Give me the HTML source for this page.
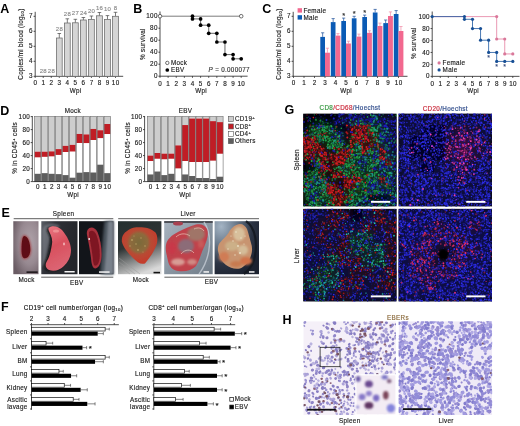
<!DOCTYPE html>
<html><head><meta charset="utf-8"><style>
html,body{margin:0;padding:0;background:#fff;}
svg{display:block;}
body{-webkit-font-smoothing:antialiased;}
.nolcd{will-change:transform;}
text{font-family:"Liberation Sans", sans-serif;}
</style></head><body>
<svg class="nolcd" width="520" height="426" viewBox="0 0 520 426" font-family='"Liberation Sans", sans-serif'>
<rect width="520" height="426" fill="#fff"/>
<text x="0.30" y="13.20" font-size="12.5" text-anchor="start" fill="#000" font-weight="bold">A</text>
<line x1="35.20" y1="11.80" x2="35.20" y2="76.30" stroke="#222" stroke-width="0.8"/>
<line x1="35.20" y1="76.30" x2="123.20" y2="76.30" stroke="#222" stroke-width="0.8"/>
<line x1="33.60" y1="76.30" x2="35.20" y2="76.30" stroke="#222" stroke-width="0.8"/>
<text x="32.90" y="78.40" font-size="6.3" text-anchor="end" fill="#222" font-weight="normal" stroke="#222" stroke-width="0.15" letter-spacing="0.3">3</text>
<line x1="33.60" y1="61.30" x2="35.20" y2="61.30" stroke="#222" stroke-width="0.8"/>
<text x="32.90" y="63.40" font-size="6.3" text-anchor="end" fill="#222" font-weight="normal" stroke="#222" stroke-width="0.15" letter-spacing="0.3">4</text>
<line x1="33.60" y1="46.30" x2="35.20" y2="46.30" stroke="#222" stroke-width="0.8"/>
<text x="32.90" y="48.40" font-size="6.3" text-anchor="end" fill="#222" font-weight="normal" stroke="#222" stroke-width="0.15" letter-spacing="0.3">5</text>
<line x1="33.60" y1="31.30" x2="35.20" y2="31.30" stroke="#222" stroke-width="0.8"/>
<text x="32.90" y="33.40" font-size="6.3" text-anchor="end" fill="#222" font-weight="normal" stroke="#222" stroke-width="0.15" letter-spacing="0.3">6</text>
<line x1="33.60" y1="16.30" x2="35.20" y2="16.30" stroke="#222" stroke-width="0.8"/>
<text x="32.90" y="18.40" font-size="6.3" text-anchor="end" fill="#222" font-weight="normal" stroke="#222" stroke-width="0.15" letter-spacing="0.3">7</text>
<line x1="35.20" y1="76.30" x2="35.20" y2="77.90" stroke="#222" stroke-width="0.8"/>
<text x="35.35" y="85.40" font-size="6.3" text-anchor="middle" fill="#222" font-weight="normal" stroke="#222" stroke-width="0.15" letter-spacing="0.3">0</text>
<line x1="43.23" y1="76.30" x2="43.23" y2="77.90" stroke="#222" stroke-width="0.8"/>
<text x="43.38" y="85.40" font-size="6.3" text-anchor="middle" fill="#222" font-weight="normal" stroke="#222" stroke-width="0.15" letter-spacing="0.3">1</text>
<line x1="51.26" y1="76.30" x2="51.26" y2="77.90" stroke="#222" stroke-width="0.8"/>
<text x="51.41" y="85.40" font-size="6.3" text-anchor="middle" fill="#222" font-weight="normal" stroke="#222" stroke-width="0.15" letter-spacing="0.3">2</text>
<line x1="59.29" y1="76.30" x2="59.29" y2="77.90" stroke="#222" stroke-width="0.8"/>
<text x="59.44" y="85.40" font-size="6.3" text-anchor="middle" fill="#222" font-weight="normal" stroke="#222" stroke-width="0.15" letter-spacing="0.3">3</text>
<line x1="67.32" y1="76.30" x2="67.32" y2="77.90" stroke="#222" stroke-width="0.8"/>
<text x="67.47" y="85.40" font-size="6.3" text-anchor="middle" fill="#222" font-weight="normal" stroke="#222" stroke-width="0.15" letter-spacing="0.3">4</text>
<line x1="75.35" y1="76.30" x2="75.35" y2="77.90" stroke="#222" stroke-width="0.8"/>
<text x="75.50" y="85.40" font-size="6.3" text-anchor="middle" fill="#222" font-weight="normal" stroke="#222" stroke-width="0.15" letter-spacing="0.3">5</text>
<line x1="83.38" y1="76.30" x2="83.38" y2="77.90" stroke="#222" stroke-width="0.8"/>
<text x="83.53" y="85.40" font-size="6.3" text-anchor="middle" fill="#222" font-weight="normal" stroke="#222" stroke-width="0.15" letter-spacing="0.3">6</text>
<line x1="91.41" y1="76.30" x2="91.41" y2="77.90" stroke="#222" stroke-width="0.8"/>
<text x="91.56" y="85.40" font-size="6.3" text-anchor="middle" fill="#222" font-weight="normal" stroke="#222" stroke-width="0.15" letter-spacing="0.3">7</text>
<line x1="99.44" y1="76.30" x2="99.44" y2="77.90" stroke="#222" stroke-width="0.8"/>
<text x="99.59" y="85.40" font-size="6.3" text-anchor="middle" fill="#222" font-weight="normal" stroke="#222" stroke-width="0.15" letter-spacing="0.3">8</text>
<line x1="107.47" y1="76.30" x2="107.47" y2="77.90" stroke="#222" stroke-width="0.8"/>
<text x="107.62" y="85.40" font-size="6.3" text-anchor="middle" fill="#222" font-weight="normal" stroke="#222" stroke-width="0.15" letter-spacing="0.3">9</text>
<line x1="115.50" y1="76.30" x2="115.50" y2="77.90" stroke="#222" stroke-width="0.8"/>
<text x="115.65" y="85.40" font-size="6.3" text-anchor="middle" fill="#222" font-weight="normal" stroke="#222" stroke-width="0.15" letter-spacing="0.3">10</text>
<text x="75.55" y="92.60" font-size="6.3" text-anchor="middle" fill="#222" font-weight="normal" stroke="#222" stroke-width="0.15" letter-spacing="0.3">Wpi</text>
<text x="23.20" y="44.05" font-size="6.3" text-anchor="middle" fill="#222" font-weight="normal" stroke="#222" stroke-width="0.15" letter-spacing="0.3" transform="rotate(-90 23.20 44.05)">Copies/ml blood (log<tspan font-size="4.3" dy="1">10</tspan><tspan dy="-1">)</tspan></text>
<line x1="59.29" y1="38.00" x2="59.29" y2="33.50" stroke="#444" stroke-width="0.7"/>
<line x1="57.49" y1="33.50" x2="61.09" y2="33.50" stroke="#444" stroke-width="0.7"/>
<rect x="56.39" y="38.00" width="5.80" height="38.30" fill="#d5d5d5" stroke="#6a6a6a" stroke-width="0.75"/>
<text x="59.44" y="31.10" font-size="6.0" text-anchor="middle" fill="#8c8c8c" font-weight="normal" stroke="#8c8c8c" stroke-width="0.15" letter-spacing="0.3">28</text>
<line x1="67.32" y1="23.00" x2="67.32" y2="18.80" stroke="#444" stroke-width="0.7"/>
<line x1="65.52" y1="18.80" x2="69.12" y2="18.80" stroke="#444" stroke-width="0.7"/>
<rect x="64.42" y="23.00" width="5.80" height="53.30" fill="#d5d5d5" stroke="#6a6a6a" stroke-width="0.75"/>
<text x="67.47" y="16.10" font-size="6.0" text-anchor="middle" fill="#8c8c8c" font-weight="normal" stroke="#8c8c8c" stroke-width="0.15" letter-spacing="0.3">28</text>
<line x1="75.35" y1="22.80" x2="75.35" y2="19.30" stroke="#444" stroke-width="0.7"/>
<line x1="73.55" y1="19.30" x2="77.15" y2="19.30" stroke="#444" stroke-width="0.7"/>
<rect x="72.45" y="22.80" width="5.80" height="53.50" fill="#d5d5d5" stroke="#6a6a6a" stroke-width="0.75"/>
<text x="75.50" y="15.10" font-size="6.0" text-anchor="middle" fill="#8c8c8c" font-weight="normal" stroke="#8c8c8c" stroke-width="0.15" letter-spacing="0.3">27</text>
<line x1="83.38" y1="20.00" x2="83.38" y2="17.50" stroke="#444" stroke-width="0.7"/>
<line x1="81.58" y1="17.50" x2="85.18" y2="17.50" stroke="#444" stroke-width="0.7"/>
<rect x="80.48" y="20.00" width="5.80" height="56.30" fill="#d5d5d5" stroke="#6a6a6a" stroke-width="0.75"/>
<text x="83.53" y="14.60" font-size="6.0" text-anchor="middle" fill="#8c8c8c" font-weight="normal" stroke="#8c8c8c" stroke-width="0.15" letter-spacing="0.3">24</text>
<line x1="91.41" y1="19.40" x2="91.41" y2="16.00" stroke="#444" stroke-width="0.7"/>
<line x1="89.61" y1="16.00" x2="93.21" y2="16.00" stroke="#444" stroke-width="0.7"/>
<rect x="88.51" y="19.40" width="5.80" height="56.90" fill="#d5d5d5" stroke="#6a6a6a" stroke-width="0.75"/>
<text x="91.56" y="13.10" font-size="6.0" text-anchor="middle" fill="#8c8c8c" font-weight="normal" stroke="#8c8c8c" stroke-width="0.15" letter-spacing="0.3">20</text>
<line x1="99.44" y1="15.80" x2="99.44" y2="12.50" stroke="#444" stroke-width="0.7"/>
<line x1="97.64" y1="12.50" x2="101.24" y2="12.50" stroke="#444" stroke-width="0.7"/>
<rect x="96.54" y="15.80" width="5.80" height="60.50" fill="#d5d5d5" stroke="#6a6a6a" stroke-width="0.75"/>
<text x="99.59" y="10.30" font-size="6.0" text-anchor="middle" fill="#8c8c8c" font-weight="normal" stroke="#8c8c8c" stroke-width="0.15" letter-spacing="0.3">16</text>
<line x1="107.47" y1="19.40" x2="107.47" y2="15.60" stroke="#444" stroke-width="0.7"/>
<line x1="105.67" y1="15.60" x2="109.27" y2="15.60" stroke="#444" stroke-width="0.7"/>
<rect x="104.57" y="19.40" width="5.80" height="56.90" fill="#d5d5d5" stroke="#6a6a6a" stroke-width="0.75"/>
<text x="107.62" y="11.10" font-size="6.0" text-anchor="middle" fill="#8c8c8c" font-weight="normal" stroke="#8c8c8c" stroke-width="0.15" letter-spacing="0.3">10</text>
<line x1="115.50" y1="16.30" x2="115.50" y2="12.30" stroke="#444" stroke-width="0.7"/>
<line x1="113.70" y1="12.30" x2="117.30" y2="12.30" stroke="#444" stroke-width="0.7"/>
<rect x="112.60" y="16.30" width="5.80" height="60.00" fill="#d5d5d5" stroke="#6a6a6a" stroke-width="0.75"/>
<text x="115.65" y="10.30" font-size="6.0" text-anchor="middle" fill="#8c8c8c" font-weight="normal" stroke="#8c8c8c" stroke-width="0.15" letter-spacing="0.3">8</text>
<text x="43.38" y="73.40" font-size="6.0" text-anchor="middle" fill="#8c8c8c" font-weight="normal" stroke="#8c8c8c" stroke-width="0.15" letter-spacing="0.3">28</text>
<text x="51.41" y="73.40" font-size="6.0" text-anchor="middle" fill="#8c8c8c" font-weight="normal" stroke="#8c8c8c" stroke-width="0.15" letter-spacing="0.3">28</text>
<text x="133.30" y="13.20" font-size="12.5" text-anchor="start" fill="#000" font-weight="bold">B</text>
<line x1="160.00" y1="11.50" x2="160.00" y2="76.20" stroke="#222" stroke-width="0.8"/>
<line x1="160.00" y1="76.20" x2="247.60" y2="76.20" stroke="#222" stroke-width="0.8"/>
<line x1="158.40" y1="76.20" x2="160.00" y2="76.20" stroke="#222" stroke-width="0.8"/>
<text x="157.70" y="78.30" font-size="6.3" text-anchor="end" fill="#222" font-weight="normal" stroke="#222" stroke-width="0.15" letter-spacing="0.3">0</text>
<line x1="158.40" y1="64.20" x2="160.00" y2="64.20" stroke="#222" stroke-width="0.8"/>
<text x="157.70" y="66.30" font-size="6.3" text-anchor="end" fill="#222" font-weight="normal" stroke="#222" stroke-width="0.15" letter-spacing="0.3">20</text>
<line x1="158.40" y1="52.20" x2="160.00" y2="52.20" stroke="#222" stroke-width="0.8"/>
<text x="157.70" y="54.30" font-size="6.3" text-anchor="end" fill="#222" font-weight="normal" stroke="#222" stroke-width="0.15" letter-spacing="0.3">40</text>
<line x1="158.40" y1="40.20" x2="160.00" y2="40.20" stroke="#222" stroke-width="0.8"/>
<text x="157.70" y="42.30" font-size="6.3" text-anchor="end" fill="#222" font-weight="normal" stroke="#222" stroke-width="0.15" letter-spacing="0.3">60</text>
<line x1="158.40" y1="28.20" x2="160.00" y2="28.20" stroke="#222" stroke-width="0.8"/>
<text x="157.70" y="30.30" font-size="6.3" text-anchor="end" fill="#222" font-weight="normal" stroke="#222" stroke-width="0.15" letter-spacing="0.3">80</text>
<line x1="158.40" y1="16.20" x2="160.00" y2="16.20" stroke="#222" stroke-width="0.8"/>
<text x="157.70" y="18.30" font-size="6.3" text-anchor="end" fill="#222" font-weight="normal" stroke="#222" stroke-width="0.15" letter-spacing="0.3">100</text>
<line x1="160.00" y1="76.20" x2="160.00" y2="77.80" stroke="#222" stroke-width="0.8"/>
<text x="160.15" y="85.60" font-size="6.3" text-anchor="middle" fill="#222" font-weight="normal" stroke="#222" stroke-width="0.15" letter-spacing="0.3">0</text>
<line x1="168.12" y1="76.20" x2="168.12" y2="77.80" stroke="#222" stroke-width="0.8"/>
<text x="168.27" y="85.60" font-size="6.3" text-anchor="middle" fill="#222" font-weight="normal" stroke="#222" stroke-width="0.15" letter-spacing="0.3">1</text>
<line x1="176.24" y1="76.20" x2="176.24" y2="77.80" stroke="#222" stroke-width="0.8"/>
<text x="176.39" y="85.60" font-size="6.3" text-anchor="middle" fill="#222" font-weight="normal" stroke="#222" stroke-width="0.15" letter-spacing="0.3">2</text>
<line x1="184.36" y1="76.20" x2="184.36" y2="77.80" stroke="#222" stroke-width="0.8"/>
<text x="184.51" y="85.60" font-size="6.3" text-anchor="middle" fill="#222" font-weight="normal" stroke="#222" stroke-width="0.15" letter-spacing="0.3">3</text>
<line x1="192.48" y1="76.20" x2="192.48" y2="77.80" stroke="#222" stroke-width="0.8"/>
<text x="192.63" y="85.60" font-size="6.3" text-anchor="middle" fill="#222" font-weight="normal" stroke="#222" stroke-width="0.15" letter-spacing="0.3">4</text>
<line x1="200.60" y1="76.20" x2="200.60" y2="77.80" stroke="#222" stroke-width="0.8"/>
<text x="200.75" y="85.60" font-size="6.3" text-anchor="middle" fill="#222" font-weight="normal" stroke="#222" stroke-width="0.15" letter-spacing="0.3">5</text>
<line x1="208.72" y1="76.20" x2="208.72" y2="77.80" stroke="#222" stroke-width="0.8"/>
<text x="208.87" y="85.60" font-size="6.3" text-anchor="middle" fill="#222" font-weight="normal" stroke="#222" stroke-width="0.15" letter-spacing="0.3">6</text>
<line x1="216.84" y1="76.20" x2="216.84" y2="77.80" stroke="#222" stroke-width="0.8"/>
<text x="216.99" y="85.60" font-size="6.3" text-anchor="middle" fill="#222" font-weight="normal" stroke="#222" stroke-width="0.15" letter-spacing="0.3">7</text>
<line x1="224.96" y1="76.20" x2="224.96" y2="77.80" stroke="#222" stroke-width="0.8"/>
<text x="225.11" y="85.60" font-size="6.3" text-anchor="middle" fill="#222" font-weight="normal" stroke="#222" stroke-width="0.15" letter-spacing="0.3">8</text>
<line x1="233.08" y1="76.20" x2="233.08" y2="77.80" stroke="#222" stroke-width="0.8"/>
<text x="233.23" y="85.60" font-size="6.3" text-anchor="middle" fill="#222" font-weight="normal" stroke="#222" stroke-width="0.15" letter-spacing="0.3">9</text>
<line x1="241.20" y1="76.20" x2="241.20" y2="77.80" stroke="#222" stroke-width="0.8"/>
<text x="241.35" y="85.60" font-size="6.3" text-anchor="middle" fill="#222" font-weight="normal" stroke="#222" stroke-width="0.15" letter-spacing="0.3">10</text>
<text x="201.15" y="92.80" font-size="6.3" text-anchor="middle" fill="#222" font-weight="normal" stroke="#222" stroke-width="0.15" letter-spacing="0.3">Wpi</text>
<text x="144.80" y="44.05" font-size="6.3" text-anchor="middle" fill="#222" font-weight="normal" stroke="#222" stroke-width="0.15" letter-spacing="0.3" transform="rotate(-90 144.80 44.05)">% survival</text>
<line x1="160.00" y1="16.20" x2="241.20" y2="16.20" stroke="#444" stroke-width="0.7"/>
<circle cx="160.00" cy="16.20" r="1.80" fill="#fff" stroke="#333" stroke-width="0.7"/>
<circle cx="241.20" cy="16.20" r="1.80" fill="#fff" stroke="#333" stroke-width="0.7"/>
<polyline points="192.48,16.20 192.48,18.90 200.60,18.90 200.60,25.20 208.72,25.20 208.72,33.30 216.84,33.30 216.84,42.00 224.96,42.00 224.96,54.60 233.08,54.60 233.08,58.80 241.20,58.80" fill="none" stroke="#555" stroke-width="0.9"/>
<circle cx="192.48" cy="16.20" r="1.85" fill="#000" stroke="none" stroke-width="0.6"/>
<circle cx="192.48" cy="18.90" r="1.85" fill="#000" stroke="none" stroke-width="0.6"/>
<circle cx="200.60" cy="18.90" r="1.85" fill="#000" stroke="none" stroke-width="0.6"/>
<circle cx="200.60" cy="25.20" r="1.85" fill="#000" stroke="none" stroke-width="0.6"/>
<circle cx="208.72" cy="25.20" r="1.85" fill="#000" stroke="none" stroke-width="0.6"/>
<circle cx="208.72" cy="33.30" r="1.85" fill="#000" stroke="none" stroke-width="0.6"/>
<circle cx="216.84" cy="33.30" r="1.85" fill="#000" stroke="none" stroke-width="0.6"/>
<circle cx="216.84" cy="42.00" r="1.85" fill="#000" stroke="none" stroke-width="0.6"/>
<circle cx="224.96" cy="42.00" r="1.85" fill="#000" stroke="none" stroke-width="0.6"/>
<circle cx="224.96" cy="54.60" r="1.85" fill="#000" stroke="none" stroke-width="0.6"/>
<circle cx="233.08" cy="54.60" r="1.85" fill="#000" stroke="none" stroke-width="0.6"/>
<circle cx="233.08" cy="58.80" r="1.85" fill="#000" stroke="none" stroke-width="0.6"/>
<circle cx="241.20" cy="58.80" r="1.85" fill="#000" stroke="none" stroke-width="0.6"/>
<circle cx="167.30" cy="62.90" r="1.70" fill="#fff" stroke="#333" stroke-width="0.7"/>
<text x="171.00" y="65.10" font-size="6.3" text-anchor="start" fill="#222" font-weight="normal" stroke="#222" stroke-width="0.15" letter-spacing="0.3">Mock</text>
<circle cx="167.30" cy="70.00" r="1.85" fill="#000" stroke="none" stroke-width="0.6"/>
<text x="171.00" y="72.20" font-size="6.3" text-anchor="start" fill="#222" font-weight="normal" stroke="#222" stroke-width="0.15" letter-spacing="0.3">EBV</text>
<text x="208.60" y="72.30" font-size="6.3" text-anchor="start" fill="#333" font-weight="normal" stroke="#333" stroke-width="0.15" letter-spacing="0.3"><tspan font-style="italic">P</tspan> = 0.000077</text>
<text x="262.20" y="13.20" font-size="12.5" text-anchor="start" fill="#000" font-weight="bold">C</text>
<line x1="293.20" y1="11.80" x2="293.20" y2="76.30" stroke="#222" stroke-width="0.8"/>
<line x1="293.20" y1="76.30" x2="407.50" y2="76.30" stroke="#222" stroke-width="0.8"/>
<line x1="291.60" y1="76.30" x2="293.20" y2="76.30" stroke="#222" stroke-width="0.8"/>
<text x="290.90" y="78.40" font-size="6.3" text-anchor="end" fill="#222" font-weight="normal" stroke="#222" stroke-width="0.15" letter-spacing="0.3">3</text>
<line x1="291.60" y1="61.30" x2="293.20" y2="61.30" stroke="#222" stroke-width="0.8"/>
<text x="290.90" y="63.40" font-size="6.3" text-anchor="end" fill="#222" font-weight="normal" stroke="#222" stroke-width="0.15" letter-spacing="0.3">4</text>
<line x1="291.60" y1="46.30" x2="293.20" y2="46.30" stroke="#222" stroke-width="0.8"/>
<text x="290.90" y="48.40" font-size="6.3" text-anchor="end" fill="#222" font-weight="normal" stroke="#222" stroke-width="0.15" letter-spacing="0.3">5</text>
<line x1="291.60" y1="31.30" x2="293.20" y2="31.30" stroke="#222" stroke-width="0.8"/>
<text x="290.90" y="33.40" font-size="6.3" text-anchor="end" fill="#222" font-weight="normal" stroke="#222" stroke-width="0.15" letter-spacing="0.3">6</text>
<line x1="291.60" y1="16.30" x2="293.20" y2="16.30" stroke="#222" stroke-width="0.8"/>
<text x="290.90" y="18.40" font-size="6.3" text-anchor="end" fill="#222" font-weight="normal" stroke="#222" stroke-width="0.15" letter-spacing="0.3">7</text>
<line x1="293.50" y1="76.30" x2="293.50" y2="77.90" stroke="#222" stroke-width="0.8"/>
<text x="293.65" y="85.40" font-size="6.3" text-anchor="middle" fill="#222" font-weight="normal" stroke="#222" stroke-width="0.15" letter-spacing="0.3">0</text>
<line x1="304.00" y1="76.30" x2="304.00" y2="77.90" stroke="#222" stroke-width="0.8"/>
<text x="304.15" y="85.40" font-size="6.3" text-anchor="middle" fill="#222" font-weight="normal" stroke="#222" stroke-width="0.15" letter-spacing="0.3">1</text>
<line x1="314.50" y1="76.30" x2="314.50" y2="77.90" stroke="#222" stroke-width="0.8"/>
<text x="314.65" y="85.40" font-size="6.3" text-anchor="middle" fill="#222" font-weight="normal" stroke="#222" stroke-width="0.15" letter-spacing="0.3">2</text>
<line x1="325.00" y1="76.30" x2="325.00" y2="77.90" stroke="#222" stroke-width="0.8"/>
<text x="325.15" y="85.40" font-size="6.3" text-anchor="middle" fill="#222" font-weight="normal" stroke="#222" stroke-width="0.15" letter-spacing="0.3">3</text>
<line x1="335.50" y1="76.30" x2="335.50" y2="77.90" stroke="#222" stroke-width="0.8"/>
<text x="335.65" y="85.40" font-size="6.3" text-anchor="middle" fill="#222" font-weight="normal" stroke="#222" stroke-width="0.15" letter-spacing="0.3">4</text>
<line x1="346.00" y1="76.30" x2="346.00" y2="77.90" stroke="#222" stroke-width="0.8"/>
<text x="346.15" y="85.40" font-size="6.3" text-anchor="middle" fill="#222" font-weight="normal" stroke="#222" stroke-width="0.15" letter-spacing="0.3">5</text>
<line x1="356.50" y1="76.30" x2="356.50" y2="77.90" stroke="#222" stroke-width="0.8"/>
<text x="356.65" y="85.40" font-size="6.3" text-anchor="middle" fill="#222" font-weight="normal" stroke="#222" stroke-width="0.15" letter-spacing="0.3">6</text>
<line x1="367.00" y1="76.30" x2="367.00" y2="77.90" stroke="#222" stroke-width="0.8"/>
<text x="367.15" y="85.40" font-size="6.3" text-anchor="middle" fill="#222" font-weight="normal" stroke="#222" stroke-width="0.15" letter-spacing="0.3">7</text>
<line x1="377.50" y1="76.30" x2="377.50" y2="77.90" stroke="#222" stroke-width="0.8"/>
<text x="377.65" y="85.40" font-size="6.3" text-anchor="middle" fill="#222" font-weight="normal" stroke="#222" stroke-width="0.15" letter-spacing="0.3">8</text>
<line x1="388.00" y1="76.30" x2="388.00" y2="77.90" stroke="#222" stroke-width="0.8"/>
<text x="388.15" y="85.40" font-size="6.3" text-anchor="middle" fill="#222" font-weight="normal" stroke="#222" stroke-width="0.15" letter-spacing="0.3">9</text>
<line x1="398.50" y1="76.30" x2="398.50" y2="77.90" stroke="#222" stroke-width="0.8"/>
<text x="398.65" y="85.40" font-size="6.3" text-anchor="middle" fill="#222" font-weight="normal" stroke="#222" stroke-width="0.15" letter-spacing="0.3">10</text>
<text x="346.15" y="92.60" font-size="6.3" text-anchor="middle" fill="#222" font-weight="normal" stroke="#222" stroke-width="0.15" letter-spacing="0.3">Wpi</text>
<text x="281.00" y="44.05" font-size="6.3" text-anchor="middle" fill="#222" font-weight="normal" stroke="#222" stroke-width="0.15" letter-spacing="0.3" transform="rotate(-90 281.00 44.05)">Copies/ml blood (log<tspan font-size="4.3" dy="1">10</tspan><tspan dy="-1">)</tspan></text>
<line x1="322.65" y1="36.90" x2="322.65" y2="32.80" stroke="#1a4d99" stroke-width="0.7"/>
<line x1="321.05" y1="32.80" x2="324.25" y2="32.80" stroke="#1a4d99" stroke-width="0.7"/>
<line x1="327.45" y1="52.70" x2="327.45" y2="48.20" stroke="#f08aa5" stroke-width="0.7"/>
<line x1="325.85" y1="48.20" x2="329.05" y2="48.20" stroke="#f08aa5" stroke-width="0.7"/>
<rect x="320.30" y="36.90" width="4.70" height="39.40" fill="#0b5bb5" stroke="none" stroke-width="0.7"/>
<rect x="325.00" y="52.70" width="4.90" height="23.60" fill="#f2688f" stroke="none" stroke-width="0.7"/>
<line x1="333.15" y1="22.10" x2="333.15" y2="18.60" stroke="#1a4d99" stroke-width="0.7"/>
<line x1="331.55" y1="18.60" x2="334.75" y2="18.60" stroke="#1a4d99" stroke-width="0.7"/>
<line x1="337.95" y1="35.60" x2="337.95" y2="33.60" stroke="#f08aa5" stroke-width="0.7"/>
<line x1="336.35" y1="33.60" x2="339.55" y2="33.60" stroke="#f08aa5" stroke-width="0.7"/>
<rect x="330.80" y="22.10" width="4.70" height="54.20" fill="#0b5bb5" stroke="none" stroke-width="0.7"/>
<rect x="335.50" y="35.60" width="4.90" height="40.70" fill="#f2688f" stroke="none" stroke-width="0.7"/>
<line x1="343.65" y1="21.00" x2="343.65" y2="18.10" stroke="#1a4d99" stroke-width="0.7"/>
<line x1="342.05" y1="18.10" x2="345.25" y2="18.10" stroke="#1a4d99" stroke-width="0.7"/>
<line x1="348.45" y1="43.50" x2="348.45" y2="41.20" stroke="#f08aa5" stroke-width="0.7"/>
<line x1="346.85" y1="41.20" x2="350.05" y2="41.20" stroke="#f08aa5" stroke-width="0.7"/>
<rect x="341.30" y="21.00" width="4.70" height="55.30" fill="#0b5bb5" stroke="none" stroke-width="0.7"/>
<rect x="346.00" y="43.50" width="4.90" height="32.80" fill="#f2688f" stroke="none" stroke-width="0.7"/>
<line x1="354.15" y1="18.30" x2="354.15" y2="16.30" stroke="#1a4d99" stroke-width="0.7"/>
<line x1="352.55" y1="16.30" x2="355.75" y2="16.30" stroke="#1a4d99" stroke-width="0.7"/>
<line x1="358.95" y1="36.60" x2="358.95" y2="34.10" stroke="#f08aa5" stroke-width="0.7"/>
<line x1="357.35" y1="34.10" x2="360.55" y2="34.10" stroke="#f08aa5" stroke-width="0.7"/>
<rect x="351.80" y="18.30" width="4.70" height="58.00" fill="#0b5bb5" stroke="none" stroke-width="0.7"/>
<rect x="356.50" y="36.60" width="4.90" height="39.70" fill="#f2688f" stroke="none" stroke-width="0.7"/>
<line x1="364.65" y1="17.00" x2="364.65" y2="15.10" stroke="#1a4d99" stroke-width="0.7"/>
<line x1="363.05" y1="15.10" x2="366.25" y2="15.10" stroke="#1a4d99" stroke-width="0.7"/>
<line x1="369.45" y1="32.80" x2="369.45" y2="30.80" stroke="#f08aa5" stroke-width="0.7"/>
<line x1="367.85" y1="30.80" x2="371.05" y2="30.80" stroke="#f08aa5" stroke-width="0.7"/>
<rect x="362.30" y="17.00" width="4.70" height="59.30" fill="#0b5bb5" stroke="none" stroke-width="0.7"/>
<rect x="367.00" y="32.80" width="4.90" height="43.50" fill="#f2688f" stroke="none" stroke-width="0.7"/>
<line x1="375.15" y1="12.50" x2="375.15" y2="9.40" stroke="#1a4d99" stroke-width="0.7"/>
<line x1="373.55" y1="9.40" x2="376.75" y2="9.40" stroke="#1a4d99" stroke-width="0.7"/>
<line x1="379.95" y1="26.00" x2="379.95" y2="23.10" stroke="#f08aa5" stroke-width="0.7"/>
<line x1="378.35" y1="23.10" x2="381.55" y2="23.10" stroke="#f08aa5" stroke-width="0.7"/>
<rect x="372.80" y="12.50" width="4.70" height="63.80" fill="#0b5bb5" stroke="none" stroke-width="0.7"/>
<rect x="377.50" y="26.00" width="4.90" height="50.30" fill="#f2688f" stroke="none" stroke-width="0.7"/>
<line x1="385.65" y1="23.10" x2="385.65" y2="20.00" stroke="#1a4d99" stroke-width="0.7"/>
<line x1="384.05" y1="20.00" x2="387.25" y2="20.00" stroke="#1a4d99" stroke-width="0.7"/>
<line x1="390.45" y1="16.00" x2="390.45" y2="11.90" stroke="#f08aa5" stroke-width="0.7"/>
<line x1="388.85" y1="11.90" x2="392.05" y2="11.90" stroke="#f08aa5" stroke-width="0.7"/>
<rect x="383.30" y="23.10" width="4.70" height="53.20" fill="#0b5bb5" stroke="none" stroke-width="0.7"/>
<rect x="388.00" y="16.00" width="4.90" height="60.30" fill="#f2688f" stroke="none" stroke-width="0.7"/>
<line x1="396.15" y1="14.00" x2="396.15" y2="10.60" stroke="#1a4d99" stroke-width="0.7"/>
<line x1="394.55" y1="10.60" x2="397.75" y2="10.60" stroke="#1a4d99" stroke-width="0.7"/>
<line x1="400.95" y1="31.00" x2="400.95" y2="26.50" stroke="#f08aa5" stroke-width="0.7"/>
<line x1="399.35" y1="26.50" x2="402.55" y2="26.50" stroke="#f08aa5" stroke-width="0.7"/>
<rect x="393.80" y="14.00" width="4.70" height="62.30" fill="#0b5bb5" stroke="none" stroke-width="0.7"/>
<rect x="398.50" y="31.00" width="4.90" height="45.30" fill="#f2688f" stroke="none" stroke-width="0.7"/>
<text x="343.65" y="18.00" font-size="7.5" text-anchor="middle" fill="#333" font-weight="normal" stroke="#333" stroke-width="0.15">*</text>
<text x="354.15" y="15.80" font-size="7.5" text-anchor="middle" fill="#333" font-weight="normal" stroke="#333" stroke-width="0.15">*</text>
<text x="364.65" y="15.30" font-size="7.5" text-anchor="middle" fill="#333" font-weight="normal" stroke="#333" stroke-width="0.15">*</text>
<rect x="297.60" y="8.20" width="4.40" height="4.40" fill="#f2688f" stroke="none" stroke-width="0.7"/>
<text x="303.40" y="12.60" font-size="6.3" text-anchor="start" fill="#222" font-weight="normal" stroke="#222" stroke-width="0.15" letter-spacing="0.3">Female</text>
<rect x="297.60" y="15.20" width="4.40" height="4.40" fill="#0b5bb5" stroke="none" stroke-width="0.7"/>
<text x="303.40" y="19.60" font-size="6.3" text-anchor="start" fill="#222" font-weight="normal" stroke="#222" stroke-width="0.15" letter-spacing="0.3">Male</text>
<line x1="432.20" y1="11.50" x2="432.20" y2="76.35" stroke="#222" stroke-width="0.8"/>
<line x1="432.20" y1="76.35" x2="519.50" y2="76.35" stroke="#222" stroke-width="0.8"/>
<line x1="430.60" y1="76.35" x2="432.20" y2="76.35" stroke="#222" stroke-width="0.8"/>
<text x="429.90" y="78.45" font-size="6.3" text-anchor="end" fill="#222" font-weight="normal" stroke="#222" stroke-width="0.15" letter-spacing="0.3">0</text>
<line x1="430.60" y1="64.40" x2="432.20" y2="64.40" stroke="#222" stroke-width="0.8"/>
<text x="429.90" y="66.50" font-size="6.3" text-anchor="end" fill="#222" font-weight="normal" stroke="#222" stroke-width="0.15" letter-spacing="0.3">20</text>
<line x1="430.60" y1="52.45" x2="432.20" y2="52.45" stroke="#222" stroke-width="0.8"/>
<text x="429.90" y="54.55" font-size="6.3" text-anchor="end" fill="#222" font-weight="normal" stroke="#222" stroke-width="0.15" letter-spacing="0.3">40</text>
<line x1="430.60" y1="40.50" x2="432.20" y2="40.50" stroke="#222" stroke-width="0.8"/>
<text x="429.90" y="42.60" font-size="6.3" text-anchor="end" fill="#222" font-weight="normal" stroke="#222" stroke-width="0.15" letter-spacing="0.3">60</text>
<line x1="430.60" y1="28.55" x2="432.20" y2="28.55" stroke="#222" stroke-width="0.8"/>
<text x="429.90" y="30.65" font-size="6.3" text-anchor="end" fill="#222" font-weight="normal" stroke="#222" stroke-width="0.15" letter-spacing="0.3">80</text>
<line x1="430.60" y1="16.60" x2="432.20" y2="16.60" stroke="#222" stroke-width="0.8"/>
<text x="429.90" y="18.70" font-size="6.3" text-anchor="end" fill="#222" font-weight="normal" stroke="#222" stroke-width="0.15" letter-spacing="0.3">100</text>
<line x1="432.20" y1="76.35" x2="432.20" y2="77.90" stroke="#222" stroke-width="0.8"/>
<text x="432.35" y="85.70" font-size="6.3" text-anchor="middle" fill="#222" font-weight="normal" stroke="#222" stroke-width="0.15" letter-spacing="0.3">0</text>
<line x1="440.26" y1="76.35" x2="440.26" y2="77.90" stroke="#222" stroke-width="0.8"/>
<text x="440.41" y="85.70" font-size="6.3" text-anchor="middle" fill="#222" font-weight="normal" stroke="#222" stroke-width="0.15" letter-spacing="0.3">1</text>
<line x1="448.32" y1="76.35" x2="448.32" y2="77.90" stroke="#222" stroke-width="0.8"/>
<text x="448.47" y="85.70" font-size="6.3" text-anchor="middle" fill="#222" font-weight="normal" stroke="#222" stroke-width="0.15" letter-spacing="0.3">2</text>
<line x1="456.38" y1="76.35" x2="456.38" y2="77.90" stroke="#222" stroke-width="0.8"/>
<text x="456.53" y="85.70" font-size="6.3" text-anchor="middle" fill="#222" font-weight="normal" stroke="#222" stroke-width="0.15" letter-spacing="0.3">3</text>
<line x1="464.44" y1="76.35" x2="464.44" y2="77.90" stroke="#222" stroke-width="0.8"/>
<text x="464.59" y="85.70" font-size="6.3" text-anchor="middle" fill="#222" font-weight="normal" stroke="#222" stroke-width="0.15" letter-spacing="0.3">4</text>
<line x1="472.50" y1="76.35" x2="472.50" y2="77.90" stroke="#222" stroke-width="0.8"/>
<text x="472.65" y="85.70" font-size="6.3" text-anchor="middle" fill="#222" font-weight="normal" stroke="#222" stroke-width="0.15" letter-spacing="0.3">5</text>
<line x1="480.56" y1="76.35" x2="480.56" y2="77.90" stroke="#222" stroke-width="0.8"/>
<text x="480.71" y="85.70" font-size="6.3" text-anchor="middle" fill="#222" font-weight="normal" stroke="#222" stroke-width="0.15" letter-spacing="0.3">6</text>
<line x1="488.62" y1="76.35" x2="488.62" y2="77.90" stroke="#222" stroke-width="0.8"/>
<text x="488.77" y="85.70" font-size="6.3" text-anchor="middle" fill="#222" font-weight="normal" stroke="#222" stroke-width="0.15" letter-spacing="0.3">7</text>
<line x1="496.68" y1="76.35" x2="496.68" y2="77.90" stroke="#222" stroke-width="0.8"/>
<text x="496.83" y="85.70" font-size="6.3" text-anchor="middle" fill="#222" font-weight="normal" stroke="#222" stroke-width="0.15" letter-spacing="0.3">8</text>
<line x1="504.74" y1="76.35" x2="504.74" y2="77.90" stroke="#222" stroke-width="0.8"/>
<text x="504.89" y="85.70" font-size="6.3" text-anchor="middle" fill="#222" font-weight="normal" stroke="#222" stroke-width="0.15" letter-spacing="0.3">9</text>
<line x1="512.80" y1="76.35" x2="512.80" y2="77.90" stroke="#222" stroke-width="0.8"/>
<text x="512.95" y="85.70" font-size="6.3" text-anchor="middle" fill="#222" font-weight="normal" stroke="#222" stroke-width="0.15" letter-spacing="0.3">10</text>
<text x="473.15" y="92.60" font-size="6.3" text-anchor="middle" fill="#222" font-weight="normal" stroke="#222" stroke-width="0.15" letter-spacing="0.3">Wpi</text>
<text x="416.20" y="43.05" font-size="6.3" text-anchor="middle" fill="#222" font-weight="normal" stroke="#222" stroke-width="0.15" letter-spacing="0.3" transform="rotate(-90 416.20 43.05)">% survival</text>
<polyline points="432.20,16.60 496.68,16.60 496.68,39.01 504.74,39.01 504.74,53.94 512.80,53.94" fill="none" stroke="#e57fa0" stroke-width="0.8"/>
<polyline points="432.20,16.60 464.44,16.60 464.44,19.29 472.50,19.29 472.50,28.55 480.56,28.55 480.56,40.20 488.62,40.20 488.62,52.45 496.68,52.45 496.68,61.41 504.74,61.41 512.80,61.41" fill="none" stroke="#1b57a0" stroke-width="0.8"/>
<circle cx="496.68" cy="16.60" r="1.60" fill="#d9789a" stroke="none" stroke-width="0.6"/>
<circle cx="496.68" cy="39.01" r="1.60" fill="#d9789a" stroke="none" stroke-width="0.6"/>
<circle cx="504.74" cy="39.01" r="1.60" fill="#d9789a" stroke="none" stroke-width="0.6"/>
<circle cx="504.74" cy="53.94" r="1.60" fill="#d9789a" stroke="none" stroke-width="0.6"/>
<circle cx="512.80" cy="53.94" r="1.60" fill="#d9789a" stroke="none" stroke-width="0.6"/>
<circle cx="432.20" cy="16.60" r="1.60" fill="#174f95" stroke="none" stroke-width="0.6"/>
<circle cx="464.44" cy="16.60" r="1.60" fill="#174f95" stroke="none" stroke-width="0.6"/>
<circle cx="464.44" cy="19.29" r="1.60" fill="#174f95" stroke="none" stroke-width="0.6"/>
<circle cx="472.50" cy="19.29" r="1.60" fill="#174f95" stroke="none" stroke-width="0.6"/>
<circle cx="472.50" cy="28.55" r="1.60" fill="#174f95" stroke="none" stroke-width="0.6"/>
<circle cx="480.56" cy="28.55" r="1.60" fill="#174f95" stroke="none" stroke-width="0.6"/>
<circle cx="480.56" cy="40.20" r="1.60" fill="#174f95" stroke="none" stroke-width="0.6"/>
<circle cx="488.62" cy="40.20" r="1.60" fill="#174f95" stroke="none" stroke-width="0.6"/>
<circle cx="488.62" cy="52.45" r="1.60" fill="#174f95" stroke="none" stroke-width="0.6"/>
<circle cx="496.68" cy="52.45" r="1.60" fill="#174f95" stroke="none" stroke-width="0.6"/>
<circle cx="496.68" cy="61.41" r="1.60" fill="#174f95" stroke="none" stroke-width="0.6"/>
<circle cx="504.74" cy="61.41" r="1.60" fill="#174f95" stroke="none" stroke-width="0.6"/>
<circle cx="512.80" cy="61.41" r="1.60" fill="#174f95" stroke="none" stroke-width="0.6"/>
<text x="488.62" y="60.30" font-size="7" text-anchor="middle" fill="#3a4f80" font-weight="normal" stroke="#3a4f80" stroke-width="0.15">*</text>
<text x="496.68" y="68.90" font-size="7" text-anchor="middle" fill="#3a4f80" font-weight="normal" stroke="#3a4f80" stroke-width="0.15">*</text>
<text x="504.74" y="68.90" font-size="7" text-anchor="middle" fill="#3a4f80" font-weight="normal" stroke="#3a4f80" stroke-width="0.15">*</text>
<circle cx="439.10" cy="62.90" r="1.60" fill="#d9789a" stroke="none" stroke-width="0.6"/>
<text x="442.60" y="65.10" font-size="6.3" text-anchor="start" fill="#222" font-weight="normal" stroke="#222" stroke-width="0.15" letter-spacing="0.3">Female</text>
<circle cx="439.10" cy="69.90" r="1.60" fill="#174f95" stroke="none" stroke-width="0.6"/>
<text x="442.60" y="72.10" font-size="6.3" text-anchor="start" fill="#222" font-weight="normal" stroke="#222" stroke-width="0.15" letter-spacing="0.3">Male</text>
<text x="0.30" y="114.60" font-size="12.5" text-anchor="start" fill="#000" font-weight="bold">D</text>
<line x1="32.30" y1="116.00" x2="32.30" y2="181.60" stroke="#222" stroke-width="0.8"/>
<line x1="30.70" y1="181.60" x2="32.30" y2="181.60" stroke="#222" stroke-width="0.8"/>
<text x="30.00" y="183.70" font-size="6.3" text-anchor="end" fill="#222" font-weight="normal" stroke="#222" stroke-width="0.15" letter-spacing="0.3">0</text>
<line x1="30.70" y1="168.60" x2="32.30" y2="168.60" stroke="#222" stroke-width="0.8"/>
<text x="30.00" y="170.70" font-size="6.3" text-anchor="end" fill="#222" font-weight="normal" stroke="#222" stroke-width="0.15" letter-spacing="0.3">20</text>
<line x1="30.70" y1="155.60" x2="32.30" y2="155.60" stroke="#222" stroke-width="0.8"/>
<text x="30.00" y="157.70" font-size="6.3" text-anchor="end" fill="#222" font-weight="normal" stroke="#222" stroke-width="0.15" letter-spacing="0.3">40</text>
<line x1="30.70" y1="142.60" x2="32.30" y2="142.60" stroke="#222" stroke-width="0.8"/>
<text x="30.00" y="144.70" font-size="6.3" text-anchor="end" fill="#222" font-weight="normal" stroke="#222" stroke-width="0.15" letter-spacing="0.3">60</text>
<line x1="30.70" y1="129.60" x2="32.30" y2="129.60" stroke="#222" stroke-width="0.8"/>
<text x="30.00" y="131.70" font-size="6.3" text-anchor="end" fill="#222" font-weight="normal" stroke="#222" stroke-width="0.15" letter-spacing="0.3">80</text>
<line x1="30.70" y1="116.60" x2="32.30" y2="116.60" stroke="#222" stroke-width="0.8"/>
<text x="30.00" y="118.70" font-size="6.3" text-anchor="end" fill="#222" font-weight="normal" stroke="#222" stroke-width="0.15" letter-spacing="0.3">100</text>
<rect x="34.60" y="116.60" width="6.30" height="35.10" fill="#cdcdcd" stroke="none" stroke-width="0.7"/>
<rect x="34.60" y="151.70" width="6.30" height="5.85" fill="#c01d25" stroke="none" stroke-width="0.7"/>
<rect x="34.60" y="157.55" width="6.30" height="16.25" fill="#ffffff" stroke="none" stroke-width="0.7"/>
<rect x="34.60" y="173.80" width="6.30" height="7.80" fill="#5e5e5e" stroke="none" stroke-width="0.7"/>
<rect x="34.60" y="116.60" width="6.30" height="65.00" fill="none" stroke="#6b6b6b" stroke-width="0.6"/>
<text x="37.90" y="189.30" font-size="6.3" text-anchor="middle" fill="#222" font-weight="normal" stroke="#222" stroke-width="0.15" letter-spacing="0.3">0</text>
<rect x="41.55" y="116.60" width="6.30" height="35.10" fill="#cdcdcd" stroke="none" stroke-width="0.7"/>
<rect x="41.55" y="151.70" width="6.30" height="5.20" fill="#c01d25" stroke="none" stroke-width="0.7"/>
<rect x="41.55" y="156.90" width="6.30" height="16.25" fill="#ffffff" stroke="none" stroke-width="0.7"/>
<rect x="41.55" y="173.15" width="6.30" height="8.45" fill="#5e5e5e" stroke="none" stroke-width="0.7"/>
<rect x="41.55" y="116.60" width="6.30" height="65.00" fill="none" stroke="#6b6b6b" stroke-width="0.6"/>
<text x="44.85" y="189.30" font-size="6.3" text-anchor="middle" fill="#222" font-weight="normal" stroke="#222" stroke-width="0.15" letter-spacing="0.3">1</text>
<rect x="48.50" y="116.60" width="6.30" height="34.78" fill="#cdcdcd" stroke="none" stroke-width="0.7"/>
<rect x="48.50" y="151.38" width="6.30" height="5.20" fill="#c01d25" stroke="none" stroke-width="0.7"/>
<rect x="48.50" y="156.57" width="6.30" height="17.22" fill="#ffffff" stroke="none" stroke-width="0.7"/>
<rect x="48.50" y="173.80" width="6.30" height="7.80" fill="#5e5e5e" stroke="none" stroke-width="0.7"/>
<rect x="48.50" y="116.60" width="6.30" height="65.00" fill="none" stroke="#6b6b6b" stroke-width="0.6"/>
<text x="51.80" y="189.30" font-size="6.3" text-anchor="middle" fill="#222" font-weight="normal" stroke="#222" stroke-width="0.15" letter-spacing="0.3">2</text>
<rect x="55.45" y="116.60" width="6.30" height="32.50" fill="#cdcdcd" stroke="none" stroke-width="0.7"/>
<rect x="55.45" y="149.10" width="6.30" height="5.85" fill="#c01d25" stroke="none" stroke-width="0.7"/>
<rect x="55.45" y="154.95" width="6.30" height="19.18" fill="#ffffff" stroke="none" stroke-width="0.7"/>
<rect x="55.45" y="174.12" width="6.30" height="7.47" fill="#5e5e5e" stroke="none" stroke-width="0.7"/>
<rect x="55.45" y="116.60" width="6.30" height="65.00" fill="none" stroke="#6b6b6b" stroke-width="0.6"/>
<text x="58.75" y="189.30" font-size="6.3" text-anchor="middle" fill="#222" font-weight="normal" stroke="#222" stroke-width="0.15" letter-spacing="0.3">3</text>
<rect x="62.40" y="116.60" width="6.30" height="29.25" fill="#cdcdcd" stroke="none" stroke-width="0.7"/>
<rect x="62.40" y="145.85" width="6.30" height="6.18" fill="#c01d25" stroke="none" stroke-width="0.7"/>
<rect x="62.40" y="152.03" width="6.30" height="23.07" fill="#ffffff" stroke="none" stroke-width="0.7"/>
<rect x="62.40" y="175.10" width="6.30" height="6.50" fill="#5e5e5e" stroke="none" stroke-width="0.7"/>
<rect x="62.40" y="116.60" width="6.30" height="65.00" fill="none" stroke="#6b6b6b" stroke-width="0.6"/>
<text x="65.70" y="189.30" font-size="6.3" text-anchor="middle" fill="#222" font-weight="normal" stroke="#222" stroke-width="0.15" letter-spacing="0.3">4</text>
<rect x="69.35" y="116.60" width="6.30" height="28.28" fill="#cdcdcd" stroke="none" stroke-width="0.7"/>
<rect x="69.35" y="144.88" width="6.30" height="6.82" fill="#c01d25" stroke="none" stroke-width="0.7"/>
<rect x="69.35" y="151.70" width="6.30" height="26.00" fill="#ffffff" stroke="none" stroke-width="0.7"/>
<rect x="69.35" y="177.70" width="6.30" height="3.90" fill="#5e5e5e" stroke="none" stroke-width="0.7"/>
<rect x="69.35" y="116.60" width="6.30" height="65.00" fill="none" stroke="#6b6b6b" stroke-width="0.6"/>
<text x="72.65" y="189.30" font-size="6.3" text-anchor="middle" fill="#222" font-weight="normal" stroke="#222" stroke-width="0.15" letter-spacing="0.3">5</text>
<rect x="76.30" y="116.60" width="6.30" height="17.35" fill="#cdcdcd" stroke="none" stroke-width="0.7"/>
<rect x="76.30" y="133.95" width="6.30" height="9.04" fill="#c01d25" stroke="none" stroke-width="0.7"/>
<rect x="76.30" y="142.99" width="6.30" height="29.70" fill="#ffffff" stroke="none" stroke-width="0.7"/>
<rect x="76.30" y="172.69" width="6.30" height="8.91" fill="#5e5e5e" stroke="none" stroke-width="0.7"/>
<rect x="76.30" y="116.60" width="6.30" height="65.00" fill="none" stroke="#6b6b6b" stroke-width="0.6"/>
<text x="79.60" y="189.30" font-size="6.3" text-anchor="middle" fill="#222" font-weight="normal" stroke="#222" stroke-width="0.15" letter-spacing="0.3">6</text>
<rect x="83.25" y="116.60" width="6.30" height="17.81" fill="#cdcdcd" stroke="none" stroke-width="0.7"/>
<rect x="83.25" y="134.41" width="6.30" height="8.84" fill="#c01d25" stroke="none" stroke-width="0.7"/>
<rect x="83.25" y="143.25" width="6.30" height="28.86" fill="#ffffff" stroke="none" stroke-width="0.7"/>
<rect x="83.25" y="172.11" width="6.30" height="9.49" fill="#5e5e5e" stroke="none" stroke-width="0.7"/>
<rect x="83.25" y="116.60" width="6.30" height="65.00" fill="none" stroke="#6b6b6b" stroke-width="0.6"/>
<text x="86.55" y="189.30" font-size="6.3" text-anchor="middle" fill="#222" font-weight="normal" stroke="#222" stroke-width="0.15" letter-spacing="0.3">7</text>
<rect x="90.20" y="116.60" width="6.30" height="12.35" fill="#cdcdcd" stroke="none" stroke-width="0.7"/>
<rect x="90.20" y="128.95" width="6.30" height="11.05" fill="#c01d25" stroke="none" stroke-width="0.7"/>
<rect x="90.20" y="140.00" width="6.30" height="32.50" fill="#ffffff" stroke="none" stroke-width="0.7"/>
<rect x="90.20" y="172.50" width="6.30" height="9.10" fill="#5e5e5e" stroke="none" stroke-width="0.7"/>
<rect x="90.20" y="116.60" width="6.30" height="65.00" fill="none" stroke="#6b6b6b" stroke-width="0.6"/>
<text x="93.50" y="189.30" font-size="6.3" text-anchor="middle" fill="#222" font-weight="normal" stroke="#222" stroke-width="0.15" letter-spacing="0.3">8</text>
<rect x="97.15" y="116.60" width="6.30" height="13.65" fill="#cdcdcd" stroke="none" stroke-width="0.7"/>
<rect x="97.15" y="130.25" width="6.30" height="8.06" fill="#c01d25" stroke="none" stroke-width="0.7"/>
<rect x="97.15" y="138.31" width="6.30" height="26.39" fill="#ffffff" stroke="none" stroke-width="0.7"/>
<rect x="97.15" y="164.70" width="6.30" height="16.90" fill="#5e5e5e" stroke="none" stroke-width="0.7"/>
<rect x="97.15" y="116.60" width="6.30" height="65.00" fill="none" stroke="#6b6b6b" stroke-width="0.6"/>
<text x="100.45" y="189.30" font-size="6.3" text-anchor="middle" fill="#222" font-weight="normal" stroke="#222" stroke-width="0.15" letter-spacing="0.3">9</text>
<rect x="104.10" y="116.60" width="6.30" height="7.41" fill="#cdcdcd" stroke="none" stroke-width="0.7"/>
<rect x="104.10" y="124.01" width="6.30" height="10.14" fill="#c01d25" stroke="none" stroke-width="0.7"/>
<rect x="104.10" y="134.15" width="6.30" height="39.00" fill="#ffffff" stroke="none" stroke-width="0.7"/>
<rect x="104.10" y="173.15" width="6.30" height="8.45" fill="#5e5e5e" stroke="none" stroke-width="0.7"/>
<rect x="104.10" y="116.60" width="6.30" height="65.00" fill="none" stroke="#6b6b6b" stroke-width="0.6"/>
<text x="107.40" y="189.30" font-size="6.3" text-anchor="middle" fill="#222" font-weight="normal" stroke="#222" stroke-width="0.15" letter-spacing="0.3">10</text>
<line x1="32.30" y1="181.60" x2="110.40" y2="181.60" stroke="#222" stroke-width="0.8"/>
<text x="72.85" y="112.80" font-size="6.3" text-anchor="middle" fill="#222" font-weight="normal" stroke="#222" stroke-width="0.15" letter-spacing="0.3">Mock</text>
<line x1="144.60" y1="116.00" x2="144.60" y2="181.60" stroke="#222" stroke-width="0.8"/>
<line x1="143.00" y1="181.60" x2="144.60" y2="181.60" stroke="#222" stroke-width="0.8"/>
<text x="142.30" y="183.70" font-size="6.3" text-anchor="end" fill="#222" font-weight="normal" stroke="#222" stroke-width="0.15" letter-spacing="0.3">0</text>
<line x1="143.00" y1="168.60" x2="144.60" y2="168.60" stroke="#222" stroke-width="0.8"/>
<text x="142.30" y="170.70" font-size="6.3" text-anchor="end" fill="#222" font-weight="normal" stroke="#222" stroke-width="0.15" letter-spacing="0.3">20</text>
<line x1="143.00" y1="155.60" x2="144.60" y2="155.60" stroke="#222" stroke-width="0.8"/>
<text x="142.30" y="157.70" font-size="6.3" text-anchor="end" fill="#222" font-weight="normal" stroke="#222" stroke-width="0.15" letter-spacing="0.3">40</text>
<line x1="143.00" y1="142.60" x2="144.60" y2="142.60" stroke="#222" stroke-width="0.8"/>
<text x="142.30" y="144.70" font-size="6.3" text-anchor="end" fill="#222" font-weight="normal" stroke="#222" stroke-width="0.15" letter-spacing="0.3">60</text>
<line x1="143.00" y1="129.60" x2="144.60" y2="129.60" stroke="#222" stroke-width="0.8"/>
<text x="142.30" y="131.70" font-size="6.3" text-anchor="end" fill="#222" font-weight="normal" stroke="#222" stroke-width="0.15" letter-spacing="0.3">80</text>
<line x1="143.00" y1="116.60" x2="144.60" y2="116.60" stroke="#222" stroke-width="0.8"/>
<text x="142.30" y="118.70" font-size="6.3" text-anchor="end" fill="#222" font-weight="normal" stroke="#222" stroke-width="0.15" letter-spacing="0.3">100</text>
<rect x="147.30" y="116.60" width="6.30" height="39.00" fill="#cdcdcd" stroke="none" stroke-width="0.7"/>
<rect x="147.30" y="155.60" width="6.30" height="5.53" fill="#c01d25" stroke="none" stroke-width="0.7"/>
<rect x="147.30" y="161.12" width="6.30" height="13.32" fill="#ffffff" stroke="none" stroke-width="0.7"/>
<rect x="147.30" y="174.45" width="6.30" height="7.15" fill="#5e5e5e" stroke="none" stroke-width="0.7"/>
<rect x="147.30" y="116.60" width="6.30" height="65.00" fill="none" stroke="#6b6b6b" stroke-width="0.6"/>
<text x="150.60" y="189.30" font-size="6.3" text-anchor="middle" fill="#222" font-weight="normal" stroke="#222" stroke-width="0.15" letter-spacing="0.3">0</text>
<rect x="154.25" y="116.60" width="6.30" height="36.40" fill="#cdcdcd" stroke="none" stroke-width="0.7"/>
<rect x="154.25" y="153.00" width="6.30" height="5.85" fill="#c01d25" stroke="none" stroke-width="0.7"/>
<rect x="154.25" y="158.85" width="6.30" height="12.68" fill="#ffffff" stroke="none" stroke-width="0.7"/>
<rect x="154.25" y="171.53" width="6.30" height="10.07" fill="#5e5e5e" stroke="none" stroke-width="0.7"/>
<rect x="154.25" y="116.60" width="6.30" height="65.00" fill="none" stroke="#6b6b6b" stroke-width="0.6"/>
<text x="157.55" y="189.30" font-size="6.3" text-anchor="middle" fill="#222" font-weight="normal" stroke="#222" stroke-width="0.15" letter-spacing="0.3">1</text>
<rect x="161.20" y="116.60" width="6.30" height="37.05" fill="#cdcdcd" stroke="none" stroke-width="0.7"/>
<rect x="161.20" y="153.65" width="6.30" height="5.85" fill="#c01d25" stroke="none" stroke-width="0.7"/>
<rect x="161.20" y="159.50" width="6.30" height="15.60" fill="#ffffff" stroke="none" stroke-width="0.7"/>
<rect x="161.20" y="175.10" width="6.30" height="6.50" fill="#5e5e5e" stroke="none" stroke-width="0.7"/>
<rect x="161.20" y="116.60" width="6.30" height="65.00" fill="none" stroke="#6b6b6b" stroke-width="0.6"/>
<text x="164.50" y="189.30" font-size="6.3" text-anchor="middle" fill="#222" font-weight="normal" stroke="#222" stroke-width="0.15" letter-spacing="0.3">2</text>
<rect x="168.15" y="116.60" width="6.30" height="37.05" fill="#cdcdcd" stroke="none" stroke-width="0.7"/>
<rect x="168.15" y="153.65" width="6.30" height="5.20" fill="#c01d25" stroke="none" stroke-width="0.7"/>
<rect x="168.15" y="158.85" width="6.30" height="14.95" fill="#ffffff" stroke="none" stroke-width="0.7"/>
<rect x="168.15" y="173.80" width="6.30" height="7.80" fill="#5e5e5e" stroke="none" stroke-width="0.7"/>
<rect x="168.15" y="116.60" width="6.30" height="65.00" fill="none" stroke="#6b6b6b" stroke-width="0.6"/>
<text x="171.45" y="189.30" font-size="6.3" text-anchor="middle" fill="#222" font-weight="normal" stroke="#222" stroke-width="0.15" letter-spacing="0.3">3</text>
<rect x="175.10" y="116.60" width="6.30" height="28.79" fill="#cdcdcd" stroke="none" stroke-width="0.7"/>
<rect x="175.10" y="145.39" width="6.30" height="23.21" fill="#c01d25" stroke="none" stroke-width="0.7"/>
<rect x="175.10" y="168.60" width="6.30" height="12.35" fill="#ffffff" stroke="none" stroke-width="0.7"/>
<rect x="175.10" y="180.95" width="6.30" height="0.65" fill="#5e5e5e" stroke="none" stroke-width="0.7"/>
<rect x="175.10" y="116.60" width="6.30" height="65.00" fill="none" stroke="#6b6b6b" stroke-width="0.6"/>
<text x="178.40" y="189.30" font-size="6.3" text-anchor="middle" fill="#222" font-weight="normal" stroke="#222" stroke-width="0.15" letter-spacing="0.3">4</text>
<rect x="182.05" y="116.60" width="6.30" height="8.45" fill="#cdcdcd" stroke="none" stroke-width="0.7"/>
<rect x="182.05" y="125.05" width="6.30" height="36.08" fill="#c01d25" stroke="none" stroke-width="0.7"/>
<rect x="182.05" y="161.12" width="6.30" height="13.32" fill="#ffffff" stroke="none" stroke-width="0.7"/>
<rect x="182.05" y="174.45" width="6.30" height="7.15" fill="#5e5e5e" stroke="none" stroke-width="0.7"/>
<rect x="182.05" y="116.60" width="6.30" height="65.00" fill="none" stroke="#6b6b6b" stroke-width="0.6"/>
<text x="185.35" y="189.30" font-size="6.3" text-anchor="middle" fill="#222" font-weight="normal" stroke="#222" stroke-width="0.15" letter-spacing="0.3">5</text>
<rect x="189.00" y="116.60" width="6.30" height="1.95" fill="#cdcdcd" stroke="none" stroke-width="0.7"/>
<rect x="189.00" y="118.55" width="6.30" height="43.55" fill="#c01d25" stroke="none" stroke-width="0.7"/>
<rect x="189.00" y="162.10" width="6.30" height="13.91" fill="#ffffff" stroke="none" stroke-width="0.7"/>
<rect x="189.00" y="176.01" width="6.30" height="5.59" fill="#5e5e5e" stroke="none" stroke-width="0.7"/>
<rect x="189.00" y="116.60" width="6.30" height="65.00" fill="none" stroke="#6b6b6b" stroke-width="0.6"/>
<text x="192.30" y="189.30" font-size="6.3" text-anchor="middle" fill="#222" font-weight="normal" stroke="#222" stroke-width="0.15" letter-spacing="0.3">6</text>
<rect x="195.95" y="116.60" width="6.30" height="1.95" fill="#cdcdcd" stroke="none" stroke-width="0.7"/>
<rect x="195.95" y="118.55" width="6.30" height="43.55" fill="#c01d25" stroke="none" stroke-width="0.7"/>
<rect x="195.95" y="162.10" width="6.30" height="15.93" fill="#ffffff" stroke="none" stroke-width="0.7"/>
<rect x="195.95" y="178.03" width="6.30" height="3.57" fill="#5e5e5e" stroke="none" stroke-width="0.7"/>
<rect x="195.95" y="116.60" width="6.30" height="65.00" fill="none" stroke="#6b6b6b" stroke-width="0.6"/>
<text x="199.25" y="189.30" font-size="6.3" text-anchor="middle" fill="#222" font-weight="normal" stroke="#222" stroke-width="0.15" letter-spacing="0.3">7</text>
<rect x="202.90" y="116.60" width="6.30" height="1.95" fill="#cdcdcd" stroke="none" stroke-width="0.7"/>
<rect x="202.90" y="118.55" width="6.30" height="43.55" fill="#c01d25" stroke="none" stroke-width="0.7"/>
<rect x="202.90" y="162.10" width="6.30" height="15.93" fill="#ffffff" stroke="none" stroke-width="0.7"/>
<rect x="202.90" y="178.03" width="6.30" height="3.57" fill="#5e5e5e" stroke="none" stroke-width="0.7"/>
<rect x="202.90" y="116.60" width="6.30" height="65.00" fill="none" stroke="#6b6b6b" stroke-width="0.6"/>
<text x="206.20" y="189.30" font-size="6.3" text-anchor="middle" fill="#222" font-weight="normal" stroke="#222" stroke-width="0.15" letter-spacing="0.3">8</text>
<rect x="209.85" y="116.60" width="6.30" height="4.55" fill="#cdcdcd" stroke="none" stroke-width="0.7"/>
<rect x="209.85" y="121.15" width="6.30" height="39.65" fill="#c01d25" stroke="none" stroke-width="0.7"/>
<rect x="209.85" y="160.80" width="6.30" height="18.20" fill="#ffffff" stroke="none" stroke-width="0.7"/>
<rect x="209.85" y="179.00" width="6.30" height="2.60" fill="#5e5e5e" stroke="none" stroke-width="0.7"/>
<rect x="209.85" y="116.60" width="6.30" height="65.00" fill="none" stroke="#6b6b6b" stroke-width="0.6"/>
<text x="213.15" y="189.30" font-size="6.3" text-anchor="middle" fill="#222" font-weight="normal" stroke="#222" stroke-width="0.15" letter-spacing="0.3">9</text>
<rect x="216.80" y="116.60" width="6.30" height="5.53" fill="#cdcdcd" stroke="none" stroke-width="0.7"/>
<rect x="216.80" y="122.12" width="6.30" height="31.72" fill="#c01d25" stroke="none" stroke-width="0.7"/>
<rect x="216.80" y="153.84" width="6.30" height="22.88" fill="#ffffff" stroke="none" stroke-width="0.7"/>
<rect x="216.80" y="176.72" width="6.30" height="4.88" fill="#5e5e5e" stroke="none" stroke-width="0.7"/>
<rect x="216.80" y="116.60" width="6.30" height="65.00" fill="none" stroke="#6b6b6b" stroke-width="0.6"/>
<text x="220.10" y="189.30" font-size="6.3" text-anchor="middle" fill="#222" font-weight="normal" stroke="#222" stroke-width="0.15" letter-spacing="0.3">10</text>
<line x1="144.60" y1="181.60" x2="223.10" y2="181.60" stroke="#222" stroke-width="0.8"/>
<text x="185.45" y="112.80" font-size="6.3" text-anchor="middle" fill="#222" font-weight="normal" stroke="#222" stroke-width="0.15" letter-spacing="0.3">EBV</text>
<text x="73.05" y="197.20" font-size="6.3" text-anchor="middle" fill="#222" font-weight="normal" stroke="#222" stroke-width="0.15" letter-spacing="0.3">Wpi</text>
<text x="185.15" y="197.40" font-size="6.3" text-anchor="middle" fill="#222" font-weight="normal" stroke="#222" stroke-width="0.15" letter-spacing="0.3">Wpi</text>
<text x="17.30" y="147.85" font-size="6.3" text-anchor="middle" fill="#222" font-weight="normal" stroke="#222" stroke-width="0.15" letter-spacing="0.3" transform="rotate(-90 17.30 147.85)">% in CD45<tspan font-size="4.3" dy="-2">+</tspan><tspan dy="2"> cells</tspan></text>
<text x="130.40" y="147.85" font-size="6.3" text-anchor="middle" fill="#222" font-weight="normal" stroke="#222" stroke-width="0.15" letter-spacing="0.3" transform="rotate(-90 130.40 147.85)">% in CD45<tspan font-size="4.3" dy="-2">+</tspan><tspan dy="2"> cells</tspan></text>
<rect x="228.40" y="116.60" width="5.00" height="5.00" fill="#cdcdcd" stroke="#555" stroke-width="0.6"/>
<text x="234.90" y="121.20" font-size="6.3" text-anchor="start" fill="#222" font-weight="normal" stroke="#222" stroke-width="0.15" letter-spacing="0.3">CD19<tspan font-size="4.3" dy="-2.2">+</tspan></text>
<rect x="228.40" y="123.95" width="5.00" height="5.00" fill="#c01d25" stroke="#555" stroke-width="0.6"/>
<text x="234.90" y="128.55" font-size="6.3" text-anchor="start" fill="#222" font-weight="normal" stroke="#222" stroke-width="0.15" letter-spacing="0.3">CD8<tspan font-size="4.3" dy="-2.2">+</tspan></text>
<rect x="228.40" y="131.30" width="5.00" height="5.00" fill="#ffffff" stroke="#555" stroke-width="0.6"/>
<text x="234.90" y="135.90" font-size="6.3" text-anchor="start" fill="#222" font-weight="normal" stroke="#222" stroke-width="0.15" letter-spacing="0.3">CD4<tspan font-size="4.3" dy="-2.2">+</tspan></text>
<rect x="228.40" y="138.65" width="5.00" height="5.00" fill="#5e5e5e" stroke="#555" stroke-width="0.6"/>
<text x="234.90" y="143.25" font-size="6.3" text-anchor="start" fill="#222" font-weight="normal" stroke="#222" stroke-width="0.15" letter-spacing="0.3">Others</text>
<text x="1.50" y="217.20" font-size="12.5" text-anchor="start" fill="#000" font-weight="bold">E</text>
<text x="63.55" y="216.40" font-size="6.3" text-anchor="middle" fill="#222" font-weight="normal" stroke="#222" stroke-width="0.15" letter-spacing="0.3">Spleen</text>
<text x="188.15" y="216.00" font-size="6.3" text-anchor="middle" fill="#222" font-weight="normal" stroke="#222" stroke-width="0.15" letter-spacing="0.3">Liver</text>
<line x1="13.70" y1="218.70" x2="113.30" y2="218.70" stroke="#333" stroke-width="0.8"/>
<line x1="118.20" y1="218.70" x2="259.00" y2="218.70" stroke="#333" stroke-width="0.8"/>
<line x1="41.20" y1="277.20" x2="113.30" y2="277.20" stroke="#333" stroke-width="0.8"/>
<line x1="164.40" y1="277.20" x2="259.00" y2="277.20" stroke="#333" stroke-width="0.8"/>
<text x="26.55" y="282.00" font-size="6.3" text-anchor="middle" fill="#222" font-weight="normal" stroke="#222" stroke-width="0.15" letter-spacing="0.3">Mock</text>
<text x="76.65" y="284.60" font-size="6.3" text-anchor="middle" fill="#222" font-weight="normal" stroke="#222" stroke-width="0.15" letter-spacing="0.3">EBV</text>
<text x="140.95" y="281.80" font-size="6.3" text-anchor="middle" fill="#222" font-weight="normal" stroke="#222" stroke-width="0.15" letter-spacing="0.3">Mock</text>
<text x="211.45" y="283.60" font-size="6.3" text-anchor="middle" fill="#222" font-weight="normal" stroke="#222" stroke-width="0.15" letter-spacing="0.3">EBV</text>
<defs><filter id="pb1" x="-20%" y="-20%" width="140%" height="140%"><feGaussianBlur stdDeviation="1.2"/></filter><filter id="pb05" x="-20%" y="-20%" width="140%" height="140%"><feGaussianBlur stdDeviation="0.6"/></filter><radialGradient id="p1bg" cx="0.65" cy="0.4" r="0.75"><stop offset="0" stop-color="#b0a4ab"/><stop offset="0.55" stop-color="#978991"/><stop offset="1" stop-color="#6a5c64"/></radialGradient><linearGradient id="p2bg" x1="0" y1="0" x2="1" y2="0.3"><stop offset="0" stop-color="#5a5e66"/><stop offset="0.35" stop-color="#2e3036"/><stop offset="1" stop-color="#24262b"/></linearGradient><linearGradient id="p4bg" x1="0.2" y1="0" x2="0.5" y2="1"><stop offset="0" stop-color="#263030"/><stop offset="0.45" stop-color="#2e3434"/><stop offset="0.75" stop-color="#8a8c8c"/><stop offset="1" stop-color="#d8d8d8"/></linearGradient><linearGradient id="p5bg" x1="0" y1="0" x2="1" y2="1"><stop offset="0" stop-color="#7890a0"/><stop offset="0.6" stop-color="#6a7c8a"/><stop offset="1" stop-color="#5a6672"/></linearGradient><linearGradient id="p6bg" x1="0" y1="0" x2="0.8" y2="1"><stop offset="0" stop-color="#8a9aaa"/><stop offset="0.4" stop-color="#4a5464"/><stop offset="1" stop-color="#222838"/></linearGradient><radialGradient id="liv4" cx="0.48" cy="0.42" r="0.55"><stop offset="0" stop-color="#7a6a3a"/><stop offset="0.45" stop-color="#8e6a3c"/><stop offset="0.62" stop-color="#b84a34"/><stop offset="1" stop-color="#c43c2c"/></radialGradient><radialGradient id="liv5" cx="0.5" cy="0.45" r="0.6"><stop offset="0" stop-color="#8a6e72"/><stop offset="0.45" stop-color="#a8646a"/><stop offset="1" stop-color="#c8464e"/></radialGradient><linearGradient id="liv6" x1="0.3" y1="0" x2="0.6" y2="1"><stop offset="0" stop-color="#dcc49c"/><stop offset="0.5" stop-color="#d4a47a"/><stop offset="1" stop-color="#d47e54"/></linearGradient><linearGradient id="spl2" x1="0" y1="0" x2="0.3" y2="1"><stop offset="0" stop-color="#ec7a84"/><stop offset="0.5" stop-color="#d8505e"/><stop offset="1" stop-color="#dc6472"/></linearGradient></defs>
<rect x="13.30" y="221.20" width="25.20" height="53.00" fill="url(#p1bg)" stroke="none" stroke-width="0.7"/>
<path d="M24.5,235 C28.5,235.5 31.3,242 31.3,250 C31.2,255.5 28.5,259.5 24.5,259.2 C21.3,259 20.4,254 20.6,247.5 C20.8,241 21.6,235 24.5,235 Z" fill="#a04a50" filter="url(#pb1)"/>
<path d="M24.5,236 C27.8,236.5 30.3,242 30.3,250 C30.2,255 27.8,258.5 24.6,258.2 C22,258 21.4,254 21.6,247.5 C21.8,241.5 22.3,236 24.5,236 Z" fill="#5e0e12" filter="url(#pb05)"/>
<rect x="26.50" y="271.40" width="11.20" height="1.50" fill="#1a1418" stroke="none" stroke-width="0.7"/>
<rect x="41.30" y="221.20" width="36.20" height="53.00" fill="url(#p2bg)" stroke="none" stroke-width="0.7"/>
<path d="M44,226 C50,222 58,224 60,226 L52,232 C49,240 47,255 44,266 L42,266 L42,230 Z" fill="#8a8e98" opacity="0.55" filter="url(#pb1)"/>
<path d="M48.5,228 C52,225 58,226 62,230 C67,236 71,243 71,250 C71,257 68,262 64,266 C60,270 54,272 49,270 C45,268 45,264 47,261 C50,256 51,250 52,244 C53,238 50,234 48.5,230 Z" fill="#141416" filter="url(#pb1)" transform="translate(-1.5,0.5)"/>
<path d="M48.5,228 C52,225 58,226 62,230 C67,236 71,243 71,250 C71,257 68,262 64,266 C60,270 54,272 49,270 C45,268 45,264 47,261 C50,256 51,250 52,244 C53,238 50,234 48.5,230 Z" fill="url(#spl2)" filter="url(#pb05)"/>
<ellipse cx="56" cy="231" rx="3" ry="1.6" fill="#f4a0a0" opacity="0.7" filter="url(#pb05)"/>
<ellipse cx="64" cy="244" rx="0.8" ry="1.4" fill="#ffe0e0" opacity="0.8"/>
<rect x="64.50" y="271.00" width="10.20" height="1.50" fill="#f4f4f4" stroke="none" stroke-width="0.7"/>
<rect x="79.00" y="221.20" width="34.50" height="53.00" fill="#12151a" stroke="none" stroke-width="0.7"/>
<path d="M104.5,221.2 C103,235 102,250 100.2,274.2 L113.5,274.2 L113.5,221.2 Z" fill="#4a525c" filter="url(#pb1)"/>
<path d="M108,221.2 C107,240 106,255 104,274.2 L113.5,274.2 L113.5,221.2 Z" fill="#7a828c" filter="url(#pb1)"/>
<path d="M87.5,230 C90,226 95,227 97.5,232 C100.5,239 102,249 101.5,257 C101,263 99,268 95.5,268.5 C92.5,268.5 91.5,264 91,258 C90,250 88.5,242 87,235 C86.7,233 86.8,231.5 87.5,230 Z" fill="#a8303e" filter="url(#pb05)"/>
<path d="M89,232 C91.5,229.5 94.5,230.5 96.3,234.5 C98.8,241 100,249 99.8,256.5 C99.5,261.5 98,265.5 95.5,265.8 C93.5,265.8 93,262 92.6,257 C91.8,249.5 90.3,242 89,236 Z" fill="#7e1824" filter="url(#pb05)"/>
<circle cx="89.2" cy="239" r="0.9" fill="#f0f0f0"/>
<rect x="99.00" y="271.30" width="10.60" height="1.50" fill="#f4f4f4" stroke="none" stroke-width="0.7"/>
<rect x="118.00" y="221.20" width="43.40" height="53.00" fill="url(#p4bg)" stroke="none" stroke-width="0.7"/>
<path d="M119,262 L135,274 M119,266 L130,274 M119,258 L140,274" stroke="#9a9a9a" stroke-width="0.8" opacity="0.6"/>
<path d="M125,232.5 C130,228 135,227 138.4,227.2 C144,227 151,228 155.5,232.5 C158,236 157.5,241 156.8,244 C154,252 149,259 145,263.4 C141,265 137,262 133,258 C128,253 123,247 121.9,241.7 C121.5,238 122.5,235 125,232.5 Z" fill="url(#liv4)" filter="url(#pb05)"/>
<g fill="#c8b070" opacity="0.7"><circle cx="132" cy="240" r="0.9"/><circle cx="136" cy="244" r="0.8"/><circle cx="141" cy="238" r="0.7"/><circle cx="145" cy="246" r="0.8"/><circle cx="138" cy="250" r="0.9"/><circle cx="130" cy="246" r="0.7"/><circle cx="143" cy="252" r="0.6"/><circle cx="134" cy="236" r="0.6"/></g>
<rect x="153.50" y="271.80" width="6.50" height="1.60" fill="#111" stroke="none" stroke-width="0.7"/>
<defs><linearGradient id="p5bgb" x1="0" y1="0" x2="1" y2="1"><stop offset="0" stop-color="#a8b4c0"/><stop offset="0.5" stop-color="#8a96a2"/><stop offset="1" stop-color="#707c88"/></linearGradient><radialGradient id="p6bgb" cx="0.15" cy="0.1" r="1.0"><stop offset="0" stop-color="#a4b4c4"/><stop offset="0.35" stop-color="#68788a"/><stop offset="0.7" stop-color="#2c3444"/><stop offset="1" stop-color="#1c2230"/></radialGradient></defs>
<rect x="164.20" y="221.20" width="48.50" height="53.00" fill="url(#p5bgb)" stroke="none" stroke-width="0.7"/>
<rect x="164.20" y="221.20" width="48.50" height="1.60" fill="#3a3a40" stroke="none" stroke-width="0.7"/>
<path d="M204,222 C212,234 212,256 199,274.2" fill="none" stroke="#c4ccd4" stroke-width="1.4" opacity="0.8"/>
<ellipse cx="178" cy="223.5" rx="5" ry="2" fill="#a84050" filter="url(#pb05)"/>
<path d="M166,245 C167,239 172,235 178,232 C184,229 190,226 196,224.5 C201,223.5 205,225 207,229 C209,234 207,241 204,247 C201,253 200,260 196,266 C192,270.5 185,272 178,271 C172,270 169,266 168,261 C167,256 165,250 166,245 Z" fill="#c0424c" filter="url(#pb05)"/>
<g filter="url(#pb1)"><ellipse cx="196" cy="234" rx="9" ry="7" fill="#a07468"/><ellipse cx="186" cy="246" rx="8" ry="7" fill="#8c6c78"/><ellipse cx="172" cy="248" rx="4" ry="6" fill="#c83848"/><ellipse cx="178" cy="262" rx="7" ry="3.5" fill="#d89c94"/><ellipse cx="192" cy="262" rx="5" ry="3" fill="#d08a84"/><ellipse cx="201" cy="244" rx="3" ry="4" fill="#c85a5a"/></g>
<g fill="none" stroke="#ecd0c0" stroke-width="0.8" opacity="0.8"><path d="M176,237 C180,233 186,233 190,236"/><path d="M181,254 C185,249 191,249 194,253"/><path d="M194,229 C198,227 202,228 204,231"/></g>
<rect x="203.50" y="271.20" width="5.50" height="1.50" fill="#f4f4f4" stroke="none" stroke-width="0.7"/>
<rect x="214.60" y="221.20" width="44.40" height="53.00" fill="url(#p6bgb)" stroke="none" stroke-width="0.7"/>
<path d="M246,221.2 C256,228 258,245 254,260 C252,266 248,271 244,274" fill="none" stroke="#141820" stroke-width="2.2" opacity="0.9"/>
<path d="M232,228 C235,225 238,224 240,224 C243,224 245.5,226 247,229 C248.5,233 249.5,238 251,243 C252.5,247 252.5,252 250.5,257 C248.5,262 245,266.5 240,268.5 C235,269.5 230,268 226,265 C222,262 219,256 218,251 C217.5,247 218.5,244 220.5,242 C223,239 226,236.5 228.5,233 C229.5,231 230.5,229.5 232,228 Z" fill="#c89470" filter="url(#pb05)"/>
<g filter="url(#pb1)"><ellipse cx="239" cy="234" rx="6" ry="7" fill="#d8c09c"/><ellipse cx="232" cy="246" rx="7" ry="5" fill="#ccb088"/><ellipse cx="243" cy="250" rx="5" ry="5" fill="#d4bc98"/><ellipse cx="246" cy="261" rx="6" ry="4" fill="#d07248"/><ellipse cx="224" cy="257" rx="5" ry="5" fill="#d07c54"/><ellipse cx="236" cy="264" rx="6" ry="3" fill="#c87a50"/></g>
<g fill="#f0e8d0" opacity="0.85"><circle cx="236" cy="232" r="0.8"/><circle cx="241" cy="238" r="0.7"/><circle cx="233" cy="241" r="0.7"/><circle cx="238" cy="246" r="0.9"/><circle cx="228" cy="249" r="0.7"/><circle cx="244" cy="244" r="0.6"/><circle cx="240" cy="253" r="1.0"/><circle cx="231" cy="236" r="0.6"/><circle cx="245" cy="236" r="0.6"/><circle cx="235" cy="255" r="0.7"/></g>
<rect x="249.00" y="271.20" width="5.50" height="1.50" fill="#f4f4f4" stroke="none" stroke-width="0.7"/>
<text x="1.00" y="311.00" font-size="12.5" text-anchor="start" fill="#000" font-weight="bold">F</text>
<line x1="31.50" y1="324.70" x2="118.85" y2="324.70" stroke="#222" stroke-width="0.8"/>
<line x1="31.50" y1="324.70" x2="31.50" y2="409.80" stroke="#222" stroke-width="0.8"/>
<line x1="31.50" y1="323.00" x2="31.50" y2="324.70" stroke="#222" stroke-width="0.8"/>
<text x="31.65" y="320.90" font-size="6.3" text-anchor="middle" fill="#222" font-weight="normal" stroke="#222" stroke-width="0.15" letter-spacing="0.3">2</text>
<line x1="48.05" y1="323.00" x2="48.05" y2="324.70" stroke="#222" stroke-width="0.8"/>
<text x="48.20" y="320.90" font-size="6.3" text-anchor="middle" fill="#222" font-weight="normal" stroke="#222" stroke-width="0.15" letter-spacing="0.3">3</text>
<line x1="64.60" y1="323.00" x2="64.60" y2="324.70" stroke="#222" stroke-width="0.8"/>
<text x="64.75" y="320.90" font-size="6.3" text-anchor="middle" fill="#222" font-weight="normal" stroke="#222" stroke-width="0.15" letter-spacing="0.3">4</text>
<line x1="81.15" y1="323.00" x2="81.15" y2="324.70" stroke="#222" stroke-width="0.8"/>
<text x="81.30" y="320.90" font-size="6.3" text-anchor="middle" fill="#222" font-weight="normal" stroke="#222" stroke-width="0.15" letter-spacing="0.3">5</text>
<line x1="97.70" y1="323.00" x2="97.70" y2="324.70" stroke="#222" stroke-width="0.8"/>
<text x="97.85" y="320.90" font-size="6.3" text-anchor="middle" fill="#222" font-weight="normal" stroke="#222" stroke-width="0.15" letter-spacing="0.3">6</text>
<line x1="114.25" y1="323.00" x2="114.25" y2="324.70" stroke="#222" stroke-width="0.8"/>
<text x="114.40" y="320.90" font-size="6.3" text-anchor="middle" fill="#222" font-weight="normal" stroke="#222" stroke-width="0.15" letter-spacing="0.3">7</text>
<line x1="30.00" y1="324.70" x2="31.50" y2="324.70" stroke="#222" stroke-width="0.8"/>
<line x1="30.00" y1="338.75" x2="31.50" y2="338.75" stroke="#222" stroke-width="0.8"/>
<line x1="30.00" y1="352.80" x2="31.50" y2="352.80" stroke="#222" stroke-width="0.8"/>
<line x1="30.00" y1="366.85" x2="31.50" y2="366.85" stroke="#222" stroke-width="0.8"/>
<line x1="30.00" y1="380.90" x2="31.50" y2="380.90" stroke="#222" stroke-width="0.8"/>
<line x1="30.00" y1="394.95" x2="31.50" y2="394.95" stroke="#222" stroke-width="0.8"/>
<line x1="30.00" y1="409.00" x2="31.50" y2="409.00" stroke="#222" stroke-width="0.8"/>
<line x1="105.15" y1="329.10" x2="109.29" y2="329.10" stroke="#333" stroke-width="0.6"/>
<line x1="109.29" y1="327.70" x2="109.29" y2="330.50" stroke="#333" stroke-width="0.6"/>
<rect x="31.50" y="327.30" width="73.65" height="3.70" fill="#fff" stroke="#111" stroke-width="0.7"/>
<line x1="97.70" y1="333.60" x2="103.33" y2="333.60" stroke="#333" stroke-width="0.6"/>
<line x1="103.33" y1="332.00" x2="103.33" y2="335.20" stroke="#333" stroke-width="0.6"/>
<rect x="31.50" y="331.60" width="66.20" height="4.10" fill="#000" stroke="none" stroke-width="0.7"/>
<line x1="46.06" y1="343.15" x2="52.68" y2="343.15" stroke="#333" stroke-width="0.6"/>
<line x1="52.68" y1="341.75" x2="52.68" y2="344.55" stroke="#333" stroke-width="0.6"/>
<rect x="31.50" y="341.35" width="14.56" height="3.70" fill="#fff" stroke="#111" stroke-width="0.7"/>
<line x1="82.47" y1="347.65" x2="86.61" y2="347.65" stroke="#333" stroke-width="0.6"/>
<line x1="86.61" y1="346.05" x2="86.61" y2="349.25" stroke="#333" stroke-width="0.6"/>
<rect x="31.50" y="345.65" width="50.97" height="4.10" fill="#000" stroke="none" stroke-width="0.7"/>
<text x="90.21" y="351.35" font-size="8" text-anchor="middle" fill="#111" font-weight="normal" stroke="#111" stroke-width="0.15">*</text>
<line x1="105.15" y1="357.20" x2="109.29" y2="357.20" stroke="#333" stroke-width="0.6"/>
<line x1="109.29" y1="355.80" x2="109.29" y2="358.60" stroke="#333" stroke-width="0.6"/>
<rect x="31.50" y="355.40" width="73.65" height="3.70" fill="#fff" stroke="#111" stroke-width="0.7"/>
<line x1="95.05" y1="361.70" x2="103.33" y2="361.70" stroke="#333" stroke-width="0.6"/>
<line x1="103.33" y1="360.10" x2="103.33" y2="363.30" stroke="#333" stroke-width="0.6"/>
<rect x="31.50" y="359.70" width="63.55" height="4.10" fill="#000" stroke="none" stroke-width="0.7"/>
<line x1="58.97" y1="371.25" x2="63.28" y2="371.25" stroke="#333" stroke-width="0.6"/>
<line x1="63.28" y1="369.85" x2="63.28" y2="372.65" stroke="#333" stroke-width="0.6"/>
<rect x="31.50" y="369.45" width="27.47" height="3.70" fill="#fff" stroke="#111" stroke-width="0.7"/>
<line x1="71.05" y1="375.75" x2="76.68" y2="375.75" stroke="#333" stroke-width="0.6"/>
<line x1="76.68" y1="374.15" x2="76.68" y2="377.35" stroke="#333" stroke-width="0.6"/>
<rect x="31.50" y="373.75" width="39.55" height="4.10" fill="#000" stroke="none" stroke-width="0.7"/>
<line x1="64.27" y1="385.30" x2="70.56" y2="385.30" stroke="#333" stroke-width="0.6"/>
<line x1="70.56" y1="383.90" x2="70.56" y2="386.70" stroke="#333" stroke-width="0.6"/>
<rect x="31.50" y="383.50" width="32.77" height="3.70" fill="#fff" stroke="#111" stroke-width="0.7"/>
<line x1="80.65" y1="389.80" x2="87.27" y2="389.80" stroke="#333" stroke-width="0.6"/>
<line x1="87.27" y1="388.20" x2="87.27" y2="391.40" stroke="#333" stroke-width="0.6"/>
<rect x="31.50" y="387.80" width="49.15" height="4.10" fill="#000" stroke="none" stroke-width="0.7"/>
<line x1="73.21" y1="399.35" x2="79.00" y2="399.35" stroke="#333" stroke-width="0.6"/>
<line x1="79.00" y1="397.95" x2="79.00" y2="400.75" stroke="#333" stroke-width="0.6"/>
<rect x="31.50" y="397.55" width="41.71" height="3.70" fill="#fff" stroke="#111" stroke-width="0.7"/>
<line x1="87.27" y1="403.85" x2="95.05" y2="403.85" stroke="#333" stroke-width="0.6"/>
<line x1="95.05" y1="402.25" x2="95.05" y2="405.45" stroke="#333" stroke-width="0.6"/>
<rect x="31.50" y="401.85" width="55.77" height="4.10" fill="#000" stroke="none" stroke-width="0.7"/>
<text x="73.45" y="309.60" font-size="6.3" text-anchor="middle" fill="#111" font-weight="normal" stroke="#111" stroke-width="0.15" letter-spacing="0.3">CD19<tspan font-size="4.3" dy="-2.2">+</tspan><tspan dy="2.2"> cell number/organ (log</tspan><tspan font-size="4.3" dy="1">10</tspan><tspan dy="-1">)</tspan></text>
<line x1="153.80" y1="324.70" x2="235.20" y2="324.70" stroke="#222" stroke-width="0.8"/>
<line x1="153.80" y1="324.70" x2="153.80" y2="409.80" stroke="#222" stroke-width="0.8"/>
<line x1="154.00" y1="323.00" x2="154.00" y2="324.70" stroke="#222" stroke-width="0.8"/>
<text x="154.15" y="320.90" font-size="6.3" text-anchor="middle" fill="#222" font-weight="normal" stroke="#222" stroke-width="0.15" letter-spacing="0.3">3</text>
<line x1="173.15" y1="323.00" x2="173.15" y2="324.70" stroke="#222" stroke-width="0.8"/>
<text x="173.30" y="320.90" font-size="6.3" text-anchor="middle" fill="#222" font-weight="normal" stroke="#222" stroke-width="0.15" letter-spacing="0.3">4</text>
<line x1="192.30" y1="323.00" x2="192.30" y2="324.70" stroke="#222" stroke-width="0.8"/>
<text x="192.45" y="320.90" font-size="6.3" text-anchor="middle" fill="#222" font-weight="normal" stroke="#222" stroke-width="0.15" letter-spacing="0.3">5</text>
<line x1="211.45" y1="323.00" x2="211.45" y2="324.70" stroke="#222" stroke-width="0.8"/>
<text x="211.60" y="320.90" font-size="6.3" text-anchor="middle" fill="#222" font-weight="normal" stroke="#222" stroke-width="0.15" letter-spacing="0.3">6</text>
<line x1="230.60" y1="323.00" x2="230.60" y2="324.70" stroke="#222" stroke-width="0.8"/>
<text x="230.75" y="320.90" font-size="6.3" text-anchor="middle" fill="#222" font-weight="normal" stroke="#222" stroke-width="0.15" letter-spacing="0.3">7</text>
<line x1="152.30" y1="324.70" x2="153.80" y2="324.70" stroke="#222" stroke-width="0.8"/>
<line x1="152.30" y1="338.75" x2="153.80" y2="338.75" stroke="#222" stroke-width="0.8"/>
<line x1="152.30" y1="352.80" x2="153.80" y2="352.80" stroke="#222" stroke-width="0.8"/>
<line x1="152.30" y1="366.85" x2="153.80" y2="366.85" stroke="#222" stroke-width="0.8"/>
<line x1="152.30" y1="380.90" x2="153.80" y2="380.90" stroke="#222" stroke-width="0.8"/>
<line x1="152.30" y1="394.95" x2="153.80" y2="394.95" stroke="#222" stroke-width="0.8"/>
<line x1="152.30" y1="409.00" x2="153.80" y2="409.00" stroke="#222" stroke-width="0.8"/>
<line x1="214.13" y1="329.10" x2="220.64" y2="329.10" stroke="#333" stroke-width="0.6"/>
<line x1="220.64" y1="327.70" x2="220.64" y2="330.50" stroke="#333" stroke-width="0.6"/>
<rect x="153.80" y="327.30" width="60.33" height="3.70" fill="#fff" stroke="#111" stroke-width="0.7"/>
<line x1="234.81" y1="333.60" x2="241.71" y2="333.60" stroke="#333" stroke-width="0.6"/>
<line x1="241.71" y1="332.00" x2="241.71" y2="335.20" stroke="#333" stroke-width="0.6"/>
<rect x="153.80" y="331.60" width="81.01" height="4.10" fill="#000" stroke="none" stroke-width="0.7"/>
<text x="245.31" y="337.30" font-size="8" text-anchor="middle" fill="#111" font-weight="normal" stroke="#111" stroke-width="0.15">*</text>
<line x1="199.39" y1="343.15" x2="206.09" y2="343.15" stroke="#333" stroke-width="0.6"/>
<line x1="206.09" y1="341.75" x2="206.09" y2="344.55" stroke="#333" stroke-width="0.6"/>
<rect x="153.80" y="341.35" width="45.59" height="3.70" fill="#fff" stroke="#111" stroke-width="0.7"/>
<line x1="230.60" y1="347.65" x2="235.96" y2="347.65" stroke="#333" stroke-width="0.6"/>
<line x1="235.96" y1="346.05" x2="235.96" y2="349.25" stroke="#333" stroke-width="0.6"/>
<rect x="153.80" y="345.65" width="76.80" height="4.10" fill="#000" stroke="none" stroke-width="0.7"/>
<text x="239.56" y="351.35" font-size="8" text-anchor="middle" fill="#111" font-weight="normal" stroke="#111" stroke-width="0.15">*</text>
<line x1="203.22" y1="357.20" x2="209.34" y2="357.20" stroke="#333" stroke-width="0.6"/>
<line x1="209.34" y1="355.80" x2="209.34" y2="358.60" stroke="#333" stroke-width="0.6"/>
<rect x="153.80" y="355.40" width="49.42" height="3.70" fill="#fff" stroke="#111" stroke-width="0.7"/>
<line x1="217.58" y1="361.70" x2="220.07" y2="361.70" stroke="#333" stroke-width="0.6"/>
<line x1="220.07" y1="360.10" x2="220.07" y2="363.30" stroke="#333" stroke-width="0.6"/>
<rect x="153.80" y="359.70" width="63.78" height="4.10" fill="#000" stroke="none" stroke-width="0.7"/>
<text x="223.67" y="365.40" font-size="8" text-anchor="middle" fill="#111" font-weight="normal" stroke="#111" stroke-width="0.15">*</text>
<line x1="184.64" y1="371.25" x2="189.24" y2="371.25" stroke="#333" stroke-width="0.6"/>
<line x1="189.24" y1="369.85" x2="189.24" y2="372.65" stroke="#333" stroke-width="0.6"/>
<rect x="153.80" y="369.45" width="30.84" height="3.70" fill="#fff" stroke="#111" stroke-width="0.7"/>
<line x1="217.00" y1="375.75" x2="222.17" y2="375.75" stroke="#333" stroke-width="0.6"/>
<line x1="222.17" y1="374.15" x2="222.17" y2="377.35" stroke="#333" stroke-width="0.6"/>
<rect x="153.80" y="373.75" width="63.20" height="4.10" fill="#000" stroke="none" stroke-width="0.7"/>
<text x="225.77" y="379.45" font-size="8" text-anchor="middle" fill="#111" font-weight="normal" stroke="#111" stroke-width="0.15">*</text>
<line x1="181.38" y1="385.30" x2="190.38" y2="385.30" stroke="#333" stroke-width="0.6"/>
<line x1="190.38" y1="383.90" x2="190.38" y2="386.70" stroke="#333" stroke-width="0.6"/>
<rect x="153.80" y="383.50" width="27.58" height="3.70" fill="#fff" stroke="#111" stroke-width="0.7"/>
<line x1="217.00" y1="389.80" x2="222.17" y2="389.80" stroke="#333" stroke-width="0.6"/>
<line x1="222.17" y1="388.20" x2="222.17" y2="391.40" stroke="#333" stroke-width="0.6"/>
<rect x="153.80" y="387.80" width="63.20" height="4.10" fill="#000" stroke="none" stroke-width="0.7"/>
<text x="225.77" y="393.50" font-size="8" text-anchor="middle" fill="#111" font-weight="normal" stroke="#111" stroke-width="0.15">*</text>
<line x1="175.45" y1="399.35" x2="183.11" y2="399.35" stroke="#333" stroke-width="0.6"/>
<line x1="183.11" y1="397.95" x2="183.11" y2="400.75" stroke="#333" stroke-width="0.6"/>
<rect x="153.80" y="397.55" width="21.65" height="3.70" fill="#fff" stroke="#111" stroke-width="0.7"/>
<line x1="207.43" y1="403.85" x2="213.36" y2="403.85" stroke="#333" stroke-width="0.6"/>
<line x1="213.36" y1="402.25" x2="213.36" y2="405.45" stroke="#333" stroke-width="0.6"/>
<rect x="153.80" y="401.85" width="53.63" height="4.10" fill="#000" stroke="none" stroke-width="0.7"/>
<text x="216.96" y="407.55" font-size="8" text-anchor="middle" fill="#111" font-weight="normal" stroke="#111" stroke-width="0.15">*</text>
<text x="196.15" y="309.60" font-size="6.3" text-anchor="middle" fill="#111" font-weight="normal" stroke="#111" stroke-width="0.15" letter-spacing="0.3">CD8<tspan font-size="4.3" dy="-2.2">+</tspan><tspan dy="2.2"> cell number/organ (log</tspan><tspan font-size="4.3" dy="1">10</tspan><tspan dy="-1">)</tspan></text>
<text x="27.50" y="334.40" font-size="6.3" text-anchor="end" fill="#222" font-weight="normal" stroke="#222" stroke-width="0.15" letter-spacing="0.3">Spleen</text>
<text x="150.30" y="334.40" font-size="6.3" text-anchor="end" fill="#222" font-weight="normal" stroke="#222" stroke-width="0.15" letter-spacing="0.3">Spleen</text>
<text x="27.50" y="348.70" font-size="6.3" text-anchor="end" fill="#222" font-weight="normal" stroke="#222" stroke-width="0.15" letter-spacing="0.3">Liver</text>
<text x="150.30" y="348.70" font-size="6.3" text-anchor="end" fill="#222" font-weight="normal" stroke="#222" stroke-width="0.15" letter-spacing="0.3">Liver</text>
<text x="27.50" y="362.60" font-size="6.3" text-anchor="end" fill="#222" font-weight="normal" stroke="#222" stroke-width="0.15" letter-spacing="0.3">BM</text>
<text x="150.30" y="362.60" font-size="6.3" text-anchor="end" fill="#222" font-weight="normal" stroke="#222" stroke-width="0.15" letter-spacing="0.3">BM</text>
<text x="27.50" y="376.00" font-size="6.3" text-anchor="end" fill="#222" font-weight="normal" stroke="#222" stroke-width="0.15" letter-spacing="0.3">Lung</text>
<text x="150.30" y="376.00" font-size="6.3" text-anchor="end" fill="#222" font-weight="normal" stroke="#222" stroke-width="0.15" letter-spacing="0.3">Lung</text>
<text x="27.50" y="390.30" font-size="6.3" text-anchor="end" fill="#222" font-weight="normal" stroke="#222" stroke-width="0.15" letter-spacing="0.3">Kidney</text>
<text x="150.30" y="390.30" font-size="6.3" text-anchor="end" fill="#222" font-weight="normal" stroke="#222" stroke-width="0.15" letter-spacing="0.3">Kidney</text>
<text x="27.50" y="401.80" font-size="6.3" text-anchor="end" fill="#222" font-weight="normal" stroke="#222" stroke-width="0.15" letter-spacing="0.3">Ascitic</text>
<text x="27.50" y="408.50" font-size="6.3" text-anchor="end" fill="#222" font-weight="normal" stroke="#222" stroke-width="0.15" letter-spacing="0.3">lavage</text>
<text x="150.30" y="401.80" font-size="6.3" text-anchor="end" fill="#222" font-weight="normal" stroke="#222" stroke-width="0.15" letter-spacing="0.3">Ascitic</text>
<text x="150.30" y="408.50" font-size="6.3" text-anchor="end" fill="#222" font-weight="normal" stroke="#222" stroke-width="0.15" letter-spacing="0.3">lavage</text>
<rect x="229.80" y="397.40" width="3.80" height="3.80" fill="#fff" stroke="#111" stroke-width="0.7"/>
<text x="234.80" y="401.40" font-size="6.3" text-anchor="start" fill="#222" font-weight="normal" stroke="#222" stroke-width="0.15" letter-spacing="0.3">Mock</text>
<rect x="229.80" y="405.10" width="3.80" height="3.80" fill="#000" stroke="#111" stroke-width="0.7"/>
<text x="234.80" y="409.10" font-size="6.3" text-anchor="start" fill="#222" font-weight="normal" stroke="#222" stroke-width="0.15" letter-spacing="0.3">EBV</text>
<defs><filter id="blur2" x="-10%" y="-10%" width="120%" height="120%"><feGaussianBlur stdDeviation="3"/></filter><filter id="blur1" x="-10%" y="-10%" width="120%" height="120%"><feGaussianBlur stdDeviation="1.2"/></filter></defs>
<text x="284.60" y="114.40" font-size="12.5" text-anchor="start" fill="#000" font-weight="bold">G</text>
<text x="350.0" y="110.1" font-size="6.3" letter-spacing="0.35" text-anchor="middle"><tspan fill="#3a9a44" stroke="#3a9a44" stroke-width="0.2">CD8</tspan><tspan fill="#cc3040" stroke="#cc3040" stroke-width="0.2">/CD68</tspan><tspan fill="#34508e" stroke="#34508e" stroke-width="0.2">/Hoechst</tspan></text>
<text x="445.3" y="110.5" font-size="6.3" letter-spacing="0.35" text-anchor="middle"><tspan fill="#cc3040" stroke="#cc3040" stroke-width="0.2">CD20</tspan><tspan fill="#34508e" stroke="#34508e" stroke-width="0.2">/Hoechst</tspan></text>
<text x="298.60" y="159.85" font-size="6.3" text-anchor="middle" fill="#222" font-weight="normal" stroke="#222" stroke-width="0.15" letter-spacing="0.3" transform="rotate(-90 298.60 159.85)">Spleen</text>
<text x="298.60" y="255.55" font-size="6.3" text-anchor="middle" fill="#222" font-weight="normal" stroke="#222" stroke-width="0.15" letter-spacing="0.3" transform="rotate(-90 298.60 255.55)">Liver</text>
<clipPath id="cg1"><rect x="303.10" y="113.60" width="93.60" height="92.80"/></clipPath>
<g clip-path="url(#cg1)">
<rect x="303.10" y="113.60" width="93.60" height="92.80" fill="#000" stroke="none" stroke-width="0.7"/>
<g filter="url(#blur2)"><rect x="303.1" y="113.6" width="6.1" height="6.1" fill="#04040c"/><rect x="309.0" y="113.6" width="6.1" height="6.1" fill="#04040c"/><rect x="314.8" y="113.6" width="6.1" height="6.1" fill="#04040c"/><rect x="320.7" y="113.6" width="6.1" height="6.1" fill="#04040c"/><rect x="326.5" y="113.6" width="6.1" height="6.1" fill="#04040c"/><rect x="332.4" y="113.6" width="6.1" height="6.1" fill="#04040c"/><rect x="338.2" y="113.6" width="6.1" height="6.1" fill="#0a0a36"/><rect x="344.1" y="113.6" width="6.1" height="6.1" fill="#0a0a36"/><rect x="349.9" y="113.6" width="6.1" height="6.1" fill="#0a0a36"/><rect x="355.8" y="113.6" width="6.1" height="6.1" fill="#0a0a36"/><rect x="361.6" y="113.6" width="6.1" height="6.1" fill="#0a0a36"/><rect x="367.5" y="113.6" width="6.1" height="6.1" fill="#0a0a36"/><rect x="373.3" y="113.6" width="6.1" height="6.1" fill="#0a2430"/><rect x="379.2" y="113.6" width="6.1" height="6.1" fill="#0a0a36"/><rect x="385.0" y="113.6" width="6.1" height="6.1" fill="#0a0a36"/><rect x="390.9" y="113.6" width="6.1" height="6.1" fill="#0a0a36"/><rect x="303.1" y="119.4" width="6.1" height="6.1" fill="#04040c"/><rect x="309.0" y="119.4" width="6.1" height="6.1" fill="#04040c"/><rect x="314.8" y="119.4" width="6.1" height="6.1" fill="#061a0c"/><rect x="320.7" y="119.4" width="6.1" height="6.1" fill="#061a0c"/><rect x="326.5" y="119.4" width="6.1" height="6.1" fill="#04040c"/><rect x="332.4" y="119.4" width="6.1" height="6.1" fill="#0a0a36"/><rect x="338.2" y="119.4" width="6.1" height="6.1" fill="#0a0a36"/><rect x="344.1" y="119.4" width="6.1" height="6.1" fill="#0a0a36"/><rect x="349.9" y="119.4" width="6.1" height="6.1" fill="#0a2430"/><rect x="355.8" y="119.4" width="6.1" height="6.1" fill="#0a2430"/><rect x="361.6" y="119.4" width="6.1" height="6.1" fill="#0a2430"/><rect x="367.5" y="119.4" width="6.1" height="6.1" fill="#0a2430"/><rect x="373.3" y="119.4" width="6.1" height="6.1" fill="#0a2430"/><rect x="379.2" y="119.4" width="6.1" height="6.1" fill="#0a0a36"/><rect x="385.0" y="119.4" width="6.1" height="6.1" fill="#0a0a36"/><rect x="390.9" y="119.4" width="6.1" height="6.1" fill="#0a0a36"/><rect x="303.1" y="125.2" width="6.1" height="6.1" fill="#04040c"/><rect x="309.0" y="125.2" width="6.1" height="6.1" fill="#0a3016"/><rect x="314.8" y="125.2" width="6.1" height="6.1" fill="#0a3016"/><rect x="320.7" y="125.2" width="6.1" height="6.1" fill="#0a3016"/><rect x="326.5" y="125.2" width="6.1" height="6.1" fill="#0a3016"/><rect x="332.4" y="125.2" width="6.1" height="6.1" fill="#061a0c"/><rect x="338.2" y="125.2" width="6.1" height="6.1" fill="#04040c"/><rect x="344.1" y="125.2" width="6.1" height="6.1" fill="#04040c"/><rect x="349.9" y="125.2" width="6.1" height="6.1" fill="#3a0a0c"/><rect x="355.8" y="125.2" width="6.1" height="6.1" fill="#3a0a0c"/><rect x="361.6" y="125.2" width="6.1" height="6.1" fill="#3a0a0c"/><rect x="367.5" y="125.2" width="6.1" height="6.1" fill="#0a3016"/><rect x="373.3" y="125.2" width="6.1" height="6.1" fill="#0a3016"/><rect x="379.2" y="125.2" width="6.1" height="6.1" fill="#0a2430"/><rect x="385.0" y="125.2" width="6.1" height="6.1" fill="#0a0a36"/><rect x="390.9" y="125.2" width="6.1" height="6.1" fill="#0a0a36"/><rect x="303.1" y="131.0" width="6.1" height="6.1" fill="#061a0c"/><rect x="309.0" y="131.0" width="6.1" height="6.1" fill="#0a3016"/><rect x="314.8" y="131.0" width="6.1" height="6.1" fill="#0a3016"/><rect x="320.7" y="131.0" width="6.1" height="6.1" fill="#0a3016"/><rect x="326.5" y="131.0" width="6.1" height="6.1" fill="#0a3016"/><rect x="332.4" y="131.0" width="6.1" height="6.1" fill="#0a2430"/><rect x="338.2" y="131.0" width="6.1" height="6.1" fill="#0a2430"/><rect x="344.1" y="131.0" width="6.1" height="6.1" fill="#04040c"/><rect x="349.9" y="131.0" width="6.1" height="6.1" fill="#3a0a0c"/><rect x="355.8" y="131.0" width="6.1" height="6.1" fill="#3a0a0c"/><rect x="361.6" y="131.0" width="6.1" height="6.1" fill="#3a0a0c"/><rect x="367.5" y="131.0" width="6.1" height="6.1" fill="#261e0c"/><rect x="373.3" y="131.0" width="6.1" height="6.1" fill="#0a3016"/><rect x="379.2" y="131.0" width="6.1" height="6.1" fill="#0a2430"/><rect x="385.0" y="131.0" width="6.1" height="6.1" fill="#0a2430"/><rect x="390.9" y="131.0" width="6.1" height="6.1" fill="#0a0a36"/><rect x="303.1" y="136.8" width="6.1" height="6.1" fill="#3a0a0c"/><rect x="309.0" y="136.8" width="6.1" height="6.1" fill="#3a0a0c"/><rect x="314.8" y="136.8" width="6.1" height="6.1" fill="#0a3016"/><rect x="320.7" y="136.8" width="6.1" height="6.1" fill="#0a3016"/><rect x="326.5" y="136.8" width="6.1" height="6.1" fill="#0a3016"/><rect x="332.4" y="136.8" width="6.1" height="6.1" fill="#0a3016"/><rect x="338.2" y="136.8" width="6.1" height="6.1" fill="#0a2430"/><rect x="344.1" y="136.8" width="6.1" height="6.1" fill="#04040c"/><rect x="349.9" y="136.8" width="6.1" height="6.1" fill="#261e0c"/><rect x="355.8" y="136.8" width="6.1" height="6.1" fill="#3a0a0c"/><rect x="361.6" y="136.8" width="6.1" height="6.1" fill="#3a0a0c"/><rect x="367.5" y="136.8" width="6.1" height="6.1" fill="#3a0a0c"/><rect x="373.3" y="136.8" width="6.1" height="6.1" fill="#0a3016"/><rect x="379.2" y="136.8" width="6.1" height="6.1" fill="#0a2430"/><rect x="385.0" y="136.8" width="6.1" height="6.1" fill="#0a0a36"/><rect x="390.9" y="136.8" width="6.1" height="6.1" fill="#0a0a36"/><rect x="303.1" y="142.6" width="6.1" height="6.1" fill="#3a0a0c"/><rect x="309.0" y="142.6" width="6.1" height="6.1" fill="#3a0a0c"/><rect x="314.8" y="142.6" width="6.1" height="6.1" fill="#3a0a0c"/><rect x="320.7" y="142.6" width="6.1" height="6.1" fill="#04040c"/><rect x="326.5" y="142.6" width="6.1" height="6.1" fill="#0a3016"/><rect x="332.4" y="142.6" width="6.1" height="6.1" fill="#0a3016"/><rect x="338.2" y="142.6" width="6.1" height="6.1" fill="#0a3016"/><rect x="344.1" y="142.6" width="6.1" height="6.1" fill="#061a0c"/><rect x="349.9" y="142.6" width="6.1" height="6.1" fill="#261e0c"/><rect x="355.8" y="142.6" width="6.1" height="6.1" fill="#0a3016"/><rect x="361.6" y="142.6" width="6.1" height="6.1" fill="#3a0a0c"/><rect x="367.5" y="142.6" width="6.1" height="6.1" fill="#3a0a0c"/><rect x="373.3" y="142.6" width="6.1" height="6.1" fill="#261e0c"/><rect x="379.2" y="142.6" width="6.1" height="6.1" fill="#0a2430"/><rect x="385.0" y="142.6" width="6.1" height="6.1" fill="#0a2430"/><rect x="390.9" y="142.6" width="6.1" height="6.1" fill="#0a0a36"/><rect x="303.1" y="148.4" width="6.1" height="6.1" fill="#3a0a0c"/><rect x="309.0" y="148.4" width="6.1" height="6.1" fill="#3a0a0c"/><rect x="314.8" y="148.4" width="6.1" height="6.1" fill="#3a0a0c"/><rect x="320.7" y="148.4" width="6.1" height="6.1" fill="#3a0a0c"/><rect x="326.5" y="148.4" width="6.1" height="6.1" fill="#04040c"/><rect x="332.4" y="148.4" width="6.1" height="6.1" fill="#061a0c"/><rect x="338.2" y="148.4" width="6.1" height="6.1" fill="#3a0a0c"/><rect x="344.1" y="148.4" width="6.1" height="6.1" fill="#3a0a0c"/><rect x="349.9" y="148.4" width="6.1" height="6.1" fill="#0a3016"/><rect x="355.8" y="148.4" width="6.1" height="6.1" fill="#0a3016"/><rect x="361.6" y="148.4" width="6.1" height="6.1" fill="#3a0a0c"/><rect x="367.5" y="148.4" width="6.1" height="6.1" fill="#0a3016"/><rect x="373.3" y="148.4" width="6.1" height="6.1" fill="#0a2430"/><rect x="379.2" y="148.4" width="6.1" height="6.1" fill="#3a0a0c"/><rect x="385.0" y="148.4" width="6.1" height="6.1" fill="#0a2430"/><rect x="390.9" y="148.4" width="6.1" height="6.1" fill="#0a0a36"/><rect x="303.1" y="154.2" width="6.1" height="6.1" fill="#3a0a0c"/><rect x="309.0" y="154.2" width="6.1" height="6.1" fill="#3a0a0c"/><rect x="314.8" y="154.2" width="6.1" height="6.1" fill="#061a0c"/><rect x="320.7" y="154.2" width="6.1" height="6.1" fill="#3a0a0c"/><rect x="326.5" y="154.2" width="6.1" height="6.1" fill="#3a0a0c"/><rect x="332.4" y="154.2" width="6.1" height="6.1" fill="#3a0a0c"/><rect x="338.2" y="154.2" width="6.1" height="6.1" fill="#3a0a0c"/><rect x="344.1" y="154.2" width="6.1" height="6.1" fill="#3a0a0c"/><rect x="349.9" y="154.2" width="6.1" height="6.1" fill="#0a3016"/><rect x="355.8" y="154.2" width="6.1" height="6.1" fill="#0a3016"/><rect x="361.6" y="154.2" width="6.1" height="6.1" fill="#0a2430"/><rect x="367.5" y="154.2" width="6.1" height="6.1" fill="#0a3016"/><rect x="373.3" y="154.2" width="6.1" height="6.1" fill="#0a2430"/><rect x="379.2" y="154.2" width="6.1" height="6.1" fill="#3a0a0c"/><rect x="385.0" y="154.2" width="6.1" height="6.1" fill="#0a2430"/><rect x="390.9" y="154.2" width="6.1" height="6.1" fill="#0a2430"/><rect x="303.1" y="160.0" width="6.1" height="6.1" fill="#04040c"/><rect x="309.0" y="160.0" width="6.1" height="6.1" fill="#061a0c"/><rect x="314.8" y="160.0" width="6.1" height="6.1" fill="#0a3016"/><rect x="320.7" y="160.0" width="6.1" height="6.1" fill="#3a0a0c"/><rect x="326.5" y="160.0" width="6.1" height="6.1" fill="#04040c"/><rect x="332.4" y="160.0" width="6.1" height="6.1" fill="#3a0a0c"/><rect x="338.2" y="160.0" width="6.1" height="6.1" fill="#3a0a0c"/><rect x="344.1" y="160.0" width="6.1" height="6.1" fill="#0a3016"/><rect x="349.9" y="160.0" width="6.1" height="6.1" fill="#0a3016"/><rect x="355.8" y="160.0" width="6.1" height="6.1" fill="#0a2430"/><rect x="361.6" y="160.0" width="6.1" height="6.1" fill="#0a2430"/><rect x="367.5" y="160.0" width="6.1" height="6.1" fill="#0a3016"/><rect x="373.3" y="160.0" width="6.1" height="6.1" fill="#0a3016"/><rect x="379.2" y="160.0" width="6.1" height="6.1" fill="#0a2430"/><rect x="385.0" y="160.0" width="6.1" height="6.1" fill="#3a0a0c"/><rect x="390.9" y="160.0" width="6.1" height="6.1" fill="#0a2430"/><rect x="303.1" y="165.8" width="6.1" height="6.1" fill="#04040c"/><rect x="309.0" y="165.8" width="6.1" height="6.1" fill="#04040c"/><rect x="314.8" y="165.8" width="6.1" height="6.1" fill="#061a0c"/><rect x="320.7" y="165.8" width="6.1" height="6.1" fill="#3a0a0c"/><rect x="326.5" y="165.8" width="6.1" height="6.1" fill="#3a0a0c"/><rect x="332.4" y="165.8" width="6.1" height="6.1" fill="#061a0c"/><rect x="338.2" y="165.8" width="6.1" height="6.1" fill="#0a3016"/><rect x="344.1" y="165.8" width="6.1" height="6.1" fill="#0a3016"/><rect x="349.9" y="165.8" width="6.1" height="6.1" fill="#0a3016"/><rect x="355.8" y="165.8" width="6.1" height="6.1" fill="#0a3016"/><rect x="361.6" y="165.8" width="6.1" height="6.1" fill="#0a2430"/><rect x="367.5" y="165.8" width="6.1" height="6.1" fill="#0a3016"/><rect x="373.3" y="165.8" width="6.1" height="6.1" fill="#0a2430"/><rect x="379.2" y="165.8" width="6.1" height="6.1" fill="#0a2430"/><rect x="385.0" y="165.8" width="6.1" height="6.1" fill="#0a2430"/><rect x="390.9" y="165.8" width="6.1" height="6.1" fill="#0a2430"/><rect x="303.1" y="171.6" width="6.1" height="6.1" fill="#061a0c"/><rect x="309.0" y="171.6" width="6.1" height="6.1" fill="#0a3016"/><rect x="314.8" y="171.6" width="6.1" height="6.1" fill="#0a3016"/><rect x="320.7" y="171.6" width="6.1" height="6.1" fill="#061a0c"/><rect x="326.5" y="171.6" width="6.1" height="6.1" fill="#04040c"/><rect x="332.4" y="171.6" width="6.1" height="6.1" fill="#3a0a0c"/><rect x="338.2" y="171.6" width="6.1" height="6.1" fill="#3a0a0c"/><rect x="344.1" y="171.6" width="6.1" height="6.1" fill="#0a3016"/><rect x="349.9" y="171.6" width="6.1" height="6.1" fill="#261e0c"/><rect x="355.8" y="171.6" width="6.1" height="6.1" fill="#0a3016"/><rect x="361.6" y="171.6" width="6.1" height="6.1" fill="#0a3016"/><rect x="367.5" y="171.6" width="6.1" height="6.1" fill="#0a3016"/><rect x="373.3" y="171.6" width="6.1" height="6.1" fill="#0a3016"/><rect x="379.2" y="171.6" width="6.1" height="6.1" fill="#0a2430"/><rect x="385.0" y="171.6" width="6.1" height="6.1" fill="#0a3016"/><rect x="390.9" y="171.6" width="6.1" height="6.1" fill="#0a2430"/><rect x="303.1" y="177.4" width="6.1" height="6.1" fill="#0a3016"/><rect x="309.0" y="177.4" width="6.1" height="6.1" fill="#0a3016"/><rect x="314.8" y="177.4" width="6.1" height="6.1" fill="#0a2430"/><rect x="320.7" y="177.4" width="6.1" height="6.1" fill="#0a3016"/><rect x="326.5" y="177.4" width="6.1" height="6.1" fill="#061a0c"/><rect x="332.4" y="177.4" width="6.1" height="6.1" fill="#061a0c"/><rect x="338.2" y="177.4" width="6.1" height="6.1" fill="#04040c"/><rect x="344.1" y="177.4" width="6.1" height="6.1" fill="#3a0a0c"/><rect x="349.9" y="177.4" width="6.1" height="6.1" fill="#3a0a0c"/><rect x="355.8" y="177.4" width="6.1" height="6.1" fill="#261e0c"/><rect x="361.6" y="177.4" width="6.1" height="6.1" fill="#0a3016"/><rect x="367.5" y="177.4" width="6.1" height="6.1" fill="#0a3016"/><rect x="373.3" y="177.4" width="6.1" height="6.1" fill="#0a2430"/><rect x="379.2" y="177.4" width="6.1" height="6.1" fill="#3a0a0c"/><rect x="385.0" y="177.4" width="6.1" height="6.1" fill="#0a2430"/><rect x="390.9" y="177.4" width="6.1" height="6.1" fill="#0a2430"/><rect x="303.1" y="183.2" width="6.1" height="6.1" fill="#0a3016"/><rect x="309.0" y="183.2" width="6.1" height="6.1" fill="#0a2430"/><rect x="314.8" y="183.2" width="6.1" height="6.1" fill="#0a3016"/><rect x="320.7" y="183.2" width="6.1" height="6.1" fill="#0a3016"/><rect x="326.5" y="183.2" width="6.1" height="6.1" fill="#3a0a0c"/><rect x="332.4" y="183.2" width="6.1" height="6.1" fill="#3a0a0c"/><rect x="338.2" y="183.2" width="6.1" height="6.1" fill="#04040c"/><rect x="344.1" y="183.2" width="6.1" height="6.1" fill="#3a0a0c"/><rect x="349.9" y="183.2" width="6.1" height="6.1" fill="#3a0a0c"/><rect x="355.8" y="183.2" width="6.1" height="6.1" fill="#0a3016"/><rect x="361.6" y="183.2" width="6.1" height="6.1" fill="#0a3016"/><rect x="367.5" y="183.2" width="6.1" height="6.1" fill="#0a2430"/><rect x="373.3" y="183.2" width="6.1" height="6.1" fill="#0a2430"/><rect x="379.2" y="183.2" width="6.1" height="6.1" fill="#0a2430"/><rect x="385.0" y="183.2" width="6.1" height="6.1" fill="#0a3016"/><rect x="390.9" y="183.2" width="6.1" height="6.1" fill="#0a2430"/><rect x="303.1" y="189.0" width="6.1" height="6.1" fill="#0a3016"/><rect x="309.0" y="189.0" width="6.1" height="6.1" fill="#0a3016"/><rect x="314.8" y="189.0" width="6.1" height="6.1" fill="#0a2430"/><rect x="320.7" y="189.0" width="6.1" height="6.1" fill="#0a3016"/><rect x="326.5" y="189.0" width="6.1" height="6.1" fill="#3a0a0c"/><rect x="332.4" y="189.0" width="6.1" height="6.1" fill="#3a0a0c"/><rect x="338.2" y="189.0" width="6.1" height="6.1" fill="#3a0a0c"/><rect x="344.1" y="189.0" width="6.1" height="6.1" fill="#061a0c"/><rect x="349.9" y="189.0" width="6.1" height="6.1" fill="#0a3016"/><rect x="355.8" y="189.0" width="6.1" height="6.1" fill="#0a3016"/><rect x="361.6" y="189.0" width="6.1" height="6.1" fill="#0a3016"/><rect x="367.5" y="189.0" width="6.1" height="6.1" fill="#0a2430"/><rect x="373.3" y="189.0" width="6.1" height="6.1" fill="#0a3016"/><rect x="379.2" y="189.0" width="6.1" height="6.1" fill="#0a2430"/><rect x="385.0" y="189.0" width="6.1" height="6.1" fill="#0a2430"/><rect x="390.9" y="189.0" width="6.1" height="6.1" fill="#0a2430"/><rect x="303.1" y="194.8" width="6.1" height="6.1" fill="#0a3016"/><rect x="309.0" y="194.8" width="6.1" height="6.1" fill="#0a2430"/><rect x="314.8" y="194.8" width="6.1" height="6.1" fill="#0a3016"/><rect x="320.7" y="194.8" width="6.1" height="6.1" fill="#0a3016"/><rect x="326.5" y="194.8" width="6.1" height="6.1" fill="#0a3016"/><rect x="332.4" y="194.8" width="6.1" height="6.1" fill="#3a0a0c"/><rect x="338.2" y="194.8" width="6.1" height="6.1" fill="#3a0a0c"/><rect x="344.1" y="194.8" width="6.1" height="6.1" fill="#261e0c"/><rect x="349.9" y="194.8" width="6.1" height="6.1" fill="#0a3016"/><rect x="355.8" y="194.8" width="6.1" height="6.1" fill="#0a3016"/><rect x="361.6" y="194.8" width="6.1" height="6.1" fill="#0a2430"/><rect x="367.5" y="194.8" width="6.1" height="6.1" fill="#04040c"/><rect x="373.3" y="194.8" width="6.1" height="6.1" fill="#04040c"/><rect x="379.2" y="194.8" width="6.1" height="6.1" fill="#04040c"/><rect x="385.0" y="194.8" width="6.1" height="6.1" fill="#04040c"/><rect x="390.9" y="194.8" width="6.1" height="6.1" fill="#0a2430"/><rect x="303.1" y="200.6" width="6.1" height="6.1" fill="#061a0c"/><rect x="309.0" y="200.6" width="6.1" height="6.1" fill="#0a3016"/><rect x="314.8" y="200.6" width="6.1" height="6.1" fill="#0a3016"/><rect x="320.7" y="200.6" width="6.1" height="6.1" fill="#0a2430"/><rect x="326.5" y="200.6" width="6.1" height="6.1" fill="#0a3016"/><rect x="332.4" y="200.6" width="6.1" height="6.1" fill="#3a0a0c"/><rect x="338.2" y="200.6" width="6.1" height="6.1" fill="#3a0a0c"/><rect x="344.1" y="200.6" width="6.1" height="6.1" fill="#061a0c"/><rect x="349.9" y="200.6" width="6.1" height="6.1" fill="#0a3016"/><rect x="355.8" y="200.6" width="6.1" height="6.1" fill="#0a2430"/><rect x="361.6" y="200.6" width="6.1" height="6.1" fill="#0a2430"/><rect x="367.5" y="200.6" width="6.1" height="6.1" fill="#0a2430"/><rect x="373.3" y="200.6" width="6.1" height="6.1" fill="#0a2430"/><rect x="379.2" y="200.6" width="6.1" height="6.1" fill="#0a2430"/><rect x="385.0" y="200.6" width="6.1" height="6.1" fill="#0a2430"/><rect x="390.9" y="200.6" width="6.1" height="6.1" fill="#0a2430"/></g>
<path stroke="#23aa50" stroke-width="1.6" stroke-linecap="round" d="M346.7 160.7h0M323.1 199.6h0M340.1 205.5h0M314.6 161.0h0M304.4 136.3h0M309.9 171.0h0M354.0 165.6h0M374.1 183.4h0M319.9 165.2h0M375.0 146.1h0M388.0 188.2h0M324.0 180.6h0M361.4 182.5h0M307.7 191.1h0M389.6 177.6h0M313.4 146.8h0M320.4 176.5h0M317.2 164.8h0M341.3 128.2h0M387.4 176.2h0M367.0 192.9h0M378.5 141.9h0M313.1 126.4h0M385.4 185.7h0M366.7 180.5h0M367.6 116.9h0M371.6 183.0h0M345.8 202.8h0M347.2 167.6h0M343.1 167.3h0M336.4 168.0h0M359.2 174.4h0M351.4 151.6h0M372.6 170.9h0M322.5 182.3h0M366.7 157.6h0M304.3 206.4h0M322.4 181.7h0M334.8 169.4h0M305.8 185.2h0M378.3 147.9h0M322.8 138.3h0M360.8 163.5h0M316.7 199.6h0M316.8 200.8h0M374.7 193.0h0M396.5 168.9h0M329.2 202.6h0M332.0 185.8h0M324.1 125.6h0M319.7 125.8h0M350.8 157.2h0M355.0 123.3h0M307.3 175.5h0M328.3 141.6h0M323.4 196.2h0M339.4 136.4h0M322.0 189.5h0M375.0 172.9h0M342.1 152.8h0M388.5 173.1h0M357.8 161.7h0M303.5 133.1h0M355.7 201.1h0M386.5 192.2h0M312.2 191.8h0M317.5 197.0h0M353.4 199.3h0M370.3 148.8h0M358.7 199.8h0M360.1 147.7h0M379.4 193.2h0M362.4 172.9h0M391.0 194.6h0M352.0 201.6h0M355.6 169.0h0M319.5 186.9h0M377.5 128.7h0M315.8 132.3h0M374.5 175.8h0M367.7 125.3h0M317.6 163.8h0M321.0 163.7h0M338.2 140.4h0M337.9 152.4h0M339.4 171.3h0M360.0 182.0h0M353.6 200.8h0M354.2 137.9h0M368.8 178.8h0M318.2 160.0h0M361.4 194.9h0M310.6 202.1h0M345.1 170.5h0M355.3 205.4h0M323.5 140.5h0M371.5 152.9h0M336.7 146.9h0M319.6 128.1h0M318.6 176.6h0M366.0 177.1h0M377.0 161.3h0M371.4 126.8h0M321.9 125.3h0M356.2 204.7h0M349.8 191.7h0M370.6 166.5h0M370.8 151.9h0M334.3 149.9h0M323.8 185.7h0M374.8 174.2h0M376.3 180.5h0M369.1 174.7h0"/>
<path stroke="#135d2c" stroke-width="2.0" stroke-linecap="round" d="M362.1 187.2h0M311.1 174.4h0M332.8 131.4h0M356.3 205.9h0M352.1 200.6h0M358.5 172.4h0M321.4 191.4h0M352.2 124.3h0M356.7 194.6h0M306.0 179.2h0M317.1 131.5h0M327.8 123.2h0M371.0 129.9h0M309.3 174.2h0M348.7 114.4h0M322.7 184.4h0M318.7 168.0h0M364.7 157.1h0M379.4 141.7h0M364.5 175.7h0M371.8 166.2h0M390.1 134.3h0M387.1 191.2h0M309.8 175.2h0M315.6 142.4h0M344.4 188.6h0M316.4 183.7h0M357.6 143.7h0M392.0 182.5h0M317.7 172.0h0M346.8 160.6h0M345.2 176.3h0M326.7 201.9h0M371.3 166.0h0M336.5 140.7h0M320.2 199.6h0M368.5 131.1h0M366.7 192.8h0M315.4 198.7h0M357.1 166.8h0M374.1 127.5h0M318.6 133.2h0M366.6 181.0h0M349.5 199.0h0M370.4 160.8h0M374.0 194.2h0M316.1 120.0h0M351.2 193.8h0M376.2 139.4h0M315.3 169.8h0M349.2 171.5h0M306.6 197.9h0M356.1 167.2h0M312.8 193.1h0M389.7 183.4h0M326.9 128.4h0M312.7 140.4h0M351.1 192.4h0M368.9 193.9h0M331.2 200.6h0M388.5 188.4h0M369.5 183.2h0M390.3 180.7h0M303.5 158.0h0M359.7 159.4h0M320.8 131.6h0M356.9 141.5h0M315.0 155.4h0M376.8 165.0h0M346.7 205.1h0M355.8 144.8h0M318.3 188.0h0M346.1 174.4h0M355.7 148.0h0M327.4 136.2h0M387.2 172.7h0M360.4 165.5h0M313.6 187.8h0M366.9 195.7h0M324.3 196.4h0M334.9 188.2h0M344.1 166.8h0M361.5 114.4h0M384.3 170.5h0M348.8 164.2h0M368.7 134.9h0M339.0 145.7h0M350.8 142.0h0M382.9 203.3h0M336.1 189.2h0M367.6 166.0h0M312.6 134.0h0M369.6 151.1h0M323.7 192.0h0M364.8 192.3h0M362.8 179.8h0M387.5 185.0h0M319.2 162.1h0M325.5 157.3h0M333.9 145.5h0M346.3 175.3h0M334.6 175.5h0M312.7 203.5h0M325.9 126.5h0M336.0 134.8h0M355.1 192.7h0M375.9 194.1h0M388.2 183.7h0M348.9 162.7h0M341.0 151.5h0M368.4 130.7h0M325.5 130.8h0M351.3 165.3h0M329.7 145.7h0M330.3 138.2h0M348.0 145.3h0M364.1 197.7h0M352.6 197.4h0M315.4 183.2h0M361.0 178.6h0M319.8 179.4h0M368.5 179.2h0M366.1 193.4h0M323.7 200.5h0M370.0 163.5h0M308.2 200.6h0M326.6 196.2h0M318.3 142.6h0M354.9 205.1h0M351.8 136.6h0M387.1 155.8h0M317.8 134.7h0M375.6 192.7h0"/>
<path stroke="#1c8840" stroke-width="2.0" stroke-linecap="round" d="M378.9 178.0h0M360.1 121.0h0M314.7 136.1h0M352.0 191.9h0M326.2 159.4h0M351.3 159.8h0M332.1 198.1h0M373.8 165.2h0M322.3 127.3h0M360.8 153.8h0M328.2 138.8h0M385.5 153.7h0M338.5 189.4h0M366.7 160.1h0M331.2 202.3h0M309.3 204.3h0M377.4 159.5h0M363.0 123.9h0M311.8 190.4h0M352.2 162.4h0M324.9 188.1h0M319.9 140.7h0M373.1 131.3h0M303.8 183.6h0M362.0 134.9h0M354.6 160.6h0M363.4 184.4h0M322.8 186.1h0M308.5 171.4h0M323.9 173.8h0M384.6 129.1h0M320.5 205.6h0M390.1 172.7h0M332.9 145.1h0M372.9 130.1h0M375.2 191.0h0M369.5 175.5h0M320.8 126.2h0M323.5 164.4h0M377.6 146.3h0M328.7 147.2h0M329.2 138.6h0M349.6 165.3h0M349.0 166.1h0M320.4 120.7h0M352.4 200.0h0M354.5 157.7h0M371.7 170.5h0M319.6 137.1h0M312.9 179.8h0M345.2 164.2h0M352.3 175.6h0M315.2 155.1h0M313.6 189.8h0M379.5 191.7h0M337.8 147.2h0M359.0 198.8h0M307.7 198.6h0M305.7 175.1h0M374.6 180.3h0M372.2 116.5h0M349.8 200.3h0M339.9 171.3h0M318.6 164.1h0M362.9 188.4h0M360.0 153.5h0M350.8 120.1h0M325.3 186.5h0M352.6 171.3h0M352.0 177.4h0M374.0 127.7h0M346.1 194.5h0M336.5 177.3h0M356.0 133.0h0M356.1 175.0h0M357.8 153.7h0M338.6 145.9h0M355.3 173.0h0M367.7 169.1h0M321.5 197.3h0M327.0 170.4h0M364.4 176.2h0M353.1 137.0h0M364.8 161.2h0M327.2 162.2h0M329.5 133.3h0M356.3 183.2h0M346.4 164.0h0M335.3 144.7h0M349.1 190.0h0M348.4 176.5h0M368.2 162.2h0M337.5 151.4h0M329.9 148.4h0M372.9 159.4h0M311.5 191.0h0M378.8 155.2h0M312.6 202.1h0M346.6 171.2h0M338.1 167.5h0M307.9 183.2h0M307.3 193.8h0M376.5 179.5h0M304.8 181.5h0M305.3 175.6h0M326.4 136.9h0M352.7 154.8h0M316.4 163.8h0M373.2 152.4h0M331.5 174.9h0M320.7 197.1h0M312.7 178.2h0M320.0 163.5h0M325.2 182.3h0M368.0 132.8h0M351.8 199.6h0M322.5 187.6h0M383.2 168.4h0M373.5 191.0h0M340.1 168.7h0M329.0 200.7h0M346.0 163.9h0M321.4 178.9h0M321.1 180.3h0M312.7 205.7h0M362.1 191.6h0M375.6 163.8h0M314.1 177.0h0M309.6 135.3h0M349.0 196.7h0M389.4 193.8h0M378.1 192.3h0M330.4 146.4h0M315.5 177.2h0M324.5 175.5h0M351.8 150.4h0M386.0 144.9h0M378.7 126.0h0M325.2 127.8h0M390.5 175.5h0M344.1 167.7h0"/>
<path stroke="#10524d" stroke-width="1.2" stroke-linecap="round" d="M372.3 173.9h0M310.0 197.6h0M384.7 147.8h0M385.4 206.0h0M319.9 181.7h0M374.1 118.9h0M353.7 118.4h0M360.7 201.2h0M389.8 156.0h0M374.2 160.3h0M334.5 141.5h0M372.1 122.0h0M363.3 120.7h0M326.1 137.6h0M392.4 163.8h0M393.6 183.3h0M370.9 125.0h0M382.5 123.1h0M385.3 130.0h0M385.1 202.4h0M377.6 169.3h0M381.0 167.6h0M344.3 122.1h0M341.1 133.3h0M305.6 196.2h0M370.3 157.1h0M371.7 152.3h0M363.1 121.2h0M369.0 181.8h0M322.8 128.7h0M351.8 168.3h0M380.9 175.6h0M376.0 135.9h0M378.9 173.7h0M395.8 197.1h0M332.8 148.2h0M380.5 168.5h0M387.3 168.6h0M362.8 163.2h0M318.0 189.5h0M314.6 206.2h0M393.8 163.6h0M332.1 131.8h0M324.9 128.1h0M321.0 190.7h0M373.9 187.9h0M358.2 122.4h0M357.2 206.4h0M377.5 151.0h0M367.9 178.1h0M365.8 178.0h0M315.4 135.6h0M383.2 176.0h0M356.5 121.6h0M356.7 155.0h0M344.8 160.5h0M367.2 205.6h0M376.7 206.4h0"/>
<path stroke="#187870" stroke-width="1.6" stroke-linecap="round" d="M306.4 195.2h0M391.0 166.5h0M354.0 162.4h0M308.1 186.4h0M316.8 172.2h0M358.6 202.8h0M316.2 183.8h0M319.5 130.5h0M324.7 136.2h0M375.7 154.2h0M316.6 183.6h0M395.2 169.4h0M369.9 192.1h0M382.0 141.9h0M338.0 136.2h0M329.6 197.5h0M320.8 190.3h0M376.0 119.1h0M387.0 145.7h0M305.1 189.3h0M347.2 171.8h0M368.0 191.3h0M346.2 120.9h0M388.9 204.2h0M367.3 199.9h0M372.3 176.4h0M381.8 184.3h0M308.1 190.7h0M352.3 116.3h0M317.1 128.7h0M341.3 168.3h0M350.3 163.8h0M332.1 142.9h0M319.6 141.7h0M373.3 139.7h0M375.6 166.3h0M377.3 140.1h0M370.4 125.1h0M370.0 203.8h0M319.1 180.2h0M378.9 157.7h0M319.5 198.2h0M323.8 187.8h0M304.7 192.2h0M390.6 202.7h0M317.0 164.3h0M381.4 191.7h0M362.6 160.5h0M339.0 113.8h0M358.6 176.3h0M321.2 203.5h0"/>
<path stroke="#761013" stroke-width="2.0" stroke-linecap="round" d="M358.4 131.7h0M346.8 180.0h0M344.9 149.1h0M333.3 130.6h0M389.2 162.6h0M390.3 161.7h0M389.9 172.9h0M317.3 142.9h0M331.5 156.7h0M349.7 186.4h0M339.9 192.8h0M347.1 197.2h0M342.1 202.4h0M308.2 144.3h0M347.7 201.9h0M369.4 131.7h0M354.1 181.6h0M325.2 167.0h0M363.0 126.9h0M386.2 164.3h0M328.2 169.0h0M336.0 198.7h0M351.9 167.6h0M330.7 192.2h0M337.9 185.5h0M309.7 151.9h0M307.2 157.4h0M322.4 155.1h0M364.2 126.2h0M362.2 149.6h0M330.8 171.1h0M368.2 125.6h0M339.6 158.2h0M305.1 156.1h0M344.2 185.2h0M338.5 175.1h0M306.4 140.6h0M327.1 185.9h0M336.3 164.6h0M356.1 139.4h0M370.4 140.6h0M379.5 157.5h0M305.5 154.9h0M336.6 192.3h0M314.3 153.2h0M335.4 177.0h0M354.5 177.3h0M341.1 194.2h0M366.1 149.3h0M343.2 199.0h0M319.4 150.5h0M312.8 152.0h0M354.7 127.5h0M354.8 138.0h0M305.4 175.0h0M335.0 186.1h0M336.5 204.9h0M334.5 197.6h0M380.8 150.6h0M365.0 130.9h0M314.8 161.0h0M320.3 147.2h0M362.3 150.8h0M384.9 178.6h0M324.3 167.0h0M342.2 156.4h0M309.9 153.7h0M327.3 186.6h0M339.4 190.5h0M345.0 185.5h0M340.7 152.1h0M323.1 159.3h0M330.9 200.2h0M345.6 199.2h0M322.1 153.3h0M364.7 138.0h0M362.8 129.5h0M390.6 164.3h0M360.8 147.9h0M389.3 164.5h0M331.2 187.3h0M355.0 134.2h0M354.2 182.9h0M339.9 199.8h0M322.9 164.4h0M326.2 132.5h0M313.2 156.9h0M365.1 134.3h0M339.6 176.0h0M336.2 198.6h0M340.7 202.7h0M367.2 126.9h0M327.9 159.7h0M330.1 154.7h0M352.9 171.8h0"/>
<path stroke="#d71e23" stroke-width="1.2" stroke-linecap="round" d="M326.9 183.9h0M342.5 197.6h0M353.1 133.9h0M341.3 147.0h0M327.6 167.6h0M385.0 152.2h0M325.3 165.9h0M363.9 152.7h0M352.3 138.2h0M351.5 146.6h0M337.0 156.7h0M352.4 146.5h0M344.5 188.2h0M316.6 151.1h0M376.2 163.6h0M339.6 205.0h0M361.1 141.3h0M371.3 135.9h0M348.9 154.3h0M350.2 142.0h0M305.8 146.0h0M368.8 152.8h0M304.3 143.3h0M331.6 157.6h0M367.5 138.0h0M384.1 151.5h0M318.5 152.2h0M333.4 202.8h0M335.3 175.2h0M335.1 197.8h0M314.4 150.6h0M340.6 163.7h0M327.8 190.1h0M349.3 184.7h0M390.8 163.8h0M355.8 168.5h0M346.8 185.9h0M345.1 153.7h0M359.1 132.7h0M324.2 166.4h0M322.1 149.3h0M317.2 143.4h0M342.6 191.9h0M327.7 184.6h0M337.5 175.0h0M354.4 126.9h0M349.4 195.9h0M305.1 142.1h0M333.9 187.5h0M341.0 201.1h0M347.8 178.8h0M339.3 148.8h0M355.2 176.9h0M365.1 126.0h0M306.9 152.0h0M375.4 198.3h0M303.4 137.7h0M372.3 145.2h0M372.1 143.6h0M327.1 167.5h0M338.8 153.4h0M339.8 189.8h0M331.1 170.1h0M309.1 138.5h0M321.2 168.4h0M357.7 139.1h0M347.5 125.5h0M326.4 155.5h0M311.3 140.9h0M356.6 130.1h0M331.2 187.9h0M340.4 172.1h0M334.9 187.5h0M352.2 134.4h0M304.1 150.9h0M344.5 177.7h0M346.7 154.5h0M329.2 146.8h0M348.8 184.8h0M326.4 164.3h0M311.1 159.2h0M343.3 175.6h0M367.1 152.1h0M379.7 178.9h0M368.1 174.3h0M303.8 138.3h0"/>
<path stroke="#1e1ebe" stroke-width="1.2" stroke-linecap="round" d="M340.6 192.2h0M383.9 166.8h0M364.3 167.5h0M378.2 152.7h0M386.9 189.3h0M394.6 157.5h0M311.2 134.7h0M373.6 196.9h0M396.6 165.9h0M319.0 123.3h0M316.6 166.0h0M388.2 155.9h0M391.4 127.7h0M367.2 160.3h0M348.8 117.2h0M319.8 124.5h0M333.8 130.0h0M339.9 187.1h0M343.2 114.2h0M370.7 179.2h0M358.6 118.1h0M340.3 186.3h0M388.6 115.4h0M346.1 169.9h0M388.0 138.9h0M350.4 183.1h0M395.4 155.3h0M305.2 172.8h0M370.0 201.9h0M392.9 203.0h0M388.0 190.4h0M309.6 168.0h0M341.3 132.4h0M330.3 131.4h0M358.5 124.2h0M381.3 174.0h0M379.4 170.4h0M343.6 182.4h0M391.8 172.2h0M372.7 188.4h0M382.4 201.8h0M350.4 168.0h0M373.5 200.6h0M338.2 119.8h0M336.8 133.9h0M368.4 118.0h0M377.0 124.3h0M360.2 156.6h0M323.3 169.8h0M357.9 121.8h0M372.2 189.1h0M387.9 198.0h0M311.0 141.2h0M365.7 204.7h0M368.4 186.0h0M318.6 183.0h0M331.4 147.1h0M361.0 115.8h0M329.7 187.8h0M366.1 160.9h0M388.9 170.5h0M373.3 161.3h0M373.5 158.1h0M370.4 192.9h0M384.1 144.7h0M391.3 132.4h0M385.4 181.7h0"/>
<path stroke="#1c8840" stroke-width="1.2" stroke-linecap="round" d="M342.4 166.1h0M350.7 205.0h0M373.7 132.2h0M351.4 150.8h0M355.8 130.0h0M342.7 167.6h0M363.8 185.6h0M344.4 165.3h0M361.3 198.6h0M326.2 187.2h0M351.5 164.5h0M366.3 133.7h0M367.8 181.9h0M335.5 178.9h0M319.6 138.9h0M336.4 147.0h0M325.4 191.9h0M352.8 172.0h0M335.2 162.9h0M344.9 176.3h0M347.2 164.9h0M378.4 149.8h0M373.8 162.6h0M376.8 172.4h0M373.0 136.4h0M370.9 205.9h0M355.3 157.9h0M330.6 196.1h0M381.6 116.3h0M320.8 193.3h0M356.9 167.4h0M318.6 136.3h0M309.6 193.2h0M348.9 177.2h0M312.0 203.4h0M368.3 128.8h0M353.7 173.2h0M374.1 140.4h0M340.8 185.7h0M313.1 176.4h0M375.5 191.6h0M378.0 160.2h0M347.3 153.9h0M356.2 131.1h0M373.8 148.5h0M310.4 175.6h0M310.8 126.4h0M335.8 146.0h0M316.9 131.1h0M374.0 136.3h0M314.5 179.9h0M312.7 134.7h0M325.9 195.2h0M310.1 182.9h0M356.9 198.2h0M306.7 199.5h0M358.7 167.4h0M321.7 136.7h0M318.9 129.1h0M346.3 200.4h0M373.5 133.5h0M356.0 176.0h0M369.7 167.4h0M394.3 163.6h0M314.3 114.8h0M352.4 190.1h0M345.9 173.5h0M370.6 150.1h0M330.4 147.6h0M325.7 184.9h0M381.9 128.9h0M326.3 193.9h0M312.5 171.7h0M367.5 167.3h0M366.7 184.6h0M318.1 197.0h0M332.0 196.8h0M395.4 127.5h0M390.5 177.2h0M358.4 197.7h0M313.3 181.9h0M320.8 120.1h0M319.8 136.5h0M317.9 135.2h0M328.9 129.9h0M358.3 129.9h0M304.3 189.4h0M366.6 141.9h0M319.4 139.8h0M317.8 139.4h0M351.6 197.4h0M360.4 151.3h0M324.2 127.6h0M312.9 129.6h0M357.6 155.2h0M350.4 193.9h0M368.0 182.7h0M374.8 170.0h0M326.2 171.4h0M370.7 140.4h0M312.4 203.5h0M320.3 180.5h0M369.0 177.5h0M306.0 202.9h0M323.5 192.5h0M339.7 203.2h0M307.3 192.1h0M384.6 138.2h0M357.8 158.6h0M371.8 170.2h0M334.6 171.6h0M325.8 177.8h0M394.5 171.2h0M339.8 144.3h0M322.8 121.4h0M391.6 172.5h0M376.0 129.6h0M374.4 173.4h0M356.6 154.4h0M330.5 154.9h0M337.5 137.0h0M316.1 180.0h0M311.7 129.0h0M366.4 176.4h0M376.7 130.8h0M357.4 179.3h0M357.6 171.5h0M361.4 193.3h0M372.7 162.6h0M368.1 173.7h0M378.7 177.3h0M344.6 156.9h0M368.3 182.0h0M329.5 133.6h0M303.1 176.8h0"/>
<path stroke="#761013" stroke-width="1.6" stroke-linecap="round" d="M304.1 156.7h0M359.0 184.1h0M338.1 186.3h0M329.7 178.9h0M356.3 139.0h0M321.9 164.8h0M355.7 177.4h0M333.0 172.9h0M346.8 177.7h0M328.2 187.6h0M309.7 138.6h0M365.1 132.6h0M317.7 205.7h0M303.2 164.4h0M314.4 128.9h0M365.7 134.4h0M389.7 163.6h0M342.3 150.9h0M308.7 154.5h0M326.8 190.1h0M322.9 164.6h0M358.9 140.8h0M308.9 138.0h0M310.7 144.5h0M373.2 150.7h0M352.5 128.5h0M314.3 137.4h0M304.8 155.5h0M303.6 143.4h0M328.6 186.4h0M353.6 139.7h0M361.8 141.9h0M331.5 159.5h0M319.8 151.0h0M381.4 158.0h0M303.4 144.8h0M332.4 202.0h0M349.6 156.2h0M334.3 188.4h0M360.8 139.3h0M326.8 136.7h0M332.0 158.5h0M341.0 196.8h0M385.9 160.0h0M307.6 146.7h0M362.5 145.9h0M342.1 201.8h0M303.7 191.9h0M332.4 183.3h0M303.5 118.9h0M309.8 126.6h0M339.8 174.7h0M336.0 194.5h0M359.6 133.7h0M308.7 145.9h0M339.0 160.8h0M342.8 159.8h0M352.2 145.3h0M340.4 202.8h0M368.2 140.3h0M355.4 132.8h0M380.7 158.1h0M310.4 125.3h0M371.8 144.0h0M384.6 153.7h0M337.2 205.1h0M339.4 200.1h0M333.0 203.5h0M315.6 144.2h0M386.5 163.4h0M334.7 173.0h0M343.4 196.4h0M352.2 165.8h0M332.6 187.4h0M334.7 186.7h0M369.6 145.3h0M390.7 165.5h0M369.9 145.5h0M336.9 201.1h0M386.4 160.6h0M345.7 151.7h0M357.4 179.1h0M368.5 148.1h0M348.0 159.2h0M332.8 195.1h0M334.8 162.3h0M305.6 155.1h0M337.7 144.0h0M378.2 133.7h0M312.2 141.5h0M344.2 181.6h0M335.5 199.3h0M346.3 158.7h0M340.2 161.1h0M322.7 154.3h0"/>
<path stroke="#23aa50" stroke-width="2.0" stroke-linecap="round" d="M396.5 115.4h0M333.9 141.1h0M347.5 146.8h0M333.7 204.8h0M367.4 198.6h0M349.2 201.7h0M333.2 146.6h0M318.1 200.3h0M361.6 146.9h0M359.3 157.2h0M358.7 184.1h0M369.7 178.8h0M306.1 190.6h0M389.8 172.8h0M353.0 149.5h0M351.4 154.3h0M339.2 138.6h0M324.5 136.3h0M379.9 168.4h0M311.7 160.9h0M312.0 129.4h0M312.4 201.6h0M371.2 165.7h0M351.6 169.8h0M336.9 192.2h0M349.4 205.9h0M362.0 181.9h0M378.6 193.0h0M353.8 154.7h0M308.1 198.2h0M382.5 138.5h0M349.4 173.5h0M350.1 202.0h0M350.4 166.9h0M371.0 182.7h0M359.9 199.8h0M372.7 166.4h0M370.9 160.7h0M344.6 201.8h0M353.6 194.9h0M322.3 130.1h0M344.0 173.3h0M332.4 148.3h0M324.3 192.0h0M329.4 203.1h0M377.0 190.7h0M391.2 172.7h0M364.7 177.4h0M369.2 153.4h0M316.9 174.0h0M373.9 118.9h0M372.2 127.5h0M327.2 204.8h0M314.7 129.6h0M352.9 196.9h0M364.5 186.5h0M339.0 177.1h0M336.2 142.6h0M370.9 115.1h0M315.1 133.0h0M326.3 192.7h0M369.7 150.6h0M327.0 136.7h0M376.8 172.3h0M371.9 153.6h0M320.0 164.3h0M311.3 184.9h0M373.9 181.5h0M378.7 174.9h0M385.0 203.4h0M346.5 200.4h0M313.5 171.6h0M308.6 186.7h0M357.0 157.1h0M356.5 153.9h0M329.6 140.1h0M391.2 167.1h0M392.3 155.2h0M318.5 133.4h0M396.0 195.8h0M323.9 132.0h0M311.8 203.2h0M371.1 130.4h0M392.7 193.2h0M355.7 188.9h0M317.8 128.1h0M340.6 147.0h0M368.6 175.8h0M363.4 138.9h0M319.8 154.4h0M323.0 139.6h0M374.2 129.1h0M377.9 163.2h0M307.4 154.3h0M311.9 206.0h0M315.8 188.3h0M352.5 159.6h0M327.2 126.8h0M319.4 183.2h0M365.5 153.4h0M359.2 147.9h0M348.2 158.7h0M356.5 150.0h0M375.8 164.4h0M339.5 135.3h0M308.8 190.1h0M318.3 158.6h0M324.9 137.6h0M359.3 167.8h0M314.9 165.3h0M360.8 123.4h0M324.0 131.1h0M366.5 186.0h0M318.5 205.7h0M323.1 184.7h0M331.5 143.9h0M379.1 135.6h0M347.8 165.8h0M318.9 160.1h0M346.5 166.2h0M377.8 145.0h0M392.9 204.4h0M386.0 131.9h0M312.7 138.0h0M355.2 114.0h0M327.5 195.8h0M325.8 140.5h0M371.0 129.8h0M331.1 126.0h0M395.9 196.2h0M361.7 120.3h0M317.2 161.4h0M316.5 205.1h0M376.5 117.5h0M331.4 126.4h0M377.8 159.9h0M315.9 197.6h0M336.1 199.6h0M342.0 170.6h0M356.5 205.0h0M306.0 159.7h0M371.9 166.6h0M353.3 164.4h0M341.4 145.0h0M335.6 134.3h0M335.6 140.6h0M324.2 130.0h0M330.3 184.4h0M377.0 131.0h0M328.0 144.4h0M346.7 174.5h0"/>
<path stroke="#101068" stroke-width="2.0" stroke-linecap="round" d="M357.1 117.5h0M377.6 182.2h0M375.3 145.3h0M304.5 150.8h0M371.5 205.8h0M348.1 204.6h0M323.2 191.0h0M394.4 201.9h0M389.6 169.7h0M387.5 182.5h0M303.4 129.3h0M389.3 141.7h0M393.2 185.8h0M352.5 116.7h0M375.3 167.6h0M345.9 121.0h0M306.5 173.4h0M373.4 120.0h0M373.4 184.3h0M374.6 153.5h0M390.3 167.4h0M391.2 178.1h0M335.2 124.5h0M375.6 115.6h0M317.9 167.5h0M396.5 137.6h0M363.0 161.9h0M319.9 167.5h0M359.5 132.0h0M348.3 129.3h0M371.9 113.7h0M384.1 136.4h0M367.6 191.9h0M380.5 164.5h0M366.8 114.8h0M308.3 121.0h0M326.6 180.6h0M326.6 181.6h0M316.9 193.1h0M384.3 131.2h0M381.7 166.2h0M388.4 123.8h0M313.9 152.6h0M392.3 128.1h0M386.7 141.6h0M331.9 114.2h0M394.3 149.6h0M364.0 164.0h0M377.6 157.0h0M380.0 202.5h0M385.2 194.6h0M393.9 137.1h0M394.8 164.3h0M386.3 156.7h0M358.9 117.4h0M383.6 165.1h0M356.3 155.0h0M344.4 192.8h0M363.7 116.1h0M382.1 172.9h0M346.9 205.6h0M373.9 124.6h0M348.6 200.1h0M393.5 150.1h0M364.3 161.3h0M389.8 149.3h0M388.2 131.9h0M354.4 114.7h0M393.3 144.5h0M382.4 124.8h0M340.9 139.8h0M376.1 204.7h0M362.7 202.1h0M355.1 147.5h0"/>
<path stroke="#d71e23" stroke-width="1.6" stroke-linecap="round" d="M325.8 169.4h0M338.9 161.9h0M346.3 184.6h0M308.0 142.8h0M313.4 142.3h0M356.4 129.7h0M338.0 141.2h0M338.8 198.0h0M310.1 146.9h0M362.5 148.7h0M350.8 142.2h0M361.0 132.9h0M305.2 141.5h0M351.8 132.5h0M359.2 125.9h0M303.2 187.2h0M335.3 130.8h0M365.3 136.1h0M313.4 117.6h0M333.0 161.9h0M365.0 136.6h0M361.2 131.9h0M357.7 142.5h0M306.6 148.6h0M352.3 135.0h0M320.2 146.5h0M338.1 137.0h0M313.8 140.2h0M309.7 157.2h0M310.2 144.0h0M342.7 149.2h0M355.7 177.1h0M354.3 187.8h0M340.9 195.9h0M324.1 154.2h0M347.2 177.5h0M365.3 182.6h0M333.6 164.5h0M361.8 139.7h0M380.6 179.0h0M390.5 195.3h0M316.1 145.8h0M307.3 148.0h0M334.9 196.8h0M328.3 188.2h0M380.4 154.3h0M349.7 155.7h0M356.9 182.1h0M337.0 163.1h0M307.7 135.9h0M306.2 154.0h0M313.5 148.2h0M362.2 147.2h0M341.0 156.8h0M323.8 168.6h0M322.9 165.7h0M324.0 165.9h0M372.3 169.2h0M353.8 143.1h0M328.6 203.7h0M312.7 144.8h0M323.1 195.0h0M366.8 136.5h0M311.2 138.8h0M325.9 167.6h0M318.3 144.7h0M342.1 152.2h0M324.9 155.0h0M340.2 192.8h0M340.2 199.1h0M314.0 148.6h0M330.3 188.2h0M382.4 149.3h0M368.7 141.4h0M333.0 203.4h0M363.4 128.0h0M347.4 151.4h0M354.2 137.5h0M363.5 126.3h0M383.3 151.3h0M326.3 154.2h0M307.3 148.4h0M345.3 186.5h0M346.6 154.6h0M329.3 169.9h0M329.9 190.0h0M336.5 177.0h0M319.6 161.9h0M319.0 177.0h0M360.2 136.1h0M335.5 196.6h0"/>
<path stroke="#187870" stroke-width="1.2" stroke-linecap="round" d="M381.0 126.2h0M310.9 183.2h0M364.4 165.6h0M364.9 185.2h0M378.7 113.7h0M381.4 177.0h0M369.8 177.5h0M375.1 182.0h0M332.8 132.3h0M389.2 135.7h0M366.7 157.2h0M306.9 187.6h0M383.1 189.4h0M374.4 138.0h0M339.7 138.6h0M391.6 199.5h0M361.7 120.3h0M336.9 136.8h0M385.9 153.7h0M386.2 135.7h0M376.7 160.2h0M394.4 205.4h0M324.7 184.1h0M336.8 139.1h0M372.1 158.1h0M305.0 178.8h0M343.8 140.8h0M369.3 167.9h0M335.1 140.3h0M388.2 205.6h0M380.6 166.0h0M362.9 122.3h0M326.7 131.4h0M378.7 203.1h0M387.8 120.6h0M324.8 188.1h0M371.3 160.3h0M374.4 178.6h0M372.2 189.4h0M342.6 135.5h0M383.1 114.7h0M364.4 183.9h0M355.8 193.8h0M359.2 176.5h0M354.6 116.5h0M385.1 151.6h0M381.9 203.5h0M313.6 188.9h0M317.2 128.6h0M380.5 192.6h0M376.2 156.3h0M358.3 124.7h0"/>
<path stroke="#1e968c" stroke-width="1.2" stroke-linecap="round" d="M379.6 136.8h0M387.0 147.7h0M349.9 206.1h0M386.3 202.5h0M342.3 118.0h0M386.2 193.1h0M342.5 145.3h0M394.5 186.5h0M374.1 128.2h0M380.0 166.2h0M309.1 194.9h0M365.1 195.9h0M392.5 169.2h0M357.9 150.0h0M375.6 181.9h0M381.7 193.4h0M303.9 180.5h0M375.2 158.5h0M379.1 186.6h0M368.1 165.3h0M391.3 182.7h0M330.6 137.9h0M393.0 188.1h0M394.5 205.0h0M372.3 204.9h0M313.6 205.3h0M394.1 203.2h0M305.1 189.0h0M351.3 204.5h0M374.0 151.1h0M385.4 185.9h0M368.9 159.5h0M319.6 178.0h0M313.0 135.0h0M329.3 128.0h0M316.6 184.4h0M369.1 186.2h0M318.4 190.0h0M354.6 169.9h0M319.6 192.6h0M363.0 157.8h0M372.1 115.5h0M368.5 177.7h0M383.8 170.5h0M318.4 133.9h0M322.6 194.8h0M319.2 176.9h0M391.8 203.4h0M388.8 179.9h0M362.0 173.3h0M371.4 173.6h0"/>
<path stroke="#761013" stroke-width="1.2" stroke-linecap="round" d="M367.4 149.6h0M354.0 179.0h0M349.5 153.9h0M308.8 151.7h0M316.3 150.1h0M348.4 152.1h0M341.3 197.0h0M361.4 131.1h0M340.1 190.5h0M372.3 132.6h0M340.6 159.8h0M383.9 151.5h0M304.6 142.4h0M345.2 154.2h0M333.7 154.8h0M335.8 205.6h0M351.6 145.0h0M350.7 187.9h0M368.2 148.1h0M357.2 177.5h0M335.4 157.3h0M380.5 157.2h0M365.6 130.7h0M370.3 178.2h0M344.2 154.4h0M328.8 158.3h0M355.5 135.6h0M308.8 159.1h0M346.8 167.5h0M321.1 193.1h0M363.1 127.1h0M352.8 185.2h0M374.3 144.9h0M363.9 179.4h0M314.8 157.6h0M341.0 176.5h0M359.0 191.5h0M310.4 154.6h0M312.4 158.0h0M324.5 179.1h0M369.7 170.6h0M326.6 190.1h0M361.8 134.4h0M364.1 139.7h0M312.2 171.6h0M322.9 158.0h0M321.7 168.9h0M318.5 149.8h0M335.1 199.7h0M311.8 164.5h0M334.0 183.7h0M352.7 139.2h0M333.1 193.3h0M304.5 136.8h0M366.4 134.3h0M334.8 198.0h0M331.0 184.7h0M350.6 175.3h0M378.0 176.7h0M307.1 157.6h0M371.9 136.9h0M355.5 176.6h0M316.0 151.3h0M337.8 161.4h0M372.4 145.3h0M305.5 145.0h0M337.8 192.4h0M322.7 162.0h0M333.6 161.6h0M367.1 133.0h0M344.4 184.1h0M307.5 120.9h0M375.2 145.1h0M347.9 179.6h0M331.5 189.1h0M343.9 151.3h0M353.8 135.1h0M368.6 176.6h0M335.9 202.4h0M307.0 114.9h0M334.7 201.3h0M386.4 161.1h0M372.4 139.9h0M350.4 185.8h0M351.3 138.8h0M347.7 179.3h0M336.2 159.2h0M341.0 155.0h0M345.0 197.4h0M329.3 166.9h0M373.3 144.9h0M351.4 132.3h0M360.3 128.7h0M371.0 143.8h0M369.6 148.2h0M332.6 159.5h0M322.2 155.7h0M305.1 147.3h0M341.3 199.3h0M339.3 153.6h0M370.5 125.8h0M308.7 151.1h0M304.9 159.3h0M383.1 179.0h0M308.6 138.2h0M339.8 153.2h0"/>
<path stroke="#181898" stroke-width="1.6" stroke-linecap="round" d="M313.3 161.1h0M350.3 117.0h0M367.8 119.7h0M386.3 125.9h0M367.4 139.5h0M364.0 142.0h0M390.7 133.4h0M342.1 120.9h0M340.5 134.3h0M350.3 153.2h0M384.1 204.2h0M352.7 205.6h0M371.3 120.5h0M370.9 187.0h0M384.1 160.9h0M370.8 188.1h0M346.8 158.6h0M373.9 158.1h0M362.8 156.3h0M396.0 170.0h0M354.7 123.3h0M368.9 189.8h0M387.9 118.7h0M367.6 187.1h0M303.6 163.4h0M358.4 120.8h0M395.6 133.8h0M342.8 135.7h0M308.8 120.5h0M372.6 191.3h0M359.3 116.0h0M304.8 204.5h0M351.0 125.0h0M366.7 137.7h0M374.7 151.2h0M391.5 141.9h0M343.9 122.7h0M311.0 142.1h0M339.8 140.8h0M375.1 183.1h0M321.9 162.0h0M394.7 137.2h0M306.2 127.5h0M323.5 180.1h0M381.1 134.9h0M389.8 148.2h0M305.3 141.8h0M386.9 129.0h0M320.6 191.1h0M330.4 182.5h0M394.0 125.0h0M392.4 115.0h0M384.4 202.8h0M395.6 204.8h0M359.0 182.5h0M376.1 204.7h0M322.8 200.7h0M393.1 133.1h0M388.4 180.9h0M340.7 136.7h0M311.4 185.8h0M369.0 120.2h0M393.0 190.2h0M314.2 161.9h0M365.2 124.6h0M392.3 196.8h0M339.8 134.3h0M395.5 121.5h0M318.9 126.1h0M392.0 196.9h0M340.2 115.3h0M320.4 155.5h0M390.4 180.4h0M355.8 117.4h0M381.8 147.7h0M381.1 141.0h0M388.7 157.0h0M385.8 124.2h0M365.8 134.2h0M391.0 132.3h0M372.9 191.9h0M379.5 138.3h0M352.6 200.2h0M378.9 120.9h0"/>
<path stroke="#23aa50" stroke-width="1.2" stroke-linecap="round" d="M360.7 120.5h0M329.4 146.5h0M352.2 166.8h0M360.3 128.3h0M359.0 188.9h0M313.8 130.1h0M327.1 195.1h0M315.0 133.0h0M341.9 147.6h0M377.3 181.8h0M353.3 193.9h0M308.4 184.5h0M354.3 190.0h0M339.5 166.9h0M376.8 135.3h0M356.6 197.0h0M371.0 176.4h0M376.9 139.7h0M352.1 204.2h0M337.8 144.2h0M363.9 142.4h0M319.8 159.5h0M361.6 205.0h0M312.1 190.7h0M359.0 167.9h0M381.2 204.6h0M368.1 176.9h0M340.6 167.2h0M326.3 186.0h0M366.2 190.0h0M306.5 135.8h0M328.2 161.9h0M396.5 189.4h0M327.0 183.2h0M374.2 164.8h0M378.0 199.5h0M322.8 193.5h0M349.4 194.3h0M322.7 181.5h0M355.2 168.5h0M354.6 191.9h0M360.3 169.8h0M365.3 175.3h0M386.1 177.3h0M317.5 164.1h0M395.6 174.3h0M326.9 146.5h0M373.3 191.6h0M371.9 180.3h0M354.5 144.2h0M369.7 181.1h0M308.6 180.7h0M327.6 131.6h0M395.1 195.1h0M386.6 172.1h0M385.5 146.4h0M372.3 151.4h0M354.1 204.5h0M364.7 193.1h0M374.2 135.5h0M378.1 163.0h0M333.3 142.2h0M323.8 184.9h0M371.2 143.9h0M320.0 202.3h0M309.8 203.9h0M359.1 173.1h0M307.4 184.0h0M368.3 182.1h0M349.0 145.7h0M348.3 160.8h0M348.7 176.4h0M355.2 167.8h0M353.5 177.7h0M393.8 159.2h0M338.2 170.3h0M373.6 182.3h0M350.6 159.3h0M386.3 186.7h0M317.4 148.7h0M359.7 175.6h0M367.3 192.1h0M368.7 151.1h0M378.6 190.2h0M361.5 151.1h0M304.6 181.7h0M324.3 131.4h0M325.8 199.6h0M323.7 194.5h0M325.6 132.9h0M325.1 180.8h0M333.8 168.3h0M319.0 163.9h0M329.7 153.0h0M385.2 168.9h0M342.2 143.1h0M345.0 143.0h0M325.3 193.9h0M315.0 203.7h0M320.3 163.6h0M332.1 204.5h0M327.4 145.8h0M319.3 140.3h0M312.4 198.2h0M376.7 120.0h0M365.7 192.4h0M389.3 174.4h0M359.8 195.1h0M313.7 186.1h0M352.2 205.5h0M370.0 175.8h0M344.7 189.7h0M344.4 192.7h0M320.3 138.0h0M324.4 126.2h0M348.3 164.5h0M316.3 168.9h0M367.7 125.2h0M352.7 178.1h0M317.0 202.8h0M332.2 180.3h0M376.5 138.8h0M344.4 174.9h0M310.6 121.1h0M331.0 140.5h0M330.9 131.2h0M393.1 189.2h0M369.8 128.3h0M358.1 144.6h0M332.2 145.7h0M322.8 194.4h0M318.3 187.6h0M328.1 136.3h0M320.9 126.9h0M372.2 200.7h0M316.1 177.3h0M315.6 170.6h0M352.5 192.2h0M374.4 134.3h0M384.4 125.5h0M332.1 204.1h0M380.9 178.9h0M329.4 130.5h0M386.1 157.8h0M363.8 191.6h0M321.2 188.1h0M379.9 201.6h0M387.6 176.0h0M314.4 189.7h0M304.6 178.9h0M370.1 173.4h0M349.7 164.5h0"/>
<path stroke="#ac181c" stroke-width="1.6" stroke-linecap="round" d="M309.6 151.8h0M342.5 162.5h0M369.9 126.1h0M325.2 159.0h0M305.0 143.5h0M318.2 144.5h0M366.0 136.3h0M328.1 169.3h0M312.6 166.1h0M307.6 147.9h0M332.4 165.1h0M324.7 171.0h0M327.8 159.0h0M359.4 143.2h0M328.1 184.9h0M349.9 185.5h0M346.4 196.9h0M321.4 162.9h0M341.8 162.4h0M328.3 183.6h0M341.9 153.3h0M345.1 155.1h0M313.4 141.6h0M334.1 161.3h0M337.4 159.6h0M345.7 156.0h0M320.7 133.8h0M364.3 126.1h0M363.8 135.1h0M324.0 148.7h0M306.9 157.5h0M353.1 187.4h0M320.9 166.8h0M338.9 149.1h0M309.9 152.3h0M356.9 136.0h0M310.1 148.5h0M307.8 140.9h0M380.1 178.4h0M354.3 188.4h0M351.4 146.4h0M319.4 153.5h0M321.5 176.2h0M305.3 159.2h0M315.2 152.0h0M323.5 148.4h0M307.1 147.4h0M383.2 159.5h0M304.9 146.2h0M355.4 182.1h0M359.8 140.9h0M325.5 157.7h0M305.1 148.4h0M307.3 158.0h0M336.5 189.3h0M330.8 158.0h0M314.4 142.7h0M378.2 146.9h0M343.4 158.1h0M303.5 144.8h0M306.5 177.1h0M336.3 177.0h0M381.6 182.8h0M318.7 134.8h0M380.1 177.7h0M337.5 164.9h0M342.8 150.4h0M360.0 137.3h0M315.4 139.2h0M316.0 148.8h0M321.3 151.1h0M313.0 159.0h0M324.0 157.6h0M339.6 152.7h0M345.5 152.6h0M365.8 138.0h0M304.3 142.6h0M350.4 182.2h0M317.8 158.8h0M362.7 153.6h0M338.8 190.6h0M337.2 172.6h0M339.0 156.2h0M333.3 194.4h0M370.0 146.1h0M381.2 158.6h0M349.2 183.1h0M364.9 139.8h0M304.0 138.1h0M353.7 178.7h0M335.0 175.8h0M337.6 159.0h0M323.1 138.6h0M386.2 164.3h0M374.8 139.9h0M341.5 197.2h0M366.3 138.8h0M336.0 193.0h0M333.7 199.4h0M307.5 142.1h0M310.7 142.3h0M348.0 150.5h0M369.7 199.8h0M336.1 176.2h0"/>
<path stroke="#1c8840" stroke-width="1.6" stroke-linecap="round" d="M352.8 203.9h0M324.6 178.4h0M388.3 148.6h0M388.5 128.5h0M354.4 189.4h0M369.0 122.9h0M360.4 141.0h0M368.1 193.8h0M353.9 170.5h0M329.0 205.7h0M314.5 182.1h0M363.8 183.1h0M335.1 179.6h0M376.3 153.7h0M366.4 191.9h0M356.8 171.9h0M318.1 167.5h0M315.8 119.8h0M309.5 131.0h0M325.8 128.2h0M352.5 194.6h0M339.6 143.5h0M373.7 191.2h0M372.0 187.8h0M313.5 194.5h0M355.4 133.2h0M316.8 203.2h0M311.6 203.2h0M312.5 129.7h0M387.3 162.3h0M367.5 170.4h0M376.7 116.2h0M353.1 150.8h0M317.5 136.9h0M358.1 171.6h0M311.7 192.5h0M346.8 167.5h0M314.0 175.9h0M325.5 130.9h0M371.5 159.6h0M316.9 135.7h0M390.3 188.5h0M311.8 129.3h0M322.3 139.4h0M324.8 172.5h0M312.6 192.1h0M320.2 132.6h0M337.0 147.6h0M349.5 172.4h0M313.6 194.2h0M362.6 136.3h0M312.7 134.5h0M375.1 130.7h0M354.0 188.7h0M388.4 173.8h0M388.6 149.4h0M369.4 180.2h0M359.6 181.7h0M319.1 131.1h0M352.2 167.3h0M358.2 158.3h0M358.0 142.8h0M391.7 141.2h0M305.6 133.4h0M316.3 186.8h0M320.9 140.7h0M374.5 190.5h0M391.8 162.1h0M351.1 196.0h0M374.9 176.9h0M344.3 175.5h0M378.1 187.9h0M345.7 202.5h0M325.6 139.8h0M307.9 191.0h0M332.3 179.0h0M348.1 161.8h0M355.3 194.2h0M392.5 190.5h0M350.0 140.8h0M307.7 175.5h0M373.4 121.8h0M357.8 184.8h0M316.1 142.5h0M305.6 155.5h0M337.6 161.7h0M396.4 162.5h0M356.5 176.5h0M312.0 134.1h0M362.5 188.4h0M359.4 149.7h0M354.4 150.4h0M346.6 147.3h0M332.7 139.8h0M385.4 157.0h0M312.4 150.0h0M324.2 137.6h0M322.7 128.5h0M355.8 193.4h0M319.3 140.2h0M346.8 160.9h0M351.7 162.5h0M335.0 178.5h0M311.5 193.0h0M359.2 181.5h0M311.1 179.9h0M303.2 172.0h0M370.6 159.3h0M320.0 166.8h0M304.7 188.5h0M315.8 175.2h0M311.9 172.4h0M314.4 179.5h0M351.9 156.4h0M393.3 196.4h0M371.8 206.1h0M384.1 136.1h0M329.2 142.0h0M323.7 130.1h0M372.7 187.2h0M366.8 181.0h0M319.3 165.6h0M378.6 205.9h0M332.8 162.2h0M350.1 150.1h0M351.4 191.7h0M353.0 170.5h0M361.1 155.5h0M364.9 167.6h0M351.8 205.3h0M366.4 194.4h0M372.4 134.3h0M320.0 186.7h0M312.6 173.9h0M365.1 176.9h0M391.5 134.3h0M317.4 169.8h0M336.6 153.6h0M380.0 127.4h0M373.2 166.7h0M345.3 171.2h0"/>
<path stroke="#135d2c" stroke-width="1.2" stroke-linecap="round" d="M364.6 177.7h0M351.3 166.4h0M343.4 169.4h0M337.7 153.7h0M342.9 171.4h0M336.2 145.0h0M343.5 166.3h0M342.1 198.7h0M330.1 196.8h0M335.6 128.0h0M340.5 118.4h0M380.7 187.6h0M313.8 194.1h0M344.9 203.7h0M323.6 132.1h0M376.6 162.0h0M349.8 148.9h0M345.6 148.2h0M344.2 167.8h0M326.2 181.3h0M363.4 171.8h0M313.2 174.2h0M334.6 130.7h0M311.1 150.3h0M360.8 174.7h0M311.5 178.0h0M380.7 156.1h0M372.3 148.4h0M336.7 138.3h0M352.8 192.2h0M336.9 142.3h0M315.9 154.2h0M368.5 146.6h0M320.0 191.0h0M388.1 190.6h0M307.1 181.6h0M324.1 125.7h0M328.1 198.4h0M389.8 203.5h0M345.0 161.2h0M352.4 198.3h0M373.9 121.9h0M335.0 115.2h0M356.1 184.0h0M319.0 158.0h0M311.2 189.8h0M336.8 143.0h0M321.5 166.3h0M368.6 155.3h0M386.9 168.5h0M331.1 133.3h0M317.5 187.4h0M313.3 190.4h0M370.4 123.1h0M313.1 130.2h0M308.0 178.4h0M335.1 196.8h0M378.8 142.7h0M312.7 133.8h0M370.7 156.2h0M330.1 144.5h0M359.1 190.8h0M315.9 118.0h0M347.5 165.3h0M313.9 173.3h0M316.2 167.7h0M382.8 143.1h0M308.4 196.2h0M335.7 178.8h0M377.2 136.7h0M376.9 178.1h0M333.7 128.9h0M371.7 175.8h0M336.0 149.3h0M344.3 172.0h0M307.2 189.1h0M311.5 180.7h0M311.3 192.8h0M394.4 197.6h0M357.2 143.2h0M376.8 178.9h0M316.9 162.1h0M346.3 127.0h0M345.7 204.0h0M378.8 170.8h0M389.6 184.1h0M303.4 175.2h0M336.5 152.5h0M370.3 182.5h0M351.2 145.1h0M331.6 198.0h0M361.5 199.1h0M326.4 198.7h0M344.6 147.7h0M387.7 173.8h0M342.7 148.4h0M364.8 114.8h0M309.5 191.8h0M325.3 184.1h0M370.7 175.2h0M370.1 190.4h0M325.9 187.5h0M389.3 174.4h0M311.3 183.5h0M316.3 165.1h0M361.1 184.8h0M316.8 164.3h0M338.5 145.4h0M351.3 177.3h0M333.5 137.4h0M333.7 163.7h0M324.5 182.2h0M387.9 184.1h0M358.8 168.7h0M304.4 132.4h0M379.0 125.9h0M382.7 175.8h0M325.2 199.9h0M323.7 178.1h0M361.0 180.0h0M389.4 162.3h0M395.1 141.0h0M366.0 191.2h0M372.3 148.8h0M373.7 142.4h0M377.9 153.1h0M384.7 117.7h0M374.0 160.9h0M368.4 181.4h0M317.9 165.6h0M371.0 152.8h0M332.9 128.8h0M363.0 187.4h0M373.4 190.8h0M330.8 139.2h0M375.3 162.5h0M337.2 130.3h0M324.0 122.9h0M369.9 203.7h0"/>
<path stroke="#181898" stroke-width="1.2" stroke-linecap="round" d="M335.1 121.5h0M337.6 120.8h0M327.1 150.9h0M305.5 174.2h0M323.5 123.2h0M375.7 124.7h0M311.4 197.1h0M343.3 168.1h0M343.8 167.3h0M394.9 139.7h0M366.8 164.5h0M369.2 144.6h0M336.2 121.2h0M382.2 161.1h0M311.4 193.3h0M356.5 138.0h0M340.5 124.4h0M391.4 124.5h0M379.0 155.6h0M312.4 133.1h0M314.2 163.7h0M319.3 182.6h0M387.5 192.8h0M396.3 149.2h0M316.7 151.6h0M339.1 185.9h0M384.0 166.7h0M396.6 189.3h0M354.4 135.8h0M342.9 133.1h0M394.8 199.5h0M312.6 128.4h0M396.5 117.8h0M393.5 127.6h0M396.0 136.2h0M347.3 194.5h0M325.3 202.3h0M382.9 126.4h0M336.5 194.5h0M374.8 169.2h0M347.4 137.3h0M395.2 204.4h0M365.1 120.6h0M326.1 122.4h0M394.4 205.0h0M392.1 162.7h0M332.1 197.6h0M384.7 127.2h0M384.0 136.8h0M362.5 114.8h0M320.9 200.7h0M387.7 193.7h0M389.5 180.3h0M313.8 170.3h0M359.8 160.7h0M328.6 177.5h0M369.9 187.5h0M346.0 204.4h0M328.4 158.2h0M380.3 134.6h0M369.2 191.7h0M393.1 176.9h0M338.7 122.2h0M377.7 161.2h0M378.0 190.4h0M360.8 182.8h0M382.3 190.9h0M337.0 133.1h0M394.1 202.0h0M389.9 126.1h0M391.9 127.9h0M393.2 155.7h0M338.9 194.2h0M372.6 191.6h0"/>
<path stroke="#ac181c" stroke-width="2.0" stroke-linecap="round" d="M334.0 200.3h0M324.9 182.3h0M323.6 174.6h0M334.8 156.2h0M362.1 130.2h0M351.8 152.6h0M306.8 151.0h0M308.2 143.7h0M375.7 137.7h0M305.4 148.4h0M305.4 143.7h0M344.7 180.2h0M314.6 136.8h0M347.3 187.2h0M360.1 181.5h0M307.8 158.1h0M322.6 135.0h0M355.0 135.1h0M349.2 150.7h0M381.4 178.9h0M321.6 167.1h0M309.2 162.9h0M346.4 132.3h0M356.2 141.7h0M386.7 186.5h0M377.8 144.7h0M311.3 181.7h0M383.9 151.1h0M373.4 160.1h0M335.7 163.6h0M324.5 133.2h0M314.7 138.6h0M367.1 175.0h0M369.4 147.1h0M352.0 195.0h0M371.0 195.9h0M351.1 179.9h0M337.1 162.0h0M384.5 151.8h0M349.4 187.9h0M360.0 126.6h0M344.8 180.5h0M349.4 184.6h0M347.4 182.0h0M357.0 130.9h0M327.3 185.2h0M323.8 168.5h0M343.3 154.0h0M350.8 167.4h0M361.9 144.0h0M305.6 132.7h0M348.0 181.2h0M306.5 187.1h0M334.3 147.9h0M322.8 190.8h0M340.7 171.8h0M336.8 154.6h0M336.4 126.8h0M353.9 134.7h0M369.3 129.9h0M372.0 133.8h0M346.7 157.0h0M364.7 141.4h0M339.3 161.7h0M359.4 140.7h0M331.2 189.0h0M308.6 147.2h0M328.3 188.3h0M360.2 131.9h0M335.9 191.7h0M346.4 186.2h0M352.3 182.2h0M318.9 172.4h0M307.2 130.4h0M338.5 149.0h0M336.5 157.5h0M340.5 158.0h0M350.9 199.3h0M329.6 192.1h0M347.4 133.4h0M359.0 133.4h0M380.3 159.6h0M384.9 152.3h0M364.3 130.2h0M380.1 157.3h0M317.7 200.1h0M376.9 194.9h0M322.4 156.2h0M336.0 192.5h0M351.3 147.3h0M367.1 125.5h0M363.0 152.8h0M323.0 161.8h0M330.9 188.7h0M326.1 153.1h0M314.1 155.8h0M339.7 190.5h0M334.4 184.4h0M331.3 191.1h0M315.0 144.1h0M307.3 182.2h0M327.3 192.6h0M329.0 165.8h0M383.4 159.2h0M330.8 186.8h0M313.1 142.8h0M359.7 135.0h0"/>
<path stroke="#135d2c" stroke-width="1.6" stroke-linecap="round" d="M329.0 129.3h0M374.1 160.3h0M331.1 133.6h0M330.4 203.6h0M357.8 198.0h0M323.4 135.4h0M315.9 157.9h0M338.8 168.5h0M303.2 136.2h0M310.5 134.3h0M324.2 125.9h0M383.1 185.1h0M369.8 128.1h0M341.3 144.7h0M362.9 172.4h0M322.9 178.9h0M359.7 145.9h0M353.9 202.7h0M361.1 182.8h0M347.0 160.7h0M344.7 166.4h0M357.5 187.5h0M308.0 189.6h0M315.8 169.1h0M307.3 188.7h0M319.2 133.2h0M319.5 187.6h0M309.6 126.4h0M360.7 171.7h0M310.6 143.4h0M354.7 171.9h0M359.8 119.0h0M319.8 164.3h0M353.4 162.0h0M367.0 187.8h0M355.2 198.6h0M327.9 125.7h0M323.5 188.1h0M352.9 191.3h0M361.1 176.1h0M315.6 172.6h0M363.0 172.4h0M322.9 123.1h0M347.5 198.3h0M356.4 147.0h0M364.1 172.5h0M367.1 183.4h0M396.4 203.5h0M306.5 194.4h0M309.1 205.3h0M349.2 203.2h0M323.4 196.5h0M350.5 151.8h0M381.2 156.7h0M381.7 129.5h0M358.3 195.6h0M310.0 120.2h0M324.8 132.3h0M358.1 189.3h0M311.1 177.2h0M356.2 147.0h0M355.6 145.9h0M335.6 128.4h0M308.6 190.5h0M371.5 166.2h0M350.0 138.6h0M312.1 182.1h0M303.6 182.9h0M306.8 195.3h0M348.1 163.8h0M338.2 204.4h0M313.6 176.0h0M318.8 196.9h0M347.7 167.8h0M360.1 187.0h0M306.8 181.9h0M393.5 188.6h0M357.8 188.2h0M336.6 140.2h0M356.6 146.7h0M356.6 158.7h0M330.4 194.8h0M361.0 198.3h0M376.5 173.7h0M385.2 154.5h0M360.4 201.1h0M308.4 175.5h0M395.4 140.9h0M334.2 168.4h0M314.5 183.2h0M316.1 168.8h0M359.4 187.6h0M360.9 195.4h0M356.7 123.9h0M387.0 187.9h0M320.5 175.7h0M368.9 166.1h0M331.4 144.5h0M375.3 139.0h0M331.1 141.8h0M313.2 132.1h0M325.6 191.9h0M371.5 170.1h0M318.4 164.0h0M387.7 186.5h0M354.2 156.6h0M317.6 187.8h0M368.7 132.3h0M311.1 203.6h0M309.4 205.2h0M307.8 198.7h0M328.1 142.9h0M389.1 165.4h0M318.9 202.9h0M335.8 126.7h0M372.7 181.3h0M321.8 184.9h0M320.7 121.8h0M372.1 159.9h0M368.4 187.7h0M320.8 173.9h0M319.0 205.9h0M328.8 139.5h0M380.4 203.9h0M361.7 120.0h0M361.7 182.3h0M316.6 132.1h0M362.9 134.9h0M322.1 181.3h0M313.5 172.3h0M375.2 144.4h0M307.1 117.7h0M392.2 199.0h0"/>
<path stroke="#d71e23" stroke-width="2.0" stroke-linecap="round" d="M333.1 190.5h0M377.7 141.6h0M336.1 160.0h0M343.9 175.6h0M351.7 182.4h0M325.5 159.4h0M359.5 178.1h0M346.8 125.6h0M311.4 147.3h0M342.2 158.7h0M321.1 126.2h0M380.6 148.9h0M382.3 157.1h0M342.0 177.1h0M366.0 138.5h0M342.6 192.0h0M338.0 173.9h0M358.8 138.0h0M356.9 125.3h0M365.8 128.3h0M383.3 159.6h0M333.7 177.1h0M324.9 152.5h0M362.1 146.9h0M359.9 137.6h0M352.5 128.9h0M321.5 148.8h0M366.5 147.0h0M317.4 147.5h0M361.6 134.5h0M384.5 151.2h0M352.3 151.1h0M336.8 158.1h0M321.5 171.2h0M362.2 133.9h0M351.9 129.9h0M320.1 153.3h0M304.0 141.7h0M350.9 140.8h0M326.6 179.2h0M349.3 149.8h0M358.3 180.9h0M359.0 125.3h0M332.0 187.6h0M344.6 160.1h0M342.3 162.7h0M331.5 154.6h0M333.8 175.3h0M333.7 199.1h0M305.0 152.1h0M353.7 177.1h0M320.7 155.6h0M365.5 190.4h0M312.7 152.1h0M362.4 152.6h0M364.4 151.3h0M304.8 150.4h0M384.4 178.2h0M311.1 154.9h0M358.6 177.8h0M339.9 205.1h0M350.3 180.6h0M303.9 139.8h0M309.0 142.0h0M357.2 137.4h0M361.4 179.4h0M340.7 156.7h0M367.4 148.9h0M349.4 182.2h0M366.5 133.5h0M358.8 130.1h0M386.8 184.0h0M354.1 181.0h0M368.0 140.1h0M330.1 192.9h0M320.8 178.6h0M354.3 165.3h0M338.3 203.7h0M311.9 139.7h0M321.2 164.7h0M339.3 161.6h0M384.5 158.3h0M336.8 163.5h0M338.3 191.3h0M343.5 163.6h0M347.3 137.5h0M329.0 193.5h0M322.0 155.9h0M322.9 190.2h0M350.3 181.6h0M340.6 201.7h0M341.3 177.0h0M306.3 137.4h0M308.6 147.1h0M310.3 145.3h0M372.8 133.1h0M332.1 192.4h0M350.9 144.5h0M333.5 177.3h0M340.4 162.3h0"/>
<path stroke="#101068" stroke-width="1.6" stroke-linecap="round" d="M328.0 185.9h0M370.0 183.7h0M369.2 118.3h0M385.5 191.1h0M368.6 115.7h0M314.9 182.3h0M365.8 114.0h0M313.2 205.2h0M313.3 151.9h0M340.8 140.1h0M364.1 200.0h0M395.8 149.5h0M360.4 119.5h0M395.9 119.7h0M383.6 193.1h0M321.0 116.7h0M328.0 154.8h0M336.7 173.6h0M345.1 158.3h0M335.0 124.1h0M396.1 151.0h0M395.6 126.3h0M380.8 119.0h0M338.8 121.2h0M306.5 174.7h0M308.7 117.1h0M360.3 204.3h0M315.4 117.7h0M324.7 179.0h0M338.5 138.6h0M375.7 169.1h0M358.3 123.2h0M378.2 195.9h0M364.4 171.4h0M317.8 185.1h0M360.4 116.1h0M308.7 120.0h0M350.9 187.4h0M384.7 172.9h0M354.3 177.9h0M379.0 180.7h0M392.6 203.8h0M369.2 185.1h0M375.6 185.6h0M386.1 159.2h0M394.0 155.2h0M340.6 132.2h0M317.5 194.2h0M382.9 118.5h0M386.8 205.6h0M354.2 119.0h0M362.5 130.1h0M392.9 139.8h0M324.8 114.7h0M391.7 190.5h0M374.0 202.0h0M330.7 122.8h0M384.3 135.5h0M382.4 124.3h0M395.0 125.4h0M315.1 164.8h0M351.3 175.1h0M385.7 159.3h0M360.9 160.4h0M304.3 164.2h0M381.8 169.6h0M353.6 159.5h0M371.1 122.2h0M335.0 180.0h0M383.5 199.5h0M338.5 114.9h0M369.2 183.4h0M379.3 187.6h0M354.4 191.1h0M320.8 144.2h0"/>
<path stroke="#10524d" stroke-width="1.6" stroke-linecap="round" d="M394.5 200.1h0M381.4 169.0h0M331.3 203.3h0M392.9 116.6h0M382.8 140.5h0M309.4 135.2h0M343.3 135.8h0M389.4 158.6h0M353.9 203.0h0M373.9 134.4h0M315.4 199.1h0M389.9 165.9h0M382.3 137.4h0M355.4 124.4h0M350.1 152.1h0M333.5 133.0h0M394.3 190.6h0M389.8 122.0h0M377.2 183.3h0M392.9 129.4h0M379.3 127.3h0M394.8 177.6h0M385.4 149.9h0M383.5 174.3h0M304.2 190.6h0M349.6 168.6h0M340.5 170.2h0M313.5 127.1h0M369.1 201.2h0M381.4 183.5h0M383.8 141.0h0M357.9 184.9h0M385.5 178.6h0M388.2 154.5h0M308.9 184.1h0M387.5 201.0h0M396.6 156.5h0M362.5 119.6h0M380.8 137.8h0M389.0 138.2h0M361.2 148.6h0M339.2 142.1h0M379.6 141.8h0M388.7 201.9h0M369.3 151.1h0M354.7 166.4h0"/>
<path stroke="#1e1ebe" stroke-width="1.6" stroke-linecap="round" d="M376.0 115.7h0M323.5 126.1h0M380.8 174.3h0M382.6 161.1h0M384.5 118.6h0M383.2 129.5h0M392.5 134.0h0M323.1 168.3h0M356.8 115.7h0M353.5 118.3h0M376.6 194.7h0M359.8 163.9h0M375.8 169.4h0M361.5 169.7h0M396.3 136.1h0M371.9 180.3h0M362.6 165.9h0M358.6 120.0h0M377.6 182.3h0M385.4 203.1h0M380.9 201.0h0M375.8 117.2h0M387.8 138.4h0M363.0 120.2h0M373.8 188.4h0M369.1 176.4h0M375.6 157.1h0M390.5 190.7h0M394.6 131.9h0M322.4 153.3h0M327.3 179.5h0M354.6 155.1h0M393.6 169.4h0M372.3 124.9h0M369.5 204.8h0M386.8 168.2h0M356.9 205.2h0M306.1 136.2h0M339.3 131.5h0M372.6 204.2h0M373.9 149.1h0M394.3 121.9h0M393.1 179.8h0M392.7 166.3h0M394.7 182.8h0M350.6 125.2h0M390.3 132.5h0M371.7 203.6h0M372.4 184.8h0M392.4 185.3h0M385.0 119.4h0M362.7 188.7h0M393.2 124.7h0M382.8 167.4h0M321.3 152.3h0M310.0 198.6h0M352.3 132.4h0M371.4 118.8h0M383.3 120.0h0M307.7 135.4h0M376.0 156.2h0M349.2 122.1h0M393.4 121.6h0M344.1 113.8h0M380.9 128.7h0M336.5 123.7h0M320.6 181.6h0M370.8 188.0h0M391.8 120.9h0M382.0 167.9h0M319.1 167.5h0M340.6 141.7h0M385.5 166.8h0M361.5 178.2h0M338.6 157.2h0M391.5 124.3h0M383.7 174.3h0M366.4 201.1h0M336.3 122.8h0M394.8 168.2h0M380.6 121.2h0M391.9 183.4h0M391.7 155.0h0M342.7 120.0h0M363.1 156.7h0M318.1 196.6h0M325.7 183.3h0M344.4 144.2h0M360.7 113.9h0M388.0 179.1h0M387.4 177.8h0M339.6 121.9h0M314.3 160.1h0"/>
<path stroke="#101068" stroke-width="1.2" stroke-linecap="round" d="M332.6 199.2h0M342.7 166.4h0M320.0 118.0h0M391.4 160.5h0M355.7 201.2h0M380.3 127.3h0M395.6 188.2h0M321.7 120.8h0M371.8 116.2h0M372.5 126.2h0M373.5 204.7h0M371.2 136.3h0M370.0 201.6h0M321.5 171.8h0M375.4 177.6h0M327.4 192.6h0M376.2 179.8h0M391.9 172.5h0M391.0 147.0h0M396.0 154.9h0M392.6 147.1h0M375.4 163.8h0M379.8 124.5h0M394.2 179.0h0M348.8 124.6h0M343.6 192.9h0M339.4 140.5h0M316.6 154.6h0M363.8 121.0h0M386.3 171.2h0M382.5 133.8h0M376.4 115.7h0M365.3 197.3h0M389.7 124.3h0M383.7 162.1h0M313.0 196.9h0M358.0 205.4h0M392.0 177.0h0M365.8 134.7h0M371.6 126.5h0M387.5 204.7h0M391.7 135.6h0M393.2 143.6h0M366.0 151.6h0M377.2 119.4h0M362.5 132.0h0M323.3 118.8h0M380.0 179.0h0M376.9 179.5h0M363.5 189.6h0M362.8 196.2h0M384.3 124.2h0M309.7 201.5h0M391.4 189.9h0M330.0 205.1h0M388.3 193.1h0M310.2 188.8h0M379.8 162.3h0M315.5 155.8h0M316.0 133.4h0M390.1 121.3h0M368.3 115.8h0M343.4 171.6h0M385.8 130.8h0M387.5 122.2h0M313.6 143.8h0M390.4 155.5h0M358.3 204.2h0M368.8 122.9h0M305.1 128.9h0M335.0 131.9h0M360.9 122.3h0M308.0 190.6h0M344.6 143.4h0M364.1 121.1h0M342.2 120.7h0M368.3 136.6h0M394.4 144.9h0M364.2 115.6h0M391.1 179.5h0M372.8 118.5h0M363.6 201.5h0M364.0 120.4h0M305.7 136.0h0M391.7 140.3h0M308.3 120.9h0M395.2 135.6h0M359.0 202.7h0M396.6 193.8h0M319.7 114.9h0M396.0 174.8h0"/>
<path stroke="#1e1ebe" stroke-width="2.0" stroke-linecap="round" d="M312.0 187.1h0M382.3 189.9h0M312.2 158.2h0M361.4 118.6h0M322.3 165.9h0M340.0 182.4h0M341.8 114.6h0M383.5 200.4h0M390.5 176.4h0M333.8 118.6h0M395.7 199.1h0M380.5 187.1h0M349.6 114.7h0M382.0 197.9h0M353.2 119.7h0M380.5 163.0h0M392.7 145.9h0M373.8 155.4h0M365.1 201.1h0M309.4 189.7h0M370.0 181.9h0M394.7 163.0h0M311.1 196.1h0M396.2 200.9h0M391.5 122.0h0M328.5 166.2h0M358.6 162.2h0M356.6 145.0h0M380.0 168.9h0M314.2 176.9h0M317.1 163.3h0M394.1 196.9h0M349.6 118.3h0M395.3 120.8h0M357.7 186.8h0M375.0 144.8h0M384.9 175.2h0M383.9 162.4h0M374.5 185.4h0M373.6 168.6h0M364.9 197.2h0M384.4 121.9h0M339.3 116.6h0M386.6 182.2h0M379.3 192.7h0M395.2 128.1h0M326.5 119.9h0M346.7 118.2h0M391.1 138.3h0M350.8 132.1h0M355.0 117.2h0M333.3 150.7h0M333.6 182.9h0M391.2 143.0h0M352.2 181.8h0M318.8 127.6h0M394.2 200.0h0M380.3 135.8h0M377.5 183.9h0M370.1 121.3h0M389.5 183.2h0M332.1 137.0h0M314.6 166.0h0M371.9 186.3h0M311.0 185.1h0M365.5 162.6h0M390.7 200.7h0M310.8 155.4h0M351.1 114.9h0M386.7 126.7h0M385.2 125.7h0M380.4 133.4h0M369.0 154.5h0M374.5 118.2h0M392.2 200.5h0M373.4 186.7h0M377.8 151.0h0M373.4 158.8h0M332.4 128.6h0M386.6 148.4h0M391.8 114.5h0M378.1 122.1h0M359.1 163.1h0M384.4 126.1h0M365.2 157.3h0M314.2 201.1h0M387.8 150.4h0M365.8 160.4h0M306.1 183.8h0"/>
<path stroke="#187870" stroke-width="2.0" stroke-linecap="round" d="M352.5 125.1h0M320.4 139.7h0M380.3 124.5h0M320.0 135.4h0M366.2 199.7h0M364.7 157.3h0M378.9 160.8h0M368.7 204.5h0M372.7 124.3h0M382.2 133.9h0M394.5 156.5h0M311.0 179.7h0M377.8 127.3h0M370.5 205.8h0M383.3 132.4h0M316.7 191.9h0M325.3 189.9h0M386.6 123.5h0M389.2 202.4h0M362.0 200.8h0M354.7 194.4h0M314.4 202.5h0M362.8 198.2h0M376.3 177.6h0M387.4 167.0h0M322.4 180.1h0M363.6 170.0h0M394.3 142.5h0M384.9 135.0h0M392.8 151.9h0M386.8 206.1h0M392.7 193.7h0M373.8 187.0h0M379.7 186.1h0M377.2 185.6h0M383.8 136.2h0M383.4 192.4h0M385.6 181.4h0M322.7 199.7h0M371.0 193.5h0M358.9 153.8h0M386.3 157.6h0M389.5 142.8h0M380.9 138.0h0M383.5 138.5h0M379.8 205.4h0M381.3 142.7h0M350.0 122.8h0M385.5 186.1h0M380.2 165.6h0M317.1 182.0h0M375.7 116.6h0M394.4 157.1h0M309.0 180.3h0"/>
<path stroke="#181898" stroke-width="2.0" stroke-linecap="round" d="M392.3 181.7h0M395.9 148.4h0M395.3 162.8h0M361.2 140.7h0M345.1 119.6h0M343.7 150.6h0M388.9 120.9h0M374.5 168.5h0M366.2 119.7h0M358.2 124.9h0M385.2 149.0h0M386.3 139.3h0M388.3 128.2h0M386.0 200.3h0M366.0 123.8h0M364.7 122.9h0M386.9 140.7h0M313.3 123.4h0M369.3 147.1h0M320.4 165.7h0M391.1 121.0h0M339.8 113.8h0M385.8 131.6h0M321.2 126.4h0M345.5 176.8h0M359.7 161.7h0M388.1 190.6h0M315.2 180.4h0M349.8 116.3h0M381.5 136.4h0M370.4 119.0h0M368.2 192.3h0M396.5 188.3h0M389.5 145.4h0M383.3 137.0h0M358.2 121.5h0M334.5 151.5h0M371.8 121.9h0M303.9 122.0h0M311.3 164.4h0M383.1 141.2h0M387.5 127.5h0M396.1 145.0h0M313.2 200.4h0M358.4 123.4h0M310.1 118.6h0M337.2 133.0h0M315.3 192.9h0M313.0 197.9h0M369.0 200.8h0M335.1 136.6h0M388.2 205.2h0M342.2 140.7h0M305.1 132.5h0M347.4 148.4h0M343.3 194.4h0M328.6 177.6h0M325.2 205.5h0M340.1 182.6h0M388.4 134.8h0M393.7 164.5h0M364.1 117.3h0M389.4 192.7h0M319.9 179.6h0M372.6 119.1h0M314.1 195.3h0M396.2 144.8h0M379.5 115.1h0M383.1 190.1h0M386.4 167.3h0M374.2 187.0h0M360.3 162.3h0M316.6 125.6h0M396.0 176.3h0M331.0 115.5h0M341.4 187.8h0M391.5 162.3h0M343.2 176.7h0M385.1 137.3h0"/>
<path stroke="#10524d" stroke-width="2.0" stroke-linecap="round" d="M362.7 205.8h0M328.0 195.5h0M372.8 162.9h0M381.4 160.1h0M396.5 162.6h0M381.9 172.3h0M371.7 193.5h0M343.1 140.7h0M352.2 124.7h0M395.8 186.1h0M337.0 146.0h0M317.9 137.9h0M376.7 183.2h0M341.9 140.7h0M368.4 127.3h0M388.1 169.7h0M315.8 176.0h0M389.7 148.6h0M354.1 194.5h0M381.7 132.5h0M391.6 159.7h0M387.6 131.8h0M355.0 167.0h0M356.8 203.3h0M391.8 140.5h0M365.0 160.9h0M323.3 201.4h0M340.5 146.0h0M322.7 190.8h0M364.8 206.3h0M381.6 193.0h0M370.8 206.1h0M369.7 187.5h0M358.0 150.3h0M379.7 124.0h0M366.9 180.2h0M384.3 205.9h0M370.5 170.3h0M365.3 124.1h0M342.5 133.3h0M315.0 178.7h0M336.2 132.8h0M323.2 142.5h0M359.7 168.9h0M316.3 165.4h0M357.5 165.4h0M364.3 163.7h0M374.0 178.8h0M320.4 140.5h0M316.2 195.1h0M344.5 165.7h0M385.6 146.1h0M350.0 201.3h0M376.7 188.2h0M350.9 160.2h0M389.7 184.8h0M329.2 126.8h0M386.1 149.3h0M396.0 192.7h0M366.9 160.7h0M321.7 182.0h0M385.1 147.9h0"/>
<path stroke="#1e968c" stroke-width="2.0" stroke-linecap="round" d="M376.4 161.6h0M372.6 174.9h0M332.2 130.9h0M384.8 171.3h0M307.5 178.2h0M373.8 134.5h0M387.2 128.7h0M395.8 194.6h0M325.5 182.5h0M360.5 146.1h0M357.2 183.2h0M376.8 141.3h0M392.7 163.0h0M306.9 186.1h0M363.7 202.3h0M357.0 203.5h0M358.7 146.8h0M369.7 171.0h0M304.2 191.3h0M379.3 141.6h0M375.1 129.7h0M373.8 115.6h0M323.1 200.4h0M380.6 125.3h0M317.5 182.8h0M371.8 164.7h0M313.4 193.8h0M386.6 205.2h0M352.1 200.9h0M365.3 159.3h0M334.7 140.5h0M314.8 203.3h0M382.3 163.0h0M377.0 118.7h0M391.6 173.5h0M391.3 167.2h0M359.8 200.6h0M388.7 155.2h0M356.7 194.6h0M327.8 148.1h0M342.6 143.8h0M376.3 151.6h0M389.7 172.9h0"/>
<path stroke="#1e968c" stroke-width="1.6" stroke-linecap="round" d="M338.6 136.6h0M333.8 143.1h0M372.9 187.9h0M356.5 151.0h0M374.1 120.6h0M354.0 161.4h0M371.8 124.3h0M394.0 178.3h0M313.8 186.5h0M370.2 157.5h0M319.9 180.1h0M372.4 173.9h0M367.7 150.9h0M309.6 185.5h0M360.0 163.4h0M376.5 134.0h0M378.1 155.4h0M373.8 121.9h0M390.4 192.3h0M324.2 127.4h0M356.8 184.6h0M342.7 123.0h0M323.8 188.7h0M356.3 144.1h0M376.9 130.3h0M391.6 175.9h0M324.1 192.2h0M365.5 196.0h0M388.2 132.5h0M356.4 121.1h0M339.0 142.3h0M375.1 130.8h0M385.3 202.5h0M386.3 131.2h0M389.0 143.3h0M315.4 174.5h0M382.0 172.9h0M323.9 185.5h0M378.7 161.2h0M393.9 138.6h0M355.6 124.1h0M310.2 204.5h0M394.1 203.9h0M384.2 161.6h0M382.2 194.4h0M388.5 180.3h0M320.4 187.0h0M325.3 138.2h0M388.1 182.1h0M338.8 166.9h0M360.8 148.9h0M329.7 130.4h0M359.7 201.5h0"/>
<path stroke="#ac181c" stroke-width="1.2" stroke-linecap="round" d="M354.6 174.6h0M384.5 179.6h0M317.6 139.0h0M324.2 179.6h0M373.9 162.4h0M366.4 137.4h0M318.1 145.9h0M355.0 136.1h0M342.0 151.8h0M350.4 127.1h0M344.0 161.4h0M311.0 155.7h0M345.4 150.2h0M306.7 137.7h0M365.6 154.1h0M355.0 135.2h0M313.8 153.8h0M314.8 149.4h0M354.5 128.2h0M316.5 114.0h0M329.7 193.3h0M362.1 136.9h0M343.9 162.8h0M390.0 185.3h0M323.7 153.9h0M311.4 143.0h0M341.9 195.8h0M313.8 155.2h0M361.3 127.1h0M313.7 151.2h0M321.8 162.9h0M311.0 146.1h0M307.4 172.2h0M351.3 157.9h0M384.4 178.7h0M372.0 146.3h0M370.5 133.0h0M362.8 141.2h0M323.0 150.7h0M308.6 159.0h0M386.9 160.1h0M306.9 157.2h0M334.6 194.9h0M382.3 152.5h0M326.8 135.4h0M329.0 158.0h0M338.1 196.0h0M309.0 152.5h0M340.3 205.3h0M349.4 150.0h0M338.9 164.4h0M316.0 129.6h0M328.2 184.3h0M361.1 130.2h0M372.2 172.2h0M334.2 194.4h0M381.5 181.2h0M377.3 143.5h0M307.1 204.4h0M307.7 140.7h0M346.8 202.1h0M333.5 187.3h0M341.4 192.6h0M322.3 167.0h0M364.1 149.8h0M339.6 162.0h0M346.3 157.1h0M361.4 131.7h0M344.4 182.7h0M306.2 138.5h0M352.1 183.7h0M328.8 184.9h0M339.0 177.2h0M369.5 133.7h0M384.1 181.1h0M336.7 187.5h0M387.2 164.8h0M362.1 129.6h0M346.0 185.2h0M340.7 162.0h0M315.0 146.7h0M310.3 149.7h0"/>
<rect x="371.00" y="200.90" width="19.20" height="1.90" fill="#fff" stroke="none" stroke-width="0.7"/>
</g>
<clipPath id="cg2"><rect x="398.40" y="113.60" width="93.60" height="92.80"/></clipPath>
<g clip-path="url(#cg2)">
<rect x="398.40" y="113.60" width="93.60" height="92.80" fill="#000" stroke="none" stroke-width="0.7"/>
<g filter="url(#blur2)"><rect x="398.4" y="113.6" width="12.0" height="11.9" fill="#08083a"/><rect x="410.1" y="113.6" width="12.0" height="11.9" fill="#08083a"/><rect x="421.8" y="113.6" width="12.0" height="11.9" fill="#08083a"/><rect x="433.5" y="113.6" width="12.0" height="11.9" fill="#08083a"/><rect x="445.2" y="113.6" width="12.0" height="11.9" fill="#08083a"/><rect x="456.9" y="113.6" width="12.0" height="11.9" fill="#08083a"/><rect x="468.6" y="113.6" width="12.0" height="11.9" fill="#08083a"/><rect x="480.3" y="113.6" width="12.0" height="11.9" fill="#08083a"/><rect x="398.4" y="125.2" width="12.0" height="11.9" fill="#08083a"/><rect x="410.1" y="125.2" width="12.0" height="11.9" fill="#08083a"/><rect x="421.8" y="125.2" width="12.0" height="11.9" fill="#040428"/><rect x="433.5" y="125.2" width="12.0" height="11.9" fill="#040428"/><rect x="445.2" y="125.2" width="12.0" height="11.9" fill="#140a36"/><rect x="456.9" y="125.2" width="12.0" height="11.9" fill="#200a34"/><rect x="468.6" y="125.2" width="12.0" height="11.9" fill="#140a36"/><rect x="480.3" y="125.2" width="12.0" height="11.9" fill="#08083a"/><rect x="398.4" y="136.8" width="12.0" height="11.9" fill="#08083a"/><rect x="410.1" y="136.8" width="12.0" height="11.9" fill="#040428"/><rect x="421.8" y="136.8" width="12.0" height="11.9" fill="#040428"/><rect x="433.5" y="136.8" width="12.0" height="11.9" fill="#040428"/><rect x="445.2" y="136.8" width="12.0" height="11.9" fill="#200a34"/><rect x="456.9" y="136.8" width="12.0" height="11.9" fill="#3a0c40"/><rect x="468.6" y="136.8" width="12.0" height="11.9" fill="#200a34"/><rect x="480.3" y="136.8" width="12.0" height="11.9" fill="#140a36"/><rect x="398.4" y="148.4" width="12.0" height="11.9" fill="#08083a"/><rect x="410.1" y="148.4" width="12.0" height="11.9" fill="#040428"/><rect x="421.8" y="148.4" width="12.0" height="11.9" fill="#040428"/><rect x="433.5" y="148.4" width="12.0" height="11.9" fill="#040428"/><rect x="445.2" y="148.4" width="12.0" height="11.9" fill="#200a34"/><rect x="456.9" y="148.4" width="12.0" height="11.9" fill="#3a0c40"/><rect x="468.6" y="148.4" width="12.0" height="11.9" fill="#200a34"/><rect x="480.3" y="148.4" width="12.0" height="11.9" fill="#140a36"/><rect x="398.4" y="160.0" width="12.0" height="11.9" fill="#08083a"/><rect x="410.1" y="160.0" width="12.0" height="11.9" fill="#08083a"/><rect x="421.8" y="160.0" width="12.0" height="11.9" fill="#040428"/><rect x="433.5" y="160.0" width="12.0" height="11.9" fill="#08083a"/><rect x="445.2" y="160.0" width="12.0" height="11.9" fill="#140a36"/><rect x="456.9" y="160.0" width="12.0" height="11.9" fill="#200a34"/><rect x="468.6" y="160.0" width="12.0" height="11.9" fill="#140a36"/><rect x="480.3" y="160.0" width="12.0" height="11.9" fill="#08083a"/><rect x="398.4" y="171.6" width="12.0" height="11.9" fill="#08083a"/><rect x="410.1" y="171.6" width="12.0" height="11.9" fill="#08083a"/><rect x="421.8" y="171.6" width="12.0" height="11.9" fill="#08083a"/><rect x="433.5" y="171.6" width="12.0" height="11.9" fill="#08083a"/><rect x="445.2" y="171.6" width="12.0" height="11.9" fill="#08083a"/><rect x="456.9" y="171.6" width="12.0" height="11.9" fill="#140a36"/><rect x="468.6" y="171.6" width="12.0" height="11.9" fill="#08083a"/><rect x="480.3" y="171.6" width="12.0" height="11.9" fill="#08083a"/><rect x="398.4" y="183.2" width="12.0" height="11.9" fill="#08083a"/><rect x="410.1" y="183.2" width="12.0" height="11.9" fill="#08083a"/><rect x="421.8" y="183.2" width="12.0" height="11.9" fill="#08083a"/><rect x="433.5" y="183.2" width="12.0" height="11.9" fill="#08083a"/><rect x="445.2" y="183.2" width="12.0" height="11.9" fill="#08083a"/><rect x="456.9" y="183.2" width="12.0" height="11.9" fill="#08083a"/><rect x="468.6" y="183.2" width="12.0" height="11.9" fill="#08083a"/><rect x="480.3" y="183.2" width="12.0" height="11.9" fill="#08083a"/><rect x="398.4" y="194.8" width="12.0" height="11.9" fill="#08083a"/><rect x="410.1" y="194.8" width="12.0" height="11.9" fill="#08083a"/><rect x="421.8" y="194.8" width="12.0" height="11.9" fill="#08083a"/><rect x="433.5" y="194.8" width="12.0" height="11.9" fill="#08083a"/><rect x="445.2" y="194.8" width="12.0" height="11.9" fill="#08083a"/><rect x="456.9" y="194.8" width="12.0" height="11.9" fill="#08083a"/><rect x="468.6" y="194.8" width="12.0" height="11.9" fill="#08083a"/><rect x="480.3" y="194.8" width="12.0" height="11.9" fill="#08083a"/></g>
<path stroke="#2424bc" stroke-width="1.5" stroke-linecap="round" d="M428.8 139.7h0M417.4 120.2h0M429.2 205.5h0M464.2 206.2h0M405.9 149.4h0M406.1 150.6h0M418.7 193.0h0M487.2 136.8h0M409.0 148.2h0M484.9 128.9h0M436.4 122.7h0M488.9 128.0h0M454.5 117.4h0M422.7 138.7h0M405.6 136.4h0M459.7 179.9h0M447.3 194.3h0M432.8 198.9h0M407.0 135.4h0M455.6 179.1h0M434.6 161.4h0M478.4 149.1h0M425.4 205.1h0M479.0 199.7h0M424.3 142.1h0M439.1 149.3h0M408.3 160.9h0M488.2 161.5h0M470.0 176.3h0M463.4 123.5h0M412.4 167.0h0M468.5 116.0h0M491.9 118.1h0M470.4 143.7h0M464.1 138.2h0M406.0 159.7h0M489.6 119.5h0M422.2 147.1h0M489.7 152.2h0M485.8 188.8h0M425.3 134.9h0M411.1 127.1h0M433.8 180.1h0M403.2 166.1h0M404.1 143.3h0M456.4 205.8h0M458.4 184.8h0M431.6 165.1h0M440.2 150.3h0M403.9 168.2h0M417.4 164.0h0M415.2 193.1h0M466.4 181.0h0M409.8 156.6h0M490.9 177.9h0M402.4 167.8h0M411.3 186.5h0M440.2 199.0h0M425.0 141.3h0M463.4 145.0h0M443.5 124.1h0M487.1 130.4h0M428.5 199.5h0M429.8 136.1h0M432.3 160.6h0M453.6 204.0h0M473.7 182.1h0M413.2 126.1h0M415.7 167.3h0M436.9 199.6h0M400.9 149.0h0M470.8 117.0h0M432.8 175.3h0M460.9 131.2h0M398.6 120.0h0M442.3 167.6h0M476.7 176.3h0M456.1 194.1h0M459.3 177.1h0M425.3 182.5h0M437.7 174.8h0M406.1 200.7h0M486.5 116.9h0M423.1 131.8h0M404.9 178.9h0M485.8 150.2h0M436.6 145.7h0M412.6 139.7h0M441.5 179.6h0M430.8 141.5h0M405.5 166.2h0M452.4 138.6h0M437.1 189.7h0M400.6 178.9h0M490.6 204.5h0M477.7 114.3h0M422.3 198.6h0M475.8 173.2h0M428.6 134.7h0M409.7 175.5h0M398.9 176.3h0M436.1 116.0h0M399.1 122.4h0M473.6 120.4h0M480.5 140.3h0M485.1 137.9h0M406.4 152.4h0M459.9 147.2h0M454.0 113.9h0M428.4 205.8h0M447.2 125.5h0M457.7 147.2h0M426.4 152.1h0M405.2 205.0h0M418.7 143.1h0M449.5 164.4h0M484.9 157.1h0M413.0 136.5h0M409.6 161.7h0M455.1 200.4h0M436.1 138.3h0M423.2 158.7h0M473.1 189.7h0M406.2 198.5h0M452.3 185.1h0M430.2 140.9h0M446.3 199.7h0M443.0 169.1h0M455.9 172.1h0M487.2 114.6h0M451.8 181.8h0M442.2 134.5h0M456.0 161.8h0M438.2 148.4h0M398.5 182.3h0M404.1 203.8h0M444.1 203.9h0M483.6 171.0h0M483.5 202.2h0M416.2 148.6h0M478.6 190.6h0M414.0 160.1h0M404.6 140.3h0M428.1 193.9h0M434.4 185.8h0M456.2 121.1h0M473.8 173.0h0M429.1 172.1h0M470.4 125.3h0M410.2 159.6h0M411.3 141.2h0M405.0 198.7h0M470.9 189.7h0M427.8 125.8h0M480.2 138.6h0M416.6 170.6h0M485.5 187.4h0M491.1 169.7h0M420.1 154.6h0M434.0 192.1h0M413.2 168.2h0M462.0 202.4h0M465.6 191.0h0M475.0 133.9h0M426.9 145.0h0M424.8 152.1h0M486.7 193.1h0M422.9 193.1h0M412.1 198.1h0M415.1 159.0h0M434.1 151.3h0M443.3 182.8h0M480.5 153.1h0M472.5 122.0h0M462.9 115.4h0M407.0 198.4h0M413.5 150.7h0M474.3 146.4h0M398.9 147.0h0M472.5 193.7h0M485.5 186.2h0M473.1 160.2h0M486.9 140.3h0M480.2 178.2h0M484.5 128.7h0M466.2 167.7h0M474.4 205.0h0M445.9 153.2h0M401.6 155.9h0M405.4 166.1h0M407.5 135.0h0M437.1 137.3h0M423.6 185.1h0M466.1 122.4h0M433.8 201.9h0M426.6 155.6h0M443.8 146.2h0M404.2 122.5h0M484.0 145.9h0M437.6 202.8h0M421.9 126.9h0M420.9 163.9h0M466.4 179.0h0M445.5 173.2h0M409.7 152.7h0M432.0 179.5h0M461.9 195.1h0M415.2 174.5h0M472.3 166.3h0M401.5 165.6h0M424.3 133.9h0M430.1 165.5h0M417.2 162.3h0M408.7 166.1h0M416.5 186.0h0M488.8 121.6h0M452.3 113.7h0M490.0 184.3h0M468.0 201.0h0M477.1 202.0h0M490.2 145.7h0M487.4 121.7h0M469.1 123.6h0M410.8 198.0h0M414.3 187.0h0M435.7 145.9h0M447.3 167.9h0M478.5 147.2h0M470.8 178.7h0M401.7 164.1h0M425.0 163.3h0M446.7 134.6h0M429.5 124.4h0M453.7 122.3h0M453.1 193.2h0M421.9 116.5h0M405.0 191.4h0M423.3 124.4h0M452.9 124.7h0M477.5 116.5h0M404.9 135.6h0M485.0 143.0h0M430.5 172.1h0M462.7 183.0h0M432.5 155.5h0M453.3 152.0h0M487.0 199.0h0M406.9 122.6h0M457.3 125.5h0M413.2 157.2h0M479.5 184.3h0M427.2 192.3h0M489.4 189.9h0M413.0 174.7h0M475.1 113.9h0M438.1 116.3h0M434.5 136.1h0M401.8 117.6h0M440.6 123.8h0M452.2 197.2h0M407.3 135.7h0M406.7 128.9h0M414.8 118.4h0M410.2 130.1h0M425.9 202.9h0M490.4 127.0h0M443.7 192.6h0M405.2 200.1h0M433.9 187.9h0M482.2 158.4h0M452.1 125.8h0M403.8 149.1h0M458.1 125.4h0M402.7 115.5h0M454.1 145.4h0M420.8 143.9h0M434.3 184.0h0M400.7 158.2h0M469.8 172.6h0M440.0 198.0h0M444.4 115.3h0M453.1 178.1h0M422.3 192.0h0M432.6 199.2h0M476.9 136.8h0M407.2 163.7h0M407.4 191.0h0M400.1 137.3h0M427.4 206.0h0"/>
<path stroke="#2d2deb" stroke-width="1.9" stroke-linecap="round" d="M478.3 151.5h0M478.6 122.2h0M425.8 181.1h0M482.4 158.7h0M461.5 159.8h0M480.9 116.5h0M419.9 143.5h0M451.0 178.3h0M444.7 157.5h0M443.0 142.1h0M428.1 164.7h0M476.5 133.8h0M411.2 177.6h0M424.5 178.8h0M430.0 116.4h0M424.7 174.8h0M475.9 144.0h0M431.2 184.4h0M468.1 187.6h0M491.8 124.4h0M428.1 182.6h0M405.5 158.5h0M476.6 178.2h0M458.7 180.2h0M456.5 174.7h0M418.5 165.3h0M471.3 179.4h0M411.2 180.6h0M480.2 130.7h0M485.6 199.4h0M453.0 115.1h0M454.7 193.5h0M447.0 163.9h0M451.3 129.2h0M447.6 192.8h0M455.2 203.0h0M409.1 186.6h0M471.9 171.2h0M463.3 162.3h0M410.1 118.2h0M469.1 190.2h0M480.8 189.8h0M476.8 133.2h0M436.6 195.7h0M488.4 196.5h0M470.3 128.4h0M406.6 146.7h0M455.9 151.4h0M455.5 180.8h0M401.5 123.1h0M467.4 193.4h0M409.3 118.9h0M421.4 175.2h0M440.6 200.0h0M452.7 115.1h0M446.6 176.5h0M412.9 192.6h0M469.4 166.3h0M440.6 134.5h0M427.0 198.3h0M411.5 183.5h0M444.7 202.9h0M446.9 173.7h0M441.6 184.3h0M483.0 200.4h0M435.7 164.3h0M430.9 151.2h0M480.5 194.9h0M450.3 117.5h0M415.0 141.7h0M412.0 167.8h0M460.8 196.6h0M429.0 194.1h0M425.1 179.7h0M455.8 123.2h0M483.6 158.5h0M421.8 129.8h0M462.7 184.7h0M450.0 115.8h0M405.1 201.9h0M405.9 135.7h0M458.5 196.1h0M476.0 120.9h0M416.8 179.7h0M426.3 126.5h0M420.9 170.0h0M484.9 181.2h0M469.1 203.2h0M436.6 119.5h0M408.5 147.6h0M442.4 171.3h0M474.0 113.6h0M407.7 170.4h0M402.0 136.4h0M423.1 114.6h0M411.4 121.5h0M458.4 203.5h0M481.2 202.4h0M427.4 150.5h0M404.8 166.1h0M471.8 121.7h0M410.8 115.3h0M465.1 178.4h0M478.5 170.2h0M479.8 160.5h0M456.9 115.6h0M399.2 129.0h0M431.7 182.5h0M469.0 181.7h0M433.8 174.6h0M452.0 202.0h0M470.9 137.5h0M457.5 162.8h0M485.6 196.3h0M480.8 204.6h0M462.6 189.1h0M482.3 168.1h0M430.5 170.9h0M441.3 120.2h0M483.3 127.2h0M415.5 181.5h0M489.3 131.9h0M444.2 120.5h0M490.4 177.1h0M418.9 191.5h0M429.9 157.3h0M479.5 136.8h0M449.4 115.0h0M435.0 189.7h0M415.0 181.8h0M489.6 196.3h0M435.6 135.0h0M407.2 135.2h0M480.9 135.7h0M437.5 175.1h0M409.2 175.7h0M434.3 150.3h0M430.1 178.2h0M487.1 190.1h0M419.0 187.4h0M446.3 142.1h0M410.2 163.6h0M462.1 170.0h0M413.7 130.5h0M408.4 160.1h0M491.3 190.6h0M480.0 194.4h0M412.2 202.7h0M484.9 117.7h0M477.2 204.9h0M440.0 203.9h0M423.1 142.1h0M407.3 199.8h0M399.9 205.2h0M435.0 202.6h0M421.9 146.2h0M449.7 185.4h0M464.5 176.0h0M453.4 185.5h0M423.8 125.0h0M402.3 192.2h0M455.9 165.2h0M472.2 165.4h0M489.1 194.1h0M408.2 141.8h0M449.6 192.1h0M441.8 175.2h0M429.4 186.2h0M447.7 133.0h0M406.1 162.5h0M440.5 121.7h0M419.9 136.0h0M402.7 136.8h0M418.3 188.5h0M411.2 205.7h0M400.2 126.5h0M408.3 158.9h0M428.4 131.6h0M433.1 175.7h0M443.5 121.1h0M431.8 146.0h0M435.8 191.0h0M477.5 199.5h0M409.0 182.3h0M431.7 169.3h0M473.6 189.6h0M477.1 205.3h0M434.0 190.5h0M449.9 175.4h0M491.0 152.3h0M423.2 187.5h0M418.5 184.3h0M434.3 187.8h0M459.9 144.0h0M476.2 190.9h0M449.8 199.7h0M403.5 158.1h0M491.8 155.4h0M404.3 152.5h0M425.6 143.0h0M444.8 152.9h0M483.6 163.3h0M468.0 124.0h0M490.1 123.8h0M473.8 127.4h0M424.4 158.5h0M469.2 153.0h0M399.1 114.1h0M445.3 129.9h0M431.7 121.6h0M488.3 198.3h0M408.6 155.4h0M400.3 118.8h0M444.0 118.3h0M413.5 116.7h0M404.6 149.8h0M465.5 190.3h0M447.9 199.4h0M445.1 188.3h0M406.4 171.0h0M454.3 117.7h0M469.6 172.9h0M463.3 189.3h0M412.7 175.3h0M483.2 194.6h0M438.4 193.2h0M410.5 156.1h0M447.1 206.2h0M428.7 162.8h0M479.3 140.8h0M480.8 141.0h0M464.5 144.3h0M465.7 161.3h0M480.6 169.6h0M415.4 176.1h0M475.2 164.6h0M443.0 187.8h0M448.0 166.6h0M426.3 135.6h0M445.3 204.5h0M429.0 127.9h0M452.1 185.6h0M465.9 188.8h0M460.2 119.9h0M431.4 167.4h0M454.3 152.1h0M418.7 114.4h0M401.9 184.9h0M446.4 200.5h0M399.9 195.6h0M488.4 168.5h0M448.2 114.3h0M480.5 177.7h0M456.1 196.6h0M441.2 161.2h0M488.1 203.4h0M480.1 170.9h0M442.0 175.3h0M442.0 204.6h0M419.6 191.5h0M458.2 184.2h0M448.1 178.3h0M407.9 160.7h0M421.9 186.5h0M487.6 200.4h0M470.3 180.5h0M441.1 121.3h0M465.6 191.8h0M485.7 160.3h0M435.0 203.5h0M462.1 156.2h0M462.1 114.6h0M443.3 159.4h0M424.0 148.6h0M432.1 204.7h0M460.6 137.3h0M446.9 140.0h0M424.6 145.5h0M410.0 200.6h0M436.2 124.6h0M422.8 131.3h0M457.3 185.1h0M409.6 205.3h0M474.4 118.3h0M428.1 142.3h0M434.1 193.8h0M400.8 158.8h0M418.8 192.0h0M483.7 182.6h0M402.1 113.8h0M467.4 118.1h0M481.9 142.3h0M421.8 114.3h0M446.6 189.1h0M465.3 183.3h0M445.2 116.7h0M402.2 190.3h0M422.6 205.9h0M480.7 192.8h0M444.3 129.9h0M428.3 157.4h0M484.0 124.8h0M443.7 135.7h0M398.8 161.6h0M416.8 202.8h0M435.3 203.0h0M447.3 205.5h0M476.8 139.7h0M450.6 201.8h0M481.4 184.4h0M427.6 195.8h0M479.1 169.2h0M405.7 159.9h0M446.7 203.4h0M420.5 166.3h0M429.8 133.2h0M459.9 125.4h0M460.6 140.1h0M415.2 185.4h0M464.3 177.4h0M441.3 115.4h0M459.8 146.8h0M422.3 190.5h0"/>
<path stroke="#862160" stroke-width="1.9" stroke-linecap="round" d="M452.3 127.1h0M465.9 167.1h0M475.0 142.2h0M485.6 127.3h0M490.5 121.2h0M449.8 194.1h0M463.8 130.1h0M464.2 156.4h0M463.7 164.6h0M484.7 114.8h0M443.3 178.5h0M466.4 146.8h0M447.5 157.9h0M470.3 138.0h0M461.6 151.2h0M425.9 168.4h0M469.2 153.1h0M467.8 134.6h0M462.7 146.2h0M455.0 153.8h0M467.7 158.8h0M474.7 139.6h0M476.5 127.5h0M469.9 136.8h0M460.8 164.0h0M424.5 160.6h0M464.7 132.3h0M467.0 190.2h0M464.7 126.3h0M454.4 168.8h0M463.7 144.9h0M453.6 162.0h0M414.1 193.4h0M456.5 153.8h0M485.2 141.5h0M447.3 150.2h0M480.1 148.7h0M479.7 141.1h0M464.7 149.8h0M432.9 154.5h0"/>
<path stroke="#2424bc" stroke-width="1.1" stroke-linecap="round" d="M426.3 130.0h0M400.7 182.9h0M465.0 120.3h0M436.6 131.7h0M400.5 148.8h0M484.5 187.5h0M436.7 191.2h0M473.9 201.5h0M457.4 187.4h0M427.9 175.0h0M478.5 143.6h0M413.5 117.7h0M470.6 120.0h0M408.7 172.7h0M450.0 153.4h0M424.5 171.6h0M451.8 194.0h0M435.9 206.1h0M415.0 139.4h0M445.1 202.6h0M404.9 154.3h0M436.6 134.3h0M448.4 205.2h0M421.0 138.4h0M414.5 205.5h0M417.4 172.5h0M445.7 178.7h0M456.0 154.2h0M403.9 146.7h0M422.1 196.4h0M461.3 132.5h0M466.8 174.5h0M430.9 206.4h0M485.7 176.4h0M423.2 186.8h0M398.5 185.4h0M476.9 173.0h0M434.4 119.3h0M442.6 178.0h0M428.9 179.4h0M454.8 189.4h0M436.8 126.8h0M451.0 173.7h0M404.4 205.2h0M485.2 167.6h0M455.9 181.5h0M444.6 115.3h0M399.9 154.9h0M487.3 195.9h0M404.6 119.8h0M453.4 182.0h0M401.4 161.6h0M423.5 142.2h0M481.4 187.8h0M436.5 184.5h0M437.9 198.4h0M422.1 201.6h0M446.3 204.0h0M460.6 126.7h0M484.6 164.4h0M442.4 131.0h0M490.0 192.5h0M486.2 123.7h0M418.3 170.3h0M470.3 123.2h0M423.9 129.0h0M477.9 143.7h0M400.2 176.2h0M428.4 187.6h0M492.0 119.3h0M477.4 130.9h0M466.5 161.1h0M408.2 170.3h0M407.2 200.5h0M413.6 200.5h0M474.6 188.3h0M445.6 180.5h0M450.4 145.5h0M440.5 158.8h0M420.0 195.4h0M440.7 194.1h0M427.8 121.9h0M472.5 183.0h0M458.3 188.3h0M400.8 181.1h0M424.5 133.2h0M446.1 194.0h0M452.9 204.9h0M401.1 127.9h0M431.9 132.2h0M423.9 198.5h0M491.4 116.9h0M447.3 164.8h0M440.1 129.8h0M473.7 114.5h0M400.5 181.7h0M448.5 141.1h0M410.1 183.4h0M399.8 194.6h0M436.9 203.9h0M453.5 198.6h0M420.4 170.2h0M481.5 154.9h0M441.3 148.1h0M422.6 199.0h0M489.0 200.1h0M463.2 165.3h0M434.9 155.9h0M481.9 176.1h0M431.7 184.2h0M453.0 190.8h0M415.6 121.4h0M432.4 136.3h0M400.7 170.3h0M468.1 184.2h0M406.6 169.3h0M407.8 135.2h0M453.4 136.4h0M407.0 138.1h0M446.0 193.2h0M437.0 132.5h0M420.1 124.6h0M411.8 205.3h0M452.1 203.0h0M427.7 153.1h0M468.3 141.1h0M462.7 131.5h0M414.3 152.4h0M422.4 189.6h0M487.9 204.5h0M441.2 165.1h0M404.6 122.4h0M404.7 118.8h0M478.6 143.0h0M462.8 129.5h0M458.0 119.9h0M434.8 173.1h0M468.9 137.0h0M476.6 135.8h0M482.5 133.4h0M472.1 176.5h0M477.2 124.8h0M436.0 175.0h0M466.4 117.2h0M411.5 142.7h0M462.1 140.1h0M454.9 187.3h0M420.6 125.1h0M408.3 199.2h0M441.0 194.0h0M431.0 205.3h0M468.6 186.9h0M438.2 142.6h0M437.2 203.3h0M411.8 195.5h0M430.4 122.5h0M439.1 155.6h0M435.5 141.9h0M426.5 182.7h0M412.7 162.7h0M468.7 149.6h0M485.1 161.6h0M401.3 156.8h0M470.5 131.3h0M430.5 159.8h0M476.7 144.1h0M442.8 139.8h0M491.3 175.5h0M406.2 180.4h0M467.6 136.2h0M456.0 165.8h0M434.7 199.3h0M459.0 189.6h0M402.4 135.4h0M461.1 155.7h0M462.0 189.6h0M400.7 181.6h0M433.1 194.5h0M411.4 132.1h0M469.0 134.7h0M487.3 158.2h0M458.3 116.7h0M446.1 131.2h0M484.3 136.3h0M476.7 148.9h0M422.9 161.3h0M438.4 115.6h0M458.1 155.2h0M405.4 162.2h0M416.5 181.6h0M456.5 171.8h0M438.7 184.8h0M479.8 160.5h0M419.8 150.7h0M410.5 122.1h0M440.2 118.4h0M490.8 178.1h0M485.6 164.2h0M482.6 149.5h0M490.0 183.9h0M459.8 197.3h0M431.5 151.1h0M412.7 184.1h0M462.5 158.6h0M480.7 129.5h0M412.3 165.1h0M479.2 180.8h0M405.9 172.6h0M424.1 169.0h0M487.6 140.3h0M486.3 138.7h0M469.5 154.5h0M410.4 124.2h0M490.0 182.6h0M399.1 171.3h0M405.2 186.0h0M481.5 139.3h0M428.4 124.1h0M407.2 197.5h0M441.2 165.4h0M474.1 146.1h0M478.8 162.1h0M421.1 162.0h0M443.7 171.2h0M483.1 164.1h0M486.4 157.7h0M435.9 200.2h0M484.9 128.6h0M436.3 164.3h0M431.1 116.4h0M441.6 173.5h0M438.6 181.1h0M432.3 172.3h0M402.6 157.2h0M484.6 170.3h0M471.2 165.4h0M486.6 202.5h0M453.7 155.0h0M466.8 180.2h0M404.9 126.9h0M407.9 184.9h0M436.5 189.8h0M415.6 198.3h0M426.6 196.5h0M485.7 153.4h0M439.6 121.8h0M430.9 177.7h0M439.2 202.4h0M446.7 148.6h0M487.9 128.5h0M489.9 163.1h0M463.3 199.0h0M445.1 172.3h0M437.8 146.7h0M450.2 172.8h0M400.5 115.7h0M437.5 114.9h0M446.6 177.9h0M462.8 197.8h0M408.3 174.1h0M421.9 202.3h0M474.2 115.4h0M419.8 129.3h0M482.7 203.0h0M398.6 138.7h0M476.2 182.2h0M482.4 179.2h0M482.7 204.8h0M483.1 161.0h0"/>
<path stroke="#f53caf" stroke-width="1.5" stroke-linecap="round" d="M459.4 183.1h0M447.6 144.1h0M463.8 146.0h0M462.0 135.5h0M485.1 142.4h0M412.6 199.1h0M409.6 149.8h0M454.0 170.0h0M446.8 117.3h0M477.0 136.0h0M460.5 157.6h0M472.7 164.5h0M489.8 146.0h0M463.9 138.6h0M410.1 153.2h0M431.3 178.3h0M417.3 148.2h0M466.6 152.3h0M479.1 150.4h0M463.5 138.3h0M464.5 152.3h0M464.2 121.1h0M481.6 144.7h0M463.7 140.8h0M458.6 132.9h0M470.6 149.7h0M464.9 138.9h0M455.5 128.1h0M484.4 142.4h0M483.6 153.3h0M454.7 155.9h0M471.9 152.5h0M405.1 177.5h0M462.6 172.4h0M470.3 154.5h0M414.8 167.9h0M484.4 119.0h0M436.0 195.2h0"/>
<path stroke="#2d2deb" stroke-width="1.1" stroke-linecap="round" d="M456.3 179.8h0M449.9 203.8h0M471.7 175.9h0M474.0 117.9h0M466.7 194.2h0M430.7 142.6h0M426.5 125.1h0M418.5 161.6h0M415.8 183.2h0M429.4 158.0h0M429.4 205.7h0M430.7 122.2h0M426.7 156.8h0M491.3 149.9h0M441.3 116.3h0M485.3 172.5h0M453.5 187.8h0M479.3 148.4h0M483.0 175.8h0M399.2 128.4h0M433.2 163.1h0M439.2 116.8h0M416.6 181.4h0M471.3 193.8h0M424.4 201.7h0M413.5 121.0h0M430.8 190.5h0M454.2 167.3h0M455.0 124.2h0M450.4 199.1h0M400.9 169.3h0M442.7 158.1h0M427.5 183.1h0M491.7 133.7h0M420.2 175.9h0M417.1 188.2h0M426.3 121.5h0M423.8 155.1h0M489.4 164.4h0M473.1 127.3h0M421.8 178.3h0M483.7 164.3h0M418.0 124.7h0M445.6 200.0h0M416.6 174.0h0M422.1 121.9h0M406.2 118.7h0M481.8 122.1h0M476.0 196.3h0M481.8 161.1h0M415.5 194.5h0M453.3 159.2h0M443.4 141.4h0M399.9 184.9h0M447.4 172.2h0M471.7 203.1h0M465.3 196.6h0M489.9 194.8h0M441.4 126.1h0M474.7 123.7h0M460.7 146.9h0M419.5 196.4h0M451.6 178.5h0M477.2 187.4h0M400.2 178.1h0M478.8 180.9h0M476.9 173.0h0M486.8 116.0h0M489.6 189.0h0M439.6 177.6h0M436.9 142.3h0M431.4 114.6h0M411.2 185.0h0M453.6 200.8h0M472.0 154.4h0M426.1 113.8h0M422.3 114.6h0M474.4 156.1h0M424.0 141.9h0M422.8 185.7h0M458.7 204.8h0M420.8 115.3h0M442.1 198.6h0M410.3 172.5h0M486.3 120.4h0M420.0 173.7h0M418.5 199.7h0M445.9 173.0h0M407.6 154.7h0M489.8 148.8h0M412.5 173.3h0M426.5 182.1h0M474.8 118.4h0M403.4 159.6h0M444.2 176.1h0M436.1 159.5h0M488.3 202.3h0M475.2 140.9h0M436.7 183.3h0M438.6 118.5h0M450.8 153.3h0M492.0 114.9h0M460.9 122.6h0M484.4 190.3h0M403.6 134.5h0M467.0 134.7h0M434.8 179.1h0M433.0 184.3h0M400.9 131.5h0M413.0 160.8h0M419.6 122.7h0M401.4 161.5h0M448.1 139.6h0M463.2 156.3h0M436.0 194.2h0M490.1 163.3h0M442.3 196.3h0M491.1 199.8h0M443.1 188.4h0M429.5 115.1h0M420.8 205.3h0M471.4 167.8h0M474.7 114.1h0M429.1 200.4h0M460.5 115.2h0M416.2 177.6h0M462.9 181.6h0M460.2 190.0h0M417.3 164.0h0M472.3 117.2h0M436.8 145.3h0M431.2 193.4h0M423.0 190.0h0M442.7 127.6h0M446.7 138.8h0M453.1 166.6h0M442.3 150.4h0M468.9 126.2h0M490.9 160.4h0M456.2 205.5h0M430.5 201.6h0M415.9 193.8h0M435.7 175.3h0M478.1 132.8h0M454.0 172.7h0M402.6 192.4h0M447.9 205.1h0M488.3 194.6h0M424.2 125.6h0M487.2 147.5h0M485.5 187.0h0M425.4 155.5h0M437.7 199.6h0M432.5 170.5h0M470.0 177.8h0M402.0 158.0h0M487.1 179.0h0M422.9 115.5h0M451.4 119.2h0M445.9 179.7h0M471.0 174.9h0M465.5 183.2h0M412.4 195.4h0M437.6 151.7h0M490.9 115.7h0M401.1 180.1h0M440.5 202.8h0M486.8 190.6h0M483.4 145.6h0M460.6 116.1h0M481.5 200.8h0M441.2 169.7h0M417.8 191.3h0M404.8 168.2h0M436.4 182.5h0M489.0 117.6h0M438.3 201.9h0M460.6 204.6h0M403.5 189.8h0M406.0 197.1h0M481.2 179.6h0M482.9 182.9h0M414.4 204.6h0M401.1 167.2h0M465.2 119.2h0M414.7 122.1h0M430.2 175.3h0M436.7 155.4h0M407.7 201.1h0M427.5 122.5h0M417.0 123.7h0M469.4 162.6h0M406.6 115.6h0M484.8 199.2h0M477.3 153.1h0M456.3 143.1h0M454.8 191.2h0M462.2 203.1h0M428.1 180.6h0M412.9 197.5h0M478.5 192.7h0M408.7 166.9h0M404.1 126.5h0M475.6 197.9h0M490.4 123.7h0M460.8 203.4h0M491.4 123.6h0M478.5 192.8h0M477.9 150.6h0M473.0 128.6h0M480.3 152.2h0M454.1 141.8h0M469.8 173.9h0M415.0 164.6h0M478.4 178.8h0M449.4 160.3h0M438.0 198.2h0M431.5 191.0h0M459.1 166.2h0M416.3 143.8h0M464.4 194.6h0M452.5 180.2h0M400.6 159.0h0M479.9 122.7h0M487.8 165.8h0M447.8 167.3h0M451.2 162.4h0M475.4 179.9h0M483.8 188.5h0M420.1 151.2h0M466.6 183.6h0M405.4 137.3h0M410.5 205.1h0M422.3 135.2h0M437.5 119.0h0M419.8 183.0h0M473.5 137.0h0M440.7 193.3h0M433.6 160.6h0M414.1 202.5h0M479.3 174.3h0M469.7 151.8h0M425.1 185.8h0M463.5 120.6h0M419.2 203.5h0M458.0 152.3h0M471.9 135.1h0M411.6 176.6h0M419.1 157.6h0M470.0 151.3h0M437.9 127.8h0M485.9 169.4h0M446.1 135.5h0M437.9 130.0h0M411.6 168.9h0M440.8 161.7h0M409.3 142.7h0M436.1 206.3h0M461.1 173.7h0M473.2 118.1h0M400.9 190.3h0M439.3 180.4h0M420.3 166.0h0M408.2 158.3h0M431.2 124.2h0M430.1 177.5h0M413.5 134.7h0M425.3 133.7h0M464.6 140.5h0M435.3 178.5h0M414.4 160.2h0M486.4 193.7h0M477.7 169.5h0M436.3 154.8h0M415.8 180.7h0M468.1 172.0h0M459.0 179.6h0M452.9 157.4h0M414.4 134.5h0"/>
<path stroke="#181881" stroke-width="1.9" stroke-linecap="round" d="M417.9 191.5h0M423.4 179.8h0M432.6 174.7h0M486.1 130.8h0M419.7 142.5h0M481.7 196.8h0M456.1 205.9h0M473.4 181.8h0M454.0 162.4h0M449.0 191.8h0M486.6 147.0h0M446.3 192.4h0M423.4 185.0h0M477.0 194.4h0M453.6 159.5h0M474.5 167.0h0M479.3 185.4h0M436.9 132.4h0M455.0 187.4h0M465.5 129.3h0M452.5 151.1h0M422.1 163.5h0M422.8 173.1h0M463.7 201.2h0M445.6 118.4h0M434.2 147.8h0M400.1 192.1h0M488.0 175.2h0M401.1 132.5h0M441.3 123.1h0M459.4 168.4h0M467.0 198.0h0M485.0 180.0h0M440.8 201.8h0M429.2 137.7h0M417.1 204.0h0M404.6 166.5h0M418.0 118.5h0M406.2 146.7h0M486.4 132.2h0M407.1 135.1h0M456.6 184.1h0M432.1 185.3h0M419.1 144.6h0M430.4 204.3h0M428.1 185.8h0M398.9 169.9h0M482.6 197.9h0M415.3 130.6h0M481.7 161.8h0M415.8 159.2h0M462.3 124.4h0M431.6 182.2h0M467.8 123.8h0M440.7 115.5h0M480.7 182.6h0M482.2 118.9h0M430.7 121.3h0M401.5 191.7h0M409.8 181.4h0M442.0 190.6h0M450.3 176.9h0M458.0 169.2h0M416.8 172.7h0M437.1 173.4h0M417.1 135.1h0M423.1 176.3h0M434.6 157.1h0M452.0 143.1h0M479.9 121.7h0M473.6 132.1h0M412.5 205.4h0M453.9 160.8h0M428.0 164.7h0M425.2 117.2h0M460.5 137.1h0M467.8 197.7h0M399.3 179.9h0M456.1 172.8h0M406.0 200.2h0M490.9 159.2h0M430.2 168.2h0M491.9 183.0h0M465.9 130.3h0M433.6 154.0h0M446.1 142.4h0M472.7 144.9h0M426.2 170.5h0M461.8 167.0h0M419.0 141.6h0M427.1 135.8h0M419.3 184.5h0M481.2 116.4h0M422.3 127.9h0M411.6 172.8h0M446.5 201.4h0M491.6 200.2h0M404.4 116.0h0M429.3 120.3h0M460.3 205.9h0M435.7 189.4h0M482.3 153.1h0M478.6 121.0h0M437.8 204.1h0M417.2 154.7h0M474.1 189.0h0M405.4 191.1h0M415.9 188.8h0M447.8 192.3h0M486.9 187.6h0M426.2 127.0h0M402.6 148.0h0M425.1 117.7h0M400.4 170.8h0M451.6 184.9h0M473.4 115.5h0M419.3 126.6h0M434.7 149.0h0M438.5 137.7h0M435.9 158.5h0M452.4 123.2h0M486.9 161.1h0M474.0 192.3h0M403.9 162.8h0M412.2 173.4h0M403.3 182.8h0M417.1 125.7h0M426.0 187.9h0M412.1 167.3h0M430.6 144.0h0M443.4 172.3h0M423.5 136.4h0M454.8 117.1h0M419.7 201.5h0M443.7 189.3h0M416.4 128.1h0M443.1 113.6h0M471.4 188.8h0M408.0 135.2h0M410.3 150.4h0M418.1 147.5h0M401.5 156.8h0M475.0 176.8h0M429.5 189.4h0M454.6 202.9h0M456.5 119.3h0M437.1 141.3h0M419.1 157.1h0M478.1 177.9h0M464.5 194.6h0M441.7 193.6h0M431.8 180.9h0M475.2 115.6h0M403.5 196.6h0M434.9 199.0h0M454.6 113.8h0M431.6 158.5h0M426.5 139.6h0M422.5 180.2h0M451.2 167.8h0M424.1 149.2h0M488.7 167.6h0M399.8 159.7h0M451.2 126.2h0M441.1 121.3h0M458.0 199.2h0M402.9 198.1h0M436.6 198.1h0M481.2 135.4h0M475.2 182.2h0M479.7 192.1h0M471.8 182.3h0M453.0 148.9h0M473.6 132.1h0M436.7 143.2h0M476.4 181.4h0M436.8 127.3h0M428.9 204.9h0M451.3 205.7h0M480.8 205.1h0M486.5 133.9h0M481.5 119.4h0M475.6 114.6h0M452.0 160.6h0M450.3 132.2h0M473.6 153.5h0M451.3 190.6h0M450.6 119.9h0M477.3 175.1h0M477.0 196.7h0M419.6 150.4h0M482.4 202.6h0M423.6 124.0h0M403.0 122.0h0M443.0 180.5h0M484.7 152.0h0M455.6 189.0h0M444.7 167.6h0M458.6 202.2h0M405.1 191.2h0M399.3 133.7h0M491.3 171.5h0M474.2 145.2h0M478.3 176.4h0M425.0 138.8h0M428.3 162.9h0M403.6 114.0h0M471.0 165.6h0M433.1 176.4h0M444.3 179.4h0M487.1 189.9h0M452.9 123.9h0M478.3 195.4h0M452.2 193.4h0M488.6 148.7h0M474.2 192.4h0M428.8 166.5h0M474.1 197.6h0M451.0 205.4h0M404.2 131.0h0M461.0 193.8h0M418.8 129.4h0M471.7 201.2h0M416.7 167.7h0M446.1 206.1h0M403.7 155.5h0M467.4 197.9h0M449.7 120.8h0M446.9 175.0h0M478.2 200.8h0M453.0 132.4h0M487.6 199.9h0M449.0 200.9h0M436.9 204.9h0M404.5 142.0h0M412.1 157.6h0M414.5 169.5h0M453.1 114.6h0M489.4 189.1h0M398.7 178.7h0M438.0 118.4h0M468.7 167.7h0M463.6 133.0h0M403.4 204.8h0M433.4 190.7h0M463.4 141.1h0M428.8 129.1h0M458.0 198.6h0M447.1 178.5h0M422.3 201.8h0M471.0 158.1h0M488.4 154.2h0M465.0 177.1h0M479.9 201.8h0M484.9 145.6h0M472.4 171.5h0M408.7 127.4h0M473.2 144.1h0M444.6 123.6h0M414.1 168.2h0M427.6 194.7h0M483.2 203.8h0M444.2 165.9h0M472.0 163.1h0M440.4 137.8h0M466.5 135.5h0M420.4 173.5h0M410.1 117.7h0M410.1 176.5h0M480.8 174.0h0M436.2 133.8h0M413.2 124.7h0M450.9 188.3h0M431.0 151.4h0M437.1 182.2h0M462.1 126.6h0M486.8 150.6h0M428.8 166.2h0M411.3 137.5h0M434.1 154.3h0M442.2 201.1h0M470.7 187.6h0M487.9 197.7h0M411.7 169.6h0M444.9 170.4h0"/>
<path stroke="#181881" stroke-width="1.1" stroke-linecap="round" d="M424.2 194.5h0M422.1 123.3h0M487.1 114.8h0M469.3 124.6h0M482.5 193.7h0M416.6 160.9h0M474.3 176.6h0M480.0 183.2h0M426.4 193.0h0M435.3 183.8h0M449.9 120.3h0M478.3 151.8h0M489.6 180.9h0M476.8 123.9h0M466.9 171.0h0M439.2 205.2h0M430.4 124.5h0M421.3 206.0h0M460.7 183.1h0M487.3 125.1h0M434.9 186.2h0M404.9 154.5h0M427.4 179.2h0M440.4 195.6h0M443.9 162.7h0M432.8 183.7h0M436.8 122.0h0M455.3 127.5h0M460.2 143.2h0M401.3 170.9h0M470.2 182.1h0M471.0 150.0h0M436.2 129.2h0M403.9 174.0h0M438.1 156.0h0M464.8 189.3h0M478.2 162.7h0M465.2 200.8h0M447.5 200.4h0M464.3 148.4h0M447.2 117.3h0M464.5 177.4h0M438.5 172.7h0M478.3 169.6h0M477.3 167.5h0M441.3 195.7h0M432.0 129.8h0M438.4 189.0h0M399.8 180.4h0M465.1 167.3h0M459.6 133.3h0M453.0 177.9h0M411.6 204.5h0M453.4 125.3h0M488.0 135.2h0M439.1 128.6h0M437.2 150.2h0M470.2 143.7h0M465.6 177.3h0M489.2 198.2h0M462.9 184.0h0M411.0 120.6h0M398.6 188.2h0M445.2 190.5h0M460.3 133.8h0M402.7 196.2h0M404.9 147.6h0M400.9 196.1h0M459.6 197.5h0M430.3 114.0h0M457.2 166.7h0M491.8 139.7h0M437.1 166.8h0M451.5 185.5h0M403.2 177.2h0M481.4 204.9h0M469.3 180.9h0M446.1 127.6h0M428.2 145.9h0M416.7 187.0h0M443.1 190.2h0M427.7 139.6h0M437.2 151.7h0M437.9 144.2h0M486.9 127.8h0M482.3 134.8h0M428.6 126.9h0M414.1 202.4h0M406.6 144.0h0M449.2 130.8h0M441.1 133.8h0M451.7 197.8h0M491.9 206.1h0M459.7 196.5h0M462.2 205.3h0M475.6 170.1h0M421.5 132.0h0M433.1 151.2h0M440.0 180.8h0M487.5 119.6h0M446.4 206.2h0M489.9 151.9h0M477.7 165.6h0M428.9 124.1h0M402.7 166.5h0M467.5 204.1h0M418.9 177.2h0M442.1 199.0h0M481.5 201.9h0M399.7 144.6h0M468.9 154.4h0M473.2 176.4h0M488.8 153.9h0M482.3 173.4h0M443.9 190.2h0M433.7 132.0h0M412.7 155.8h0M464.8 189.4h0M410.6 181.1h0M404.4 124.1h0M452.1 169.5h0M436.8 121.1h0M449.9 186.4h0M446.1 146.0h0M426.6 121.5h0M478.4 181.7h0M416.7 123.8h0M457.6 187.8h0M427.5 198.7h0M430.0 163.7h0M423.1 146.8h0M449.7 172.1h0M425.3 138.7h0M416.2 194.8h0M479.4 191.8h0M418.1 135.9h0M453.3 156.1h0M479.2 201.2h0M412.2 201.0h0M420.4 162.9h0M488.1 139.7h0M411.1 182.2h0M399.2 148.8h0M418.7 141.5h0M407.6 159.3h0M423.9 196.3h0M425.9 140.3h0M449.5 173.2h0M435.0 181.3h0M417.1 182.3h0M488.2 198.4h0M470.3 166.5h0M467.3 124.2h0M468.3 177.4h0M469.6 133.3h0M416.6 165.9h0M418.5 163.0h0M461.6 192.1h0M491.2 114.6h0M432.0 200.7h0M466.8 180.1h0M488.8 194.5h0M432.0 182.1h0M482.7 115.3h0M408.3 198.9h0M446.7 163.5h0M462.0 121.3h0M434.9 148.8h0M487.2 163.8h0M412.6 118.2h0M422.1 117.5h0M406.6 164.3h0M407.8 151.8h0M416.2 142.2h0M404.7 171.7h0M487.8 163.5h0M439.5 138.9h0M456.3 142.2h0M471.5 205.1h0M448.5 169.3h0M425.7 164.0h0M401.0 202.4h0M405.0 190.1h0M430.3 178.9h0M472.6 123.6h0M417.2 186.0h0M435.1 200.2h0M414.2 141.9h0M407.1 199.4h0M452.6 162.5h0M456.0 172.4h0M433.6 122.8h0M472.2 158.3h0M476.4 195.3h0M487.0 127.2h0M460.8 190.4h0M404.3 173.5h0M464.7 191.3h0M471.7 124.9h0M482.5 202.0h0M406.4 118.8h0M479.0 174.4h0M413.7 154.4h0M420.1 120.1h0M471.2 149.0h0M424.3 129.0h0M404.1 174.6h0M408.6 115.5h0M409.7 150.6h0M481.1 141.6h0M416.6 183.2h0M466.1 196.1h0M448.1 202.9h0M485.6 203.0h0M414.0 199.7h0M468.4 165.7h0M474.8 132.9h0M491.2 172.7h0M469.7 115.6h0M443.4 143.5h0M446.8 140.1h0M479.1 182.2h0M458.5 120.8h0M471.4 198.7h0M419.3 175.6h0M489.4 204.8h0M460.1 179.6h0M419.2 136.6h0M437.6 128.1h0M416.9 145.2h0M415.5 174.8h0M401.4 184.9h0M489.3 187.9h0M436.7 164.0h0M475.3 123.9h0M412.8 191.0h0M405.2 187.5h0M437.0 149.2h0M426.5 184.4h0M416.4 148.5h0M426.7 138.9h0M425.1 146.7h0M404.7 138.7h0M415.7 135.3h0M426.7 147.3h0M404.8 138.9h0M417.4 197.3h0M441.4 125.5h0M437.8 190.0h0M468.2 187.4h0M475.9 199.5h0M478.2 146.1h0M438.1 126.1h0M404.1 158.3h0M453.9 180.1h0M469.2 180.5h0M482.5 128.9h0M451.1 165.8h0M422.8 162.8h0M470.2 143.7h0M482.4 145.9h0M440.1 195.6h0M408.7 174.0h0M434.8 117.6h0M405.2 126.7h0M453.3 173.6h0M417.7 144.8h0M467.4 175.4h0M408.3 126.9h0M445.8 130.1h0M417.5 152.1h0M431.9 199.9h0M421.8 188.2h0M465.5 115.4h0M465.1 138.0h0M449.7 198.8h0M406.8 187.4h0M422.0 183.3h0M470.6 160.9h0M405.8 195.7h0M472.5 121.6h0M429.0 161.8h0M423.9 186.0h0M436.1 202.3h0M469.3 169.8h0M440.6 203.1h0M399.8 156.1h0M430.9 121.8h0M457.2 132.7h0M450.2 197.2h0"/>
<path stroke="#181881" stroke-width="1.5" stroke-linecap="round" d="M406.0 180.5h0M485.0 154.3h0M452.3 156.8h0M406.7 168.1h0M445.6 180.5h0M433.7 146.6h0M435.4 138.3h0M445.6 132.6h0M429.3 174.6h0M436.4 124.5h0M423.6 187.6h0M479.5 137.7h0M475.0 123.3h0M438.3 187.5h0M490.5 154.6h0M449.1 177.0h0M444.6 120.9h0M444.2 176.7h0M410.7 152.5h0M423.5 182.1h0M476.3 188.4h0M467.1 147.4h0M418.2 185.8h0M480.5 160.9h0M467.9 161.3h0M415.2 172.0h0M426.3 147.1h0M400.2 165.0h0M413.0 130.5h0M463.1 200.0h0M401.9 147.1h0M399.9 121.7h0M418.2 114.3h0M403.4 185.4h0M435.3 163.0h0M474.3 192.9h0M476.8 197.3h0M489.7 147.1h0M488.3 181.8h0M402.0 161.1h0M420.8 128.6h0M442.1 163.5h0M406.5 116.1h0M447.2 130.1h0M426.8 192.6h0M402.7 190.9h0M430.2 136.7h0M483.5 189.1h0M412.7 124.6h0M400.8 176.8h0M401.8 122.9h0M422.4 177.4h0M481.9 115.9h0M411.2 135.8h0M418.5 123.6h0M413.6 173.0h0M429.1 149.3h0M413.6 131.1h0M402.5 199.6h0M419.5 165.6h0M411.3 171.7h0M443.8 181.8h0M464.3 186.5h0M467.4 113.8h0M460.7 120.0h0M419.8 200.1h0M417.1 173.4h0M464.0 176.5h0M428.5 118.4h0M462.3 157.7h0M473.6 177.1h0M453.1 139.8h0M416.6 192.0h0M469.8 189.0h0M412.7 197.3h0M490.3 147.0h0M456.7 144.7h0M424.4 169.5h0M487.1 161.6h0M490.5 153.3h0M427.5 172.4h0M449.2 152.4h0M449.0 134.7h0M428.0 155.7h0M419.6 187.1h0M454.5 191.9h0M458.7 119.3h0M429.9 160.7h0M473.3 124.3h0M413.2 154.2h0M407.2 162.3h0M408.3 163.2h0M441.0 163.8h0M438.3 113.8h0M400.0 192.4h0M440.6 173.7h0M413.6 165.7h0M407.2 149.8h0M433.2 127.0h0M431.1 173.7h0M432.3 145.3h0M412.0 165.3h0M489.2 187.6h0M416.8 165.3h0M403.5 204.9h0M412.0 196.9h0M417.2 133.1h0M480.6 171.7h0M433.6 163.9h0M398.5 167.6h0M473.3 201.9h0M442.2 174.9h0M457.4 191.5h0M456.8 174.2h0M483.5 189.8h0M449.7 199.6h0M471.6 178.9h0M453.2 139.6h0M425.2 202.5h0M428.9 194.4h0M400.7 138.3h0M434.5 123.8h0M468.7 141.2h0M491.7 203.9h0M454.9 183.4h0M408.7 184.6h0M453.5 176.7h0M406.9 190.6h0M454.2 166.9h0M411.3 142.5h0M424.6 134.5h0M411.2 176.2h0M425.7 189.0h0M453.9 183.6h0M402.3 161.3h0M454.6 198.1h0M477.2 180.9h0M480.3 163.8h0M420.3 160.0h0M420.6 193.8h0M484.6 183.2h0M485.4 138.1h0M491.9 146.6h0M462.2 202.1h0M426.9 162.2h0M405.9 177.5h0M423.9 130.1h0M466.8 188.8h0M480.7 117.1h0M440.7 174.0h0M457.8 194.8h0M456.9 114.5h0M406.3 182.6h0M488.5 177.1h0M433.2 181.8h0M478.4 163.1h0M440.3 188.5h0M423.6 138.4h0M452.4 194.3h0M437.9 168.2h0M480.6 182.8h0M399.6 174.5h0M427.5 200.1h0M429.9 159.6h0M489.8 131.0h0M412.7 194.7h0M437.3 154.7h0M412.8 175.4h0M459.8 201.2h0M491.1 151.2h0M487.6 179.9h0M466.4 117.5h0M476.4 126.3h0M440.9 155.1h0M463.7 120.7h0M452.0 197.8h0M450.6 164.1h0M444.7 189.8h0M460.2 146.3h0M403.2 145.4h0M444.1 116.0h0M420.2 131.5h0M426.9 160.1h0M407.6 144.9h0M482.5 179.6h0M416.9 142.4h0M450.5 127.5h0M477.7 205.3h0M471.9 193.0h0M414.8 114.9h0M454.6 163.5h0M479.2 131.6h0M491.2 146.0h0M429.3 195.1h0M424.5 176.2h0M431.9 176.9h0M445.9 122.2h0M462.9 184.7h0M466.9 148.4h0M481.5 184.6h0M412.1 135.5h0M440.8 166.6h0M412.1 163.1h0M467.4 188.5h0M436.7 140.1h0M473.7 202.2h0M421.5 197.8h0M411.5 191.5h0M454.0 153.4h0M441.8 184.0h0M452.0 129.4h0M439.6 145.9h0M410.8 181.6h0M418.9 158.9h0M472.3 121.3h0M479.1 181.0h0M480.9 194.0h0M419.3 117.2h0M425.9 132.5h0M416.0 115.6h0M474.1 168.2h0M405.4 181.0h0M482.1 159.7h0M424.0 186.5h0M411.1 143.4h0M410.9 182.7h0M460.0 170.6h0M408.8 127.9h0M433.2 196.2h0M415.4 173.4h0M420.4 132.4h0M449.7 129.2h0M480.3 199.4h0M401.7 196.1h0M426.5 127.6h0M421.4 115.6h0M458.6 115.4h0M473.6 130.9h0M405.1 118.7h0M456.3 122.6h0M441.8 186.7h0M431.3 196.9h0M487.5 177.8h0M445.9 206.3h0M406.1 172.8h0M458.5 188.5h0M483.1 135.0h0M430.0 132.0h0M472.5 176.7h0M454.4 175.5h0M400.0 171.3h0M479.8 131.4h0M406.7 133.6h0M448.5 123.9h0M463.3 188.9h0M434.2 202.3h0M482.7 183.7h0M429.0 135.6h0M462.1 188.1h0M434.3 183.7h0M436.3 181.6h0M436.2 161.7h0M440.7 175.9h0M473.6 198.8h0M485.8 172.0h0M486.6 114.8h0M406.3 196.5h0M435.7 118.2h0M402.6 150.7h0M411.4 120.4h0M441.9 118.8h0M486.3 172.1h0M443.8 165.3h0M483.8 127.6h0M410.1 179.3h0M460.1 174.7h0M490.3 120.9h0M454.2 126.2h0M460.5 196.8h0M414.3 117.4h0M449.7 189.0h0M486.4 168.0h0M398.7 127.0h0M480.7 165.8h0M440.6 171.0h0M439.4 150.7h0M403.2 123.4h0"/>
<path stroke="#2424bc" stroke-width="1.9" stroke-linecap="round" d="M406.7 141.0h0M417.7 138.7h0M486.4 157.8h0M416.6 191.4h0M439.3 150.4h0M490.5 160.2h0M447.6 184.2h0M485.7 143.0h0M410.5 130.9h0M468.2 205.2h0M479.6 143.7h0M479.9 205.5h0M432.7 154.3h0M400.8 136.1h0M475.8 194.4h0M454.5 195.9h0M445.6 191.4h0M434.7 141.1h0M481.1 118.0h0M417.9 151.6h0M415.9 122.2h0M453.0 113.9h0M441.6 180.4h0M408.6 135.5h0M481.6 143.0h0M461.4 114.1h0M423.5 185.1h0M467.2 120.2h0M426.0 136.5h0M452.3 138.0h0M476.6 189.4h0M443.3 134.1h0M412.5 193.2h0M441.8 143.2h0M473.8 191.4h0M417.3 141.4h0M408.4 199.7h0M429.5 117.0h0M490.9 149.3h0M491.6 114.5h0M444.6 203.5h0M429.2 145.6h0M415.9 127.7h0M464.0 163.8h0M405.0 195.1h0M480.2 165.6h0M423.9 154.9h0M423.8 125.7h0M400.6 153.2h0M426.1 198.6h0M444.8 142.7h0M462.5 200.5h0M441.7 188.2h0M454.8 190.6h0M424.9 139.9h0M419.5 200.8h0M426.9 160.9h0M445.5 116.2h0M402.7 176.3h0M426.2 196.0h0M484.2 177.1h0M422.0 117.6h0M459.6 125.1h0M402.8 199.1h0M398.5 176.5h0M442.3 137.2h0M413.7 202.9h0M466.3 193.8h0M405.2 172.6h0M412.7 167.8h0M473.6 133.7h0M425.9 134.7h0M399.2 191.2h0M483.1 158.5h0M488.1 182.6h0M477.7 117.7h0M444.2 147.2h0M406.4 195.1h0M419.0 182.5h0M464.7 124.1h0M461.7 167.1h0M487.4 155.5h0M399.6 117.7h0M486.2 153.4h0M447.8 189.2h0M424.4 136.6h0M482.2 169.0h0M446.4 164.1h0M441.7 170.3h0M416.2 149.1h0M407.4 137.7h0M418.3 175.9h0M491.1 127.1h0M408.4 165.4h0M403.5 153.6h0M421.4 122.8h0M404.7 178.4h0M428.9 205.3h0M462.2 206.0h0M451.8 143.3h0M436.1 192.7h0M489.5 184.7h0M490.5 173.1h0M465.0 181.9h0M402.3 199.8h0M423.7 157.7h0M480.3 171.2h0M487.0 189.1h0M480.2 134.6h0M477.3 197.3h0M401.6 129.2h0M401.7 185.9h0M444.9 160.5h0M422.2 176.0h0M404.9 190.4h0M479.4 191.0h0M437.6 202.0h0M427.8 204.8h0M486.8 183.8h0M448.3 164.9h0M479.7 119.5h0M398.6 172.3h0M485.7 205.7h0M459.5 134.4h0M438.9 194.8h0M440.4 142.8h0M432.2 126.7h0M428.6 131.3h0M430.0 191.9h0M455.5 173.4h0M468.1 170.2h0M486.6 192.2h0M456.8 165.5h0M490.6 166.4h0M423.3 135.8h0M446.5 172.4h0M413.3 119.9h0M456.0 169.9h0M404.2 149.5h0M488.5 202.5h0M437.6 181.0h0M446.7 184.1h0M446.2 123.0h0M487.9 123.1h0M419.5 189.0h0M473.7 146.4h0M491.9 131.4h0M452.0 174.6h0M411.8 195.3h0M448.5 158.7h0M403.0 203.0h0M462.3 196.9h0M475.6 202.9h0M446.4 114.8h0M487.3 195.1h0M487.1 183.5h0M448.1 173.5h0M418.4 191.4h0M449.0 129.8h0M487.7 187.1h0M460.5 184.4h0M441.8 129.1h0M411.3 117.0h0M448.9 172.2h0M407.5 115.5h0M421.8 173.2h0M417.0 196.3h0M487.7 167.5h0M488.8 198.6h0M467.1 120.4h0M432.7 181.5h0M464.9 118.2h0M438.7 155.5h0M489.4 133.3h0M446.7 164.4h0M445.6 124.4h0M488.4 127.6h0M410.1 179.1h0M480.3 140.1h0M479.8 202.2h0M447.0 164.7h0M474.6 138.2h0M445.9 193.1h0M407.2 180.6h0M439.3 152.8h0M458.8 204.1h0M406.8 199.6h0M418.1 179.7h0M418.9 121.8h0M436.5 116.0h0M475.1 125.1h0M489.9 137.8h0M443.5 168.0h0M479.5 119.9h0M416.2 199.5h0M460.7 171.4h0M413.1 192.3h0M429.7 174.0h0M477.1 160.8h0M442.3 131.1h0M445.4 181.5h0M436.1 128.2h0M440.7 166.3h0M482.1 197.1h0M426.4 121.7h0M446.0 202.1h0M458.8 191.4h0M480.5 201.8h0M460.0 168.8h0M476.1 131.3h0M487.8 205.1h0M484.4 199.1h0M478.7 182.4h0M447.5 180.9h0M425.7 184.1h0M461.5 162.4h0M413.7 116.5h0M421.7 189.5h0M418.8 149.6h0M411.3 197.9h0M486.1 120.3h0M491.3 150.7h0M414.7 116.8h0M436.7 194.5h0M421.6 202.6h0M429.2 193.3h0M445.9 136.1h0M460.5 195.4h0M489.9 161.9h0M441.1 167.3h0M408.8 117.5h0M490.2 128.6h0M424.7 185.0h0M407.8 130.2h0M416.9 118.3h0M484.8 178.4h0M406.6 190.0h0M438.1 117.1h0M468.6 117.3h0M484.0 135.4h0M412.1 173.8h0M435.2 180.0h0M419.0 177.8h0M403.6 185.7h0M432.3 120.6h0M407.6 175.8h0M428.6 178.4h0M414.4 147.2h0M428.4 125.6h0M404.1 140.7h0M486.7 167.1h0M408.8 143.4h0M452.2 200.2h0M474.1 186.8h0M409.5 138.0h0M401.3 152.6h0M424.2 158.7h0M399.7 130.4h0M464.3 173.0h0M420.3 184.0h0M444.5 203.3h0M408.3 192.0h0M424.3 153.9h0M417.8 176.3h0M486.5 205.4h0M483.5 128.8h0M430.1 163.2h0M417.4 158.1h0M486.7 182.3h0M480.0 123.5h0M466.4 135.8h0"/>
<path stroke="#2d2deb" stroke-width="1.5" stroke-linecap="round" d="M462.9 174.5h0M403.7 186.9h0M484.6 202.9h0M431.4 138.8h0M412.6 168.5h0M446.0 144.0h0M437.5 130.1h0M402.2 117.6h0M468.2 115.0h0M434.9 124.2h0M477.8 185.5h0M411.1 190.2h0M405.4 160.6h0M435.3 130.9h0M487.0 148.4h0M402.4 153.1h0M439.7 162.9h0M446.0 180.4h0M410.0 119.2h0M460.6 127.9h0M473.1 194.7h0M417.5 160.0h0M432.9 140.1h0M433.0 119.2h0M440.6 117.2h0M405.2 154.7h0M480.4 114.1h0M450.2 171.5h0M408.5 151.1h0M436.6 149.5h0M410.9 189.9h0M474.8 161.5h0M481.1 122.4h0M426.4 139.0h0M441.9 181.4h0M489.2 206.0h0M466.7 135.4h0M479.2 178.2h0M462.8 203.4h0M421.1 195.1h0M483.2 155.7h0M429.7 163.1h0M455.0 174.5h0M482.7 182.0h0M450.1 128.2h0M414.9 203.9h0M439.0 119.6h0M453.2 187.8h0M444.8 173.8h0M424.6 162.2h0M487.9 162.3h0M416.1 156.3h0M422.2 177.3h0M488.8 142.9h0M471.7 204.4h0M463.8 178.4h0M404.2 145.4h0M484.2 153.8h0M406.4 127.5h0M466.2 167.3h0M455.7 136.5h0M421.7 181.7h0M478.6 160.6h0M474.2 173.5h0M422.3 116.2h0M407.1 152.2h0M473.6 173.7h0M480.1 166.4h0M399.6 198.8h0M434.4 114.2h0M422.3 138.3h0M446.3 156.3h0M488.6 118.1h0M452.4 138.3h0M441.9 175.6h0M400.9 189.2h0M490.9 123.0h0M439.0 126.1h0M414.8 113.6h0M424.9 202.1h0M411.6 199.5h0M463.6 116.2h0M464.5 184.6h0M423.5 178.7h0M461.5 202.2h0M422.9 145.6h0M482.2 171.6h0M483.5 177.8h0M445.6 176.3h0M482.3 115.4h0M400.9 126.2h0M482.1 155.8h0M491.2 127.5h0M447.0 194.0h0M485.4 189.2h0M417.6 138.0h0M406.5 132.2h0M482.5 183.3h0M404.2 153.6h0M491.1 146.4h0M470.7 166.7h0M459.3 141.0h0M404.5 126.2h0M486.0 137.0h0M458.9 150.8h0M422.0 122.7h0M469.7 191.3h0M424.5 185.8h0M451.4 196.1h0M465.7 201.3h0M411.4 166.7h0M435.0 117.0h0M461.0 190.0h0M421.4 183.8h0M429.0 168.2h0M451.3 120.4h0M432.6 146.3h0M427.5 130.7h0M421.5 142.8h0M423.4 123.4h0M422.5 142.0h0M405.0 157.6h0M442.0 178.3h0M416.0 184.4h0M456.3 199.4h0M484.4 165.6h0M475.4 201.5h0M458.6 153.7h0M487.2 131.1h0M461.7 197.5h0M424.5 135.6h0M439.8 194.9h0M428.6 148.2h0M446.1 132.6h0M443.6 130.6h0M455.7 183.8h0M399.2 169.6h0M427.5 126.9h0M403.6 147.1h0M414.4 176.0h0M416.2 190.7h0M412.8 191.4h0M414.0 193.1h0M405.6 165.1h0M401.0 122.5h0M485.6 179.4h0M418.5 195.5h0M418.8 176.5h0M450.1 187.7h0M400.9 200.2h0M478.0 132.0h0M469.9 179.7h0M477.4 172.8h0M445.8 123.8h0M486.6 173.8h0M412.2 176.2h0M482.0 195.8h0M448.4 187.8h0M443.8 195.1h0M478.4 151.4h0M460.3 173.9h0M490.0 177.4h0M444.4 203.2h0M448.2 171.4h0M481.9 169.5h0M441.7 181.8h0M432.4 119.7h0M404.5 152.9h0M422.5 195.3h0M399.4 185.5h0M410.4 188.2h0M462.5 118.4h0M417.7 140.9h0M409.8 175.0h0M424.3 148.6h0M420.7 139.1h0M432.5 194.6h0M462.9 205.7h0M415.0 141.6h0M471.5 196.6h0M406.2 152.7h0M467.1 161.2h0M446.2 168.8h0M463.3 185.7h0M481.9 123.2h0M447.5 184.6h0M481.3 164.3h0M455.8 114.3h0M462.4 128.1h0M406.8 188.8h0M435.6 153.3h0M487.7 116.0h0M418.8 196.0h0M446.3 196.1h0M468.5 194.8h0M436.0 117.9h0M424.8 171.5h0M480.6 125.2h0M434.8 198.6h0M438.9 142.4h0M477.9 201.8h0M427.7 200.3h0M484.0 168.3h0M419.3 192.7h0M426.8 147.9h0M453.8 138.9h0M468.4 115.0h0M426.5 139.7h0M448.4 140.0h0M453.8 183.5h0M461.4 185.4h0M487.7 131.0h0M416.8 147.4h0M478.1 197.7h0M491.4 125.5h0M427.0 183.7h0M422.3 121.0h0M402.6 201.7h0M487.9 146.3h0M466.0 155.0h0M404.4 183.2h0M401.4 153.9h0M478.3 176.3h0M436.5 143.4h0M477.7 158.5h0M423.6 123.7h0M403.8 181.3h0M475.3 139.3h0M456.9 187.5h0M462.4 119.7h0M432.5 178.7h0M427.3 191.1h0M432.1 148.8h0M484.8 120.6h0M487.6 182.9h0M477.6 150.7h0M472.4 117.9h0M488.5 164.0h0M429.2 121.6h0M464.6 135.7h0M458.2 202.9h0M439.1 166.6h0M481.1 161.2h0M407.2 155.3h0M413.6 200.8h0M469.2 182.1h0M455.9 177.5h0M399.3 151.9h0M417.1 205.4h0M422.8 136.4h0M414.8 146.3h0M398.7 153.7h0M405.3 192.8h0M452.3 137.4h0M470.1 146.6h0M441.8 153.6h0M399.4 170.5h0M490.5 167.6h0M464.6 205.7h0M411.6 153.2h0M479.2 176.5h0M402.2 199.1h0M427.2 175.1h0M482.5 179.7h0M485.7 145.6h0M473.5 184.6h0M405.4 189.1h0M456.0 157.1h0M408.5 163.0h0M408.7 171.2h0M416.3 158.8h0M460.0 165.0h0M406.3 178.1h0M434.4 166.9h0M408.4 132.0h0M488.0 194.0h0M428.1 120.7h0M404.7 142.3h0M452.1 195.2h0M426.1 181.1h0M427.4 157.8h0M484.8 173.7h0M444.3 152.5h0M484.6 129.3h0M476.5 123.8h0M449.5 193.8h0M435.6 205.2h0M402.1 194.0h0M423.0 200.2h0M479.9 168.0h0M454.3 124.1h0M418.4 126.9h0M433.5 188.3h0M446.9 204.1h0M491.8 185.5h0M407.1 199.8h0M491.2 185.8h0M448.5 121.6h0M418.1 182.2h0"/>
<path stroke="#862160" stroke-width="1.5" stroke-linecap="round" d="M410.4 183.2h0M408.3 168.3h0M442.3 195.2h0M446.6 156.6h0M482.7 137.3h0M431.8 200.7h0M463.5 182.7h0M469.6 140.1h0M466.4 153.1h0M464.7 150.9h0M457.9 150.3h0M464.8 151.0h0M456.9 164.9h0M471.3 131.6h0M478.4 145.0h0M445.7 167.5h0M479.0 150.8h0M446.8 152.5h0M464.6 154.3h0M466.2 151.0h0M488.2 161.2h0M464.8 140.9h0M463.1 180.9h0M416.8 144.6h0M470.9 141.2h0M458.5 147.4h0M445.6 143.2h0M462.2 173.6h0M464.3 174.7h0M464.1 154.7h0M465.6 159.5h0M451.2 147.0h0M461.5 168.1h0M475.9 178.0h0M453.3 147.8h0M458.1 130.5h0M445.7 128.2h0M489.9 154.5h0M476.5 123.0h0M471.2 173.9h0M460.3 139.8h0"/>
<path stroke="#f53caf" stroke-width="1.1" stroke-linecap="round" d="M427.4 149.6h0M482.1 200.1h0M446.6 144.1h0M458.0 150.2h0M448.4 142.5h0M468.1 156.2h0M451.6 175.8h0M459.2 159.1h0M487.1 173.1h0M470.9 153.0h0M428.1 203.2h0M447.8 154.7h0M462.4 140.5h0M464.4 133.2h0M463.4 139.0h0M435.9 130.3h0M437.7 117.6h0M477.3 131.8h0M444.2 157.3h0M427.5 170.4h0M469.2 147.6h0M464.0 153.9h0M436.3 143.1h0M471.0 155.7h0M465.5 145.2h0M462.0 156.9h0M462.3 164.7h0M485.8 202.5h0M463.5 177.2h0M459.3 165.7h0M455.3 143.7h0M487.8 149.8h0M411.5 152.4h0M468.4 172.7h0M459.3 140.0h0M491.9 143.8h0"/>
<path stroke="#862160" stroke-width="1.1" stroke-linecap="round" d="M463.2 132.1h0M460.6 171.2h0M476.7 138.9h0M464.4 148.2h0M442.4 180.6h0M413.2 185.0h0M464.8 129.9h0M431.6 165.8h0M453.3 169.8h0M465.8 174.1h0M491.0 159.6h0M433.0 136.1h0M471.3 138.7h0M469.3 154.9h0M464.1 139.9h0M461.7 135.3h0M470.5 145.6h0M467.6 149.7h0M423.0 136.5h0M466.8 144.8h0M445.4 152.8h0M414.0 142.9h0M461.7 175.8h0M439.9 123.1h0M432.7 114.2h0M462.6 135.1h0M460.1 140.2h0M477.6 145.8h0M457.9 128.1h0M451.9 125.6h0M468.9 126.6h0"/>
<path stroke="#c4308c" stroke-width="1.9" stroke-linecap="round" d="M458.5 176.9h0M446.4 133.2h0M471.3 147.2h0M449.3 152.4h0M449.6 145.9h0M473.9 174.2h0M450.4 149.5h0M448.8 148.2h0M474.9 157.3h0M425.6 159.1h0M460.9 127.6h0M470.1 154.3h0M452.5 162.6h0M464.5 183.1h0M474.2 169.8h0M465.7 168.3h0M475.3 145.0h0M478.9 142.4h0M454.1 163.7h0M459.4 133.0h0M463.8 156.1h0M452.9 137.3h0M455.7 141.0h0M413.0 152.4h0M451.1 156.2h0M487.1 152.1h0M461.6 139.8h0M447.7 158.3h0M465.8 169.8h0M411.6 147.7h0M455.7 146.5h0M466.5 170.1h0M462.7 144.7h0M430.7 162.0h0M461.8 136.0h0M417.9 174.6h0M477.9 142.1h0M450.6 133.6h0"/>
<path stroke="#f53caf" stroke-width="1.9" stroke-linecap="round" d="M445.8 158.9h0M463.7 163.2h0M432.0 146.1h0M461.9 177.9h0M470.8 148.3h0M430.7 134.5h0M476.5 139.6h0M457.1 146.9h0M490.2 152.0h0M466.8 169.6h0M478.9 131.3h0M423.0 188.9h0M465.9 159.4h0M470.8 141.1h0M467.3 133.0h0M452.6 129.1h0M457.9 157.7h0M417.8 200.2h0M460.0 163.2h0M456.8 167.2h0M454.6 195.3h0M468.5 144.0h0M410.4 204.7h0"/>
<path stroke="#c4308c" stroke-width="1.5" stroke-linecap="round" d="M480.1 151.2h0M462.7 150.6h0M456.9 135.6h0M467.6 137.2h0M466.0 144.9h0M476.2 159.1h0M479.2 129.5h0M459.7 135.3h0M461.9 161.0h0M447.7 154.8h0M472.6 133.1h0M463.4 137.6h0M417.1 143.5h0M458.6 187.8h0M462.3 169.7h0M458.1 154.7h0M452.2 141.2h0M467.4 164.0h0M479.3 140.2h0M471.8 158.8h0M468.6 159.5h0M461.1 151.0h0M479.3 148.0h0M459.2 204.2h0M460.5 180.2h0M479.0 137.9h0M433.8 147.7h0M445.4 148.4h0M470.2 149.7h0M450.9 146.9h0"/>
<path stroke="#c4308c" stroke-width="1.1" stroke-linecap="round" d="M464.8 166.9h0M463.2 152.2h0M456.1 135.9h0M455.0 162.4h0M457.8 179.2h0M463.9 169.3h0M458.6 171.4h0M448.3 134.8h0M445.6 163.3h0M456.1 199.7h0M460.4 139.1h0M462.2 156.5h0M457.6 179.8h0M455.8 139.5h0M483.2 143.7h0M451.6 135.9h0M470.9 145.3h0M482.5 157.8h0M436.3 134.6h0M444.4 126.5h0M459.8 147.8h0M455.1 144.5h0M459.9 150.9h0M425.9 125.5h0M459.4 146.3h0M420.8 155.7h0M465.4 147.3h0M460.1 128.7h0M483.8 155.4h0M451.6 152.1h0M470.7 157.7h0"/>
<rect x="466.20" y="200.90" width="19.20" height="1.90" fill="#fff" stroke="none" stroke-width="0.7"/>
</g>
<clipPath id="cg3"><rect x="303.10" y="208.80" width="93.60" height="92.80"/></clipPath>
<g clip-path="url(#cg3)">
<rect x="303.10" y="208.80" width="93.60" height="92.80" fill="#000" stroke="none" stroke-width="0.7"/>
<g filter="url(#blur2)"><rect x="303.1" y="208.8" width="12.0" height="11.9" fill="#08083a"/><rect x="314.8" y="208.8" width="12.0" height="11.9" fill="#08083a"/><rect x="326.5" y="208.8" width="12.0" height="11.9" fill="#1e0820"/><rect x="338.2" y="208.8" width="12.0" height="11.9" fill="#1e0820"/><rect x="349.9" y="208.8" width="12.0" height="11.9" fill="#030312"/><rect x="361.6" y="208.8" width="12.0" height="11.9" fill="#08083a"/><rect x="373.3" y="208.8" width="12.0" height="11.9" fill="#1e0820"/><rect x="385.0" y="208.8" width="12.0" height="11.9" fill="#08083a"/><rect x="303.1" y="220.4" width="12.0" height="11.9" fill="#08083a"/><rect x="314.8" y="220.4" width="12.0" height="11.9" fill="#1e0820"/><rect x="326.5" y="220.4" width="12.0" height="11.9" fill="#1e0820"/><rect x="338.2" y="220.4" width="12.0" height="11.9" fill="#08083a"/><rect x="349.9" y="220.4" width="12.0" height="11.9" fill="#08083a"/><rect x="361.6" y="220.4" width="12.0" height="11.9" fill="#1e0820"/><rect x="373.3" y="220.4" width="12.0" height="11.9" fill="#1e0820"/><rect x="385.0" y="220.4" width="12.0" height="11.9" fill="#1e0820"/><rect x="303.1" y="232.0" width="12.0" height="11.9" fill="#08083a"/><rect x="314.8" y="232.0" width="12.0" height="11.9" fill="#1e0820"/><rect x="326.5" y="232.0" width="12.0" height="11.9" fill="#08083a"/><rect x="338.2" y="232.0" width="12.0" height="11.9" fill="#1e0820"/><rect x="349.9" y="232.0" width="12.0" height="11.9" fill="#082028"/><rect x="361.6" y="232.0" width="12.0" height="11.9" fill="#082028"/><rect x="373.3" y="232.0" width="12.0" height="11.9" fill="#08083a"/><rect x="385.0" y="232.0" width="12.0" height="11.9" fill="#1e0820"/><rect x="303.1" y="243.6" width="12.0" height="11.9" fill="#08083a"/><rect x="314.8" y="243.6" width="12.0" height="11.9" fill="#08083a"/><rect x="326.5" y="243.6" width="12.0" height="11.9" fill="#1e0820"/><rect x="338.2" y="243.6" width="12.0" height="11.9" fill="#1e0820"/><rect x="349.9" y="243.6" width="12.0" height="11.9" fill="#082028"/><rect x="361.6" y="243.6" width="12.0" height="11.9" fill="#082028"/><rect x="373.3" y="243.6" width="12.0" height="11.9" fill="#082028"/><rect x="385.0" y="243.6" width="12.0" height="11.9" fill="#1e0820"/><rect x="303.1" y="255.2" width="12.0" height="11.9" fill="#08083a"/><rect x="314.8" y="255.2" width="12.0" height="11.9" fill="#08083a"/><rect x="326.5" y="255.2" width="12.0" height="11.9" fill="#082028"/><rect x="338.2" y="255.2" width="12.0" height="11.9" fill="#1e0820"/><rect x="349.9" y="255.2" width="12.0" height="11.9" fill="#1e0820"/><rect x="361.6" y="255.2" width="12.0" height="11.9" fill="#082028"/><rect x="373.3" y="255.2" width="12.0" height="11.9" fill="#082028"/><rect x="385.0" y="255.2" width="12.0" height="11.9" fill="#1e0820"/><rect x="303.1" y="266.8" width="12.0" height="11.9" fill="#08083a"/><rect x="314.8" y="266.8" width="12.0" height="11.9" fill="#082028"/><rect x="326.5" y="266.8" width="12.0" height="11.9" fill="#082028"/><rect x="338.2" y="266.8" width="12.0" height="11.9" fill="#08083a"/><rect x="349.9" y="266.8" width="12.0" height="11.9" fill="#1e0820"/><rect x="361.6" y="266.8" width="12.0" height="11.9" fill="#1e0820"/><rect x="373.3" y="266.8" width="12.0" height="11.9" fill="#08083a"/><rect x="385.0" y="266.8" width="12.0" height="11.9" fill="#1e0820"/><rect x="303.1" y="278.4" width="12.0" height="11.9" fill="#082028"/><rect x="314.8" y="278.4" width="12.0" height="11.9" fill="#082028"/><rect x="326.5" y="278.4" width="12.0" height="11.9" fill="#082028"/><rect x="338.2" y="278.4" width="12.0" height="11.9" fill="#1e0820"/><rect x="349.9" y="278.4" width="12.0" height="11.9" fill="#1e0820"/><rect x="361.6" y="278.4" width="12.0" height="11.9" fill="#08083a"/><rect x="373.3" y="278.4" width="12.0" height="11.9" fill="#1e0820"/><rect x="385.0" y="278.4" width="12.0" height="11.9" fill="#1e0820"/><rect x="303.1" y="290.0" width="12.0" height="11.9" fill="#08083a"/><rect x="314.8" y="290.0" width="12.0" height="11.9" fill="#082028"/><rect x="326.5" y="290.0" width="12.0" height="11.9" fill="#08083a"/><rect x="338.2" y="290.0" width="12.0" height="11.9" fill="#1e0820"/><rect x="349.9" y="290.0" width="12.0" height="11.9" fill="#08083a"/><rect x="361.6" y="290.0" width="12.0" height="11.9" fill="#08083a"/><rect x="373.3" y="290.0" width="12.0" height="11.9" fill="#08083a"/><rect x="385.0" y="290.0" width="12.0" height="11.9" fill="#08083a"/></g>
<path stroke="#600d0f" stroke-width="1.8" stroke-linecap="round" d="M360.4 270.7h0M351.9 273.7h0M320.4 289.9h0M391.7 253.7h0M320.3 232.5h0M358.4 288.0h0M391.1 226.4h0M385.2 256.5h0M396.0 232.2h0M368.3 264.1h0M346.8 278.9h0M316.4 275.3h0M305.7 252.6h0M334.6 261.6h0M327.8 264.3h0M392.0 224.5h0M396.0 218.5h0M374.6 229.8h0M358.6 254.7h0M327.4 235.3h0M315.9 280.6h0M379.5 223.5h0M319.0 233.9h0M390.8 274.7h0M347.2 246.2h0M392.2 289.8h0M308.4 272.9h0M376.2 279.1h0M384.0 300.3h0M347.3 295.3h0M304.7 214.8h0M343.7 245.9h0M390.1 220.6h0M338.5 234.3h0M364.5 269.5h0M373.6 276.6h0M363.2 267.6h0M358.4 260.8h0M348.7 279.5h0M382.7 221.6h0M395.3 256.1h0M386.6 288.4h0M344.3 247.1h0M337.1 227.5h0M370.9 269.7h0M349.2 249.9h0M389.5 260.7h0M384.7 281.6h0M335.0 222.5h0M339.7 245.2h0M369.1 230.7h0M313.5 293.4h0M370.8 290.1h0M387.5 282.6h0M384.4 272.1h0M336.6 274.2h0M389.5 283.0h0M345.0 213.4h0M349.5 287.1h0M377.6 212.1h0M393.9 260.7h0M306.1 229.7h0M346.0 252.7h0M330.1 247.2h0M323.0 287.5h0M348.9 287.1h0"/>
<path stroke="#141469" stroke-width="1.0" stroke-linecap="round" d="M325.2 214.0h0M379.6 239.6h0M377.1 283.6h0M304.8 233.5h0M369.2 265.4h0M384.4 286.2h0M390.7 223.5h0M334.5 284.9h0M312.0 239.4h0M333.0 217.4h0M381.9 301.2h0M381.8 286.3h0M354.0 276.6h0M350.0 249.8h0M396.6 209.8h0M396.5 276.9h0M391.2 250.7h0M340.2 263.9h0M319.8 235.6h0M387.2 270.6h0M304.7 300.7h0M304.8 241.6h0M344.5 221.2h0M382.4 292.1h0M318.2 215.2h0M338.5 250.6h0M351.9 258.8h0M370.6 297.4h0M375.3 239.2h0M360.3 240.0h0M383.7 278.0h0M386.3 267.1h0M310.3 214.5h0M374.6 284.6h0M332.8 232.7h0M376.9 241.5h0M380.6 283.3h0M366.0 289.6h0M317.9 220.3h0M379.3 284.8h0M327.0 295.2h0M328.4 224.5h0M328.5 219.1h0M355.4 264.4h0M312.2 251.6h0M385.0 225.2h0M323.0 244.3h0M383.0 244.9h0M357.4 231.9h0M310.4 218.5h0M308.3 232.6h0M357.3 293.3h0M389.8 217.7h0M339.4 281.6h0M332.3 240.2h0M392.3 288.7h0M357.2 263.1h0M382.1 265.2h0M347.9 254.7h0M355.9 214.8h0M315.0 247.0h0M308.1 213.5h0M380.1 228.5h0M316.6 221.0h0M370.3 226.0h0M359.1 278.3h0M319.1 257.9h0M303.6 269.1h0M351.5 238.3h0M337.6 239.8h0M337.3 249.6h0M341.5 213.2h0M333.1 249.7h0M343.4 233.5h0M307.1 225.5h0M391.5 266.5h0M377.1 256.7h0M341.6 230.3h0M327.8 284.4h0M362.6 279.8h0M354.3 223.8h0M325.3 229.4h0M390.6 256.5h0M389.2 295.1h0M305.3 274.2h0M395.6 287.2h0M305.1 218.7h0M361.2 226.8h0M386.7 214.1h0M341.0 277.5h0M306.3 250.4h0M384.6 274.9h0M369.8 220.4h0M368.3 249.3h0M348.5 258.2h0M308.2 224.3h0M336.1 288.1h0M359.6 275.6h0M347.3 246.5h0M331.3 265.2h0M394.8 297.8h0M341.6 251.9h0M392.0 250.0h0M349.5 216.0h0M344.6 281.7h0M342.8 213.2h0M339.7 274.1h0M309.6 256.9h0M365.9 293.1h0M304.0 236.7h0M351.9 234.0h0M338.5 299.4h0M385.9 219.5h0M322.2 268.8h0M306.3 253.1h0M321.3 300.1h0M353.5 248.9h0M362.5 213.4h0M337.8 212.4h0M334.8 248.1h0M324.4 239.3h0M352.4 290.9h0M395.5 231.6h0M371.3 284.2h0M323.6 300.8h0M312.5 279.4h0M327.7 294.0h0M342.9 246.0h0M309.0 220.2h0M363.5 212.0h0M380.8 219.5h0M386.7 224.3h0M380.8 259.3h0M315.7 288.0h0M310.2 268.1h0M381.0 212.5h0"/>
<path stroke="#600d0f" stroke-width="1.0" stroke-linecap="round" d="M395.1 230.0h0M327.0 253.2h0M357.8 256.3h0M344.9 234.1h0M388.3 248.4h0M348.2 259.9h0M392.0 278.6h0M386.8 223.7h0M317.2 231.2h0M386.8 289.3h0M384.2 297.5h0M387.8 270.4h0M382.0 219.3h0M320.6 236.3h0M340.2 289.3h0M328.1 225.2h0M390.7 281.0h0M394.7 231.1h0M347.2 292.7h0M310.6 248.6h0M379.5 289.9h0M349.2 281.3h0M357.9 280.1h0M345.6 240.4h0M380.5 258.9h0M347.2 254.6h0M355.6 288.2h0M359.1 263.6h0M389.8 284.9h0M337.9 300.5h0M330.4 274.7h0M347.2 235.3h0M344.6 241.6h0M339.3 287.0h0M343.6 250.8h0M333.5 244.7h0M378.4 225.5h0M325.1 248.1h0M312.5 226.4h0M338.2 211.4h0M337.7 294.0h0M333.3 211.7h0M322.4 223.2h0M380.8 213.8h0M328.5 250.3h0M315.2 221.9h0M303.5 227.1h0M331.0 214.4h0M334.6 219.7h0M389.8 258.4h0M346.6 245.3h0M327.4 219.5h0M351.5 272.1h0M349.6 298.0h0M385.5 232.8h0M352.3 234.2h0M342.4 224.4h0M387.4 275.1h0M319.1 231.4h0M339.3 215.8h0M335.7 294.7h0M372.8 280.9h0M365.8 273.5h0M391.2 280.7h0M360.3 267.0h0"/>
<path stroke="#2a2adf" stroke-width="1.8" stroke-linecap="round" d="M355.9 257.7h0M303.9 293.4h0M341.7 270.9h0M342.4 266.9h0M325.0 238.3h0M353.0 288.5h0M388.3 272.4h0M310.9 292.1h0M381.7 226.4h0M305.3 241.2h0M372.9 280.9h0M363.5 297.0h0M318.4 294.0h0M353.8 268.9h0M390.8 234.5h0M394.6 215.2h0M359.2 212.2h0M380.8 268.8h0M389.7 211.5h0M312.9 281.4h0M342.4 261.6h0M360.3 271.2h0M390.5 218.4h0M305.4 256.3h0M331.1 265.3h0M359.6 209.6h0M371.0 237.6h0M304.0 236.0h0M371.8 237.7h0M370.3 262.2h0M340.2 234.7h0M336.7 288.1h0M328.5 228.7h0M333.8 294.6h0M354.9 295.9h0M324.1 286.9h0M344.6 286.0h0M366.1 240.5h0M321.3 230.3h0M360.7 263.6h0M348.9 249.9h0M352.9 229.3h0M316.5 225.1h0M367.8 225.4h0M355.9 282.0h0M316.7 262.7h0M341.5 276.2h0M386.9 276.5h0M312.7 230.2h0M304.8 213.0h0M342.4 265.7h0M318.9 254.4h0M334.1 286.1h0M331.5 208.8h0M375.1 288.0h0M360.9 220.2h0M344.8 229.1h0M353.4 294.8h0M319.5 250.8h0M324.7 293.1h0M341.8 235.8h0M360.5 264.6h0M375.8 225.4h0M327.5 210.4h0M382.7 241.3h0M376.7 244.6h0M318.3 300.6h0M377.6 218.5h0M349.4 286.4h0M333.2 231.2h0M305.5 215.3h0M382.6 241.3h0M310.4 260.0h0M356.8 235.7h0M361.1 238.6h0M343.9 234.3h0M320.6 258.1h0M361.0 284.2h0M345.8 241.5h0M355.6 282.7h0M344.3 255.1h0M328.6 215.1h0M346.8 257.2h0M370.4 279.0h0M368.8 209.7h0M310.8 256.0h0M309.6 286.7h0M339.3 225.0h0M366.9 296.1h0M359.1 278.7h0M323.2 285.5h0M346.0 240.9h0M305.2 243.0h0M333.4 252.4h0M323.5 244.2h0M331.8 209.2h0M387.6 237.3h0M350.6 297.5h0M384.8 233.7h0M389.3 260.5h0M331.8 267.2h0M381.9 230.3h0M385.9 260.9h0M391.2 236.1h0M370.2 221.3h0M380.6 280.7h0M394.6 215.4h0M385.7 239.5h0M318.2 288.5h0M354.6 266.0h0M316.6 210.8h0M395.7 228.3h0M354.1 301.6h0M342.7 273.3h0M383.5 301.1h0M332.0 221.4h0M343.1 231.3h0M307.8 259.3h0M303.5 263.5h0M308.6 239.1h0M324.9 275.9h0M391.8 272.3h0M391.2 237.1h0M378.1 275.4h0M314.8 216.9h0M352.2 231.0h0M382.7 229.3h0M325.6 263.8h0M304.8 271.6h0M360.0 211.0h0"/>
<path stroke="#26beb4" stroke-width="1.0" stroke-linecap="round" d="M369.8 237.8h0M370.3 250.3h0M383.6 266.3h0M319.1 295.6h0M362.0 283.9h0M346.3 257.9h0M313.1 287.0h0M352.1 242.8h0M324.8 294.6h0M372.9 242.3h0M361.2 252.4h0M320.5 279.8h0M367.2 234.5h0M363.7 259.1h0M367.2 251.2h0M309.6 257.5h0M307.1 288.6h0M317.7 269.4h0M323.4 287.6h0M335.4 285.7h0M364.4 228.3h0M321.5 267.4h0M371.8 239.3h0M309.7 287.4h0M348.0 251.5h0M313.7 284.2h0M344.5 258.2h0M345.6 223.6h0M335.8 284.5h0M344.5 250.7h0M357.5 251.4h0M317.5 286.9h0M314.7 255.5h0M304.6 230.6h0M386.8 293.4h0M363.0 251.8h0M363.5 238.5h0M361.4 242.2h0M347.0 286.6h0"/>
<path stroke="#1f1fa4" stroke-width="1.0" stroke-linecap="round" d="M354.9 210.7h0M396.6 283.9h0M319.4 234.8h0M313.6 222.6h0M344.4 212.2h0M368.4 287.7h0M328.1 241.2h0M361.0 269.7h0M314.1 221.9h0M352.7 260.2h0M323.6 253.0h0M369.1 274.8h0M357.8 227.6h0M345.1 265.0h0M379.0 288.0h0M337.7 233.8h0M310.5 276.2h0M348.0 290.9h0M378.5 251.0h0M359.3 245.2h0M346.0 281.8h0M382.6 254.5h0M390.4 292.7h0M394.5 292.2h0M374.2 260.0h0M303.3 237.3h0M332.3 241.6h0M348.0 213.0h0M370.0 268.9h0M309.3 246.5h0M307.5 240.1h0M394.3 300.9h0M382.0 240.1h0M360.3 287.4h0M314.8 240.6h0M379.0 244.9h0M356.6 226.1h0M306.7 274.3h0M329.9 227.3h0M315.7 238.6h0M368.1 272.5h0M369.4 218.3h0M306.9 268.9h0M367.0 242.0h0M365.4 285.4h0M362.3 298.1h0M388.1 300.5h0M328.3 234.9h0M340.3 218.3h0M303.7 299.7h0M333.0 214.8h0M390.7 291.0h0M361.3 230.1h0M366.5 243.5h0M348.5 218.1h0M391.6 237.2h0M368.8 260.1h0M371.7 218.1h0M376.9 237.6h0M340.1 267.4h0M334.9 225.6h0M387.1 278.3h0M303.9 225.0h0M336.5 284.8h0M309.7 289.0h0M366.3 268.6h0M326.1 282.3h0M368.9 289.6h0M362.1 279.4h0M371.8 244.9h0M308.7 216.2h0M347.0 290.8h0M348.5 277.4h0M367.5 243.4h0M333.4 244.6h0M368.9 275.3h0M338.6 240.9h0M368.7 213.1h0M364.2 233.0h0M316.1 245.4h0M382.6 224.5h0M361.4 293.0h0M344.0 217.0h0M365.2 242.4h0M372.9 219.6h0M308.5 242.8h0M367.6 294.4h0M336.1 220.9h0M342.0 271.7h0M360.4 278.1h0M317.1 242.8h0M353.1 230.3h0M308.1 231.4h0M326.3 235.9h0M355.1 301.3h0M357.8 298.2h0M389.9 211.7h0M314.5 239.4h0M320.0 256.9h0M375.3 269.6h0M363.0 239.1h0M358.6 263.2h0M309.6 283.9h0M315.5 234.1h0M315.8 264.4h0M391.1 256.1h0M350.4 262.9h0M347.8 281.0h0M343.3 231.8h0M394.2 268.2h0M360.1 224.6h0M351.1 257.1h0M377.3 217.8h0M323.0 278.9h0M310.0 266.0h0M337.6 282.6h0M396.4 248.5h0M383.7 298.0h0M384.4 270.4h0M380.6 219.2h0M395.4 246.8h0M374.5 220.3h0M388.7 241.6h0M342.1 265.9h0M347.3 293.9h0M308.8 292.4h0M333.3 248.4h0M303.5 278.7h0M364.2 284.5h0M393.3 251.2h0M325.3 225.0h0M350.0 222.3h0M325.8 208.9h0M307.4 278.2h0M360.0 274.8h0M329.0 279.3h0M357.2 258.0h0M369.5 262.7h0M350.7 232.6h0M342.5 282.1h0M309.9 229.9h0M375.8 238.7h0M348.1 232.1h0M389.2 219.2h0M368.9 238.8h0M394.7 256.4h0M307.9 228.4h0M345.9 220.6h0M378.3 222.0h0M319.3 209.3h0M322.7 222.5h0M385.7 224.1h0M346.7 234.2h0M317.2 286.1h0M308.0 241.6h0M334.1 280.5h0"/>
<path stroke="#141469" stroke-width="1.4" stroke-linecap="round" d="M363.2 280.7h0M381.8 242.5h0M375.3 281.6h0M380.7 278.9h0M330.6 253.9h0M337.7 231.1h0M344.5 290.6h0M303.3 275.8h0M363.6 236.9h0M387.9 230.6h0M357.5 246.6h0M383.6 232.1h0M305.0 275.2h0M378.9 243.2h0M388.8 259.1h0M338.6 229.3h0M366.8 260.2h0M344.1 226.5h0M347.0 248.9h0M358.0 222.6h0M377.3 233.2h0M315.1 258.7h0M334.0 254.6h0M379.4 242.8h0M378.6 269.1h0M365.1 234.2h0M350.9 228.9h0M331.4 234.3h0M370.6 218.4h0M317.0 294.1h0M315.0 212.4h0M322.2 279.7h0M352.2 216.1h0M394.5 263.5h0M328.9 234.2h0M372.0 282.6h0M362.0 299.5h0M342.3 279.3h0M383.9 298.5h0M384.7 232.0h0M367.7 301.5h0M315.5 218.1h0M378.2 250.8h0M357.4 212.5h0M334.0 239.1h0M325.8 215.5h0M349.7 210.9h0M374.8 237.9h0M376.0 243.7h0M328.5 287.4h0M355.5 232.0h0M305.5 291.5h0M367.8 300.7h0M315.5 260.1h0M341.9 273.2h0M313.8 243.3h0M361.2 283.1h0M315.8 266.2h0M307.2 282.3h0M372.7 259.7h0M353.3 268.5h0M393.0 247.6h0M332.7 234.1h0M367.6 252.2h0M314.6 297.9h0M384.2 273.0h0M386.5 248.5h0M384.3 287.7h0M370.1 222.0h0M363.5 237.7h0M351.6 247.9h0M344.9 282.8h0M360.5 211.6h0M385.9 213.7h0M330.2 224.7h0M364.8 235.4h0M371.3 223.9h0M305.9 277.9h0M346.0 261.5h0M370.4 282.3h0M378.4 239.4h0M380.6 263.7h0M306.9 252.7h0M359.6 300.5h0M324.7 273.0h0M333.1 253.0h0M388.1 261.1h0M388.5 294.1h0M349.6 298.2h0M371.8 267.5h0M362.3 297.8h0M379.4 281.2h0M352.1 236.1h0M375.9 278.2h0M365.5 297.9h0M319.9 237.5h0M305.6 209.4h0M353.7 299.7h0M354.6 278.6h0M340.9 265.3h0M337.5 298.3h0M303.3 285.9h0M306.1 282.2h0M374.5 257.2h0M308.0 209.5h0M347.0 290.9h0M349.9 245.2h0M366.9 242.5h0M307.0 265.7h0M383.2 212.1h0M346.0 278.1h0M352.5 231.0h0M319.5 227.2h0M393.2 227.1h0M369.3 270.2h0M327.4 249.5h0M307.4 220.3h0M370.3 254.6h0M388.4 290.2h0M354.6 228.7h0M316.7 272.0h0M384.6 297.6h0M349.0 287.8h0M325.8 248.9h0M388.9 217.2h0M326.3 250.2h0M328.5 218.9h0M382.8 239.2h0M380.9 300.9h0M329.4 263.3h0M375.5 279.5h0M370.3 223.2h0M384.8 249.0h0M349.9 219.9h0M371.1 222.9h0M328.8 293.0h0M309.9 222.2h0M304.1 221.5h0M371.1 244.0h0M344.9 286.7h0M321.8 244.2h0M326.6 222.7h0M371.1 224.2h0M383.4 220.9h0M348.1 267.9h0M307.7 226.4h0"/>
<path stroke="#600d0f" stroke-width="1.4" stroke-linecap="round" d="M372.4 298.2h0M356.6 258.2h0M348.2 244.1h0M390.0 247.5h0M377.5 283.0h0M333.7 221.3h0M344.4 256.4h0M382.9 246.6h0M369.7 225.6h0M335.4 282.4h0M360.9 279.8h0M349.0 243.4h0M316.8 229.5h0M349.5 293.1h0M357.5 270.2h0M336.2 292.9h0M304.3 278.2h0M363.3 224.2h0M373.0 246.8h0M344.1 217.8h0M385.9 239.3h0M340.5 293.1h0M395.9 232.5h0M394.4 256.5h0M336.3 214.1h0M329.4 221.8h0M390.0 227.2h0M346.4 277.6h0M383.3 230.9h0M379.6 213.5h0M321.4 255.7h0M337.5 228.1h0M379.0 216.9h0M388.5 230.9h0M328.6 273.4h0M363.3 221.6h0M339.9 220.3h0M341.4 245.9h0M395.7 242.4h0M395.9 262.4h0M319.8 267.8h0M341.5 261.1h0M369.3 230.1h0M341.3 214.6h0M324.2 241.2h0M375.7 213.6h0M384.6 211.1h0M334.3 216.8h0M319.5 265.9h0M326.8 243.9h0M384.0 213.5h0M374.0 279.1h0M329.9 272.9h0M358.8 239.7h0M347.4 217.6h0M349.2 257.3h0M376.0 282.5h0M384.6 283.9h0M306.7 287.3h0M336.6 274.9h0M314.9 230.1h0M356.0 236.9h0M349.5 294.8h0M374.1 246.6h0"/>
<path stroke="#cc1c21" stroke-width="1.0" stroke-linecap="round" d="M346.4 258.6h0M307.5 250.6h0M392.9 251.9h0M380.8 279.8h0M319.9 273.6h0M307.4 215.3h0M388.8 240.2h0M340.5 252.7h0M346.4 215.9h0M354.9 263.7h0M373.1 276.0h0M349.2 237.0h0M345.4 264.7h0M392.3 240.2h0M322.5 221.8h0M387.3 216.2h0M342.0 218.1h0M387.9 241.2h0M377.7 279.9h0M337.5 272.8h0M344.5 214.2h0M344.1 241.9h0M385.6 240.2h0M338.3 271.3h0M323.4 234.3h0M369.8 269.3h0M314.3 285.4h0M326.6 245.6h0M332.8 212.2h0M341.8 257.7h0M374.7 219.2h0M385.5 240.3h0M341.6 245.8h0M326.0 237.7h0M348.9 251.5h0M392.8 229.3h0M344.3 256.7h0M340.2 296.9h0M371.3 264.2h0M390.9 228.1h0M368.8 229.6h0M374.9 233.6h0M318.4 237.6h0M310.4 272.4h0M378.4 245.3h0M338.6 225.0h0M379.2 217.6h0M351.0 278.9h0M374.6 223.5h0M319.4 260.2h0M358.3 276.2h0M331.6 231.8h0M339.5 248.1h0M327.8 209.5h0M321.6 226.6h0M374.5 266.3h0M386.6 285.0h0M396.2 226.4h0"/>
<path stroke="#1f1fa4" stroke-width="1.4" stroke-linecap="round" d="M343.4 220.1h0M372.1 280.0h0M365.9 270.3h0M324.3 223.1h0M335.0 299.9h0M385.0 222.2h0M387.5 256.5h0M372.7 278.3h0M318.5 286.0h0M386.8 244.8h0M312.7 233.7h0M332.6 211.7h0M326.9 215.2h0M328.9 241.0h0M322.4 209.6h0M340.2 216.4h0M395.3 263.0h0M306.2 212.8h0M368.0 238.7h0M322.0 226.7h0M305.4 300.4h0M330.3 249.2h0M336.0 262.3h0M305.8 259.7h0M392.2 232.5h0M395.2 284.0h0M387.4 299.6h0M339.1 267.3h0M324.1 261.1h0M386.8 232.4h0M322.3 209.6h0M332.5 234.2h0M305.5 251.5h0M340.8 263.9h0M344.4 237.3h0M342.7 267.7h0M340.9 278.1h0M379.4 269.5h0M326.2 288.5h0M364.2 288.7h0M363.3 214.0h0M321.7 272.5h0M309.1 209.2h0M367.3 209.1h0M305.1 255.5h0M317.2 221.8h0M335.1 290.2h0M350.0 249.8h0M383.8 209.3h0M322.6 247.1h0M310.8 214.8h0M303.8 221.4h0M312.1 257.9h0M332.8 230.6h0M335.7 297.1h0M321.2 248.4h0M308.7 264.0h0M359.5 299.8h0M312.1 231.5h0M387.3 289.9h0M332.4 236.7h0M322.8 300.2h0M367.8 242.6h0M353.2 269.6h0M304.1 216.6h0M307.8 247.8h0M365.0 285.7h0M356.5 241.6h0M373.4 277.2h0M307.8 289.0h0M366.1 286.8h0M309.1 265.3h0M349.6 250.7h0M365.8 210.0h0M360.9 294.6h0M351.1 226.3h0M310.5 280.5h0M394.4 289.9h0M307.9 278.6h0M350.3 264.4h0M366.6 259.5h0M392.0 212.7h0M326.1 236.4h0M391.6 241.9h0M385.1 294.2h0M363.9 296.7h0M363.9 270.1h0M330.9 239.3h0M382.3 225.1h0M348.6 260.2h0M355.9 278.8h0M330.8 250.7h0M303.6 210.8h0M324.2 295.9h0M392.0 293.8h0M344.5 227.6h0M357.9 251.3h0M312.9 234.2h0M315.7 228.5h0M360.2 226.5h0M323.4 283.2h0M310.6 215.8h0M368.9 279.2h0M351.4 277.0h0M384.2 241.9h0M384.4 293.4h0M382.7 278.3h0M354.0 257.3h0M361.4 238.8h0M320.2 277.3h0M395.8 278.8h0M320.2 230.1h0M390.1 281.5h0M331.5 243.9h0M368.5 279.3h0M373.5 222.4h0M333.5 239.3h0M382.5 270.0h0M351.8 224.8h0M344.9 288.0h0M323.1 228.4h0M346.5 297.1h0M393.6 226.7h0M328.6 284.9h0M349.0 279.7h0M394.8 216.4h0M394.8 209.2h0M390.2 219.7h0M396.0 296.9h0M343.8 261.7h0M353.5 295.0h0M331.8 290.3h0M348.6 295.2h0M314.5 260.7h0M310.2 251.3h0M363.3 226.5h0M341.9 226.6h0M322.8 266.1h0M389.4 231.6h0"/>
<path stroke="#961518" stroke-width="1.8" stroke-linecap="round" d="M324.0 222.9h0M343.7 293.4h0M392.9 228.1h0M388.5 285.7h0M352.7 275.7h0M380.0 213.3h0M339.2 261.8h0M318.6 273.2h0M320.8 235.0h0M326.9 217.2h0M339.6 251.7h0M391.9 270.3h0M382.1 281.1h0M394.4 231.9h0M340.8 278.6h0M307.1 220.3h0M332.2 220.2h0M337.9 222.8h0M363.9 260.4h0M382.0 209.5h0M375.4 252.6h0M338.5 291.0h0M318.0 242.9h0M363.1 230.3h0M381.6 214.7h0M363.4 250.2h0M380.3 276.2h0M352.6 278.6h0M360.0 258.7h0M342.3 242.9h0M316.1 277.9h0M361.7 248.4h0M388.8 276.5h0M343.4 243.8h0M396.6 252.1h0M358.3 258.7h0M358.0 260.8h0M374.2 216.4h0M350.8 270.1h0M351.5 282.6h0M345.1 279.2h0M368.1 254.1h0M389.0 277.6h0M381.5 222.0h0M339.7 236.8h0M342.8 227.7h0M307.2 270.4h0M345.6 264.4h0M359.2 263.1h0M339.8 283.0h0M396.5 274.0h0M373.3 210.0h0M395.1 229.1h0M388.4 232.6h0M324.2 223.7h0M358.7 230.8h0M343.1 280.7h0M392.2 248.2h0"/>
<path stroke="#141469" stroke-width="1.8" stroke-linecap="round" d="M333.2 279.5h0M380.9 296.4h0M305.1 294.4h0M310.5 284.5h0M392.9 245.4h0M372.4 219.6h0M380.4 232.7h0M395.4 297.2h0M368.1 222.1h0M306.3 297.0h0M387.3 231.1h0M389.7 268.5h0M310.3 222.2h0M376.5 266.5h0M361.8 231.5h0M306.8 257.2h0M368.5 263.8h0M353.8 272.6h0M340.1 221.6h0M318.2 212.3h0M308.3 213.4h0M307.7 209.4h0M330.0 233.1h0M324.5 251.1h0M355.0 221.7h0M396.2 272.1h0M391.2 216.2h0M361.4 253.2h0M325.7 212.8h0M318.9 244.2h0M318.1 230.1h0M351.8 237.5h0M303.2 223.4h0M343.5 298.3h0M309.0 231.7h0M366.5 210.7h0M356.2 291.8h0M376.3 244.0h0M331.4 236.2h0M373.2 272.9h0M372.6 221.2h0M353.2 292.7h0M311.2 296.6h0M355.4 252.7h0M345.1 225.7h0M359.7 265.5h0M341.1 287.3h0M385.4 274.3h0M337.5 235.5h0M307.8 217.4h0M312.8 297.0h0M349.6 217.3h0M318.4 251.6h0M339.0 245.1h0M394.0 264.1h0M312.3 239.2h0M364.6 228.4h0M339.7 221.7h0M307.2 228.4h0M348.2 281.0h0M307.4 246.5h0M390.9 295.4h0M364.4 223.1h0M373.7 229.8h0M342.6 211.3h0M362.9 255.8h0M333.0 233.0h0M360.3 218.7h0M390.8 217.4h0M343.0 300.3h0M307.6 216.6h0M385.0 270.5h0M343.5 210.0h0M372.1 245.3h0M326.9 220.8h0M383.6 247.2h0M330.0 253.5h0M394.4 278.3h0M377.4 215.5h0M363.6 298.3h0M309.9 296.6h0M374.7 220.7h0M356.3 265.8h0M339.5 212.0h0M307.1 291.0h0M356.2 245.8h0M381.2 236.7h0M319.3 277.2h0M313.0 227.5h0M354.2 287.4h0M395.3 270.4h0M350.4 284.7h0M352.2 238.4h0M312.9 217.6h0M369.1 217.3h0M323.0 214.5h0M344.2 227.7h0M340.7 263.7h0M304.9 243.5h0M361.8 221.0h0M355.2 257.0h0M337.2 228.6h0M341.2 291.0h0M360.5 247.8h0M361.6 286.0h0M317.3 280.5h0M346.4 251.5h0M369.4 277.0h0M343.3 241.9h0M360.4 300.6h0M330.6 280.5h0M366.5 267.9h0M333.1 268.4h0M385.1 291.4h0M391.1 226.7h0M303.4 229.6h0M340.4 278.9h0M331.5 234.7h0M349.1 254.3h0M312.3 218.3h0M362.0 284.6h0M382.4 286.1h0M346.3 212.1h0M377.2 280.2h0M363.0 240.4h0M388.5 214.7h0M380.5 247.5h0M318.0 226.4h0M369.5 246.6h0M383.8 298.5h0M391.0 241.1h0M347.7 218.0h0M315.5 279.0h0M319.9 265.1h0M369.0 216.5h0M304.4 228.9h0M332.1 267.7h0M377.4 292.5h0M396.4 255.8h0M306.1 256.9h0M305.7 232.5h0M365.4 222.1h0M377.1 237.6h0M333.1 224.4h0M307.0 286.3h0M388.9 226.5h0M328.5 262.6h0"/>
<path stroke="#2a2adf" stroke-width="1.0" stroke-linecap="round" d="M314.6 297.7h0M307.4 263.5h0M334.7 224.9h0M306.3 230.5h0M371.5 245.0h0M324.5 262.5h0M365.8 270.2h0M348.0 266.5h0M375.1 299.8h0M342.6 223.2h0M359.1 229.8h0M364.4 260.8h0M354.0 215.4h0M310.9 267.9h0M317.8 218.7h0M392.2 299.7h0M388.7 293.4h0M358.4 278.5h0M367.1 287.2h0M371.5 226.7h0M321.1 268.4h0M365.2 268.4h0M362.4 279.2h0M376.3 237.3h0M304.4 219.1h0M391.4 239.4h0M335.4 239.1h0M371.2 258.1h0M304.6 224.2h0M391.6 294.3h0M352.0 255.0h0M337.5 209.7h0M350.7 230.8h0M313.9 213.7h0M343.1 242.4h0M347.3 258.8h0M390.8 219.6h0M321.7 244.5h0M339.9 235.5h0M361.6 245.4h0M382.5 285.3h0M385.6 210.0h0M353.2 222.4h0M356.0 275.2h0M306.7 219.7h0M365.4 297.6h0M377.0 254.2h0M393.3 221.3h0M379.6 232.1h0M386.5 258.8h0M346.4 236.7h0M348.4 240.7h0M317.1 256.3h0M377.9 285.8h0M323.0 215.4h0M320.3 237.9h0M374.6 244.7h0M394.7 273.0h0M303.6 260.8h0M346.7 252.8h0M335.6 212.0h0M309.2 257.6h0M366.2 219.3h0M314.0 242.1h0M385.7 257.7h0M334.9 237.8h0M325.6 216.0h0M390.1 300.7h0M349.8 252.2h0M366.3 241.3h0M345.5 290.1h0M371.4 293.2h0M331.5 218.5h0M378.1 277.0h0M380.5 269.8h0M328.1 300.4h0M342.3 286.5h0M317.2 249.1h0M329.0 279.3h0M377.4 284.2h0M340.2 243.6h0M303.1 277.4h0M347.6 264.0h0M343.5 295.7h0M334.8 267.4h0M362.4 225.1h0M330.8 256.4h0M313.8 235.3h0M313.7 288.7h0M377.8 266.6h0M313.1 232.0h0M335.3 296.0h0M390.7 260.0h0M369.3 249.9h0M307.9 228.1h0M343.7 254.9h0M307.1 221.5h0M328.0 290.1h0M394.9 267.0h0M313.0 255.3h0M369.9 250.5h0M373.6 264.4h0M311.8 243.4h0M372.5 242.5h0M383.4 237.3h0M377.7 288.0h0M325.7 280.7h0M326.0 244.3h0M375.9 291.9h0M395.5 250.1h0M321.5 224.1h0M363.2 276.6h0M307.1 243.7h0M344.6 275.0h0M363.5 245.7h0M379.6 238.3h0M312.8 213.9h0M373.2 299.2h0M376.1 256.3h0M395.5 301.0h0M385.7 251.7h0M359.5 296.7h0M361.5 224.3h0M337.5 277.4h0M304.5 289.5h0M361.4 268.3h0M343.2 268.5h0M362.1 231.1h0M351.3 234.3h0M372.0 251.7h0M337.9 245.3h0M313.1 266.4h0M315.2 256.2h0M361.3 239.7h0M343.6 238.8h0M313.1 214.2h0M327.7 287.5h0M306.4 211.4h0M327.5 243.5h0M338.3 295.3h0M374.4 238.4h0M318.6 299.1h0M347.8 231.1h0M317.0 258.2h0"/>
<path stroke="#cc1c21" stroke-width="1.8" stroke-linecap="round" d="M368.6 226.4h0M389.3 243.4h0M388.0 268.1h0M342.9 218.1h0M383.6 267.3h0M392.9 272.6h0M391.6 263.3h0M318.0 267.5h0M383.6 218.7h0M328.4 261.2h0M394.8 222.7h0M343.4 284.1h0M341.0 218.6h0M339.6 291.8h0M386.6 288.4h0M313.2 247.2h0M377.1 221.1h0M312.5 279.0h0M341.0 255.4h0M332.5 299.4h0M333.2 296.8h0M341.9 280.6h0M353.0 229.1h0M363.1 281.0h0M349.8 280.9h0M357.6 288.2h0M395.3 255.7h0M368.2 237.2h0M350.2 261.2h0M395.5 244.1h0M316.7 280.4h0M347.9 215.4h0M363.4 230.4h0M363.1 284.6h0M393.6 282.9h0M378.3 286.4h0M356.4 265.0h0M349.0 265.1h0M375.9 210.4h0M386.3 232.2h0M361.3 248.6h0M392.5 275.0h0M387.9 272.0h0M360.5 288.6h0M381.2 220.1h0M310.2 255.5h0M342.4 263.8h0M337.3 213.5h0"/>
<path stroke="#187638" stroke-width="1.4" stroke-linecap="round" d="M331.7 264.5h0M324.7 273.9h0M369.1 238.3h0M338.0 257.0h0M322.3 280.9h0M323.5 296.0h0M363.6 233.8h0M317.4 298.0h0M325.0 282.6h0M310.4 280.8h0M333.5 267.8h0M374.0 260.0h0M326.0 277.3h0M363.0 239.9h0M363.5 238.1h0M353.5 236.9h0M377.1 264.2h0"/>
<path stroke="#21a14c" stroke-width="1.8" stroke-linecap="round" d="M358.5 245.0h0M376.4 250.1h0M332.4 269.8h0M336.1 261.3h0M376.4 249.1h0M309.8 286.0h0M371.9 264.8h0M365.9 247.0h0M383.5 263.7h0M315.9 294.7h0M336.0 256.8h0M381.7 253.6h0M380.0 253.6h0M379.3 249.9h0M379.8 261.7h0M325.3 271.3h0M330.4 263.4h0"/>
<path stroke="#187638" stroke-width="1.8" stroke-linecap="round" d="M379.9 245.3h0M364.3 258.5h0M351.6 246.9h0M372.7 261.8h0M377.5 261.7h0M381.9 245.0h0M321.4 301.4h0M304.5 288.3h0M314.8 279.2h0M360.2 240.9h0M370.9 234.6h0M324.3 267.3h0M320.8 283.5h0M318.9 276.0h0M384.8 244.4h0"/>
<path stroke="#961518" stroke-width="1.0" stroke-linecap="round" d="M327.0 222.6h0M321.7 241.3h0M306.9 247.6h0M381.0 222.5h0M350.1 285.0h0M355.5 286.3h0M328.6 274.7h0M314.8 224.7h0M332.2 215.0h0M359.3 217.9h0M318.9 228.7h0M336.7 229.8h0M348.6 289.6h0M319.4 285.6h0M321.0 243.2h0M355.4 264.0h0M331.4 226.0h0M385.2 221.7h0M383.6 275.9h0M342.9 239.4h0M350.3 269.5h0M308.8 226.9h0M393.9 246.7h0M345.5 215.3h0M339.9 288.8h0M330.4 226.6h0M361.1 278.1h0M365.1 275.4h0M341.0 211.3h0M359.6 279.4h0M334.2 235.0h0M367.7 267.0h0M382.5 223.1h0M340.7 248.9h0M358.2 281.4h0M351.3 252.2h0M370.3 271.7h0M319.4 283.0h0M349.6 227.2h0M377.4 244.6h0M361.7 271.1h0M362.6 230.0h0M348.3 289.7h0M382.2 288.0h0M367.6 215.3h0M345.2 246.5h0M317.8 215.6h0M347.6 248.8h0M392.7 254.9h0M340.5 283.3h0M325.8 284.5h0M343.9 297.8h0M342.2 288.0h0M346.6 246.5h0M349.1 235.0h0M355.3 256.8h0M363.9 266.9h0M323.5 237.4h0M377.0 218.5h0M339.1 265.1h0M319.6 296.9h0M339.2 279.6h0M392.5 262.7h0M374.5 280.2h0M390.0 232.9h0M360.1 278.1h0M311.1 213.5h0M316.6 228.9h0M382.1 287.3h0M385.4 248.7h0M343.3 211.8h0"/>
<path stroke="#2a2adf" stroke-width="1.4" stroke-linecap="round" d="M347.6 240.4h0M342.9 222.7h0M322.6 264.1h0M306.7 223.8h0M393.8 256.5h0M305.2 268.8h0M396.2 282.3h0M358.1 210.8h0M353.3 224.6h0M337.7 301.3h0M371.7 257.5h0M373.7 290.4h0M316.0 215.4h0M381.8 209.2h0M318.5 213.7h0M317.7 298.3h0M367.9 237.2h0M310.9 256.2h0M342.0 237.9h0M394.8 242.1h0M362.8 233.7h0M320.3 235.0h0M367.8 213.7h0M380.1 296.2h0M376.4 235.8h0M341.1 289.1h0M332.1 236.6h0M328.5 275.6h0M358.3 246.3h0M329.3 296.9h0M327.3 240.8h0M389.5 211.5h0M395.2 287.8h0M394.5 284.5h0M337.9 266.6h0M325.2 296.0h0M361.7 298.8h0M336.0 240.4h0M304.9 210.7h0M391.4 270.5h0M329.8 249.7h0M308.5 257.0h0M391.5 211.5h0M339.9 230.0h0M389.3 212.8h0M334.5 249.5h0M345.7 262.7h0M310.0 233.7h0M361.4 293.3h0M340.6 262.9h0M384.0 235.2h0M347.0 213.8h0M372.8 294.5h0M358.2 265.8h0M312.6 289.1h0M324.7 288.7h0M367.3 220.7h0M323.0 211.2h0M340.9 284.7h0M320.5 233.7h0M312.5 210.6h0M314.5 243.4h0M378.5 277.8h0M331.7 287.1h0M367.3 299.8h0M343.1 290.0h0M375.1 248.1h0M329.4 287.2h0M324.4 293.5h0M325.0 248.4h0M352.2 296.5h0M356.0 251.5h0M349.8 283.2h0M374.2 218.8h0M395.1 244.4h0M370.7 228.9h0M359.4 250.6h0M314.7 216.5h0M342.1 251.4h0M340.4 268.5h0M385.8 223.5h0M364.8 243.4h0M384.8 239.4h0M361.1 229.9h0M385.8 286.0h0M362.5 282.4h0M394.7 264.3h0M311.5 242.1h0M358.9 251.0h0M370.3 273.8h0M313.6 271.4h0M307.7 243.5h0M355.2 293.5h0M351.6 260.3h0M303.8 218.3h0M352.2 244.2h0M331.0 294.0h0M389.5 265.5h0M370.7 241.7h0M331.9 241.6h0M374.1 235.0h0M347.5 221.7h0M338.4 265.3h0M394.9 252.2h0M314.8 283.2h0M365.4 298.1h0M320.3 299.4h0M324.0 270.3h0M334.3 221.0h0M338.3 218.4h0M317.7 273.1h0M360.6 244.2h0M314.8 299.5h0M323.5 226.8h0M391.2 272.5h0M303.4 294.4h0M350.7 238.1h0M340.5 229.9h0M376.2 271.8h0M331.7 220.8h0M386.9 255.6h0M303.8 211.4h0M304.9 245.7h0M383.1 236.4h0M336.2 242.5h0M338.6 245.3h0M309.2 213.1h0M316.8 289.1h0M328.9 292.7h0M362.4 300.5h0M303.8 229.5h0M383.1 213.3h0M357.2 243.9h0M313.0 215.8h0M338.3 258.0h0M329.1 298.9h0M362.2 236.1h0M374.9 211.7h0M320.8 294.3h0M315.9 248.0h0M315.4 265.3h0M377.4 266.0h0M385.5 289.1h0M336.6 281.9h0"/>
<path stroke="#961518" stroke-width="1.4" stroke-linecap="round" d="M344.2 219.3h0M325.7 238.6h0M369.5 239.1h0M327.8 276.4h0M337.4 249.3h0M312.6 280.3h0M353.6 259.6h0M353.1 261.6h0M357.6 213.6h0M334.1 284.9h0M325.0 229.7h0M394.9 274.6h0M304.5 210.0h0M306.6 229.1h0M346.9 238.0h0M365.2 269.8h0M392.2 286.4h0M341.6 287.6h0M388.0 254.6h0M346.7 243.2h0M370.0 223.9h0M382.2 218.5h0M369.4 228.1h0M363.3 226.6h0M343.3 288.8h0M344.1 238.6h0M384.7 268.6h0M340.2 253.4h0M343.8 224.9h0M336.3 220.3h0M326.3 229.6h0M379.1 221.3h0M389.9 295.4h0M389.2 299.6h0M336.5 258.6h0M368.9 220.9h0M394.1 229.1h0M391.4 268.1h0M357.1 293.1h0M340.9 265.2h0M330.5 223.4h0M333.7 254.2h0M378.3 287.6h0M396.3 235.1h0M322.9 227.6h0M387.1 238.1h0M339.5 220.6h0M329.3 215.9h0M365.4 228.4h0M361.5 278.2h0M374.3 228.9h0M334.5 225.5h0M323.5 255.6h0M394.3 230.4h0M334.3 289.3h0M347.5 217.7h0M352.4 300.9h0M388.3 255.2h0"/>
<path stroke="#125a55" stroke-width="1.8" stroke-linecap="round" d="M366.2 233.3h0M376.9 264.9h0M319.2 286.8h0M350.1 240.4h0M361.3 250.4h0M371.6 236.6h0M363.4 275.8h0M370.7 248.4h0M382.5 249.5h0M358.2 232.8h0M360.0 245.4h0M353.1 286.7h0M323.5 286.6h0M323.5 227.9h0M315.6 292.4h0M338.7 233.5h0M370.4 252.3h0M326.4 268.0h0M327.0 279.7h0M330.0 280.4h0M355.7 263.4h0M353.4 219.2h0M356.3 254.2h0M338.3 215.8h0M380.3 258.4h0M331.3 270.0h0M364.0 245.9h0M367.4 248.8h0M325.5 264.0h0M378.4 253.1h0M377.0 246.0h0M319.7 278.8h0M333.4 277.9h0M386.9 221.8h0M320.7 280.3h0"/>
<path stroke="#26beb4" stroke-width="1.8" stroke-linecap="round" d="M369.4 255.2h0M364.4 217.6h0M306.3 244.8h0M310.3 280.3h0M311.9 269.3h0M366.1 277.1h0M365.8 225.7h0M339.0 286.2h0M352.0 231.3h0M372.1 263.0h0M381.1 261.2h0M384.9 265.1h0M318.8 292.3h0M319.7 281.9h0M324.8 292.4h0M394.0 235.7h0M320.2 285.9h0M324.0 291.3h0M367.1 230.3h0M374.7 223.2h0M346.6 234.3h0M364.9 232.2h0M353.5 240.1h0M338.0 273.1h0M382.6 252.0h0M383.3 261.0h0M324.0 298.6h0M368.1 261.6h0M374.5 213.0h0M338.0 275.5h0M324.3 282.8h0M387.6 271.7h0M362.2 265.9h0M358.8 234.0h0M333.7 258.5h0M332.3 282.2h0M355.8 267.0h0M381.0 244.5h0M326.6 288.9h0"/>
<path stroke="#1c8c85" stroke-width="1.0" stroke-linecap="round" d="M383.1 217.7h0M379.4 252.6h0M307.4 276.4h0M321.0 289.9h0M368.2 248.5h0M362.4 212.1h0M310.5 286.3h0M327.0 269.2h0M321.6 282.5h0M310.1 285.8h0M385.0 232.6h0M362.5 257.4h0M376.5 288.0h0M353.6 268.6h0M381.7 256.0h0M368.2 243.0h0M321.0 280.7h0M311.4 254.6h0M363.3 239.2h0M316.5 289.0h0M336.0 283.4h0M353.8 238.0h0M358.6 248.6h0M359.9 234.2h0M350.9 272.6h0M318.0 228.6h0M329.4 284.0h0M364.2 265.7h0"/>
<path stroke="#125a55" stroke-width="1.0" stroke-linecap="round" d="M375.5 257.3h0M348.9 263.0h0M345.5 282.0h0M357.7 244.8h0M383.2 255.9h0M357.4 237.7h0M326.2 291.0h0M352.7 257.6h0M385.1 227.6h0M324.6 300.9h0M330.6 276.0h0M331.5 287.0h0M312.9 282.9h0M322.9 221.8h0M351.7 245.8h0M335.8 282.9h0M318.4 290.0h0M338.9 234.9h0M331.1 255.3h0M371.9 238.0h0M358.0 243.9h0M347.9 293.0h0M313.2 254.3h0M361.0 233.4h0M351.5 297.2h0M331.3 270.2h0M310.4 278.5h0M334.6 265.2h0M377.5 265.2h0M361.3 253.9h0M360.4 281.9h0M382.6 257.2h0M353.0 248.1h0M331.6 280.3h0M378.7 250.1h0M364.1 248.6h0M380.6 256.8h0M335.9 280.1h0M317.8 287.9h0M336.0 259.1h0M318.9 263.7h0"/>
<path stroke="#26beb4" stroke-width="1.4" stroke-linecap="round" d="M390.0 274.4h0M333.3 256.2h0M348.4 233.8h0M343.8 217.3h0M366.0 293.1h0M357.4 241.0h0M336.9 255.8h0M308.0 280.5h0M396.1 261.9h0M344.2 262.6h0M374.8 250.5h0M327.9 270.2h0M329.3 273.4h0M336.1 274.6h0M387.0 264.2h0M328.7 225.4h0M323.2 254.8h0M327.2 256.8h0M321.5 284.5h0M351.4 225.5h0M350.4 252.9h0M317.1 289.7h0M377.3 250.4h0M332.2 283.4h0M330.1 263.5h0M354.5 220.7h0M342.3 213.5h0M388.0 256.4h0M343.3 273.6h0M324.4 294.0h0M375.7 243.9h0M391.5 279.9h0M324.2 256.8h0"/>
<path stroke="#1f1fa4" stroke-width="1.8" stroke-linecap="round" d="M378.6 248.4h0M343.9 260.4h0M322.7 249.3h0M368.2 268.6h0M315.3 297.2h0M306.8 209.9h0M351.5 284.7h0M314.9 221.3h0M364.9 210.1h0M305.4 237.9h0M320.9 257.4h0M343.5 236.4h0M378.2 237.0h0M376.7 277.5h0M320.6 231.9h0M375.2 272.7h0M317.1 242.7h0M346.8 246.3h0M338.0 262.7h0M313.9 247.6h0M352.8 299.3h0M307.2 262.7h0M325.3 265.0h0M387.6 264.2h0M365.5 288.7h0M383.8 280.1h0M306.8 267.9h0M320.0 214.4h0M337.3 235.3h0M376.8 295.0h0M370.2 209.3h0M310.3 219.0h0M391.8 215.0h0M338.7 282.9h0M304.1 283.7h0M362.0 284.9h0M389.0 216.7h0M306.5 262.6h0M318.2 235.5h0M310.9 286.5h0M376.6 231.4h0M371.6 297.4h0M363.9 209.9h0M333.7 216.4h0M325.0 248.5h0M371.0 210.0h0M357.1 251.3h0M308.9 256.3h0M334.7 265.8h0M350.6 262.4h0M338.2 284.4h0M389.2 263.4h0M308.0 271.2h0M354.8 297.9h0M352.4 225.7h0M395.6 220.2h0M355.7 264.3h0M370.1 277.6h0M313.9 216.4h0M353.0 245.6h0M378.3 292.0h0M331.9 236.3h0M329.0 262.2h0M304.4 254.7h0M316.6 219.4h0M304.4 229.2h0M386.3 278.3h0M384.1 250.4h0M359.8 235.0h0M318.5 213.9h0M313.8 273.5h0M304.0 293.7h0M322.1 281.0h0M333.0 245.1h0M365.1 212.9h0M377.6 270.5h0M383.9 231.2h0M341.9 253.7h0M305.9 277.4h0M343.3 220.0h0M339.5 218.0h0M313.2 218.7h0M365.2 242.4h0M335.4 251.0h0M305.5 212.7h0M309.5 276.5h0M372.3 290.2h0M365.4 231.0h0M316.5 211.0h0M325.9 268.9h0M321.5 213.8h0M396.7 247.3h0M367.4 241.6h0M357.6 290.1h0M380.0 252.7h0M304.9 253.5h0M379.5 267.7h0M350.6 266.4h0M340.7 251.6h0M307.7 273.2h0M346.9 229.6h0M359.4 289.6h0M332.5 208.9h0M394.6 250.7h0M308.5 224.9h0M364.4 276.6h0M334.9 211.8h0M350.0 224.3h0M396.2 297.5h0M323.8 228.8h0M329.1 234.5h0M346.4 226.2h0M349.8 217.3h0M358.3 223.4h0M370.8 221.1h0M376.2 282.4h0M323.7 252.6h0M333.1 237.8h0M389.0 213.6h0M382.2 228.4h0M356.1 283.2h0M358.3 275.1h0M370.1 281.6h0M306.7 291.4h0M304.6 216.5h0M361.3 282.4h0M309.9 217.5h0M351.7 280.8h0"/>
<path stroke="#1c8c85" stroke-width="1.8" stroke-linecap="round" d="M363.5 260.1h0M336.6 278.3h0M382.6 254.2h0M315.2 286.7h0M363.3 245.0h0M373.3 260.7h0M318.6 273.5h0M317.4 289.2h0M372.8 270.5h0M383.1 254.4h0M331.1 276.1h0M370.9 254.6h0M366.5 226.6h0M365.7 255.6h0M321.8 284.9h0M375.7 264.3h0M358.4 254.6h0M371.4 222.5h0M335.0 264.7h0M325.4 282.4h0M380.2 248.6h0M379.3 266.2h0M367.9 265.7h0M348.5 256.8h0M368.2 258.1h0M312.2 284.4h0M381.8 257.4h0M333.8 287.2h0M315.8 300.6h0M350.8 231.7h0M362.2 234.4h0M335.0 229.4h0M316.1 282.8h0M356.1 250.2h0M333.0 270.2h0M323.3 276.7h0M303.2 285.0h0M329.1 256.8h0M345.8 248.4h0M382.6 294.0h0M360.0 246.5h0M353.8 242.9h0M331.4 256.1h0M377.7 244.0h0M386.4 297.9h0M329.8 238.4h0M340.8 283.0h0M378.8 280.8h0"/>
<path stroke="#1c8c85" stroke-width="1.4" stroke-linecap="round" d="M350.6 240.9h0M362.0 239.8h0M351.5 241.0h0M361.9 256.5h0M339.8 258.3h0M343.7 300.2h0M366.9 247.7h0M326.4 280.8h0M313.3 253.0h0M377.8 265.4h0M383.5 267.2h0M357.4 252.8h0M376.5 245.9h0M380.0 247.0h0M329.0 281.8h0M357.4 254.7h0M379.1 250.1h0M315.1 298.9h0M374.0 264.9h0M331.3 280.7h0M360.4 234.0h0M359.2 284.7h0M313.3 283.3h0M317.7 287.9h0M316.4 276.8h0M315.4 292.6h0M336.4 274.0h0M375.6 220.3h0M349.6 209.3h0M335.0 280.3h0M367.6 245.7h0M366.4 243.1h0M317.9 267.6h0M338.1 264.4h0M317.3 289.8h0M360.4 293.9h0M363.2 252.2h0M323.9 295.9h0M324.8 277.7h0M318.3 298.1h0M323.4 285.3h0M331.7 249.1h0M327.5 254.2h0M389.8 281.2h0M355.0 285.0h0M350.4 273.1h0M354.2 251.1h0M385.5 232.4h0M338.2 280.3h0M380.0 277.0h0M325.2 292.2h0M372.3 266.6h0"/>
<path stroke="#21a14c" stroke-width="1.4" stroke-linecap="round" d="M367.1 235.9h0M381.1 250.7h0M366.4 248.1h0M358.6 242.7h0M312.4 284.5h0M331.1 283.3h0M304.7 283.8h0M326.9 273.1h0M360.7 250.2h0M317.3 278.2h0M329.9 286.8h0M332.0 260.3h0M357.7 235.1h0M326.5 277.5h0M384.0 265.2h0M333.0 255.4h0M320.9 268.1h0"/>
<path stroke="#cc1c21" stroke-width="1.4" stroke-linecap="round" d="M323.2 237.9h0M395.9 221.7h0M337.2 221.8h0M380.1 209.8h0M375.8 220.6h0M316.6 237.5h0M394.9 242.4h0M348.6 288.2h0M348.4 260.5h0M322.5 234.1h0M378.0 210.9h0M332.3 268.5h0M359.1 268.3h0M330.7 244.2h0M322.3 233.1h0M332.5 211.1h0M333.6 212.5h0M338.1 291.0h0M355.2 270.7h0M328.0 247.4h0M393.6 270.1h0M389.9 223.4h0M334.1 225.0h0M390.0 268.3h0M328.9 275.7h0M390.3 271.9h0M328.5 262.6h0M395.1 286.7h0M341.3 289.6h0M385.0 222.7h0M385.6 270.8h0M361.4 269.7h0M328.3 255.2h0M356.7 286.5h0M368.0 212.1h0M391.5 288.0h0M351.4 249.0h0M321.3 235.6h0M367.9 228.5h0M389.9 293.6h0M332.7 252.9h0M347.5 236.1h0M367.5 270.2h0M370.3 274.9h0M342.6 259.9h0M341.1 297.2h0M388.8 256.3h0M363.9 231.8h0M332.7 219.4h0M340.6 210.0h0M346.4 231.5h0M396.1 289.1h0M392.3 273.8h0M377.3 245.5h0M389.2 284.0h0M310.0 298.3h0M344.7 216.9h0M385.0 218.4h0M323.3 258.5h0M340.4 295.6h0M307.6 226.6h0M335.8 226.3h0M360.7 223.2h0"/>
<path stroke="#21a14c" stroke-width="1.0" stroke-linecap="round" d="M333.8 262.2h0M320.6 277.3h0M368.8 244.9h0M383.3 254.3h0M315.0 284.3h0M377.7 259.6h0M311.8 284.8h0M362.5 239.9h0M317.1 296.9h0M353.7 252.0h0M331.7 271.9h0M357.6 234.2h0"/>
<path stroke="#0f4c24" stroke-width="1.4" stroke-linecap="round" d="M330.5 285.6h0M368.9 258.4h0M309.2 278.6h0M361.3 233.3h0M365.1 259.7h0M326.4 296.0h0M355.1 241.2h0M335.4 258.1h0M367.9 237.8h0M311.3 280.7h0M352.1 234.7h0M316.2 280.1h0M350.9 243.3h0M364.8 238.2h0M309.8 289.7h0M319.7 271.7h0M321.1 296.2h0M325.1 271.0h0"/>
<path stroke="#0f4c24" stroke-width="1.8" stroke-linecap="round" d="M365.4 246.0h0M363.7 237.5h0M326.8 272.1h0M328.4 260.7h0M352.9 241.6h0M353.3 239.2h0M322.8 291.8h0M315.3 284.3h0M376.2 261.3h0M351.3 237.3h0M320.9 277.4h0"/>
<path stroke="#125a55" stroke-width="1.4" stroke-linecap="round" d="M316.8 287.7h0M313.2 263.1h0M366.4 255.1h0M315.4 270.4h0M383.6 258.8h0M359.2 242.2h0M334.1 278.0h0M365.7 235.1h0M307.1 256.6h0M372.7 300.0h0M332.4 279.9h0M381.2 252.3h0M324.0 292.1h0M312.8 279.5h0M380.5 212.3h0M336.7 248.0h0M320.6 234.9h0M318.4 273.3h0M363.8 230.6h0M316.0 286.8h0M337.3 271.0h0M324.5 288.5h0"/>
<path stroke="#187638" stroke-width="1.0" stroke-linecap="round" d="M373.0 248.4h0M367.0 249.9h0M319.9 282.4h0M312.4 284.5h0M362.4 234.4h0M308.7 280.9h0M323.2 271.4h0M331.3 255.5h0M311.3 289.2h0M333.4 276.8h0M366.2 238.9h0M384.9 264.9h0M350.1 237.6h0M377.0 246.6h0M328.6 273.8h0M316.2 294.6h0M384.9 263.8h0M330.8 256.8h0M371.5 245.9h0M375.5 263.5h0M317.8 287.3h0M365.9 239.1h0"/>
<path stroke="#0f4c24" stroke-width="1.0" stroke-linecap="round" d="M381.4 249.9h0M367.2 250.4h0M326.5 276.1h0M323.8 298.1h0M317.4 296.8h0M365.0 236.3h0M334.2 284.1h0M332.2 278.9h0M377.6 247.5h0M327.4 281.3h0M365.2 234.6h0M318.8 283.0h0M314.2 281.0h0"/>
<rect x="370.80" y="295.40" width="20.00" height="1.90" fill="#fff" stroke="none" stroke-width="0.7"/>
</g>
<clipPath id="cg4"><rect x="398.40" y="208.80" width="93.60" height="92.80"/></clipPath>
<g clip-path="url(#cg4)">
<rect x="398.40" y="208.80" width="93.60" height="92.80" fill="#000" stroke="none" stroke-width="0.7"/>
<g filter="url(#blur2)"><rect x="398.4" y="208.8" width="12.0" height="11.9" fill="#0a0a44"/><rect x="410.1" y="208.8" width="12.0" height="11.9" fill="#0a0a44"/><rect x="421.8" y="208.8" width="12.0" height="11.9" fill="#0a0a44"/><rect x="433.5" y="208.8" width="12.0" height="11.9" fill="#0a0a44"/><rect x="445.2" y="208.8" width="12.0" height="11.9" fill="#0a0a44"/><rect x="456.9" y="208.8" width="12.0" height="11.9" fill="#0a0a44"/><rect x="468.6" y="208.8" width="12.0" height="11.9" fill="#0a0a44"/><rect x="480.3" y="208.8" width="12.0" height="11.9" fill="#0a0a44"/><rect x="398.4" y="220.4" width="12.0" height="11.9" fill="#0a0a44"/><rect x="410.1" y="220.4" width="12.0" height="11.9" fill="#0a0a44"/><rect x="421.8" y="220.4" width="12.0" height="11.9" fill="#0a0a44"/><rect x="433.5" y="220.4" width="12.0" height="11.9" fill="#1c0a38"/><rect x="445.2" y="220.4" width="12.0" height="11.9" fill="#0a0a44"/><rect x="456.9" y="220.4" width="12.0" height="11.9" fill="#0a0a44"/><rect x="468.6" y="220.4" width="12.0" height="11.9" fill="#1c0a38"/><rect x="480.3" y="220.4" width="12.0" height="11.9" fill="#0a0a44"/><rect x="398.4" y="232.0" width="12.0" height="11.9" fill="#0a0a44"/><rect x="410.1" y="232.0" width="12.0" height="11.9" fill="#0a0a44"/><rect x="421.8" y="232.0" width="12.0" height="11.9" fill="#1c0a38"/><rect x="433.5" y="232.0" width="12.0" height="11.9" fill="#1c0a38"/><rect x="445.2" y="232.0" width="12.0" height="11.9" fill="#1c0a38"/><rect x="456.9" y="232.0" width="12.0" height="11.9" fill="#1c0a38"/><rect x="468.6" y="232.0" width="12.0" height="11.9" fill="#0a0a44"/><rect x="480.3" y="232.0" width="12.0" height="11.9" fill="#0a0a44"/><rect x="398.4" y="243.6" width="12.0" height="11.9" fill="#0a0a44"/><rect x="410.1" y="243.6" width="12.0" height="11.9" fill="#1c0a38"/><rect x="421.8" y="243.6" width="12.0" height="11.9" fill="#1c0a38"/><rect x="433.5" y="243.6" width="12.0" height="11.9" fill="#120830"/><rect x="445.2" y="243.6" width="12.0" height="11.9" fill="#120830"/><rect x="456.9" y="243.6" width="12.0" height="11.9" fill="#1c0a38"/><rect x="468.6" y="243.6" width="12.0" height="11.9" fill="#1c0a38"/><rect x="480.3" y="243.6" width="12.0" height="11.9" fill="#0a0a44"/><rect x="398.4" y="255.2" width="12.0" height="11.9" fill="#0a0a44"/><rect x="410.1" y="255.2" width="12.0" height="11.9" fill="#1c0a38"/><rect x="421.8" y="255.2" width="12.0" height="11.9" fill="#1c0a38"/><rect x="433.5" y="255.2" width="12.0" height="11.9" fill="#120830"/><rect x="445.2" y="255.2" width="12.0" height="11.9" fill="#1c0a38"/><rect x="456.9" y="255.2" width="12.0" height="11.9" fill="#1c0a38"/><rect x="468.6" y="255.2" width="12.0" height="11.9" fill="#0a0a44"/><rect x="480.3" y="255.2" width="12.0" height="11.9" fill="#0a0a44"/><rect x="398.4" y="266.8" width="12.0" height="11.9" fill="#0a0a44"/><rect x="410.1" y="266.8" width="12.0" height="11.9" fill="#1c0a38"/><rect x="421.8" y="266.8" width="12.0" height="11.9" fill="#1c0a38"/><rect x="433.5" y="266.8" width="12.0" height="11.9" fill="#1c0a38"/><rect x="445.2" y="266.8" width="12.0" height="11.9" fill="#1c0a38"/><rect x="456.9" y="266.8" width="12.0" height="11.9" fill="#0a0a44"/><rect x="468.6" y="266.8" width="12.0" height="11.9" fill="#0a0a44"/><rect x="480.3" y="266.8" width="12.0" height="11.9" fill="#0a0a44"/><rect x="398.4" y="278.4" width="12.0" height="11.9" fill="#0a0a44"/><rect x="410.1" y="278.4" width="12.0" height="11.9" fill="#0a0a44"/><rect x="421.8" y="278.4" width="12.0" height="11.9" fill="#1c0a38"/><rect x="433.5" y="278.4" width="12.0" height="11.9" fill="#0a0a44"/><rect x="445.2" y="278.4" width="12.0" height="11.9" fill="#0a0a44"/><rect x="456.9" y="278.4" width="12.0" height="11.9" fill="#0a0a44"/><rect x="468.6" y="278.4" width="12.0" height="11.9" fill="#0a0a44"/><rect x="480.3" y="278.4" width="12.0" height="11.9" fill="#0a0a44"/><rect x="398.4" y="290.0" width="12.0" height="11.9" fill="#0a0a44"/><rect x="410.1" y="290.0" width="12.0" height="11.9" fill="#0a0a44"/><rect x="421.8" y="290.0" width="12.0" height="11.9" fill="#0a0a44"/><rect x="433.5" y="290.0" width="12.0" height="11.9" fill="#0a0a44"/><rect x="445.2" y="290.0" width="12.0" height="11.9" fill="#0a0a44"/><rect x="456.9" y="290.0" width="12.0" height="11.9" fill="#0a0a44"/><rect x="468.6" y="290.0" width="12.0" height="11.9" fill="#0a0a44"/><rect x="480.3" y="290.0" width="12.0" height="11.9" fill="#0a0a44"/></g>
<path stroke="#2d2deb" stroke-width="1.9" stroke-linecap="round" d="M443.0 268.6h0M446.9 230.5h0M466.3 257.2h0M471.9 284.3h0M471.8 265.1h0M439.6 289.8h0M436.1 289.1h0M424.2 255.4h0M445.8 237.0h0M488.9 296.9h0M484.3 218.4h0M399.8 221.5h0M399.1 262.9h0M470.5 247.8h0M430.6 211.1h0M419.3 277.9h0M456.0 226.3h0M456.6 294.5h0M447.6 284.4h0M403.2 277.2h0M457.8 219.5h0M417.6 248.4h0M466.7 257.5h0M472.9 275.4h0M478.8 293.0h0M426.3 300.1h0M410.2 217.7h0M420.6 233.2h0M453.6 266.5h0M428.3 267.2h0M457.0 240.0h0M434.7 277.3h0M401.3 224.2h0M475.8 250.6h0M462.6 212.3h0M484.5 261.9h0M406.0 230.7h0M456.9 243.5h0M451.7 283.4h0M462.3 271.5h0M467.3 211.5h0M439.3 289.7h0M423.1 284.2h0M463.9 254.6h0M402.7 233.8h0M466.2 277.0h0M479.0 216.4h0M426.8 275.1h0M431.7 256.6h0M440.9 279.1h0M469.1 227.7h0M458.3 268.2h0M409.8 269.5h0M432.8 277.6h0M428.7 252.8h0M445.1 252.1h0M435.0 220.1h0M469.8 209.6h0M400.6 221.3h0M447.2 262.7h0M413.7 260.8h0M473.6 289.8h0M406.8 289.2h0M412.9 233.8h0M455.3 284.9h0M490.5 261.0h0M402.6 283.4h0M431.5 213.6h0M417.4 233.6h0M471.8 248.4h0M474.3 289.4h0M460.0 275.0h0M412.6 247.1h0M487.7 253.0h0M433.0 242.4h0M435.8 244.4h0M425.0 247.9h0M451.4 295.1h0M408.1 292.0h0M471.7 278.2h0M466.9 242.1h0M420.2 268.0h0M477.4 245.1h0M485.0 290.8h0M405.2 288.9h0M421.2 251.6h0M410.3 269.5h0M487.3 221.6h0M485.3 261.9h0M481.6 300.7h0M486.7 234.2h0M410.6 225.6h0M487.9 258.8h0M466.4 285.8h0M428.6 261.7h0M462.3 286.1h0M480.6 289.1h0M443.0 218.6h0M411.4 285.0h0M465.7 294.0h0M407.0 210.8h0M439.0 213.5h0M487.1 295.3h0M409.1 240.8h0M467.9 235.3h0M466.3 271.3h0M407.7 225.2h0M410.0 257.0h0M433.7 255.2h0M466.0 298.8h0M476.5 239.1h0M433.6 219.1h0M472.9 282.1h0M489.3 223.0h0M412.3 233.3h0M424.1 212.7h0M416.5 223.5h0M413.1 236.6h0M426.9 299.9h0M453.8 211.6h0M405.0 243.9h0M457.6 279.9h0M491.3 282.2h0M405.5 242.3h0M438.7 218.7h0M439.6 240.8h0M401.0 233.6h0M422.1 300.9h0M458.4 267.6h0M478.4 211.4h0M484.9 238.8h0M451.1 261.9h0M458.2 233.7h0M464.0 242.2h0M405.3 249.7h0M406.7 253.3h0M458.6 275.4h0M454.0 217.4h0M399.7 297.4h0M454.3 249.0h0M427.1 255.5h0M458.0 300.9h0M424.5 248.1h0M433.0 212.1h0M416.2 219.0h0M423.8 228.4h0M439.5 230.2h0M481.9 217.5h0M475.6 219.0h0M457.8 295.1h0M402.2 283.3h0M467.7 278.4h0M399.9 269.2h0M464.0 248.0h0M437.1 291.4h0M460.8 249.7h0M481.4 245.5h0M470.0 296.9h0M477.4 239.1h0M458.8 287.2h0M474.3 267.3h0M466.0 215.1h0M419.7 264.4h0M401.1 223.6h0M444.4 237.6h0M460.1 269.1h0M414.3 248.5h0M423.5 286.9h0M465.1 257.2h0M410.6 291.5h0M406.2 211.5h0M465.2 255.0h0M489.1 299.8h0M435.7 227.8h0M450.0 235.9h0M428.5 233.5h0M475.6 264.7h0M422.1 217.7h0M418.2 278.8h0M446.6 210.5h0M406.5 298.1h0M430.9 244.7h0M458.6 229.6h0M481.2 225.2h0M490.3 249.3h0M484.8 299.4h0M417.8 289.4h0M470.9 238.6h0M420.3 279.6h0M449.6 263.3h0M433.6 295.3h0M474.9 298.4h0M480.1 286.0h0M477.9 270.7h0M422.0 288.6h0M481.5 269.6h0M465.7 264.4h0M478.1 287.5h0M467.9 243.6h0M424.3 240.2h0M411.8 246.8h0M475.5 210.0h0M420.5 287.1h0M457.0 234.0h0M432.8 253.0h0M409.6 231.8h0M446.6 259.6h0M441.0 233.8h0M403.4 237.6h0M470.6 244.7h0M441.2 280.6h0M448.4 265.2h0M478.7 251.6h0M475.5 246.1h0M448.0 265.0h0M477.0 211.8h0M404.7 255.0h0M435.8 210.7h0M486.9 229.9h0M475.6 266.3h0M409.5 273.0h0M407.7 225.5h0M425.9 230.5h0M461.8 283.3h0M459.9 226.5h0M443.0 298.8h0M451.1 285.6h0M453.0 299.4h0M472.8 213.6h0M476.3 283.3h0M404.3 239.8h0M461.4 258.3h0M484.6 270.8h0M482.2 257.8h0M461.8 220.4h0M436.2 215.4h0M470.4 266.4h0M431.6 209.0h0M409.4 224.5h0M486.5 219.5h0M404.3 243.3h0M420.5 283.3h0M463.2 233.2h0M405.4 222.5h0M490.9 277.7h0M468.0 281.9h0M427.6 256.2h0M484.2 217.2h0M440.4 265.6h0M413.0 276.0h0M482.2 276.2h0M489.4 245.7h0M421.0 223.1h0M465.0 267.1h0M489.4 226.4h0M422.4 278.4h0M422.1 260.7h0M423.8 216.5h0M419.6 210.8h0M486.9 273.4h0M447.5 298.7h0M486.3 238.2h0M416.3 228.7h0M460.8 275.2h0M409.6 226.5h0M491.9 230.3h0M459.8 211.0h0M409.3 252.4h0M400.4 242.3h0M464.5 228.2h0M416.4 293.0h0M487.9 245.5h0M487.3 287.6h0M460.7 229.5h0M451.2 233.3h0M453.4 224.3h0M436.1 289.1h0"/>
<path stroke="#2424bc" stroke-width="1.1" stroke-linecap="round" d="M444.2 240.2h0M454.6 218.5h0M413.7 292.6h0M413.3 210.7h0M403.9 227.6h0M419.0 239.3h0M451.3 250.6h0M442.1 293.3h0M460.3 220.4h0M470.4 254.4h0M412.5 235.0h0M417.7 246.4h0M429.7 272.5h0M399.7 275.2h0M460.2 243.0h0M455.5 272.4h0M418.8 244.8h0M490.3 244.7h0M401.8 290.4h0M407.5 274.3h0M405.9 211.9h0M410.2 237.7h0M460.6 278.3h0M443.5 248.3h0M407.3 278.1h0M464.4 240.9h0M461.6 213.8h0M432.5 238.2h0M463.4 216.7h0M444.8 213.9h0M439.7 220.5h0M443.8 209.5h0M457.9 293.0h0M424.5 232.7h0M484.8 275.2h0M475.6 276.3h0M424.8 231.0h0M424.6 273.8h0M488.3 217.7h0M425.0 290.9h0M417.8 270.7h0M457.0 255.2h0M431.5 296.5h0M484.7 215.8h0M472.1 268.5h0M480.6 291.9h0M411.9 220.6h0M421.5 298.3h0M437.9 265.9h0M403.8 273.1h0M416.5 257.4h0M471.9 227.2h0M402.9 282.7h0M461.9 218.1h0M401.4 226.2h0M459.9 232.5h0M467.3 263.9h0M449.6 266.6h0M479.7 267.7h0M418.6 216.5h0M410.9 285.4h0M459.0 247.0h0M445.4 242.0h0M487.9 295.6h0M408.6 250.5h0M453.6 209.9h0M398.9 286.5h0M487.0 278.6h0M399.3 263.8h0M457.2 276.2h0M407.5 215.1h0M446.2 226.5h0M412.2 276.7h0M448.8 256.3h0M446.4 276.9h0M468.4 209.8h0M488.1 245.4h0M416.6 277.7h0M458.9 229.5h0M481.9 260.4h0M437.3 281.4h0M438.2 214.7h0M420.4 226.0h0M398.9 255.1h0M399.0 225.0h0M422.1 222.5h0M462.4 292.5h0M417.3 300.1h0M432.1 267.4h0M414.9 225.2h0M458.0 247.8h0M476.4 239.9h0M486.1 278.2h0M415.8 215.3h0M406.8 283.8h0M472.4 235.0h0M462.6 231.5h0M418.6 259.6h0M445.9 295.6h0M465.5 224.4h0M418.1 229.9h0M445.9 250.5h0M485.6 238.7h0M440.8 233.2h0M474.8 253.2h0M475.5 301.4h0M442.9 283.2h0M429.7 220.1h0M471.1 253.6h0M455.4 232.4h0M465.7 294.8h0M463.7 251.3h0M444.2 233.7h0M445.2 294.9h0M479.8 293.0h0M464.1 211.8h0M483.2 262.4h0M443.0 255.6h0M473.6 214.6h0M475.0 273.0h0M427.0 245.4h0M411.7 235.3h0M458.4 301.2h0M461.9 299.9h0M398.6 239.4h0M423.1 294.0h0M485.1 268.9h0M419.4 299.9h0M415.6 281.0h0M446.2 262.6h0M438.8 279.7h0M426.4 241.3h0M456.0 295.9h0M450.1 212.4h0M415.8 249.2h0M443.4 299.8h0M400.2 229.0h0M405.4 223.8h0M399.1 273.8h0M470.9 247.4h0M427.8 263.1h0M475.1 252.0h0M449.1 212.7h0M436.3 216.3h0M449.8 225.2h0M411.0 215.0h0M448.6 284.1h0M477.4 244.9h0M439.4 298.1h0M419.7 235.3h0M449.1 289.4h0M485.2 249.1h0M475.0 267.9h0M483.8 257.8h0M408.4 232.1h0M490.7 238.1h0M409.9 299.1h0M480.9 250.8h0M429.1 246.0h0M425.5 297.2h0M471.7 272.9h0M406.7 296.0h0M446.0 274.4h0M417.8 245.1h0M491.2 220.5h0M491.6 221.0h0M489.4 298.7h0M442.8 281.0h0M469.7 219.4h0M452.1 290.7h0M482.3 290.6h0M479.4 290.9h0M459.8 242.7h0M482.1 286.3h0M478.1 258.5h0M432.6 216.3h0M476.4 232.8h0M407.4 286.0h0M491.5 250.7h0M483.7 295.8h0M442.0 228.6h0M463.5 284.6h0M451.1 210.5h0M485.4 287.3h0M435.7 275.1h0M433.7 215.9h0M467.6 240.2h0M464.0 300.1h0M402.8 243.2h0M449.6 259.3h0M487.8 217.3h0M476.6 295.6h0M457.3 292.1h0M427.7 217.5h0M403.6 273.9h0M484.7 275.4h0M454.7 231.5h0M413.8 300.9h0M432.7 247.6h0M427.7 253.2h0M399.3 232.4h0M436.0 279.5h0M433.7 292.4h0M487.4 212.0h0M466.4 213.2h0M437.8 209.4h0M433.1 266.9h0M398.7 222.3h0M473.3 281.3h0M454.8 253.9h0M408.9 279.6h0M436.2 226.0h0M428.5 213.5h0M442.0 216.1h0M403.8 215.0h0M403.7 249.3h0M430.5 262.0h0M446.2 286.5h0M473.5 246.0h0M462.0 267.8h0M414.2 300.1h0M435.3 231.1h0M454.4 266.0h0M467.2 244.2h0M483.1 217.3h0M428.6 298.5h0M457.4 214.7h0M466.2 260.2h0M433.9 236.0h0M432.2 215.4h0M400.2 213.2h0M489.1 257.9h0M472.0 288.9h0M485.0 276.4h0M473.7 286.2h0M431.4 212.4h0M479.2 221.2h0M468.3 276.3h0M476.1 255.4h0M480.8 222.6h0M436.9 272.7h0M406.6 275.3h0M466.6 297.5h0M475.5 300.0h0M420.9 236.7h0M407.7 299.4h0M453.6 264.3h0M466.7 268.3h0M450.9 253.6h0M424.1 220.8h0M427.1 257.2h0M475.1 269.9h0M400.9 257.9h0M440.4 296.2h0M485.2 287.0h0M428.3 253.8h0M410.9 286.1h0M412.5 233.5h0M424.7 231.0h0M409.7 290.5h0M441.1 270.8h0M406.4 292.4h0M417.9 247.7h0M458.9 241.8h0M400.8 276.4h0M416.2 241.7h0M416.8 291.1h0M471.1 221.2h0M421.3 221.1h0M459.2 247.8h0M472.6 282.9h0M454.9 274.7h0M420.4 225.1h0M398.8 264.5h0M436.9 238.8h0M434.0 219.3h0M485.3 254.1h0M459.6 252.4h0"/>
<path stroke="#181881" stroke-width="1.9" stroke-linecap="round" d="M438.5 267.3h0M455.1 215.8h0M472.0 296.3h0M414.8 290.2h0M450.8 235.4h0M457.5 296.9h0M444.2 224.5h0M491.2 244.9h0M406.2 266.3h0M478.6 237.6h0M452.1 209.2h0M470.1 249.8h0M415.1 259.6h0M482.7 226.0h0M486.1 213.0h0M467.4 222.4h0M440.2 240.5h0M400.3 209.0h0M400.1 230.6h0M489.7 253.4h0M415.3 222.3h0M407.7 214.8h0M403.7 296.7h0M407.5 228.5h0M415.8 274.9h0M474.0 258.3h0M428.8 267.8h0M426.8 213.0h0M470.0 294.6h0M408.3 216.4h0M452.3 264.6h0M406.8 230.8h0M455.9 218.9h0M415.7 286.7h0M412.4 291.7h0M428.6 279.0h0M465.6 217.3h0M438.2 290.6h0M402.6 215.8h0M465.5 252.4h0M413.5 290.5h0M424.6 278.3h0M446.0 278.5h0M453.2 236.9h0M491.6 270.3h0M411.3 254.8h0M435.3 248.3h0M425.7 210.0h0M416.6 299.7h0M463.3 217.5h0M469.5 262.1h0M412.2 300.1h0M486.2 217.1h0M479.1 300.6h0M454.3 282.9h0M445.8 256.3h0M426.6 263.3h0M454.5 287.7h0M417.2 216.8h0M455.8 212.3h0M426.2 298.4h0M485.2 212.9h0M474.3 270.5h0M404.7 211.1h0M443.7 233.8h0M472.4 257.4h0M425.7 226.6h0M464.2 292.9h0M482.1 250.9h0M478.8 233.8h0M448.9 254.9h0M458.4 250.3h0M415.8 294.2h0M483.6 230.3h0M413.3 217.7h0M419.9 226.1h0M432.5 292.6h0M463.1 264.3h0M452.5 227.5h0M434.8 246.8h0M406.5 271.0h0M451.7 218.6h0M403.4 272.6h0M469.7 229.2h0M491.6 295.7h0M487.0 243.9h0M406.6 253.8h0M487.1 265.3h0M404.9 281.8h0M479.2 301.4h0M411.7 231.6h0M467.6 240.4h0M414.5 268.1h0M491.6 245.7h0M477.9 213.4h0M443.4 233.0h0M485.6 286.7h0M437.6 269.0h0M456.2 298.4h0M417.2 294.0h0M464.7 291.3h0M489.3 260.3h0M441.9 289.5h0M481.5 240.5h0M417.1 227.4h0M459.5 293.9h0M402.0 220.5h0M451.4 230.5h0M412.2 218.1h0M410.5 298.7h0M430.0 238.8h0M464.6 286.4h0M405.2 210.8h0M479.9 275.0h0M399.3 298.4h0M422.3 231.3h0M415.0 279.8h0M416.6 218.1h0M443.5 216.2h0M416.3 223.8h0M413.7 237.8h0M438.8 276.4h0M460.5 210.0h0M477.5 264.1h0M488.4 245.7h0M466.2 275.9h0M437.0 224.6h0M427.0 300.8h0M400.8 231.7h0M488.7 215.4h0M480.4 283.2h0M404.4 264.6h0M398.5 237.0h0M399.1 281.3h0M407.3 244.7h0M432.9 258.5h0M490.9 300.2h0M452.9 256.6h0M403.8 225.5h0M438.8 300.8h0M428.3 222.4h0M491.1 264.3h0M419.6 274.0h0M439.8 217.8h0M412.8 226.5h0M465.4 265.8h0M409.0 238.3h0M473.8 290.0h0M432.6 224.4h0M474.0 301.4h0M399.6 231.9h0M414.6 266.4h0M407.5 293.9h0M424.2 237.9h0M431.7 273.8h0M401.1 280.2h0M473.6 255.1h0M411.0 271.2h0M404.3 214.4h0M404.2 222.4h0M466.6 238.3h0M429.1 257.3h0M411.8 292.6h0M488.4 215.6h0M464.0 259.5h0M489.4 214.9h0M460.5 255.7h0M490.7 251.8h0M482.8 277.1h0M429.8 296.3h0M437.0 294.3h0M449.0 227.1h0M457.8 277.4h0M403.0 284.5h0M482.6 297.2h0M462.5 289.3h0M491.9 292.5h0M476.4 275.1h0M447.9 215.6h0M467.4 213.9h0M466.2 237.9h0M426.0 261.1h0M491.1 299.9h0M457.6 215.4h0M487.5 261.6h0M424.0 228.3h0M449.9 289.4h0M438.1 277.1h0M399.5 244.4h0M410.1 288.0h0M491.2 216.1h0M457.7 272.9h0M436.9 209.1h0M419.7 287.9h0M405.9 210.2h0M460.1 290.7h0M421.6 268.0h0M462.7 293.8h0M487.5 250.2h0M474.5 289.7h0M487.9 221.3h0M409.9 239.2h0M400.3 289.2h0M411.3 212.2h0M471.1 277.1h0M411.7 213.8h0M461.7 220.1h0M477.2 272.2h0M408.5 255.0h0M463.6 260.6h0M423.6 232.6h0M478.9 237.5h0M450.5 260.3h0M476.2 251.3h0M399.7 287.4h0M423.9 244.0h0M417.6 242.0h0M409.9 249.8h0M431.4 268.0h0M462.1 249.4h0M419.7 240.2h0M491.2 227.0h0M419.5 259.2h0M475.8 283.2h0M430.6 277.0h0M481.8 288.9h0M478.0 268.1h0M442.2 279.5h0M475.0 290.2h0M439.0 215.4h0M464.9 263.4h0M460.3 236.4h0M401.3 227.5h0M403.6 214.7h0M444.4 287.2h0M433.1 282.0h0M448.7 263.6h0M441.2 274.6h0M480.3 243.8h0M481.0 232.9h0M489.7 293.5h0M402.9 216.7h0M456.2 266.9h0M444.1 234.1h0M421.5 254.2h0M423.9 287.8h0M418.7 283.3h0M438.9 283.8h0M485.9 231.4h0M410.9 254.8h0M471.8 287.7h0M416.9 229.7h0M450.2 276.2h0M439.4 285.2h0M450.6 262.1h0M467.9 229.0h0M399.6 217.3h0M419.5 220.8h0M467.9 233.9h0M490.9 294.2h0M461.0 264.8h0M426.6 273.5h0M447.2 239.7h0M446.7 267.6h0M417.2 271.0h0M446.8 270.7h0"/>
<path stroke="#181881" stroke-width="1.1" stroke-linecap="round" d="M446.1 295.2h0M412.4 261.0h0M426.3 237.8h0M402.7 300.6h0M405.5 220.2h0M491.8 213.4h0M411.2 249.5h0M457.0 251.5h0M470.5 255.4h0M463.6 267.9h0M462.0 211.6h0M413.7 289.9h0M417.0 288.4h0M471.9 263.1h0M488.6 291.0h0M476.1 267.6h0M429.7 225.4h0M479.0 281.1h0M410.1 233.4h0M452.7 295.5h0M459.7 217.0h0M491.8 300.7h0M418.1 284.4h0M442.0 248.6h0M451.9 289.6h0M404.0 270.2h0M484.3 255.1h0M478.5 298.3h0M477.5 297.9h0M425.5 287.9h0M435.9 269.7h0M411.3 213.0h0M445.0 215.1h0M479.5 236.9h0M456.4 216.1h0M476.2 229.2h0M429.2 273.7h0M400.6 275.9h0M487.9 216.6h0M476.1 236.2h0M401.2 260.1h0M455.1 246.1h0M415.1 286.3h0M412.7 279.5h0M488.8 258.2h0M481.3 242.1h0M455.3 253.6h0M444.3 228.0h0M428.4 244.1h0M481.1 280.4h0M437.9 249.9h0M430.3 212.9h0M488.7 254.2h0M403.5 260.8h0M476.9 271.0h0M485.8 295.1h0M420.2 264.7h0M480.9 296.5h0M486.2 283.9h0M477.9 213.2h0M425.5 296.5h0M467.0 246.7h0M462.3 269.0h0M404.0 280.1h0M456.2 288.5h0M476.6 219.1h0M406.9 258.8h0M414.3 278.8h0M442.4 276.2h0M408.6 283.1h0M402.3 290.7h0M437.4 218.0h0M449.5 213.2h0M447.3 263.0h0M460.6 285.4h0M465.5 209.1h0M413.3 242.9h0M403.4 234.9h0M406.1 285.5h0M487.0 272.3h0M459.3 214.9h0M401.9 237.2h0M400.7 224.3h0M453.3 257.7h0M425.5 249.3h0M461.1 265.3h0M417.1 298.1h0M445.3 212.6h0M459.9 231.8h0M486.7 283.4h0M416.4 295.0h0M485.4 297.0h0M451.7 293.2h0M465.1 286.3h0M457.1 289.3h0M439.1 293.3h0M417.6 224.5h0M410.1 228.2h0M400.5 282.5h0M428.0 262.1h0M405.8 230.0h0M491.3 296.8h0M424.1 280.3h0M432.7 265.2h0M417.9 259.5h0M431.7 264.9h0M433.9 274.7h0M481.3 214.5h0M419.0 235.5h0M484.9 242.0h0M436.2 253.3h0M407.0 259.3h0M489.0 219.5h0M422.8 285.8h0M438.2 221.3h0M429.5 279.7h0M476.7 238.8h0M491.4 227.8h0M479.9 232.0h0M459.9 272.0h0M487.1 220.9h0M477.8 272.8h0M477.9 297.3h0M459.9 218.6h0M486.8 262.2h0M422.7 215.3h0M439.8 236.4h0M481.1 255.3h0M418.0 266.8h0M481.1 265.2h0M415.1 217.9h0M467.8 262.9h0M469.3 212.3h0M401.3 212.5h0M447.5 277.3h0M465.1 295.9h0M447.9 280.5h0M460.5 215.3h0M460.9 219.1h0M438.4 294.1h0M398.4 230.2h0M419.5 297.1h0M470.0 230.5h0M454.6 225.3h0M481.7 285.2h0M419.0 222.2h0M485.0 251.3h0M446.7 232.6h0M489.1 252.4h0M481.9 257.7h0M418.4 229.1h0M464.3 223.5h0M458.2 254.3h0M466.3 293.4h0M462.3 293.1h0M457.1 287.4h0M407.9 233.2h0M432.9 245.5h0M433.9 216.5h0M461.6 244.9h0M489.3 242.4h0M403.3 209.9h0M485.7 278.4h0M490.7 267.7h0M468.0 295.2h0M434.3 218.2h0M419.0 268.5h0M474.1 275.9h0M478.9 241.5h0M415.9 282.9h0M420.3 237.8h0M435.7 235.0h0M473.0 300.0h0M486.6 271.2h0M427.1 286.4h0M405.1 215.5h0M442.3 296.5h0M473.5 218.7h0M418.9 295.2h0M402.6 237.6h0M450.2 230.2h0M469.2 264.7h0M491.7 248.5h0M433.0 264.5h0M447.3 292.1h0M434.2 220.8h0M468.5 238.5h0M454.0 273.0h0M404.1 215.9h0M437.3 299.3h0M443.5 238.5h0M438.3 233.2h0M434.9 255.7h0M435.2 293.0h0M465.2 242.2h0M459.4 216.8h0M454.4 259.8h0M402.3 252.6h0M409.8 227.3h0M413.1 254.2h0M472.7 285.3h0M416.8 236.8h0M479.3 214.8h0M413.6 226.5h0M468.1 231.5h0M443.8 292.7h0M480.4 215.7h0M411.5 267.4h0M486.1 212.4h0M452.9 297.1h0M479.5 252.4h0M421.7 256.2h0M408.8 285.3h0M459.5 296.3h0M427.7 236.7h0M425.4 245.5h0M487.6 214.5h0M406.4 299.9h0M472.2 219.5h0M424.7 289.3h0M425.3 285.6h0M447.0 243.3h0M481.7 210.9h0M465.2 224.6h0M405.0 221.5h0M474.1 255.5h0M483.3 250.2h0M426.7 250.3h0M402.3 224.1h0M466.4 297.1h0M406.1 230.7h0M410.8 234.6h0M426.2 230.5h0M430.3 291.9h0M475.2 224.4h0M419.9 221.6h0M490.2 227.1h0M428.0 223.9h0M409.8 212.8h0M413.4 299.8h0M420.7 226.3h0M458.9 233.0h0M404.0 263.9h0M464.7 237.9h0M400.1 267.8h0M468.1 281.4h0M464.2 223.4h0M458.9 210.5h0M420.1 217.9h0M403.9 256.6h0M399.8 273.8h0M416.4 266.4h0M432.5 256.5h0M442.8 261.3h0M427.5 249.8h0M479.8 234.5h0M467.2 273.5h0M399.5 238.2h0M418.0 213.6h0M429.6 247.2h0M450.3 271.7h0M486.7 292.3h0M478.6 227.9h0M429.8 257.5h0"/>
<path stroke="#2424bc" stroke-width="1.9" stroke-linecap="round" d="M445.2 288.6h0M481.6 272.9h0M455.7 281.0h0M401.0 294.4h0M411.2 234.7h0M440.8 217.7h0M478.2 285.7h0M472.3 243.3h0M490.1 265.1h0M403.5 267.8h0M426.1 270.7h0M452.1 213.7h0M480.8 275.0h0M481.7 209.3h0M458.9 262.4h0M479.8 243.4h0M425.9 269.1h0M451.1 295.1h0M427.1 299.0h0M473.0 299.4h0M424.3 222.5h0M416.4 295.7h0M475.2 294.8h0M443.0 282.6h0M431.7 233.5h0M421.2 300.9h0M483.3 225.7h0M435.5 268.7h0M414.5 262.6h0M402.4 256.1h0M424.7 220.5h0M435.5 283.3h0M427.5 231.3h0M417.1 212.4h0M409.8 300.5h0M460.0 221.9h0M473.0 293.3h0M433.3 295.7h0M468.5 271.3h0M462.6 277.9h0M430.1 291.5h0M477.4 285.1h0M414.9 248.5h0M428.2 295.6h0M485.7 236.1h0M410.2 251.2h0M452.6 289.0h0M408.0 229.7h0M411.9 284.5h0M465.8 284.5h0M424.8 226.5h0M483.5 230.5h0M414.2 287.6h0M462.1 250.7h0M421.9 243.4h0M428.5 301.5h0M430.5 226.1h0M487.9 275.0h0M401.9 259.8h0M449.9 236.8h0M423.4 242.8h0M435.8 234.2h0M402.4 239.8h0M415.9 216.7h0M407.6 215.1h0M482.5 221.4h0M479.4 277.6h0M437.8 243.5h0M457.2 266.1h0M404.8 241.3h0M453.6 229.7h0M419.4 238.4h0M429.5 224.5h0M482.3 284.1h0M478.3 219.9h0M410.8 213.8h0M485.3 276.5h0M441.9 239.2h0M443.7 281.9h0M465.4 289.5h0M491.6 288.4h0M441.9 214.9h0M447.1 231.8h0M412.2 282.6h0M423.9 253.6h0M490.6 212.2h0M401.5 296.3h0M445.9 280.0h0M471.3 245.7h0M485.4 252.8h0M490.3 210.3h0M456.6 268.1h0M419.0 209.9h0M456.1 290.1h0M489.8 212.0h0M410.3 272.6h0M447.3 233.4h0M435.4 300.5h0M448.2 278.0h0M465.2 253.2h0M414.0 301.1h0M424.4 293.7h0M486.8 248.2h0M469.6 231.5h0M488.7 284.6h0M439.0 215.8h0M462.5 284.7h0M490.0 273.4h0M410.8 243.6h0M475.3 220.2h0M423.4 216.7h0M449.7 253.8h0M486.7 299.6h0M489.2 289.1h0M411.1 282.2h0M438.8 259.6h0M415.6 276.3h0M403.8 239.6h0M410.2 293.8h0M488.2 291.8h0M467.0 218.6h0M489.6 256.7h0M460.7 227.5h0M490.0 237.6h0M411.1 278.9h0M475.4 208.8h0M434.5 226.4h0M425.1 220.2h0M439.3 301.0h0M462.1 218.8h0M475.3 298.3h0M412.0 245.8h0M490.7 284.0h0M440.7 294.2h0M419.7 300.4h0M436.6 296.8h0M477.4 294.7h0M438.8 218.0h0M448.4 264.5h0M399.5 259.7h0M413.7 281.1h0M441.5 232.9h0M445.7 215.3h0M413.5 267.4h0M414.3 240.6h0M421.5 217.5h0M470.1 233.5h0M446.0 240.8h0M406.4 296.1h0M459.3 281.7h0M413.8 243.4h0M420.3 223.5h0M453.3 295.7h0M433.1 224.0h0M449.9 258.5h0M403.0 275.8h0M446.4 238.9h0M426.3 248.2h0M414.7 264.0h0M399.5 252.5h0M402.9 208.9h0M440.3 289.1h0M449.9 293.0h0M439.1 226.1h0M461.2 211.4h0M489.4 274.6h0M491.1 300.8h0M441.1 297.8h0M487.1 230.8h0M429.2 239.9h0M403.5 277.0h0M448.9 278.6h0M450.4 295.5h0M445.3 279.8h0M406.5 255.1h0M461.5 266.5h0M405.4 215.2h0M478.4 272.8h0M404.6 249.7h0M419.1 261.4h0M408.4 214.1h0M487.6 256.3h0M429.6 292.4h0M452.1 217.4h0M474.8 219.3h0M407.3 254.9h0M483.6 301.1h0M489.3 258.6h0M484.4 256.7h0M398.8 212.2h0M425.1 265.3h0M453.5 293.9h0M477.5 285.3h0M481.4 294.7h0M414.8 277.0h0M403.8 214.4h0M399.2 285.6h0M451.2 221.8h0M425.5 209.0h0M437.8 238.6h0M454.2 230.7h0M441.2 213.5h0M469.6 223.8h0M433.0 269.4h0M403.4 265.7h0M402.7 218.8h0M484.8 256.3h0M416.7 213.7h0M436.4 272.1h0M424.5 245.3h0M430.9 282.8h0M480.5 278.2h0M476.9 273.4h0M462.4 294.7h0M464.8 233.6h0M406.7 299.4h0M456.8 211.2h0M460.2 214.4h0M427.2 287.1h0M451.4 239.7h0M450.0 266.3h0M447.0 275.3h0M409.7 266.8h0M446.1 219.7h0M402.7 233.9h0M468.1 252.6h0M480.9 246.0h0M438.1 219.3h0M463.2 272.4h0M432.9 289.5h0M483.9 216.4h0M455.0 276.6h0M477.0 254.6h0M486.4 267.9h0M421.5 226.2h0M415.6 270.2h0M452.5 238.4h0M459.6 213.1h0M426.3 266.3h0M468.2 276.1h0M483.3 215.0h0M436.0 213.8h0M431.0 284.4h0M408.7 247.7h0M404.5 252.5h0M398.9 275.2h0M400.2 225.9h0M434.4 234.7h0M444.9 209.6h0M465.5 281.8h0M470.8 252.8h0M416.9 234.6h0M438.3 252.3h0M484.3 242.4h0M470.8 223.0h0M462.1 244.6h0M441.1 275.1h0M429.9 250.4h0M438.5 231.1h0M411.2 263.8h0M461.2 261.2h0M475.9 291.8h0M453.3 268.8h0"/>
<path stroke="#7b183c" stroke-width="1.5" stroke-linecap="round" d="M467.7 243.8h0M439.6 214.2h0M474.0 251.1h0M430.3 258.0h0M459.4 218.9h0M421.3 211.9h0M455.1 255.9h0M412.1 245.8h0M461.8 260.7h0M491.5 256.5h0M438.0 240.6h0M435.1 290.1h0M414.5 253.6h0M453.9 232.6h0M434.5 260.8h0M416.6 255.3h0M469.2 249.1h0M436.4 253.7h0M437.3 255.5h0M441.1 239.3h0M425.1 235.3h0M450.5 233.5h0M447.5 235.9h0M474.1 228.0h0M460.9 241.6h0M408.0 273.5h0M434.6 234.3h0M435.2 284.9h0M448.3 259.1h0M466.6 226.9h0M454.7 260.1h0M419.7 223.3h0M415.2 276.6h0M460.6 254.6h0M403.8 220.9h0M401.3 243.5h0M444.9 233.5h0M412.8 241.0h0M467.2 250.3h0M446.4 244.2h0M453.1 278.2h0M460.0 255.6h0M432.0 231.6h0M434.1 278.2h0M445.3 212.1h0M424.3 276.1h0M480.2 227.9h0M412.8 255.1h0M457.3 236.6h0M398.6 270.2h0M432.5 281.4h0M489.9 281.0h0M464.0 245.7h0M430.2 285.4h0M464.1 252.0h0"/>
<path stroke="#7b183c" stroke-width="1.1" stroke-linecap="round" d="M466.1 260.0h0M416.3 249.1h0M417.2 253.8h0M464.9 216.4h0M430.9 241.9h0M434.8 268.5h0M433.3 243.9h0M425.6 270.4h0M414.6 258.7h0M437.3 227.1h0M418.9 267.5h0M447.9 274.0h0M417.8 268.8h0M431.4 258.3h0M465.8 266.6h0M418.2 253.1h0M451.4 242.4h0M434.0 241.5h0M478.1 245.3h0M430.9 211.8h0M457.4 237.5h0M458.2 260.0h0M414.3 283.0h0M408.1 217.9h0M424.9 262.8h0M436.7 224.4h0M490.1 247.5h0M445.8 236.9h0M418.7 262.5h0M413.3 275.1h0M428.2 291.9h0M421.4 268.4h0M452.7 258.5h0M429.6 277.0h0M428.1 285.3h0M434.4 281.5h0M455.4 252.1h0M445.2 232.8h0M478.5 252.2h0M452.3 299.3h0M425.1 241.1h0M442.7 221.6h0M420.0 244.1h0M459.6 264.8h0M471.3 221.5h0M438.8 262.7h0M439.0 230.9h0M440.4 265.1h0M433.3 269.0h0M447.0 273.7h0M415.8 259.6h0"/>
<path stroke="#7b183c" stroke-width="1.9" stroke-linecap="round" d="M459.0 262.5h0M436.6 267.9h0M455.3 253.9h0M419.0 278.1h0M424.6 262.7h0M434.2 278.2h0M414.7 295.8h0M422.4 250.8h0M427.5 248.2h0M484.4 272.5h0M439.3 280.5h0M455.3 259.1h0M470.5 250.2h0M452.0 263.4h0M470.2 279.2h0M425.7 249.6h0M413.6 277.4h0M488.6 295.2h0M472.4 254.9h0M405.1 300.9h0M430.7 280.6h0M444.6 274.7h0M464.5 237.2h0M461.5 244.0h0M445.3 256.1h0M435.0 254.1h0M425.1 233.2h0M439.2 251.9h0M422.0 272.8h0M406.3 278.3h0M476.1 214.2h0M407.7 214.8h0M478.3 251.1h0M433.6 265.1h0M426.5 234.2h0M431.2 272.0h0M433.5 236.5h0M458.1 251.6h0M444.4 228.6h0M464.7 243.2h0M460.2 266.1h0M432.4 259.4h0M459.3 218.0h0M462.5 252.3h0M420.9 265.4h0M415.5 291.9h0M455.8 234.3h0M433.3 261.5h0M403.1 270.7h0M440.7 233.3h0M434.7 229.0h0M423.4 290.9h0M445.7 267.7h0"/>
<path stroke="#181881" stroke-width="1.5" stroke-linecap="round" d="M490.7 281.9h0M463.2 223.4h0M420.3 239.7h0M406.8 235.2h0M443.8 238.8h0M468.0 241.1h0M482.3 286.4h0M401.8 291.3h0M474.1 264.6h0M490.9 268.0h0M453.6 235.2h0M487.8 278.6h0M409.3 214.3h0M428.9 233.1h0M418.3 246.8h0M465.3 221.2h0M477.7 225.5h0M437.2 242.8h0M487.5 257.8h0M402.6 221.2h0M428.8 214.5h0M442.1 291.2h0M480.4 257.2h0M473.1 261.1h0M401.4 245.8h0M456.9 300.7h0M421.1 282.7h0M434.7 225.8h0M464.9 296.6h0M467.8 262.0h0M447.1 237.2h0M469.4 289.3h0M433.4 257.7h0M460.2 265.1h0M482.7 268.6h0M461.3 229.3h0M448.5 243.4h0M441.4 283.5h0M471.6 252.9h0M448.9 243.0h0M456.1 297.9h0M468.6 274.4h0M412.0 289.3h0M488.4 236.3h0M477.1 214.1h0M434.5 253.0h0M402.7 268.1h0M450.4 242.8h0M438.3 215.0h0M442.6 214.5h0M450.7 238.3h0M423.6 226.7h0M491.8 232.3h0M457.2 258.4h0M401.1 245.3h0M431.0 222.5h0M444.0 294.2h0M470.8 291.2h0M408.6 270.2h0M474.2 234.7h0M442.3 219.7h0M453.5 216.4h0M406.4 290.7h0M400.3 248.1h0M472.4 235.5h0M460.2 211.5h0M476.4 276.0h0M439.6 271.6h0M407.4 278.5h0M398.7 281.9h0M439.7 289.2h0M453.1 261.3h0M407.5 213.6h0M412.3 233.1h0M436.1 270.9h0M454.2 285.9h0M458.8 212.2h0M448.6 226.2h0M488.0 231.2h0M451.6 229.6h0M426.1 264.6h0M433.6 226.5h0M475.3 243.2h0M421.4 267.9h0M482.8 292.8h0M425.5 278.1h0M438.7 272.0h0M466.6 288.0h0M417.3 289.9h0M426.1 211.1h0M441.7 263.7h0M415.8 210.4h0M486.9 287.1h0M440.9 235.4h0M408.4 274.8h0M451.0 286.3h0M446.7 271.6h0M440.0 254.6h0M452.5 285.9h0M461.2 280.8h0M451.1 253.5h0M448.9 224.9h0M449.3 290.2h0M461.5 261.1h0M455.2 258.4h0M480.6 214.9h0M410.3 278.2h0M437.2 243.5h0M481.0 295.0h0M452.0 283.3h0M489.6 280.5h0M425.9 266.0h0M465.9 268.3h0M450.7 251.3h0M462.5 220.4h0M484.8 280.1h0M457.8 277.2h0M446.2 296.9h0M414.3 225.8h0M434.5 240.5h0M401.5 266.2h0M447.3 291.5h0M419.3 264.3h0M402.1 235.1h0M473.2 287.1h0M438.7 278.9h0M449.4 233.5h0M449.2 238.2h0M472.4 262.2h0M458.1 227.7h0M404.6 282.8h0M452.2 227.0h0M487.2 294.9h0M403.0 275.4h0M404.6 248.4h0M477.1 269.5h0M413.5 255.7h0M403.9 274.1h0M405.9 281.9h0M483.4 295.6h0M476.7 222.6h0M430.2 221.3h0M452.0 228.6h0M421.2 223.1h0M399.7 217.8h0M405.6 212.1h0M463.1 257.4h0M489.9 273.3h0M407.5 222.3h0M421.1 233.1h0M455.8 288.9h0M399.5 218.1h0M433.9 281.5h0M400.3 210.0h0M402.8 241.4h0M464.8 249.4h0M431.5 272.4h0M408.0 299.0h0M489.6 252.7h0M482.8 267.4h0M462.4 288.3h0M435.5 241.6h0M481.0 208.9h0M470.0 265.8h0M410.6 234.1h0M481.0 286.6h0M405.0 252.8h0M447.4 290.0h0M462.3 262.2h0M454.7 243.1h0M399.6 243.8h0M418.8 291.1h0M408.8 252.8h0M461.9 290.7h0M448.9 296.0h0M471.5 274.5h0M418.2 296.0h0M409.3 235.4h0M406.0 235.6h0M429.4 210.2h0M425.0 271.8h0M433.2 249.2h0M473.5 244.3h0M437.5 212.6h0M480.2 268.6h0M487.2 230.6h0M481.7 299.2h0M400.0 226.8h0M443.2 291.6h0M443.6 259.1h0M490.4 243.5h0M468.8 240.9h0M491.6 295.1h0M450.8 248.0h0M430.6 214.4h0M482.8 283.5h0M410.5 276.7h0M466.0 286.0h0M474.2 220.1h0M400.0 261.8h0M469.6 287.2h0M448.2 238.7h0M455.2 241.4h0M421.3 248.7h0M463.9 277.9h0M468.6 252.4h0M459.6 264.8h0M434.9 279.3h0M433.4 223.4h0M464.4 282.2h0M417.1 227.8h0M463.2 300.8h0M425.0 274.9h0M416.1 251.4h0M473.8 215.0h0M445.0 233.9h0M490.8 226.0h0M405.4 224.5h0M412.1 252.5h0M486.4 247.2h0M404.9 285.2h0M409.9 250.6h0M464.6 219.0h0M471.4 240.3h0M429.6 269.4h0M478.0 263.7h0M446.1 236.1h0M489.7 258.9h0M442.7 275.7h0M464.9 279.8h0M443.6 215.7h0M398.5 272.0h0M450.3 282.5h0M456.2 223.2h0M409.6 217.7h0M463.2 228.3h0M464.2 244.1h0M412.5 300.3h0M452.1 281.5h0M407.8 292.6h0M464.2 240.3h0M465.6 213.4h0M471.2 274.7h0M415.4 214.3h0M443.3 221.4h0M475.8 299.5h0M485.1 259.8h0M477.7 223.0h0M446.4 222.7h0M481.1 243.2h0M411.0 283.5h0M438.1 295.7h0M419.2 212.1h0M481.9 221.9h0M477.5 250.8h0M477.3 232.1h0M466.2 222.4h0M407.4 226.7h0M408.4 263.7h0M473.5 254.1h0M447.8 266.4h0M409.3 215.8h0M491.7 220.1h0M441.9 211.1h0M472.7 250.1h0M411.7 244.3h0M487.6 256.3h0M470.0 233.3h0M468.5 288.1h0M443.7 292.9h0M471.8 253.7h0M436.8 236.9h0M436.8 238.4h0M447.9 262.0h0M480.3 262.6h0M399.2 233.0h0M485.3 214.4h0M482.1 253.2h0M488.6 300.6h0M446.3 218.1h0M411.5 266.5h0M477.1 259.9h0M451.1 288.5h0M449.0 271.6h0M438.2 215.3h0M489.4 253.8h0M456.3 239.4h0M444.0 280.3h0M437.1 256.3h0M422.2 233.0h0M485.1 253.4h0M427.7 266.7h0M462.8 274.3h0M401.2 279.8h0M407.7 284.2h0M413.8 218.1h0"/>
<path stroke="#2d2deb" stroke-width="1.5" stroke-linecap="round" d="M484.2 263.9h0M402.8 245.8h0M462.9 295.4h0M466.8 262.9h0M441.4 224.0h0M436.7 240.6h0M448.7 218.3h0M422.5 233.7h0M479.0 268.0h0M480.7 244.9h0M451.6 264.8h0M418.9 216.8h0M442.2 267.7h0M427.3 298.7h0M399.3 276.9h0M443.8 267.4h0M407.8 234.1h0M407.7 292.7h0M489.3 245.3h0M465.7 237.6h0M452.5 211.4h0M461.9 236.2h0M415.3 263.7h0M482.0 211.0h0M481.7 259.5h0M404.5 224.5h0M461.1 253.2h0M469.9 216.8h0M461.0 255.6h0M412.9 247.9h0M404.9 259.4h0M410.7 301.1h0M403.4 277.8h0M466.0 238.9h0M431.7 259.3h0M401.7 295.4h0M481.1 250.2h0M470.0 279.3h0M472.4 246.8h0M463.8 209.9h0M406.4 287.3h0M488.5 211.0h0M422.3 265.7h0M442.8 238.9h0M438.7 258.6h0M415.8 230.5h0M422.8 249.0h0M406.8 209.9h0M478.8 253.4h0M456.9 267.0h0M414.4 255.7h0M409.5 291.1h0M430.6 289.4h0M474.1 264.6h0M462.0 263.8h0M452.9 264.4h0M438.2 301.3h0M481.8 248.5h0M480.3 211.5h0M479.0 239.2h0M478.4 281.0h0M448.6 294.9h0M400.8 268.9h0M484.5 255.2h0M454.5 256.0h0M406.8 281.2h0M463.1 281.6h0M420.1 282.7h0M453.3 228.0h0M447.4 255.5h0M457.1 254.8h0M409.2 254.4h0M453.5 285.3h0M491.5 249.9h0M473.5 283.1h0M465.3 269.6h0M491.6 271.5h0M487.5 268.8h0M425.0 263.1h0M447.5 291.0h0M463.3 231.3h0M428.8 294.9h0M445.0 221.3h0M403.8 215.4h0M463.2 299.6h0M472.0 292.5h0M476.9 301.4h0M477.9 263.6h0M401.9 212.5h0M490.0 247.3h0M457.4 237.9h0M411.6 209.5h0M483.7 289.3h0M443.1 219.1h0M414.1 226.6h0M403.2 268.9h0M432.2 215.1h0M424.4 220.5h0M464.7 230.4h0M411.4 293.3h0M410.7 217.8h0M473.0 259.3h0M427.6 220.7h0M477.4 257.1h0M414.5 282.0h0M418.1 249.9h0M461.4 286.1h0M407.6 245.2h0M451.6 226.3h0M457.4 250.1h0M417.1 259.6h0M435.3 217.3h0M469.5 222.3h0M479.6 252.9h0M409.3 276.1h0M477.5 271.1h0M409.3 223.2h0M471.5 246.6h0M409.9 299.8h0M429.4 257.0h0M410.6 241.9h0M462.7 250.9h0M430.3 285.0h0M448.0 258.5h0M460.1 271.9h0M399.2 213.8h0M439.5 220.3h0M420.6 210.0h0M490.9 214.3h0M401.0 214.0h0M402.1 259.5h0M427.9 289.1h0M427.6 265.9h0M491.0 291.3h0M445.6 231.8h0M426.9 215.6h0M433.9 220.3h0M398.6 253.2h0M461.8 277.6h0M440.1 291.6h0M448.3 249.4h0M470.6 234.4h0M489.4 295.8h0M473.8 224.1h0M413.3 231.0h0M439.8 295.2h0M430.6 291.5h0M440.9 234.9h0M435.8 244.7h0M409.8 239.8h0M401.5 225.5h0M408.3 280.9h0M477.8 267.0h0M466.6 220.4h0M410.2 279.7h0M408.3 286.8h0M462.6 235.4h0M484.5 280.1h0M464.3 268.5h0M408.8 224.6h0M420.9 251.6h0M472.7 210.3h0M414.0 270.9h0M479.9 266.2h0M415.0 223.2h0M480.2 299.9h0M426.3 294.3h0M426.4 230.7h0M464.5 281.1h0M425.6 219.5h0M464.5 242.2h0M465.0 293.7h0M482.8 270.2h0M450.8 297.8h0M460.9 296.3h0M416.4 225.2h0M432.5 218.0h0M464.4 271.1h0M457.4 243.2h0M426.2 216.2h0M461.5 276.0h0M408.6 225.6h0M433.4 287.4h0M453.0 228.0h0M479.1 281.0h0M403.7 221.2h0M418.7 275.1h0M480.5 300.5h0M489.5 282.7h0M476.3 253.8h0M452.4 267.5h0M437.7 274.6h0M442.4 300.0h0M447.9 224.5h0M399.8 233.0h0M416.6 282.4h0M464.7 210.4h0M406.7 287.2h0M401.7 271.6h0M415.3 274.4h0M422.7 233.3h0M436.5 234.1h0M402.6 296.6h0M411.4 285.7h0M407.4 268.3h0M489.4 239.9h0M455.5 261.5h0M454.4 282.3h0M427.4 215.3h0M408.1 289.9h0M473.9 247.4h0M429.2 283.3h0M430.6 211.1h0M445.4 217.3h0M402.7 226.6h0M460.4 224.6h0M419.2 278.4h0M472.0 263.3h0M468.1 223.7h0M460.9 292.3h0M440.8 290.9h0M410.2 253.4h0M455.8 217.8h0M459.6 218.7h0M406.4 291.9h0M417.3 213.3h0M399.0 259.8h0M407.0 272.8h0M474.4 258.8h0M471.8 255.4h0M399.1 267.7h0M420.0 220.8h0M491.3 292.5h0M401.2 281.9h0M463.7 277.8h0M467.8 267.6h0M401.1 229.9h0M410.3 234.8h0M471.8 235.4h0M404.7 250.2h0M480.6 211.5h0M462.4 256.0h0M411.6 215.1h0M460.6 230.1h0M408.8 275.7h0M455.3 276.2h0M431.2 291.1h0M430.8 260.4h0M427.3 285.4h0M485.8 243.5h0M483.3 265.2h0M401.2 285.0h0M463.8 286.3h0M423.2 275.5h0M476.7 220.7h0M410.7 212.9h0M458.0 256.9h0M445.3 238.8h0M461.7 297.7h0M418.0 261.9h0M488.6 243.9h0M427.1 247.2h0M484.2 219.9h0M448.4 222.7h0M449.2 274.7h0M487.6 233.8h0M485.0 229.4h0M467.4 218.7h0M454.3 298.5h0M446.1 218.5h0M403.3 257.6h0M431.1 229.1h0M471.4 282.3h0M465.3 245.3h0M406.2 253.0h0M414.4 287.2h0M431.9 272.3h0M439.0 233.4h0M488.9 229.5h0M453.1 275.7h0M416.4 213.9h0M461.9 270.8h0M399.6 265.4h0M413.2 281.2h0M413.5 233.3h0M406.4 239.2h0M446.7 264.1h0M457.2 244.8h0M420.2 300.3h0M428.8 214.7h0M442.5 290.6h0M470.6 228.5h0M472.0 239.2h0M479.8 267.7h0M488.3 276.2h0M427.7 280.4h0M421.9 231.6h0M468.4 296.6h0"/>
<path stroke="#b42458" stroke-width="1.1" stroke-linecap="round" d="M423.7 241.0h0M458.5 265.6h0M465.7 240.2h0M423.1 260.6h0M449.1 232.5h0M452.1 228.8h0M436.6 292.8h0M462.1 266.4h0M418.5 261.0h0M440.4 232.8h0M428.5 245.2h0M424.9 245.8h0M460.2 262.8h0M416.1 276.5h0M466.6 256.6h0M418.6 247.9h0M420.1 263.8h0M441.5 228.6h0M443.4 266.4h0M444.6 244.8h0M469.9 223.7h0M455.6 268.1h0M453.2 251.9h0M427.9 209.8h0M423.5 244.0h0M420.5 252.1h0M424.4 263.0h0M449.7 243.8h0M457.3 249.2h0M441.4 224.1h0M430.3 283.7h0M420.4 266.5h0M418.1 290.7h0M422.3 241.6h0M429.6 239.5h0M449.6 210.1h0M445.4 242.9h0"/>
<path stroke="#2d2deb" stroke-width="1.1" stroke-linecap="round" d="M431.0 298.6h0M430.2 292.7h0M478.9 227.6h0M477.1 282.1h0M473.9 228.5h0M488.0 225.6h0M419.0 278.8h0M410.5 242.3h0M417.3 236.7h0M468.4 212.5h0M464.7 233.8h0M483.0 225.0h0M482.0 250.0h0M400.8 252.2h0M409.1 216.6h0M452.3 272.1h0M459.3 215.0h0M450.6 274.9h0M419.6 259.7h0M429.4 228.6h0M440.1 218.5h0M414.9 296.5h0M414.5 209.0h0M460.3 237.3h0M399.3 300.9h0M474.9 274.7h0M441.5 228.3h0M480.1 299.3h0M401.4 226.2h0M457.7 217.5h0M452.2 239.7h0M483.1 252.9h0M468.5 247.4h0M440.8 271.9h0M448.7 257.8h0M431.3 217.4h0M454.1 208.8h0M435.1 235.8h0M434.4 278.2h0M457.7 255.5h0M447.3 242.5h0M408.1 281.1h0M476.4 217.2h0M410.8 266.5h0M471.4 229.1h0M401.9 274.3h0M467.4 266.8h0M404.7 244.9h0M488.7 264.6h0M479.4 243.7h0M447.7 217.6h0M459.6 215.6h0M477.6 243.3h0M432.6 217.7h0M482.1 271.5h0M469.6 210.8h0M422.7 211.8h0M463.1 249.1h0M442.9 280.3h0M423.6 222.2h0M468.9 216.0h0M454.1 287.8h0M421.5 263.4h0M486.6 224.6h0M487.4 225.2h0M403.5 286.3h0M467.3 232.9h0M476.4 280.8h0M459.9 216.2h0M479.6 267.3h0M453.1 241.1h0M483.6 268.8h0M460.5 294.7h0M488.2 265.0h0M405.1 258.0h0M458.3 264.5h0M399.3 231.5h0M409.6 275.0h0M484.5 236.6h0M455.6 266.2h0M460.7 276.2h0M428.7 216.0h0M491.8 232.9h0M484.9 287.1h0M470.5 278.8h0M487.0 240.4h0M417.4 299.5h0M490.9 225.8h0M479.0 259.2h0M440.7 286.9h0M477.3 230.6h0M412.1 233.8h0M466.3 271.2h0M421.7 301.4h0M481.2 229.7h0M486.0 241.3h0M457.1 252.5h0M450.3 220.5h0M418.1 299.0h0M419.0 211.6h0M482.0 283.3h0M484.2 290.0h0M427.9 288.9h0M411.7 251.6h0M427.5 212.8h0M431.0 292.6h0M420.4 269.2h0M472.2 255.4h0M472.3 222.7h0M449.2 272.2h0M429.1 257.8h0M482.0 267.1h0M429.0 287.7h0M488.0 212.6h0M448.7 298.8h0M414.6 269.9h0M423.6 233.8h0M446.1 210.6h0M441.0 287.7h0M418.2 209.5h0M469.3 217.0h0M420.2 234.4h0M424.2 245.1h0M414.4 296.3h0M470.9 263.6h0M436.8 268.8h0M402.4 222.3h0M485.2 234.8h0M467.8 279.5h0M446.2 270.4h0M464.5 273.2h0M469.2 253.3h0M401.7 275.0h0M399.4 210.3h0M428.8 210.4h0M421.4 245.3h0M434.2 238.1h0M456.0 269.2h0M473.5 294.0h0M461.1 239.3h0M404.2 230.2h0M431.7 237.9h0M422.1 294.5h0M422.5 294.1h0M478.2 273.7h0M452.8 283.4h0M459.3 278.2h0M456.9 297.1h0M454.6 296.7h0M468.2 274.6h0M484.0 221.8h0M482.9 283.1h0M403.1 209.7h0M403.7 222.7h0M484.8 268.5h0M489.6 238.9h0M427.9 237.0h0M455.8 279.7h0M420.8 278.2h0M470.7 251.7h0M472.4 213.5h0M454.2 271.9h0M411.3 270.4h0M470.8 269.8h0M421.9 236.0h0M478.1 251.6h0M420.6 209.4h0M415.5 300.2h0M448.2 217.0h0M488.8 276.3h0M412.3 233.7h0M483.9 287.9h0M439.7 220.2h0M453.2 250.1h0M404.5 265.2h0M426.7 259.5h0M455.1 225.9h0M468.1 279.9h0M429.7 283.2h0M415.1 248.9h0M465.7 210.0h0M436.9 267.3h0M472.5 228.2h0M487.2 271.0h0M453.5 220.4h0M437.0 214.9h0M402.7 228.5h0M469.9 287.1h0M482.1 290.0h0M436.6 294.6h0M442.0 228.8h0M464.7 210.2h0M466.1 225.5h0M472.6 244.6h0M425.6 265.7h0M467.2 267.4h0M411.8 220.2h0M410.3 289.8h0M462.4 218.1h0M454.0 230.2h0M415.8 218.2h0M448.9 266.3h0M481.7 286.5h0M440.3 281.8h0M455.0 229.8h0M484.2 276.4h0M406.2 275.3h0M464.4 300.2h0M421.1 241.8h0M449.0 291.9h0M454.7 234.0h0M444.2 294.5h0M406.8 244.0h0M483.9 237.2h0M466.4 209.2h0M474.0 265.6h0M492.0 299.5h0M477.9 284.5h0M469.2 276.4h0M475.4 291.9h0M443.3 213.8h0M475.3 243.7h0M448.2 299.3h0M477.2 289.8h0M488.9 300.1h0M445.2 255.9h0M435.0 239.6h0M447.5 295.4h0M448.9 240.3h0M428.5 282.4h0M423.9 269.9h0M419.0 266.5h0M443.3 273.0h0M430.0 270.6h0M481.2 299.9h0M400.8 264.5h0M418.1 209.5h0M470.8 244.6h0M467.2 296.8h0M418.7 263.6h0M416.0 236.6h0M406.7 281.8h0M408.6 224.1h0M447.2 262.6h0M441.2 280.7h0M404.2 279.2h0M482.8 251.6h0M413.4 216.9h0M438.5 259.6h0M477.7 279.1h0M434.8 300.0h0M482.0 225.6h0M429.5 221.5h0M439.9 261.2h0M411.1 239.6h0M399.8 232.6h0M440.0 279.6h0"/>
<path stroke="#2424bc" stroke-width="1.5" stroke-linecap="round" d="M408.6 267.2h0M429.8 289.5h0M483.7 294.9h0M483.5 238.8h0M404.3 250.7h0M401.2 287.2h0M420.9 262.4h0M402.6 294.3h0M458.3 238.6h0M484.3 278.6h0M468.6 214.2h0M468.0 247.0h0M455.4 224.2h0M480.9 217.6h0M469.9 209.8h0M420.1 224.2h0M412.8 283.4h0M484.6 223.5h0M466.6 281.7h0M457.0 234.3h0M458.9 247.5h0M447.3 226.4h0M423.5 219.3h0M480.9 299.2h0M438.7 274.1h0M444.6 282.4h0M429.5 211.9h0M467.3 234.7h0M413.1 218.8h0M470.0 261.0h0M447.0 286.1h0M484.4 270.7h0M445.8 299.4h0M403.6 259.1h0M442.9 274.5h0M470.0 233.3h0M475.5 298.9h0M458.8 295.3h0M463.9 225.2h0M408.7 237.2h0M401.0 212.3h0M421.2 258.3h0M475.8 265.6h0M464.2 247.3h0M398.8 225.1h0M483.3 265.8h0M449.8 232.9h0M411.1 227.8h0M435.6 301.0h0M429.2 290.7h0M444.8 293.1h0M461.4 214.2h0M488.2 297.5h0M441.9 276.7h0M414.5 237.5h0M483.3 210.3h0M445.5 292.9h0M414.7 252.6h0M487.1 222.6h0M413.7 227.9h0M431.0 298.7h0M411.6 260.6h0M412.4 238.8h0M452.7 241.0h0M438.9 265.8h0M413.3 248.0h0M488.9 254.5h0M485.3 263.9h0M420.4 249.4h0M399.2 283.9h0M479.4 233.3h0M399.1 269.3h0M452.1 242.1h0M426.4 242.0h0M458.4 218.6h0M446.3 272.3h0M439.2 268.8h0M425.3 256.9h0M466.6 220.5h0M491.2 300.4h0M455.3 292.9h0M415.1 226.0h0M466.9 297.2h0M484.2 247.5h0M452.7 265.2h0M436.6 296.8h0M417.9 273.6h0M429.6 216.0h0M487.6 222.8h0M462.8 287.0h0M439.0 263.2h0M488.0 225.6h0M405.7 234.3h0M459.9 252.0h0M435.5 215.2h0M421.2 248.3h0M462.3 293.6h0M483.8 284.2h0M405.2 254.7h0M469.2 233.0h0M427.2 281.8h0M414.4 214.7h0M484.0 245.3h0M441.9 265.7h0M455.9 286.7h0M454.5 241.2h0M474.3 271.3h0M459.6 283.0h0M406.7 248.7h0M435.0 282.6h0M457.3 232.8h0M472.5 217.6h0M466.3 236.6h0M433.4 237.8h0M400.6 211.3h0M406.4 246.8h0M473.9 277.3h0M413.0 245.3h0M457.0 263.6h0M479.3 274.0h0M465.8 244.0h0M441.7 297.6h0M477.6 266.2h0M415.0 298.1h0M458.0 251.9h0M462.1 218.9h0M451.1 301.3h0M470.1 223.0h0M420.3 251.7h0M458.6 229.8h0M398.8 239.0h0M482.7 252.1h0M491.6 209.1h0M458.7 270.5h0M444.2 233.4h0M439.7 298.8h0M425.3 242.8h0M401.1 295.2h0M436.1 254.9h0M432.4 227.3h0M438.1 230.6h0M489.5 277.3h0M400.2 256.6h0M490.9 290.6h0M411.0 278.2h0M478.1 222.4h0M463.9 270.0h0M410.2 288.9h0M414.8 258.4h0M442.1 254.5h0M453.1 288.4h0M458.4 294.7h0M491.1 241.4h0M438.4 213.0h0M477.1 257.7h0M428.8 280.3h0M411.7 233.7h0M429.3 242.3h0M441.1 280.9h0M428.0 233.4h0M464.9 281.5h0M490.0 223.1h0M475.2 234.5h0M487.1 265.9h0M483.4 281.0h0M470.5 292.9h0M449.3 293.2h0M437.6 297.9h0M421.1 243.7h0M466.6 226.1h0M462.9 275.5h0M408.0 299.8h0M442.5 293.0h0M413.8 274.6h0M422.5 232.1h0M457.6 256.5h0M409.3 210.0h0M403.7 264.6h0M437.5 295.6h0M407.3 237.1h0M452.5 272.7h0M472.4 292.1h0M434.4 269.6h0M486.7 222.9h0M486.8 264.8h0M481.9 217.9h0M463.5 296.5h0M400.8 259.0h0M407.6 289.3h0M432.3 283.2h0M446.1 282.2h0M442.9 282.2h0M417.9 275.7h0M467.8 265.4h0M423.5 251.8h0M401.2 262.2h0M410.6 222.6h0M470.6 222.0h0M486.0 248.6h0M488.8 283.2h0M412.2 265.1h0M406.0 290.4h0M483.0 278.2h0M455.3 296.1h0M477.6 287.6h0M464.5 211.8h0M453.5 224.6h0M478.8 288.3h0M482.1 210.8h0M473.1 279.7h0M448.5 265.7h0M457.1 277.7h0M410.3 290.0h0M442.6 295.0h0M482.6 296.9h0M476.5 277.4h0M449.1 228.5h0M466.3 292.2h0M468.0 254.1h0M474.6 241.1h0M398.6 271.4h0M439.3 209.9h0M433.7 242.4h0M451.4 222.5h0M426.4 231.4h0M484.6 213.8h0M451.8 270.7h0M458.3 237.7h0M406.0 277.9h0M458.0 287.2h0M458.3 286.0h0M399.9 221.8h0M433.5 212.7h0M405.6 217.1h0M483.6 231.1h0M477.6 275.8h0M426.5 219.0h0M419.0 277.9h0M490.0 285.1h0M454.6 298.7h0M419.8 256.1h0M441.2 229.0h0M436.6 243.3h0M485.5 227.5h0M401.0 239.0h0M456.2 299.5h0M433.5 267.2h0M402.9 298.1h0M407.6 229.1h0M430.3 245.1h0M478.5 286.8h0M443.4 293.4h0M447.1 245.3h0M490.0 255.7h0M414.1 260.5h0M488.2 221.0h0M456.5 266.0h0M456.3 247.0h0M456.2 287.4h0M417.5 244.9h0M452.1 298.3h0M470.1 295.4h0M430.8 227.6h0M448.6 295.4h0M454.8 293.5h0M461.9 280.8h0M432.2 220.4h0M467.8 227.4h0M430.4 243.0h0"/>
<path stroke="#e12d6e" stroke-width="1.9" stroke-linecap="round" d="M443.6 265.6h0M461.9 254.9h0M486.1 215.6h0M402.6 244.6h0M432.5 271.4h0M457.0 227.7h0M472.1 251.8h0M455.0 292.7h0M441.9 275.1h0M417.7 261.8h0M422.1 246.9h0M429.4 242.0h0M431.0 287.4h0M459.7 266.5h0M440.6 238.8h0M453.7 241.2h0M462.1 246.8h0M438.2 223.7h0M438.3 241.3h0M471.5 210.6h0M427.8 277.5h0M467.4 243.7h0M421.7 259.2h0M465.2 243.3h0M443.4 263.3h0M456.7 249.1h0M424.9 232.9h0M424.6 262.6h0M411.0 251.8h0M432.6 288.6h0M429.0 245.1h0M450.3 263.3h0M464.0 263.5h0M465.6 253.0h0M445.1 236.6h0M429.6 288.9h0M414.0 220.5h0M417.4 268.5h0M413.0 263.9h0M456.7 275.5h0M448.1 251.2h0M428.9 263.1h0M453.6 245.5h0"/>
<path stroke="#b42458" stroke-width="1.5" stroke-linecap="round" d="M419.4 258.9h0M465.4 265.4h0M452.8 240.1h0M432.4 253.6h0M438.9 255.9h0M420.9 257.2h0M440.8 243.9h0M476.1 254.8h0M479.1 224.9h0M426.1 275.1h0M425.8 281.7h0M427.5 226.0h0M413.5 234.0h0M429.3 234.7h0M421.2 282.8h0M429.1 243.4h0M449.8 276.9h0M456.6 240.1h0M449.7 224.6h0M410.9 263.2h0M458.3 246.3h0M448.1 257.0h0M429.7 264.7h0M414.3 217.5h0M458.9 241.0h0M420.1 266.6h0M477.4 223.5h0M490.8 251.2h0M429.3 258.8h0M420.3 259.2h0M438.3 281.6h0M458.2 252.3h0M435.6 229.0h0M436.7 236.2h0M399.2 235.6h0M441.3 272.1h0M432.4 272.2h0M455.8 272.7h0M465.9 241.0h0M446.2 233.5h0M416.3 219.9h0M464.3 244.3h0M426.4 251.2h0M412.5 267.9h0M474.6 246.9h0"/>
<path stroke="#e12d6e" stroke-width="1.5" stroke-linecap="round" d="M451.8 259.7h0M439.0 256.4h0M436.3 276.7h0M458.4 213.7h0M420.9 271.4h0M482.5 268.8h0M415.6 265.1h0M424.9 242.9h0M417.7 261.1h0M425.2 226.8h0M456.0 268.3h0M471.1 222.7h0M459.7 239.7h0M464.4 244.4h0M434.4 222.5h0M409.3 226.6h0M447.8 227.3h0M476.5 242.9h0M417.0 271.2h0M423.5 243.8h0M472.0 251.2h0M422.0 280.2h0M470.8 272.1h0M473.6 253.8h0M431.0 274.5h0M420.5 270.5h0M426.3 270.7h0M429.5 267.4h0M412.2 262.6h0M432.4 235.8h0M431.1 248.2h0M405.5 247.5h0M468.1 278.7h0M427.9 281.0h0M424.6 261.6h0M443.0 253.4h0M458.7 243.5h0M438.9 271.6h0M439.5 297.2h0M462.6 245.5h0M454.4 258.9h0M427.4 241.2h0M427.2 253.2h0M443.2 258.2h0M469.4 227.6h0M407.5 292.1h0M448.0 300.2h0M473.0 276.6h0M426.1 270.1h0M435.4 252.9h0M450.2 245.0h0M420.3 269.4h0M398.7 227.4h0M450.0 240.7h0M430.8 283.3h0M475.2 258.5h0M482.2 254.3h0M414.0 259.9h0M435.1 286.4h0M454.0 276.3h0"/>
<path stroke="#e12d6e" stroke-width="1.1" stroke-linecap="round" d="M448.1 275.7h0M434.8 263.4h0M471.4 225.8h0M416.9 270.2h0M412.2 261.6h0M422.3 243.0h0M463.1 293.7h0M413.5 247.8h0M426.3 285.8h0M486.1 281.5h0M430.6 247.1h0M422.3 262.2h0M413.2 273.7h0M450.9 267.6h0M437.2 225.0h0M401.9 215.1h0M430.8 226.2h0M445.3 225.5h0M424.0 234.4h0M461.6 235.7h0M427.7 285.2h0M462.5 262.5h0M424.9 268.0h0M444.0 227.3h0M467.3 241.8h0M446.0 271.7h0M438.5 232.8h0M440.5 273.8h0M445.9 244.7h0M465.2 246.7h0M464.6 277.7h0M442.8 238.5h0M412.6 249.6h0M452.5 255.6h0M399.1 232.7h0M438.6 251.4h0M439.5 273.7h0M456.4 235.2h0M484.6 212.6h0M431.3 255.0h0M470.2 221.8h0M436.2 231.1h0M419.3 280.3h0M475.4 229.1h0M447.5 277.8h0M437.7 219.0h0M454.9 300.6h0M447.6 278.2h0"/>
<path stroke="#b42458" stroke-width="1.9" stroke-linecap="round" d="M412.1 254.5h0M470.2 226.7h0M449.2 232.2h0M421.6 259.1h0M454.9 220.9h0M454.3 235.7h0M429.0 257.7h0M433.1 252.9h0M422.3 264.6h0M424.4 234.2h0M423.8 260.1h0M417.2 244.2h0M452.6 246.1h0M422.6 248.3h0M451.9 275.3h0M429.0 287.8h0M459.6 244.1h0M426.0 260.4h0M430.6 240.9h0M410.6 275.5h0M401.5 282.6h0M419.3 248.8h0M444.8 245.4h0M430.9 289.0h0M462.6 248.1h0M481.5 257.4h0M476.7 229.9h0M453.1 240.3h0M443.5 276.3h0M459.6 258.1h0M450.0 243.2h0M491.9 223.1h0M403.9 245.9h0M437.4 221.8h0M458.6 256.3h0M435.8 228.5h0M478.8 222.1h0M423.3 235.8h0M420.5 278.2h0M485.5 216.1h0"/>
<rect x="466.20" y="295.40" width="19.30" height="1.90" fill="#fff" stroke="none" stroke-width="0.7"/>
</g>
<ellipse cx="443.5" cy="254.5" rx="5.5" ry="6" fill="#000" filter="url(#blur1)"/>
<text x="282.60" y="324.00" font-size="12.5" text-anchor="start" fill="#000" font-weight="bold">H</text>
<text x="397.95" y="319.60" font-size="6.3" text-anchor="middle" fill="#8a6a3c" font-weight="normal" stroke="#8a6a3c" stroke-width="0.15" letter-spacing="0.3">EBERs</text>
<text x="349.75" y="422.50" font-size="6.3" text-anchor="middle" fill="#222" font-weight="normal" stroke="#222" stroke-width="0.15" letter-spacing="0.3">Spleen</text>
<text x="446.05" y="422.50" font-size="6.3" text-anchor="middle" fill="#222" font-weight="normal" stroke="#222" stroke-width="0.15" letter-spacing="0.3">Liver</text>
<defs><filter id="blurS" x="-5%" y="-5%" width="110%" height="110%"><feGaussianBlur stdDeviation="0.5"/></filter><filter id="blurI" x="-20%" y="-20%" width="140%" height="140%"><feGaussianBlur stdDeviation="0.9"/></filter></defs>
<clipPath id="ch1"><rect x="303.30" y="321.20" width="92.70" height="93.70"/></clipPath>
<g clip-path="url(#ch1)">
<rect x="303.30" y="321.20" width="92.70" height="93.70" fill="#f5f0f8" stroke="none" stroke-width="0.7"/>
<g filter="url(#blurS)" opacity="0.9">
<path stroke="#b4acdc" stroke-width="1.8" stroke-linecap="round" d="M363.5 405.6l-0.1 -0.5M371.9 353.4l-0.5 0.5M349.0 366.1l0.1 -0.3M347.5 332.6l-0.2 0.3M372.1 403.5l-0.2 0.1M389.9 407.6l-0.4 0.2M359.7 389.3l-0.1 0.2M388.1 364.4l0.3 0.5M330.7 373.2l-0.2 -0.5M376.2 352.1l0.4 0.5M354.6 361.7l-0.5 -0.2M350.9 397.8l-0.1 -0.5M327.6 398.9l0.2 -0.3M362.6 362.2l-0.4 0.5M380.9 325.2l0.3 -0.4M352.5 321.4l-0.4 -0.4M353.6 354.7l0.5 -0.1M329.5 324.6l-0.5 -0.5M324.9 360.0l-0.2 0.3M312.5 370.0l-0.5 -0.3M369.2 323.4l0.6 -0.0M349.9 366.9l0.5 -0.1M324.3 397.9l0.5 -0.6M335.2 368.8l0.2 0.2M384.1 337.1l0.4 -0.4M383.1 352.2l-0.4 0.5M363.2 409.0l-0.4 0.1M370.2 345.5l0.6 0.1M378.4 363.2l-0.4 0.5M355.8 360.5l-0.4 -0.2M365.7 363.4l0.3 0.0M392.6 381.1l-0.4 -0.6M381.8 371.7l-0.5 -0.5M361.6 339.0l-0.1 0.4M373.7 365.0l-0.2 0.4M320.4 396.5l-0.6 -0.3M342.2 408.1l-0.3 -0.1M314.2 377.2l0.3 -0.5M359.6 323.5l-0.4 0.3M314.6 364.0l0.5 -0.4M369.3 381.1l-0.5 -0.3M346.1 382.9l-0.3 0.0M359.2 340.9l0.3 -0.6M333.7 345.9l0.1 0.2M375.4 354.9l0.3 -0.6M322.5 397.1l0.2 0.3M303.4 405.7l0.4 -0.2M395.6 374.3l0.6 -0.2M390.2 358.4l-0.2 -0.5"/>
<path stroke="#9088cc" stroke-width="2.3" stroke-linecap="round" d="M326.4 389.7l-0.4 0.4M342.7 371.9l0.4 0.4M368.7 362.2l0.4 -0.5M346.8 372.9l0.2 -0.6M387.8 387.4l-0.2 -0.5M339.7 341.4l0.1 -0.2M360.6 358.8l-0.1 -0.5M340.1 391.8l-0.0 -0.0M312.9 330.8l-0.2 -0.0M390.7 327.1l0.6 -0.3M343.4 405.4l-0.4 0.3M364.3 367.9l-0.2 0.1M379.4 324.9l0.2 -0.4M328.6 370.5l0.3 -0.3M343.3 396.9l0.2 0.3M324.3 367.3l-0.0 -0.0M393.1 381.8l0.5 0.4M364.3 365.4l0.3 0.4M363.2 331.2l0.5 -0.6M321.2 396.8l-0.2 0.5M392.0 376.6l0.2 -0.5M353.9 361.3l0.5 -0.3M335.1 331.2l0.2 0.0M364.5 356.1l-0.3 -0.2M387.5 412.0l0.3 -0.2M375.6 343.1l0.4 0.2M357.7 363.2l-0.5 0.1M377.7 375.3l0.0 -0.5M316.2 412.6l0.5 0.4M359.9 391.6l0.0 -0.1M372.9 339.6l-0.0 -0.2M343.6 394.2l0.2 -0.2M321.4 335.4l-0.2 -0.4M380.6 389.0l0.3 -0.2M329.0 374.6l-0.3 -0.2M339.5 390.5l0.1 -0.5M391.1 331.9l-0.1 -0.3M356.3 341.3l0.0 0.4M340.4 414.2l0.5 0.2M358.5 344.0l0.1 0.5M391.3 333.0l0.1 -0.2M339.3 408.5l0.3 -0.1M305.9 380.5l-0.4 -0.5M334.0 339.7l0.6 -0.2M350.2 348.3l0.2 -0.5M369.9 351.6l0.2 0.2M323.4 402.3l-0.2 0.4M350.9 379.9l-0.5 0.4M338.1 397.7l0.1 0.5M349.0 393.4l-0.6 0.2M384.9 414.6l0.3 0.1M396.0 381.0l0.1 0.4M365.5 348.5l-0.4 0.6M304.9 375.6l0.4 -0.5"/>
<path stroke="#a39ad4" stroke-width="1.8" stroke-linecap="round" d="M316.2 379.1l-0.3 -0.3M361.1 393.8l-0.4 -0.1M348.7 409.1l0.2 -0.4M369.4 382.6l0.4 0.0M323.2 338.1l-0.4 -0.4M352.7 412.1l0.4 -0.1M352.8 329.7l0.0 0.1M381.2 321.3l-0.2 -0.2M304.5 357.3l-0.6 -0.3M303.7 374.1l0.3 -0.5M385.8 346.0l0.2 -0.5M321.1 403.8l-0.2 0.4M322.1 375.7l0.4 0.6M371.3 325.1l0.5 -0.2M352.0 357.9l-0.2 0.1M341.4 328.7l-0.5 -0.5M362.6 340.1l-0.3 -0.1M392.8 393.8l-0.5 -0.2M307.1 410.4l-0.4 0.3M350.2 354.0l-0.4 -0.4M329.6 394.1l0.1 -0.5M336.6 394.9l-0.4 -0.2M387.7 405.1l0.6 -0.4M381.0 395.8l0.4 0.1M353.2 345.4l0.5 -0.1M306.5 366.8l-0.1 0.1M356.2 376.7l-0.6 0.5M310.7 330.3l0.3 -0.1M394.4 369.2l0.3 0.4M347.3 402.4l0.1 0.1M375.1 390.0l0.5 -0.4M355.8 356.8l0.3 0.2M363.9 330.9l0.0 -0.4M323.8 410.1l0.5 0.3M336.1 340.2l0.4 0.4M390.7 377.5l-0.5 0.5M335.1 339.9l0.3 0.3M358.4 405.7l0.4 -0.0M333.4 347.6l-0.1 -0.1M382.0 381.0l-0.2 0.6M378.0 339.4l-0.3 0.1M314.9 385.6l-0.5 -0.1M305.2 393.6l-0.3 -0.3M344.8 401.6l-0.4 -0.3M315.7 387.9l-0.5 -0.0M306.9 407.3l0.4 0.4M355.7 337.6l0.4 0.2M371.5 379.7l0.1 -0.0"/>
<path stroke="#9088cc" stroke-width="2.8" stroke-linecap="round" d="M394.4 402.9l0.5 0.2M395.4 365.1l-0.3 -0.5M348.4 374.7l-0.6 0.3M383.0 410.1l-0.1 -0.2M333.9 322.4l0.6 -0.3M372.9 343.8l0.4 0.4M332.8 400.9l0.1 0.4M387.3 372.5l-0.4 -0.6M366.6 381.6l0.1 -0.5M327.7 403.3l-0.4 -0.5M370.0 345.3l-0.0 -0.2M306.6 397.9l-0.0 0.1M304.6 322.5l0.3 -0.1M385.8 331.9l0.1 0.2M387.6 377.8l0.4 0.2M334.2 336.1l0.5 -0.4M316.8 398.3l0.3 0.1M368.1 358.2l0.3 0.1M392.0 385.2l0.5 -0.3M383.5 335.9l0.4 0.0M386.8 338.2l-0.6 0.4M371.0 336.9l-0.3 -0.5M365.4 328.8l0.2 0.5M350.1 333.6l-0.2 0.1M340.7 375.1l-0.5 0.0M304.9 396.5l0.0 0.3M316.4 370.9l0.5 0.3M334.1 373.1l0.4 0.3M375.7 353.6l-0.5 -0.5M373.1 378.6l-0.5 0.4M367.7 352.3l-0.0 0.5M323.5 406.6l0.1 0.4M386.4 391.1l-0.0 0.3M312.7 334.0l-0.3 -0.2M383.5 375.9l0.4 -0.6M340.7 400.3l-0.5 -0.2M321.5 383.7l-0.2 0.6M332.6 400.7l0.4 -0.5"/>
<path stroke="#b4acdc" stroke-width="2.3" stroke-linecap="round" d="M320.1 412.0l-0.6 -0.1M361.7 395.0l-0.4 0.4M337.0 387.2l0.3 0.2M341.2 407.6l0.5 0.0M352.4 336.8l0.2 0.3M361.9 366.4l-0.1 0.4M359.5 380.3l-0.5 -0.2M384.7 389.4l0.0 0.5M323.4 360.7l-0.3 0.2M385.4 339.6l0.1 -0.4M357.4 376.9l0.4 0.1M334.2 403.4l-0.1 0.6M318.2 380.5l0.4 0.2M330.4 361.7l-0.2 0.2M352.2 414.6l0.1 0.4M377.7 398.8l0.5 0.5M343.8 411.5l0.3 0.6M348.0 404.2l0.2 -0.2M338.6 359.7l0.4 -0.3M365.6 369.5l0.3 -0.2M303.4 356.2l-0.5 0.1M328.1 360.8l-0.1 0.4M326.4 356.5l0.1 -0.3M387.4 387.0l0.2 0.3M370.5 388.5l0.4 -0.4M327.1 363.6l0.2 0.0M385.7 401.1l-0.6 -0.4M327.1 363.7l0.1 0.6M382.1 336.5l-0.5 -0.5M367.2 404.7l-0.1 0.4M368.7 370.0l-0.3 -0.1M354.6 373.4l-0.3 0.0M394.8 382.9l0.3 0.1M310.8 409.7l0.0 0.0M342.0 340.5l0.1 0.4M316.9 369.0l-0.3 -0.0M363.9 367.6l-0.4 -0.4M328.8 332.6l-0.4 -0.2M378.6 398.2l-0.5 0.1M336.9 414.0l-0.4 -0.6M353.8 333.2l0.5 -0.2"/>
<path stroke="#8478c0" stroke-width="2.8" stroke-linecap="round" d="M390.0 345.9l-0.6 0.2M395.7 336.3l0.5 -0.6M333.5 346.8l0.2 -0.2M371.0 337.3l0.2 -0.1M384.4 410.2l-0.1 0.0M349.4 351.5l0.1 -0.6M347.4 387.1l0.1 -0.5M392.5 349.4l0.1 -0.0M339.1 331.4l0.3 -0.2M362.7 349.9l0.0 -0.3M385.3 380.0l0.1 -0.4M381.0 384.5l-0.2 0.2M346.8 348.3l-0.0 0.1M376.8 360.2l0.3 0.3M352.1 369.3l0.5 -0.1M327.0 379.2l-0.1 -0.3M357.4 363.6l-0.4 0.5M368.6 342.8l-0.5 0.3M383.0 334.9l0.2 0.6M373.4 352.5l0.0 0.3M376.4 380.2l-0.5 -0.4M371.1 354.0l-0.3 -0.5M312.6 369.9l-0.3 0.3M322.5 387.4l0.5 0.2M367.9 346.1l-0.2 0.2M370.6 363.6l-0.2 -0.1M320.6 403.9l-0.2 0.4M362.5 349.4l-0.0 0.2M387.5 340.8l0.2 -0.6M357.1 370.9l0.4 0.4M326.8 337.9l0.3 -0.1M330.3 373.9l-0.4 0.6M392.6 324.9l-0.4 0.5M344.5 374.6l-0.1 0.3M327.4 328.3l0.4 0.1M375.6 402.1l0.1 -0.1M348.3 365.9l0.4 0.1M340.2 377.6l-0.5 0.0M327.4 398.3l-0.0 -0.5M311.2 378.0l0.5 0.3M332.1 357.0l0.2 0.2M303.4 386.1l0.2 0.4M374.7 401.7l-0.3 0.3M355.4 351.4l-0.5 -0.1M348.0 361.3l0.3 -0.3M385.8 398.1l0.4 -0.2M326.5 372.3l-0.6 0.2M359.7 408.8l0.4 -0.2M357.8 338.8l-0.5 -0.2M309.1 390.5l-0.2 0.5M316.3 373.5l-0.1 0.0M395.3 385.7l-0.0 0.6M369.9 344.4l0.1 -0.3M374.1 390.9l-0.2 0.6M323.2 337.3l-0.0 -0.6M327.3 371.3l-0.1 -0.3M381.8 327.8l0.2 -0.1M317.9 365.1l-0.5 0.3M335.0 390.7l-0.4 -0.4M315.3 409.9l-0.6 0.0"/>
<path stroke="#9088cc" stroke-width="1.8" stroke-linecap="round" d="M347.9 350.8l-0.3 0.5M304.1 325.6l0.3 0.5M311.1 406.6l0.2 -0.1M341.6 412.0l-0.6 -0.5M392.0 402.5l0.6 -0.1M328.0 391.8l-0.2 0.5M391.0 364.9l0.1 -0.5M367.7 389.5l-0.3 0.2M331.7 352.9l-0.5 -0.0M345.6 324.2l0.6 -0.2M319.0 346.5l0.3 -0.0M381.3 334.2l0.1 0.1M361.8 343.6l-0.5 0.3M353.6 403.1l-0.1 0.2M329.9 404.5l0.1 -0.0M343.7 375.6l0.1 0.1M394.7 412.9l0.3 -0.1M394.2 360.0l0.3 -0.2M315.5 362.6l0.3 -0.1M364.5 322.7l-0.2 -0.4M314.1 381.2l-0.4 0.2M391.5 387.0l-0.4 -0.5M362.9 385.8l0.5 0.2M339.9 381.3l0.2 -0.5M331.4 348.4l0.4 0.5M395.5 333.2l-0.5 -0.1M382.2 379.6l0.1 -0.5M381.0 389.7l0.0 -0.3M353.4 406.2l0.1 -0.4M321.4 333.2l0.4 0.0M359.6 394.0l0.4 -0.3M388.6 411.0l-0.0 0.0M346.3 327.3l0.5 0.3M350.2 405.4l0.5 0.5M337.9 372.4l-0.2 0.4M313.3 393.7l0.3 0.3M386.9 337.1l0.4 0.2M392.1 349.6l0.1 -0.3M354.2 388.2l0.2 -0.2M324.8 358.0l0.5 0.2M353.6 355.9l0.4 -0.1M336.2 378.6l-0.0 -0.4M356.4 329.5l0.1 -0.2"/>
<path stroke="#8478c0" stroke-width="2.3" stroke-linecap="round" d="M391.3 354.7l-0.2 0.1M390.6 353.5l0.3 -0.5M362.8 355.8l0.1 0.5M360.3 334.4l-0.1 0.6M387.7 334.6l0.6 0.0M335.2 322.8l0.0 0.5M323.4 343.7l0.4 -0.2M322.3 343.3l-0.1 -0.2M326.3 327.3l0.3 -0.3M348.4 399.6l0.0 -0.2M363.6 384.6l0.5 0.6M334.8 342.2l0.4 0.5M359.6 413.1l0.2 -0.2M326.9 323.6l0.5 0.2M366.4 346.1l-0.3 0.1M380.6 321.9l0.4 0.2M347.2 385.3l-0.4 -0.3M374.6 328.6l0.4 -0.3M309.9 407.4l0.3 0.3M361.8 329.0l0.3 -0.3M319.2 407.8l0.3 0.0M367.7 346.9l0.1 -0.5M330.5 388.9l0.6 0.5M376.5 385.9l0.1 -0.2M378.9 402.4l-0.4 0.5M360.8 341.1l0.5 -0.2M367.1 357.0l0.3 0.1M344.4 381.2l-0.4 0.4M393.2 338.9l0.1 0.2M334.1 362.6l-0.1 0.1M322.9 394.2l0.1 -0.4M335.3 378.3l0.3 0.4M349.1 346.6l0.2 -0.1M312.5 392.9l0.2 0.3M382.2 362.1l0.2 0.5M342.2 390.1l0.5 0.1M367.6 380.6l-0.6 -0.6M335.0 335.7l-0.1 -0.4M347.6 354.7l-0.4 -0.0M372.0 399.8l-0.3 0.3M361.0 354.7l-0.2 -0.0M379.9 323.8l0.5 -0.4M376.3 344.4l-0.2 -0.4M392.6 331.0l0.0 -0.0M372.9 375.7l-0.5 0.1M350.7 364.0l-0.5 -0.6M378.8 354.7l-0.3 -0.6M331.7 352.3l-0.3 0.2M316.8 362.4l-0.2 -0.5"/>
<path stroke="#7a70bc" stroke-width="2.8" stroke-linecap="round" d="M306.7 409.8l0.1 0.5M334.8 407.8l-0.2 -0.4M349.6 352.9l0.3 0.4M386.3 322.7l0.2 0.1M336.5 348.9l-0.6 0.6M385.5 341.1l-0.5 0.5M347.6 396.5l0.6 -0.1M316.2 388.7l0.4 -0.3M369.1 365.3l-0.0 -0.3M387.3 355.2l0.6 -0.4M308.6 346.4l0.5 0.3M361.0 381.9l0.4 0.3M310.3 380.8l0.3 0.4M372.5 405.8l0.0 -0.5M355.0 394.2l0.4 0.1M332.5 329.2l0.0 0.4M317.5 391.6l-0.2 0.0M344.1 371.5l0.5 0.5M385.0 414.7l-0.1 -0.3M372.2 360.8l0.3 0.1M361.3 356.4l0.6 -0.3M373.2 334.2l-0.1 -0.4M311.0 365.0l0.3 -0.3M352.0 364.2l0.0 -0.6M372.6 387.7l0.2 0.5M393.1 343.5l-0.4 0.3M333.4 386.2l-0.4 -0.2M365.2 331.1l0.1 0.3M385.7 359.3l0.4 -0.3M394.8 391.1l0.1 -0.4M369.0 327.5l-0.6 0.1M367.9 344.5l-0.3 -0.6M337.2 351.6l-0.4 -0.6M376.0 334.8l-0.3 -0.2M334.7 323.6l-0.3 -0.3M316.3 398.5l-0.1 -0.3M346.6 382.2l0.3 0.1M323.7 367.9l-0.4 -0.0M335.5 402.6l-0.5 -0.2M312.5 402.6l-0.6 0.1M368.5 348.2l0.4 -0.3"/>
<path stroke="#b4acdc" stroke-width="2.8" stroke-linecap="round" d="M382.3 412.7l0.3 -0.0M330.3 359.0l0.6 0.2M353.9 322.6l0.1 0.2M309.4 399.6l-0.3 0.3M370.5 326.2l0.4 0.3M310.9 344.1l0.2 -0.3M366.4 390.8l-0.0 -0.6M347.0 329.2l-0.6 -0.4M305.5 375.3l0.5 -0.3M319.1 368.7l-0.5 -0.1M371.5 356.1l0.3 0.5M339.6 393.5l-0.4 -0.4M384.0 385.1l0.5 -0.3M355.6 329.6l0.2 -0.3M381.0 377.1l-0.2 -0.3M317.2 383.7l-0.5 0.6M395.7 379.4l0.0 -0.4M387.6 361.3l0.3 -0.1M313.4 363.2l-0.5 0.3M341.8 413.8l-0.0 -0.1M337.6 375.8l0.5 0.5M356.5 321.4l-0.5 -0.5M327.5 395.9l0.0 0.4M366.1 322.9l-0.5 0.5M315.0 387.1l-0.5 0.3M371.9 347.3l0.5 -0.3M384.2 355.9l0.3 -0.1M350.9 325.0l0.2 -0.1M390.8 372.0l0.2 -0.1M365.4 343.5l-0.6 -0.5M386.2 358.2l-0.3 0.2M395.4 337.4l-0.2 0.6M346.0 330.8l-0.2 0.3M308.4 354.9l0.5 0.2M364.1 336.4l-0.6 0.2M356.4 382.2l-0.5 -0.2M349.9 367.2l0.4 -0.4M375.2 368.5l0.3 0.5M328.4 395.7l-0.4 -0.6"/>
<path stroke="#8478c0" stroke-width="1.8" stroke-linecap="round" d="M330.5 409.8l-0.0 0.3M371.1 323.7l-0.6 -0.3M354.7 379.4l-0.3 0.3M395.4 324.3l0.2 0.1M311.1 350.6l0.1 0.4M308.1 412.8l-0.0 0.5M365.5 356.6l0.5 0.1M390.4 383.1l-0.3 -0.1M312.2 402.8l-0.5 0.6M372.3 345.2l-0.4 -0.4M322.2 382.2l0.6 0.2M304.8 366.2l0.3 -0.0M331.5 360.9l0.6 0.0M306.8 394.9l-0.4 -0.1M319.7 365.7l-0.5 0.5M382.2 389.6l-0.1 0.1M376.7 408.4l0.3 0.3M365.9 350.9l0.3 0.1M366.6 354.6l0.3 -0.3M367.7 341.8l0.6 0.3M323.3 325.4l0.5 0.3M374.6 359.1l0.2 -0.4M370.7 373.2l0.0 -0.4M347.9 322.5l-0.0 0.3M352.8 397.4l-0.2 -0.5M372.7 357.6l0.4 -0.3M356.7 368.7l0.4 0.0M373.2 332.6l0.2 0.2M320.2 337.1l0.2 0.3M312.3 402.3l0.3 -0.4M386.3 350.9l-0.3 0.2M360.7 400.5l0.6 -0.6M384.0 409.9l-0.5 -0.5M352.7 411.9l0.0 0.2M344.1 370.6l0.4 0.0M386.6 407.1l-0.4 -0.5M354.8 389.3l0.2 -0.5M303.5 398.2l0.1 -0.6M317.5 387.9l-0.1 -0.4M313.5 374.9l-0.1 0.4M372.8 355.3l0.1 0.6M361.5 336.7l-0.1 -0.1M350.1 400.0l0.5 -0.3M349.9 365.6l-0.5 0.2M312.3 380.6l-0.5 0.1M306.9 374.1l0.3 -0.4M356.9 388.5l0.4 0.1M388.8 359.3l-0.0 0.4M366.6 347.5l-0.4 0.2M340.8 367.5l-0.2 -0.6M336.8 403.7l0.4 -0.3M332.8 400.6l0.4 0.3M386.1 355.7l0.4 0.5M378.2 342.3l0.0 0.5M359.1 407.2l0.0 0.0"/>
<path stroke="#a39ad4" stroke-width="2.3" stroke-linecap="round" d="M363.6 341.7l0.6 -0.4M393.0 378.2l-0.5 0.1M364.8 323.6l0.2 -0.5M323.1 373.3l-0.5 0.1M369.7 343.4l-0.5 -0.3M374.6 356.8l0.2 0.3M394.2 411.3l-0.1 -0.2M355.0 362.4l0.1 -0.3M384.1 324.9l0.3 0.1M376.6 405.2l-0.1 -0.3M364.0 383.4l-0.2 -0.1M319.3 358.3l-0.4 0.4M392.1 399.3l-0.4 -0.6M385.0 399.1l-0.2 -0.5M361.8 390.7l-0.4 0.1M333.3 393.3l0.6 -0.4M321.3 341.8l0.5 0.5M305.9 382.4l-0.0 -0.5M344.2 322.1l0.3 -0.2M366.4 365.7l0.4 -0.2M336.4 345.4l0.1 -0.2M331.3 342.4l-0.3 0.5M331.0 371.9l0.5 -0.2M385.7 360.4l0.5 0.2M375.2 365.6l-0.5 0.4M379.9 350.7l-0.5 0.4M326.6 379.6l-0.6 0.6M330.5 377.9l0.3 0.6M370.2 334.4l-0.3 0.2M317.9 414.7l0.5 0.5M305.7 387.8l-0.1 0.3M338.4 339.8l0.3 0.0M351.3 331.1l-0.5 -0.5M364.6 393.1l0.3 0.5M379.3 411.2l0.3 -0.5M360.3 368.1l0.3 -0.0M307.8 374.2l-0.0 0.4M341.1 359.4l0.2 -0.5M347.3 390.4l-0.3 0.1M332.9 346.0l-0.2 0.1M387.1 391.8l0.2 -0.0M369.7 374.3l0.1 -0.2M395.0 363.5l-0.3 -0.1M352.7 365.1l0.5 0.5M306.2 395.7l0.0 0.5M367.5 407.1l0.1 0.3M383.6 331.0l0.4 -0.4M316.3 361.2l-0.2 0.4"/>
<path stroke="#7a70bc" stroke-width="2.3" stroke-linecap="round" d="M348.0 372.6l0.2 -0.5M322.2 388.5l0.5 0.4M394.2 367.7l-0.0 -0.3M326.1 346.3l-0.0 0.6M351.2 333.7l0.3 -0.4M380.8 348.4l-0.1 0.3M347.0 409.8l-0.1 -0.3M308.0 358.4l-0.1 0.2M354.7 334.2l-0.2 -0.4M349.0 344.5l0.5 -0.5M385.4 356.3l0.3 0.3M370.8 321.3l0.2 -0.1M340.2 377.3l0.0 -0.4M331.7 369.8l0.3 0.4M335.6 359.9l-0.2 -0.3M395.7 358.4l-0.2 0.6M318.7 384.9l0.4 0.6M367.1 385.5l0.2 -0.1M376.1 323.9l0.5 0.1M359.1 398.2l-0.1 -0.4M337.7 387.2l0.3 0.1M369.8 327.7l0.5 -0.4M377.6 352.2l0.1 0.1M366.6 374.0l-0.6 -0.5M364.0 387.1l0.1 0.4M374.6 392.6l0.5 -0.3M357.2 377.7l0.3 0.5M379.5 338.0l-0.0 0.3M373.5 360.8l-0.3 0.6M305.1 384.0l-0.2 0.2M319.0 398.0l-0.1 -0.4M314.3 406.8l-0.5 0.5M308.9 413.4l0.4 -0.5M353.7 365.7l-0.3 -0.4M387.0 364.0l0.1 -0.0M352.7 376.1l0.3 0.6M336.9 331.5l0.5 -0.6M390.0 355.3l0.4 0.3M347.7 359.1l0.6 0.0M374.8 366.7l-0.3 -0.2M373.5 330.0l0.2 0.2M371.7 385.4l0.1 0.1M394.6 403.8l-0.5 0.0"/>
<path stroke="#a39ad4" stroke-width="2.8" stroke-linecap="round" d="M383.6 385.7l0.1 -0.5M381.4 341.7l0.5 0.6M356.6 362.6l-0.5 -0.1M320.4 357.7l-0.2 -0.1M310.4 359.9l0.1 0.4M338.7 348.4l-0.5 -0.1M386.0 373.4l-0.1 -0.2M371.9 373.8l0.4 -0.0M360.0 342.0l-0.5 0.2M363.5 404.8l0.2 -0.3M305.8 374.1l0.0 0.5M376.4 322.5l0.3 0.3M320.2 372.2l-0.6 0.1M311.0 382.6l-0.2 -0.4M335.8 393.3l0.5 0.3M333.4 399.0l0.6 0.2M324.6 383.9l-0.0 0.5M343.4 384.1l-0.4 -0.3M321.2 360.3l0.2 -0.2M360.7 402.0l0.5 -0.2M309.1 395.2l-0.3 0.4M352.2 383.2l0.3 0.3M320.5 357.3l-0.1 0.0M394.8 352.4l-0.6 0.3M385.9 329.3l0.4 -0.2M380.9 338.9l0.0 -0.1M373.8 381.3l0.6 -0.5M389.1 364.3l0.5 -0.5M364.9 413.8l-0.2 0.4M320.7 331.6l0.6 -0.2M339.4 378.1l-0.2 -0.1M364.7 348.2l-0.4 -0.2M347.1 332.4l0.3 0.1M386.4 331.8l-0.3 0.2M334.2 373.4l0.1 -0.2M382.2 368.3l-0.2 -0.4M345.1 408.1l0.2 0.5M315.7 388.1l0.2 0.2M305.0 357.7l-0.3 0.2M336.6 355.9l-0.5 -0.4M357.3 330.1l0.1 -0.1M330.5 399.0l0.5 0.5M347.2 413.8l0.5 0.3M344.0 341.2l0.1 -0.2M357.2 402.3l0.2 -0.2M360.4 389.3l0.4 0.1M328.5 356.1l-0.2 0.2M377.9 413.5l0.2 -0.3"/>
<path stroke="#7a70bc" stroke-width="1.8" stroke-linecap="round" d="M353.8 353.0l-0.1 0.4M379.9 322.4l0.5 0.3M345.3 357.7l0.4 -0.6M348.7 409.0l-0.1 -0.2M386.4 353.5l0.2 0.2M313.2 396.7l-0.2 -0.4M305.2 393.3l-0.6 0.3M331.3 347.5l-0.1 -0.4M373.8 375.1l0.3 0.5M372.1 367.2l-0.5 -0.0M378.5 321.7l-0.6 0.1M324.8 388.3l0.4 -0.3M340.9 349.8l0.5 -0.2M338.9 380.8l-0.1 -0.2M341.4 402.7l-0.4 0.5M328.7 370.4l0.4 0.5M335.4 409.8l-0.2 -0.5M390.5 357.8l-0.4 0.4M381.0 401.0l-0.4 0.1M321.7 388.3l0.2 -0.2M390.8 396.7l-0.0 -0.0M325.3 348.1l0.6 -0.5M355.1 344.9l-0.4 0.3M351.3 402.8l0.2 0.3M333.7 329.4l-0.2 0.1M359.1 351.3l0.4 0.6M360.7 404.3l0.2 -0.4M391.1 381.1l0.0 0.6M338.1 394.4l-0.6 -0.2M365.4 347.0l0.4 -0.1M367.4 391.6l0.0 -0.1M309.1 401.2l0.5 0.6M388.8 354.4l0.1 0.4M378.5 368.7l0.4 -0.4M305.7 349.9l0.4 0.5M390.4 337.6l-0.5 -0.5M319.7 371.5l0.5 -0.2M369.3 356.2l-0.5 -0.1M350.2 330.6l0.3 0.1M389.2 402.9l0.1 -0.2M364.5 408.8l0.4 0.3M327.6 358.6l0.4 -0.6M365.0 391.3l0.2 0.4M305.3 321.2l-0.2 -0.4M344.0 403.8l0.0 -0.2M393.1 383.3l-0.1 -0.0M339.7 350.4l0.3 0.5M363.0 379.7l0.0 0.2M388.3 361.2l-0.6 0.2M346.4 374.6l-0.1 -0.4M319.1 372.5l0.4 0.6M371.6 361.0l0.6 -0.5M303.9 361.7l0.1 0.3M328.4 396.3l0.5 0.4M357.3 341.9l-0.0 -0.0M350.9 378.3l-0.2 0.1M377.2 374.2l-0.1 -0.3M359.9 324.5l-0.3 0.2M326.9 382.3l-0.6 0.1M355.1 410.1l0.4 0.6M365.9 342.8l0.1 -0.2M359.4 398.0l0.4 -0.3M377.9 358.5l-0.3 0.1M392.4 339.3l0.4 0.5"/>
<path stroke="#84566a" stroke-width="1.8" stroke-linecap="round" d="M322.2 381.9h0.3M339.9 400.4h0.3M330.5 383.1h0.3M361.1 402.6h0.3M355.9 377.9h0.3M360.3 334.1h0.3M338.9 404.3h0.3"/>
<path stroke="#84566a" stroke-width="2.3" stroke-linecap="round" d="M331.7 403.1h0.3M384.7 344.4h0.3M368.6 382.6h0.3M386.0 351.7h0.3M335.0 340.6h0.3M314.2 388.8h0.3M379.9 328.5h0.3M389.6 391.3h0.3M376.5 323.1h0.3"/>
<path stroke="#704a5a" stroke-width="1.8" stroke-linecap="round" d="M331.7 328.9h0.3M317.4 414.9h0.3M341.2 407.0h0.3M363.5 358.4h0.3M358.9 339.8h0.3M304.9 387.4h0.3M327.3 381.1h0.3M382.7 409.5h0.3M370.9 353.8h0.3M324.1 392.1h0.3"/>
<path stroke="#7a4c5c" stroke-width="1.8" stroke-linecap="round" d="M362.2 358.7h0.3M335.4 374.8h0.3M320.1 396.8h0.3M389.1 384.4h0.3M378.7 377.6h0.3M363.2 349.0h0.3M334.8 359.3h0.3M318.9 407.6h0.3M365.9 365.3h0.3M335.9 391.0h0.3"/>
<path stroke="#6a4252" stroke-width="2.8" stroke-linecap="round" d="M318.9 401.7h0.3M337.5 354.2h0.3M368.2 399.9h0.3M347.4 397.0h0.3M364.6 334.0h0.3M362.3 330.0h0.3M337.0 394.7h0.3M326.6 396.3h0.3"/>
<path stroke="#704a5a" stroke-width="2.8" stroke-linecap="round" d="M365.4 414.9h0.3M350.6 365.0h0.3M335.6 410.9h0.3"/>
<path stroke="#704a5a" stroke-width="2.3" stroke-linecap="round" d="M321.9 411.8h0.3M380.6 358.7h0.3M307.5 352.3h0.3M348.4 349.1h0.3M303.9 398.4h0.3M360.6 331.1h0.3M358.9 326.6h0.3M324.8 393.2h0.3"/>
<path stroke="#6a4252" stroke-width="1.8" stroke-linecap="round" d="M390.3 325.4h0.3M383.6 364.3h0.3M344.1 395.7h0.3M369.7 360.1h0.3M361.8 336.7h0.3M348.9 374.5h0.3M335.6 407.0h0.3"/>
<path stroke="#84566a" stroke-width="2.8" stroke-linecap="round" d="M381.6 321.9h0.3M333.2 351.2h0.3M368.4 353.5h0.3M319.1 409.5h0.3M354.7 348.6h0.3"/>
<path stroke="#6a4252" stroke-width="2.3" stroke-linecap="round" d="M377.0 342.3h0.3M317.4 405.3h0.3M377.2 374.3h0.3M338.4 397.4h0.3M359.9 337.4h0.3M352.5 325.6h0.3M304.5 405.1h0.3"/>
<path stroke="#7a4c5c" stroke-width="2.8" stroke-linecap="round" d="M368.3 328.7h0.3M340.5 339.4h0.3"/>
<path stroke="#7a4c5c" stroke-width="2.3" stroke-linecap="round" d="M362.8 365.6h0.3M323.4 401.2h0.3M365.4 335.5h0.3M321.5 378.8h0.3"/>
</g></g>
<clipPath id="ch2"><rect x="398.60" y="321.20" width="93.60" height="93.70"/></clipPath>
<g clip-path="url(#ch2)">
<rect x="398.60" y="321.20" width="93.60" height="93.70" fill="#efeaf7" stroke="none" stroke-width="0.7"/>
<g filter="url(#blurS)" opacity="0.9">
<path stroke="#7670c8" stroke-width="2.0" stroke-linecap="round" d="M446.3 413.0l0.3 -0.1M432.0 332.1l-0.1 0.3M464.4 355.9l0.1 -0.1M483.4 399.5l0.1 -0.6M437.7 330.3l0.5 0.0M402.3 379.9l0.1 0.4M476.5 329.3l-0.6 0.2M444.1 381.3l0.4 -0.3M433.7 362.1l-0.5 0.4M436.1 348.2l-0.5 -0.5M421.8 346.4l-0.0 0.4M470.3 411.9l0.3 0.4M428.1 414.0l-0.0 0.2M412.9 375.7l0.1 -0.5M466.9 386.6l0.4 0.1M451.7 351.0l0.3 -0.1M478.1 332.9l0.5 0.0M432.1 379.1l0.5 0.1M450.4 410.2l-0.5 -0.2M460.4 339.7l0.2 0.1M402.4 349.7l-0.1 -0.6M487.5 407.6l0.5 0.2M441.7 395.1l-0.5 -0.4M480.0 372.7l-0.2 -0.1M478.8 404.6l0.5 -0.5M413.5 398.2l-0.3 -0.4M460.4 355.1l-0.3 -0.6M449.5 330.2l-0.4 0.4M452.1 388.2l-0.6 0.2M469.7 364.1l0.1 -0.6M404.9 341.4l-0.5 0.5M488.2 373.4l0.5 -0.2M491.0 390.0l-0.4 0.3M432.6 354.4l0.3 0.2M401.2 354.3l0.3 0.5M428.5 336.2l-0.2 0.4M406.1 398.4l0.1 -0.5M440.7 397.2l0.4 0.2M422.7 322.3l-0.0 -0.4M415.0 326.9l0.0 0.3M490.4 346.8l0.1 0.2M440.3 376.5l-0.3 -0.1M455.4 336.9l-0.1 -0.0M457.6 342.7l0.6 -0.1M434.2 377.2l-0.5 0.1M461.3 360.9l0.2 0.5M398.8 372.0l-0.3 -0.5M408.1 345.8l-0.5 -0.2M411.8 405.7l0.5 -0.4M471.1 394.4l0.1 0.2M404.8 336.3l-0.3 0.4M416.1 333.2l-0.4 0.6M445.6 366.5l0.1 0.5M477.0 368.2l0.3 0.1M405.4 383.5l0.2 0.3M404.9 341.1l0.1 0.1M464.1 329.7l-0.0 -0.1M400.0 411.4l0.6 -0.3M427.1 340.3l-0.4 -0.1M475.9 406.1l-0.3 -0.5M463.6 370.6l-0.1 -0.1M418.4 352.2l0.6 0.3M437.7 395.6l-0.4 -0.5M413.3 397.8l-0.5 -0.3M409.0 409.1l-0.1 -0.2M430.5 395.9l0.3 0.4M467.0 390.0l-0.2 0.6M424.4 409.6l-0.3 -0.3M421.1 394.1l0.6 -0.2M436.1 392.2l-0.5 0.5M408.6 357.8l-0.3 0.3M452.0 380.4l0.2 -0.4M430.5 409.2l-0.2 -0.4M435.9 377.3l-0.3 -0.1M476.8 412.3l0.0 0.5M416.7 414.8l0.5 0.1M489.9 377.5l-0.3 -0.4M475.4 345.7l-0.2 -0.0"/>
<path stroke="#8c80cc" stroke-width="3.2" stroke-linecap="round" d="M403.3 321.6l-0.1 -0.1M425.4 388.1l0.5 0.4M402.1 341.4l0.5 0.5M440.2 378.1l0.3 0.5M458.8 369.0l-0.3 -0.2M459.7 352.6l0.4 -0.2M470.8 370.9l0.5 0.1M432.2 395.0l-0.3 0.2M424.3 375.6l-0.4 -0.5M486.4 408.3l-0.5 -0.4M400.6 384.6l0.5 0.1M480.0 397.2l-0.5 0.4M417.7 368.9l-0.5 0.0M443.6 390.4l0.2 -0.5M451.3 413.9l0.2 0.3M437.6 328.1l0.1 -0.6M412.4 364.2l-0.3 0.5M423.1 327.2l-0.6 0.2M432.4 388.9l-0.4 0.4M415.1 398.6l0.4 -0.3M447.2 358.2l0.2 -0.0M416.2 403.9l-0.5 0.4M435.0 349.8l0.5 -0.4M424.9 360.2l0.1 0.3M486.6 381.3l0.3 0.3M419.2 377.7l-0.0 0.4M402.0 336.3l-0.6 0.1M469.8 336.3l0.1 -0.6M399.8 345.4l-0.3 0.2M477.2 337.0l0.2 0.6M489.7 323.9l-0.1 0.1M490.2 324.4l-0.6 -0.5M458.9 349.1l-0.5 -0.1M401.0 350.2l0.1 0.4M431.4 399.3l-0.1 -0.5M483.4 334.9l-0.0 0.6M412.9 379.7l0.2 0.4M451.3 384.6l0.3 0.1M443.7 356.3l0.1 0.2M460.4 360.1l-0.6 0.1M416.3 355.7l0.4 0.0M418.5 363.6l-0.1 -0.4M468.6 382.7l0.4 0.4M464.1 337.3l-0.3 0.1M486.2 361.6l0.4 -0.1M477.3 362.5l0.3 0.6M399.3 391.1l0.4 -0.1M474.9 337.4l0.2 0.2M427.8 412.3l0.2 0.5M442.0 332.6l-0.2 -0.5M432.9 327.2l0.1 -0.5M421.7 355.9l0.1 -0.3M429.7 362.0l-0.1 -0.5M454.1 369.9l-0.3 -0.0M418.0 358.5l-0.3 0.2M441.3 394.2l-0.0 -0.2M416.5 339.5l-0.4 -0.1M486.8 376.4l-0.3 -0.2M471.1 378.1l0.2 -0.3M419.9 370.1l0.2 0.4M437.8 330.3l-0.3 0.4M454.6 394.0l0.3 -0.4M454.9 378.2l0.2 0.1M467.3 406.0l0.3 -0.6M442.3 407.3l-0.5 0.5M480.7 340.0l0.5 -0.1M485.4 328.6l0.1 -0.6M450.6 352.5l0.2 0.3M416.1 398.2l0.4 -0.3M464.8 413.3l0.3 0.1M469.7 322.7l-0.4 -0.3"/>
<path stroke="#aaa4e2" stroke-width="2.0" stroke-linecap="round" d="M410.5 350.4l-0.6 0.2M491.2 365.2l-0.5 0.1M488.1 406.4l0.4 -0.4M432.5 349.4l-0.1 -0.2M436.8 381.2l-0.2 0.2M444.5 335.1l-0.6 -0.4M471.6 395.9l-0.1 -0.2M399.1 353.4l0.6 -0.6M402.5 334.4l-0.1 0.2M428.7 327.5l-0.2 0.4M476.0 413.3l0.0 0.4M457.1 398.3l0.4 -0.2M421.7 377.7l-0.5 -0.2M418.1 393.8l0.6 0.1M474.8 405.1l0.1 0.2M446.3 374.1l-0.2 0.0M452.3 334.3l-0.6 -0.3M475.4 395.8l-0.5 -0.4M488.5 329.5l-0.3 -0.2M421.0 337.4l-0.1 -0.1M435.6 398.2l-0.3 -0.2M409.7 369.5l-0.5 0.6M462.0 394.5l-0.1 0.4M408.4 348.0l0.1 -0.1M490.5 399.0l-0.4 -0.1M431.1 344.8l-0.0 0.1M409.7 356.0l0.2 0.1M483.7 407.8l0.1 -0.1M435.6 321.4l0.3 0.4M406.5 401.5l-0.6 -0.1M450.0 401.0l0.3 0.4M429.8 366.4l0.1 -0.4M404.4 340.5l0.1 -0.4M464.3 332.3l0.2 0.6M406.4 359.8l0.5 0.5M408.1 405.2l0.2 0.5M446.4 370.7l-0.1 -0.4M452.1 332.7l0.2 -0.3M479.9 371.3l0.2 0.5M431.9 363.0l-0.3 -0.2M399.2 363.6l0.0 -0.5M452.8 361.8l0.3 0.4M471.5 399.0l-0.6 0.0M447.9 404.9l0.1 -0.2M433.5 374.4l0.1 -0.6M440.3 328.0l-0.4 0.4M478.5 385.5l-0.4 0.0M401.1 348.7l0.2 -0.5M416.0 400.1l-0.1 -0.3M426.3 380.3l0.1 -0.6M463.2 358.5l-0.6 -0.5M447.9 347.5l-0.2 -0.4M478.2 342.2l0.2 -0.4M461.8 333.0l-0.1 -0.3M403.6 345.4l-0.1 -0.0M463.1 363.5l0.3 -0.1M415.8 393.7l0.3 0.6M401.2 345.4l-0.2 -0.1M427.3 340.2l-0.2 0.2M406.3 335.9l-0.5 0.3M435.8 359.8l0.1 -0.5M484.8 393.6l0.2 -0.4M441.3 371.6l0.0 0.2M447.2 375.1l0.3 0.1M469.6 348.4l-0.2 0.1M410.6 401.9l0.3 0.6M459.8 400.9l-0.6 0.3M471.8 350.6l-0.0 0.6M399.7 322.8l0.5 0.2"/>
<path stroke="#8c80cc" stroke-width="2.0" stroke-linecap="round" d="M491.6 370.6l0.2 -0.4M433.8 334.7l0.1 0.3M466.4 414.7l-0.3 -0.4M439.9 394.0l0.6 -0.1M449.2 331.2l0.3 0.4M403.9 352.0l0.1 0.5M420.3 384.1l-0.0 -0.5M418.1 410.1l0.3 0.4M435.6 329.6l0.0 0.2M490.8 407.2l-0.0 0.2M478.1 377.3l0.5 0.2M488.3 347.1l0.0 -0.2M410.8 361.6l0.1 -0.1M414.2 324.1l0.0 -0.2M470.0 399.8l0.0 -0.5M424.8 325.5l0.4 0.1M457.5 402.7l-0.4 0.3M477.4 364.2l-0.5 -0.6M452.4 408.9l0.5 -0.4M413.1 324.6l0.4 -0.1M417.9 322.0l0.1 -0.5M474.8 323.9l0.0 -0.3M485.7 360.8l-0.2 0.2M475.1 414.8l-0.1 -0.1M480.9 407.7l-0.2 0.1M436.9 339.2l-0.5 -0.3M426.0 339.7l-0.0 -0.2M415.7 323.1l0.3 0.5M484.2 393.5l-0.5 0.0M488.9 386.5l-0.3 0.3M451.7 407.6l-0.6 -0.4M430.2 353.2l0.5 0.4M419.5 397.8l-0.2 -0.5M454.0 339.8l-0.2 -0.3M481.4 322.4l-0.3 -0.3M402.7 383.3l0.1 0.5M453.6 354.4l0.5 0.5M428.3 328.0l0.4 0.1M442.0 375.7l0.2 -0.1M434.2 364.0l0.6 -0.5M464.9 396.1l-0.4 0.3M481.7 347.8l-0.1 0.2M398.7 342.5l0.3 0.1M414.6 358.0l-0.1 -0.1M486.0 377.8l-0.5 -0.0M456.3 388.3l-0.5 -0.2M426.1 344.1l0.6 0.1M430.0 338.3l-0.2 0.6M488.1 392.7l0.3 0.2M403.1 326.3l0.4 0.0M405.0 354.8l0.4 -0.4M468.5 364.6l-0.0 0.6M465.5 377.0l0.2 0.1M485.7 408.1l0.1 -0.4M406.0 403.3l-0.3 -0.1M462.1 344.7l0.6 -0.4M453.1 348.8l-0.1 -0.1M445.4 331.3l0.1 0.0M474.5 412.9l-0.0 0.4M454.7 369.5l-0.4 0.4M461.6 382.5l0.1 -0.1M465.5 374.6l-0.1 0.5M481.3 377.8l-0.4 0.4M401.4 365.1l-0.2 0.3M412.5 396.9l-0.2 0.3M450.0 348.8l0.1 -0.4"/>
<path stroke="#8680d2" stroke-width="2.6" stroke-linecap="round" d="M480.1 328.8l0.3 0.3M440.1 338.9l0.6 -0.1M459.4 400.5l-0.6 -0.2M430.7 345.5l-0.4 -0.3M458.1 346.4l-0.1 -0.4M484.5 342.3l0.1 -0.5M467.4 361.4l-0.1 0.3M401.0 400.8l0.1 0.4M399.3 355.4l0.3 -0.6M459.9 342.8l-0.6 -0.4M446.0 393.3l0.1 0.1M485.2 371.1l0.5 0.3M489.6 391.9l-0.1 -0.4M451.1 356.4l-0.3 0.4M399.1 411.6l0.1 -0.4M418.5 398.2l-0.3 -0.3M482.8 411.6l0.1 -0.4M462.9 340.0l0.6 -0.0M453.2 353.8l-0.4 -0.0M468.4 321.9l-0.3 0.4M450.6 365.6l0.4 -0.1M438.4 384.3l-0.5 0.6M470.2 356.1l0.4 -0.1M487.6 411.1l0.6 -0.2M447.3 414.6l-0.4 -0.3M491.8 375.0l0.4 -0.6M450.7 391.6l0.4 -0.2M410.1 400.3l-0.4 0.5M483.9 332.2l-0.4 0.4M451.1 354.4l0.3 0.4M485.4 353.7l0.0 -0.2M427.1 321.5l-0.5 0.3M438.7 367.7l-0.6 -0.4M448.2 360.2l0.1 -0.4M487.1 373.9l-0.4 0.3M407.8 389.1l0.4 -0.4M430.9 331.4l-0.3 -0.4M421.7 340.4l0.3 -0.4M484.8 331.7l-0.4 0.0M442.7 364.1l0.5 -0.3M485.0 382.5l-0.2 0.2M440.9 402.5l-0.3 -0.3M398.7 399.0l-0.5 0.5M481.6 327.7l0.3 -0.3M445.0 365.4l-0.5 -0.5M413.7 403.0l0.6 -0.3M448.6 330.8l-0.1 0.1M418.0 393.6l0.6 -0.1M439.7 324.1l-0.4 -0.4M413.3 384.7l0.0 0.3M416.1 397.6l0.2 -0.5M451.8 397.4l-0.2 0.2M488.9 346.7l-0.4 0.5M452.1 328.8l0.1 -0.5M448.4 346.8l-0.6 0.5M409.6 343.0l0.6 -0.2M455.9 381.2l-0.2 0.3M460.8 353.0l-0.6 -0.1M400.7 342.5l-0.1 -0.3M424.0 376.1l-0.5 0.3M409.5 395.9l0.3 -0.3M453.0 409.4l0.0 0.1M473.0 367.7l0.1 -0.5M462.3 392.6l-0.4 -0.2M461.7 370.8l-0.3 0.1M483.8 387.5l-0.2 0.4M402.9 361.3l0.5 -0.2M491.0 361.3l0.5 -0.2"/>
<path stroke="#9892dc" stroke-width="2.0" stroke-linecap="round" d="M414.8 382.7l0.5 -0.4M438.2 399.4l0.6 0.4M467.3 394.1l-0.2 0.5M421.9 349.9l0.4 0.4M483.2 337.4l0.1 0.5M448.9 321.9l0.1 -0.3M465.3 387.0l-0.6 0.0M454.5 331.8l-0.6 0.1M445.9 407.3l-0.6 0.3M460.2 372.4l0.0 -0.4M412.2 384.1l0.5 -0.3M427.6 414.4l-0.6 -0.0M471.7 359.9l-0.2 -0.6M424.2 342.6l0.3 -0.5M421.4 336.4l0.4 -0.6M402.4 410.2l0.4 -0.6M409.8 369.8l0.1 0.1M423.5 335.3l0.1 -0.1M483.9 328.5l0.4 -0.5M455.6 407.9l0.4 0.5M457.8 365.3l0.4 0.5M414.3 376.7l0.1 0.3M488.7 397.2l-0.6 0.5M401.1 403.5l-0.3 0.5M446.2 355.1l0.2 0.2M454.6 331.3l-0.5 -0.5M406.6 389.9l-0.5 0.4M464.7 379.9l-0.5 0.4M488.1 390.2l-0.4 0.3M440.8 322.6l0.0 0.1M466.5 380.7l0.3 0.4M459.8 395.0l0.2 0.1M464.2 359.8l0.5 0.4M404.6 399.8l0.1 0.1M467.5 380.4l-0.1 0.1M404.2 391.5l-0.0 0.3M439.1 411.2l-0.3 0.3M439.3 413.7l0.4 0.2M445.3 385.6l0.2 0.2M465.0 334.9l0.4 0.2M489.8 404.9l0.3 -0.3M428.4 390.4l0.4 0.1M463.6 412.3l-0.4 0.5M486.6 333.3l0.4 -0.2M480.7 332.0l-0.6 0.4M456.3 392.5l-0.2 0.3M405.8 378.7l0.3 -0.5M485.4 408.2l-0.2 0.6M473.2 325.1l0.0 -0.5M475.1 375.4l-0.5 -0.2M459.4 338.4l0.5 0.1M432.2 408.9l0.1 -0.5M460.2 327.7l0.2 -0.3M441.5 402.4l-0.0 0.4M434.3 390.6l-0.3 -0.2M432.1 356.5l-0.1 0.5M474.8 378.6l0.2 -0.3M429.1 353.6l0.6 -0.1M465.9 370.7l0.3 0.4M424.4 326.0l0.1 0.2M486.2 407.8l-0.5 0.1M412.6 359.1l0.5 0.5M405.3 333.9l-0.6 -0.5M448.3 374.3l0.3 0.3M432.9 410.5l-0.6 0.1M463.3 334.9l-0.3 0.2M491.5 404.4l-0.1 0.5M458.9 342.0l0.5 -0.2M460.6 350.4l-0.6 0.0M421.2 374.6l0.4 0.3M477.3 393.8l0.2 0.2M434.8 383.8l-0.1 -0.0M491.5 333.9l-0.4 0.4"/>
<path stroke="#7670c8" stroke-width="3.2" stroke-linecap="round" d="M403.3 327.6l0.4 -0.3M480.1 363.5l-0.2 0.5M419.6 353.9l0.3 -0.3M475.9 408.0l-0.3 0.3M463.7 325.8l-0.0 -0.3M473.2 401.8l-0.4 0.5M437.0 401.8l-0.1 0.1M429.7 337.1l-0.4 -0.4M430.1 375.6l-0.0 -0.4M483.5 329.9l0.2 -0.3M412.1 380.2l-0.5 0.5M484.5 325.6l0.5 0.2M413.7 372.7l0.0 -0.3M417.8 327.3l-0.4 0.2M471.9 346.9l-0.4 0.5M435.2 406.2l-0.0 -0.5M488.7 358.3l0.4 -0.4M489.7 411.1l-0.3 0.3M424.8 387.9l-0.2 0.3M450.4 349.1l-0.1 0.3M461.1 410.3l-0.3 0.6M485.2 348.1l-0.1 -0.2M425.3 405.0l0.4 0.4M429.0 394.2l0.1 -0.2M446.4 362.6l0.6 0.3M486.7 378.4l0.5 -0.1M419.2 362.6l-0.2 0.5M469.7 401.0l-0.6 -0.1M408.6 390.7l-0.3 0.0M411.5 353.2l0.0 -0.5M446.2 371.2l0.1 -0.2M427.8 346.7l-0.3 -0.5M438.1 335.0l0.0 0.2M443.9 391.6l-0.2 0.3M426.3 328.1l0.4 0.5M435.5 338.4l0.2 -0.1M481.6 399.4l-0.4 0.3M398.6 353.7l0.4 0.2M467.3 338.9l0.3 0.3M399.8 381.3l-0.4 -0.4M489.0 384.0l0.6 0.1M490.9 390.6l-0.2 -0.4M481.6 391.4l-0.4 -0.2M478.6 410.0l-0.1 0.5M459.2 368.4l-0.5 0.1M479.0 326.6l-0.4 0.1M475.3 328.4l0.1 0.5M472.4 371.1l-0.6 -0.1M421.4 329.9l-0.2 0.6M478.4 376.7l-0.3 -0.5M431.7 382.9l-0.5 -0.1M469.7 334.3l0.3 -0.5M411.9 388.1l-0.0 0.4M439.5 373.5l-0.3 -0.2M483.4 329.8l-0.1 -0.5M428.0 410.5l-0.2 -0.6M478.7 396.5l-0.3 -0.6M404.9 348.1l-0.4 0.2M419.3 346.7l0.4 -0.6M402.8 376.7l0.1 0.2M480.7 388.4l-0.2 -0.3M440.5 362.8l-0.3 0.3M452.2 356.0l0.6 -0.1M447.8 397.3l0.4 -0.4M398.8 323.3l0.1 -0.1M476.9 374.3l-0.2 -0.2M460.5 359.0l0.4 0.0M420.3 397.6l0.5 -0.2M465.3 329.8l0.1 -0.4M481.4 376.8l-0.5 -0.6M484.2 328.2l-0.5 -0.4M411.5 355.9l0.1 -0.1M465.0 403.2l0.1 0.5M432.8 396.7l-0.6 -0.4M457.0 395.0l0.4 -0.4M424.1 347.3l-0.0 0.3M464.5 372.4l-0.4 -0.4M459.2 386.4l-0.5 0.1M457.3 332.4l-0.4 -0.3M460.5 340.1l0.1 -0.4"/>
<path stroke="#aaa4e2" stroke-width="3.2" stroke-linecap="round" d="M481.7 408.5l-0.1 0.2M487.8 324.5l-0.2 0.2M491.5 392.1l0.2 0.5M483.2 368.9l-0.5 -0.5M442.7 409.7l-0.1 -0.3M452.4 342.7l-0.3 -0.3M405.6 342.7l0.5 -0.2M436.2 338.9l-0.1 -0.6M406.8 413.2l-0.2 0.3M399.8 376.8l0.2 0.3M458.4 396.4l-0.3 0.1M488.3 379.4l-0.2 0.3M424.8 353.7l0.3 -0.3M475.5 332.5l-0.2 -0.5M447.5 404.4l-0.5 0.4M451.5 375.7l0.1 -0.5M405.8 387.3l0.1 0.1M487.5 341.8l-0.1 0.4M483.2 380.0l-0.6 0.3M472.0 322.1l-0.5 0.4M444.0 393.2l0.1 -0.5M441.2 353.9l0.5 0.4M472.0 332.3l-0.2 0.5M474.3 398.5l-0.6 0.2M434.5 387.0l-0.1 -0.3M484.8 350.0l0.5 -0.5M430.6 402.0l0.5 0.4M486.0 365.0l-0.4 -0.1M435.2 375.1l0.6 0.4M420.0 363.4l-0.0 -0.3M448.4 412.1l0.1 0.2M411.5 373.4l-0.1 -0.1M470.5 339.0l0.1 0.3M402.6 323.6l0.2 -0.6M404.4 399.6l0.1 -0.4M455.4 394.3l-0.5 -0.0M490.2 386.8l0.2 -0.0M467.9 330.9l0.4 0.5M484.2 343.2l-0.0 0.3M469.6 399.4l-0.3 0.1M403.2 400.5l-0.1 0.1M484.8 350.6l0.6 0.4M449.1 414.7l0.5 0.0M487.5 335.1l0.1 0.6M403.3 389.1l-0.4 0.4M489.5 348.1l0.6 0.3M402.5 373.9l0.6 -0.3M478.9 404.1l0.5 0.5M471.9 387.0l0.1 -0.5M474.8 342.0l0.3 0.2M429.0 411.7l0.5 -0.4M425.2 403.1l-0.0 0.3M441.4 377.6l-0.5 -0.3M401.4 387.5l-0.2 -0.4M439.4 414.1l-0.3 -0.1M425.5 402.8l-0.5 -0.1M402.7 330.8l0.4 -0.3M475.9 378.0l-0.4 -0.5M401.3 384.8l-0.6 0.3M402.4 414.7l0.6 -0.6M422.4 365.3l0.2 0.4M449.6 331.0l0.4 0.1M490.2 322.0l-0.2 -0.6M459.2 336.4l0.1 -0.4M427.8 386.2l0.5 -0.1M488.1 386.3l-0.0 -0.2M406.5 387.3l0.5 -0.6M453.9 401.2l-0.2 -0.4M470.7 377.6l-0.6 0.1M402.6 345.9l-0.3 -0.4M464.2 329.8l-0.4 0.6M439.9 400.3l-0.2 0.6M490.5 372.0l-0.4 -0.3M479.5 340.7l-0.1 0.6M482.0 412.6l-0.1 -0.6M455.6 353.5l-0.1 -0.3M412.5 400.4l0.5 -0.1M448.3 362.8l-0.1 -0.5M413.8 337.4l-0.3 -0.4M437.9 360.5l-0.3 0.0M480.3 413.0l-0.2 -0.3"/>
<path stroke="#9892dc" stroke-width="2.6" stroke-linecap="round" d="M428.3 331.0l0.6 -0.4M423.1 365.1l0.5 0.5M451.6 399.4l-0.3 0.4M453.4 346.4l-0.0 -0.3M471.9 357.3l0.3 -0.4M446.4 381.1l0.0 -0.4M490.6 365.1l0.4 -0.2M430.2 389.6l-0.5 -0.6M463.3 360.9l-0.4 0.1M438.8 358.3l-0.3 0.2M462.5 327.8l0.2 -0.1M477.2 368.3l-0.2 -0.3M430.0 407.9l-0.5 -0.2M414.0 377.5l0.4 -0.3M485.3 398.8l0.2 -0.2M468.5 329.3l-0.4 0.1M471.5 338.2l0.1 -0.2M449.5 402.9l-0.6 -0.1M402.2 401.8l0.2 0.1M458.3 342.5l0.5 0.3M419.8 367.9l-0.5 -0.5M492.1 343.4l0.2 -0.4M445.1 382.6l0.3 -0.4M450.9 363.5l0.3 0.4M408.2 387.8l-0.0 0.4M458.8 348.0l0.2 0.5M464.5 414.6l-0.6 0.0M401.1 351.9l0.3 0.2M475.2 334.6l0.5 0.3M451.7 375.1l-0.2 0.0M459.9 330.1l-0.0 0.3M486.9 341.5l-0.2 0.5M419.5 354.9l-0.3 -0.2M479.0 370.3l-0.4 0.5M482.9 382.6l-0.4 0.6M474.8 345.1l0.1 -0.3M426.2 357.1l-0.5 0.4M487.5 348.2l-0.2 0.6M436.5 369.2l0.4 -0.4M438.8 412.5l0.0 0.3M441.1 400.0l-0.6 0.3M486.5 376.2l-0.0 0.1M452.0 365.9l-0.0 0.2M478.5 321.3l-0.2 0.1M469.7 329.5l0.5 -0.0M448.4 361.0l0.2 -0.0M439.2 359.7l0.6 0.1M428.9 347.8l-0.3 0.0M468.9 393.1l0.2 0.1M443.4 398.1l-0.4 0.2M483.5 323.0l0.5 0.4M417.6 396.7l0.5 0.5M460.8 369.7l-0.5 -0.5M400.0 336.2l-0.3 0.1M442.6 352.8l0.0 -0.1M456.9 395.4l-0.3 0.4M437.0 359.2l0.2 -0.0M491.8 325.1l-0.5 -0.4M425.8 332.8l-0.1 0.2M411.9 343.9l-0.2 -0.1M476.1 406.9l0.2 -0.3M482.3 357.1l0.4 0.5M410.7 407.8l0.0 -0.4M487.9 335.2l0.4 0.1M425.5 372.6l0.3 -0.4M441.2 332.7l-0.4 -0.1M465.9 322.2l-0.6 -0.3M400.0 338.7l0.5 0.2M462.0 349.5l0.2 -0.1M453.1 354.3l0.5 -0.0M463.4 360.2l-0.5 0.2M462.3 322.8l-0.5 0.2"/>
<path stroke="#aaa4e2" stroke-width="2.6" stroke-linecap="round" d="M418.4 335.4l-0.6 -0.1M441.0 370.1l0.5 -0.6M444.3 389.1l-0.3 -0.2M432.4 394.0l0.4 -0.4M421.7 324.3l-0.5 -0.1M459.3 344.2l0.5 0.0M449.5 332.0l0.3 0.5M467.6 363.6l-0.4 0.1M422.8 354.5l0.1 -0.5M451.6 374.1l-0.1 -0.3M419.8 330.9l0.5 0.3M481.6 406.9l-0.0 0.5M436.6 392.2l-0.1 -0.2M403.4 372.4l0.1 0.5M445.9 335.5l0.6 -0.1M451.5 364.7l0.3 -0.2M453.3 414.4l-0.1 -0.3M446.9 366.6l-0.3 -0.4M480.1 371.2l0.4 -0.1M451.1 389.1l0.3 0.4M485.2 373.2l0.3 0.6M465.6 324.5l-0.3 0.3M401.4 388.4l-0.0 -0.2M424.2 338.3l0.4 -0.1M461.4 394.4l-0.4 0.3M442.3 368.1l0.0 0.2M477.4 388.5l-0.6 -0.6M404.9 393.8l-0.3 -0.3M467.5 395.5l-0.2 0.5M431.9 328.5l0.3 0.2M436.7 395.1l-0.5 0.5M424.8 399.2l0.3 0.4M411.0 384.1l0.2 0.3M412.5 350.6l-0.2 -0.3M432.2 335.9l-0.4 0.4M407.3 342.5l-0.0 0.4M427.9 398.2l0.4 0.2M435.5 405.1l0.4 0.4M451.4 345.1l0.1 0.1M433.0 394.7l0.3 0.4M465.5 325.5l-0.2 0.5M445.4 377.1l-0.5 -0.5M426.5 324.7l-0.5 0.3M405.0 328.1l0.3 -0.2M445.5 327.2l0.6 -0.4M485.1 325.8l0.4 0.5M406.4 336.2l-0.0 0.4M461.1 360.9l0.3 0.5M407.5 391.2l-0.3 0.2M408.7 369.3l0.6 -0.0M421.8 407.9l0.1 -0.3M443.9 384.5l-0.0 -0.5M460.7 399.3l-0.6 -0.5M401.8 365.3l-0.5 -0.6M448.0 400.1l0.4 0.1M416.5 403.4l0.1 -0.6M431.1 394.4l-0.4 -0.3M423.8 410.1l-0.1 -0.0M442.8 341.2l0.1 0.2M487.4 398.9l-0.4 -0.3M408.2 382.4l-0.4 0.2M460.8 395.7l0.5 -0.5M475.2 326.4l-0.3 0.1M419.1 395.1l-0.6 -0.1M486.6 328.3l0.5 0.5M434.1 371.2l-0.2 0.6M448.3 349.1l0.2 0.2M429.2 409.0l0.1 -0.4M443.3 349.5l-0.1 0.4M475.3 339.1l0.3 0.5M473.2 324.9l-0.3 0.2M437.9 382.7l0.4 -0.3M453.5 385.8l-0.1 -0.1M442.3 374.6l0.5 -0.0M453.2 410.4l0.3 -0.5M442.5 404.1l-0.5 0.4M454.0 387.2l0.3 0.4"/>
<path stroke="#8680d2" stroke-width="2.0" stroke-linecap="round" d="M441.8 382.3l0.6 0.5M428.7 359.8l0.3 -0.3M422.0 333.9l-0.6 -0.2M467.0 395.0l0.2 -0.5M449.6 326.6l-0.1 -0.4M405.9 390.4l0.1 -0.5M399.4 382.9l0.5 0.3M424.5 329.1l-0.4 -0.6M401.0 396.4l-0.1 -0.6M437.9 363.7l-0.1 0.3M399.8 410.6l0.0 0.3M435.5 400.1l-0.2 0.3M428.1 396.0l-0.0 -0.3M469.7 342.2l0.4 -0.1M415.4 356.7l-0.1 -0.1M482.5 393.9l0.5 -0.5M426.2 322.3l-0.5 -0.4M468.2 356.0l-0.5 -0.4M462.2 353.6l-0.1 0.5M414.4 396.9l-0.5 -0.6M442.9 329.7l-0.2 0.1M480.4 406.7l-0.6 0.3M457.0 407.4l-0.2 -0.6M457.9 407.9l0.4 0.5M475.2 364.2l-0.3 0.3M420.1 348.6l0.5 -0.3M446.3 369.7l-0.5 0.5M403.2 405.1l-0.6 -0.6M490.9 335.3l-0.4 0.5M454.4 387.2l0.2 -0.5M453.6 390.7l0.1 0.5M419.1 371.0l-0.5 0.4M489.1 399.5l-0.0 0.3M432.7 414.3l0.3 0.2M420.4 378.9l0.4 0.4M484.2 343.6l0.3 0.2M404.7 388.1l0.5 -0.0M473.9 325.1l-0.1 0.1M464.4 329.7l-0.5 -0.3M489.2 366.3l0.2 -0.2M453.8 397.1l0.1 0.5M441.3 382.7l-0.2 0.4M403.4 411.6l0.5 -0.1M461.9 324.9l-0.2 0.4M407.4 353.4l-0.1 -0.3M479.5 405.1l-0.4 0.5M429.7 364.2l-0.5 -0.2M452.6 405.2l0.3 0.0M476.6 373.5l-0.4 -0.2M448.3 337.5l-0.5 -0.5M446.6 377.8l0.5 0.5M408.4 382.7l-0.1 -0.4M402.6 412.1l0.2 0.5M454.1 364.6l0.5 0.0M427.2 401.3l-0.6 -0.0M429.5 386.8l-0.2 -0.5M485.7 398.5l0.4 0.4M452.0 385.3l0.5 0.3M421.5 405.6l0.2 -0.5M466.1 409.5l-0.3 0.1M485.8 392.4l-0.4 0.5M443.9 330.0l-0.4 0.5M445.0 401.2l-0.5 0.4M409.8 380.5l-0.2 0.3M474.6 371.1l-0.4 -0.0M428.5 343.2l-0.3 -0.5M488.2 403.1l-0.5 0.0M453.1 407.5l0.1 0.1"/>
<path stroke="#9892dc" stroke-width="3.2" stroke-linecap="round" d="M442.4 322.6l-0.6 0.3M457.1 354.3l-0.6 0.3M433.4 367.2l-0.4 -0.3M399.8 402.5l-0.4 -0.2M426.8 372.2l0.6 -0.0M407.4 369.6l0.3 -0.2M446.5 364.2l-0.2 -0.3M414.7 359.2l0.5 0.1M479.9 326.5l-0.3 0.4M467.6 401.6l-0.2 0.5M443.6 376.4l-0.5 -0.4M440.9 373.3l-0.2 -0.4M447.0 326.8l0.0 0.1M451.3 411.0l0.0 0.4M467.5 395.1l0.5 -0.3M448.7 326.9l-0.5 -0.6M419.5 326.9l-0.1 -0.6M420.2 409.7l0.5 -0.1M489.0 337.2l-0.5 0.2M477.1 402.0l-0.5 -0.4M491.7 402.0l-0.6 -0.1M436.4 338.3l-0.1 -0.2M399.8 339.0l0.6 -0.1M403.2 330.7l-0.1 -0.2M464.7 414.2l-0.3 -0.2M403.1 378.4l0.5 0.5M462.9 392.6l-0.1 -0.4M418.0 373.5l0.1 0.2M488.6 369.8l-0.5 0.3M419.2 382.3l-0.6 -0.4M478.4 409.2l0.3 0.6M424.4 414.6l-0.6 0.3M412.3 360.3l-0.3 -0.5M399.7 345.1l0.1 -0.4M451.4 322.4l-0.3 0.5M436.6 343.1l-0.6 0.3M438.2 322.5l0.0 0.3M441.2 350.0l-0.5 0.4M402.9 343.3l-0.2 0.3M441.0 394.6l0.3 -0.4M435.2 337.9l0.2 -0.2M416.8 327.7l-0.4 -0.1M412.6 350.2l-0.4 0.4M477.6 335.5l-0.2 0.2M422.6 322.0l-0.3 0.4M419.0 368.6l0.5 0.1M433.2 379.4l0.5 -0.3M415.4 404.0l-0.1 0.1M400.0 409.0l-0.6 -0.5M439.2 350.7l0.0 -0.3M462.2 358.7l-0.5 -0.1M470.0 352.7l0.5 -0.1M445.2 412.9l-0.1 -0.3M425.6 345.9l-0.4 0.4M432.2 352.1l-0.2 0.4M487.9 328.1l-0.0 0.2M409.7 325.8l0.1 0.3M415.1 411.1l0.3 -0.5M490.1 331.7l-0.1 -0.4M450.5 374.2l-0.6 -0.5M480.0 342.2l-0.6 0.1M480.3 331.9l-0.1 0.1M415.0 382.1l0.6 0.1M426.6 397.2l-0.3 -0.1M406.5 321.4l-0.2 -0.3M412.4 358.0l-0.1 0.2M482.7 348.4l-0.6 -0.0M472.0 344.0l0.4 0.0M446.1 359.4l-0.5 -0.6M432.8 366.9l-0.6 -0.5M433.4 322.2l-0.3 -0.2M483.3 338.0l-0.1 0.0M412.2 385.6l-0.1 -0.1M479.0 384.7l0.4 -0.3M490.3 331.2l0.1 0.6M460.6 410.9l0.5 -0.1M408.8 394.0l0.4 -0.1M440.7 389.4l-0.4 -0.5M417.4 358.5l0.5 0.2M420.9 350.9l-0.6 -0.5M486.3 369.7l0.2 -0.5M415.6 391.1l0.6 0.4M479.6 328.1l-0.1 -0.6M461.4 350.8l-0.2 0.2M490.4 357.3l0.1 -0.3M447.0 405.5l0.1 0.5M418.9 346.1l0.4 -0.4M451.6 397.9l0.4 -0.3M470.2 374.7l-0.0 0.4M415.2 376.8l0.1 0.1M420.7 343.1l-0.2 -0.4"/>
<path stroke="#8c80cc" stroke-width="2.6" stroke-linecap="round" d="M466.8 330.8l0.2 -0.3M416.5 326.4l-0.3 0.4M476.0 375.1l0.2 0.3M401.2 397.6l-0.2 0.0M434.7 353.7l-0.1 0.5M452.0 352.1l0.0 -0.4M404.9 347.3l0.1 0.6M424.9 413.1l-0.1 -0.2M410.6 371.3l-0.2 0.2M478.6 378.5l0.5 0.5M471.1 388.9l-0.4 -0.3M402.7 406.7l-0.5 0.2M485.2 401.6l-0.4 -0.4M449.3 382.8l0.1 -0.2M461.2 396.9l-0.5 0.3M472.1 325.7l-0.0 0.2M488.9 411.9l0.4 0.4M454.1 393.9l0.1 -0.4M421.7 344.4l0.4 -0.2M439.0 355.1l0.2 -0.1M440.4 394.6l-0.5 -0.5M465.2 325.4l0.1 -0.3M419.8 393.6l-0.3 0.3M490.1 400.9l0.5 0.3M489.9 411.8l-0.3 -0.1M434.2 363.5l0.5 0.3M487.6 334.2l0.2 -0.1M409.1 377.3l0.4 -0.1M403.8 401.7l0.4 -0.1M470.8 414.5l-0.2 -0.2M412.5 395.5l-0.2 0.1M441.1 339.5l0.2 -0.4M428.1 411.9l0.4 0.3M442.5 405.1l0.1 0.5M465.4 353.4l0.2 -0.4M398.6 351.4l-0.4 0.2M487.8 390.7l0.5 0.5M472.1 399.1l0.3 -0.3M415.0 373.1l-0.2 -0.5M447.9 398.9l0.0 -0.6M479.2 328.4l0.3 -0.0M419.4 407.0l-0.1 -0.0M421.7 356.7l-0.5 0.3M455.6 351.0l-0.0 0.5M449.5 350.4l-0.5 0.3M408.1 406.6l0.0 -0.0M482.1 396.2l-0.0 0.4M481.9 325.1l-0.3 0.0M471.4 372.9l-0.1 0.5M480.9 328.6l0.3 0.4M421.6 347.0l0.3 -0.2M399.3 395.7l0.5 -0.2M485.3 373.1l-0.3 -0.6M455.4 403.9l0.3 0.1M446.6 387.6l-0.1 -0.3"/>
<path stroke="#8680d2" stroke-width="3.2" stroke-linecap="round" d="M426.2 364.6l-0.4 -0.2M402.6 401.1l-0.3 0.6M412.4 400.8l-0.4 -0.0M446.4 363.1l-0.5 -0.3M411.6 401.5l0.1 0.5M428.8 337.5l0.4 0.3M437.7 333.6l-0.5 0.1M422.8 381.1l0.4 -0.4M416.2 394.4l-0.5 0.2M445.8 374.1l-0.3 0.2M442.7 407.0l-0.5 0.2M440.3 354.4l0.5 -0.5M439.0 353.0l0.1 -0.4M473.2 336.5l0.6 0.2M445.7 350.7l-0.2 0.4M424.4 341.2l-0.2 0.2M441.9 331.6l0.4 -0.5M474.0 372.7l-0.1 -0.3M411.3 342.8l-0.3 0.3M466.7 336.3l-0.1 -0.2M474.7 341.2l-0.5 -0.2M482.6 394.1l-0.2 -0.3M406.2 363.4l-0.3 -0.3M491.0 404.9l-0.5 0.1M475.3 387.7l-0.1 -0.0M399.8 347.1l-0.6 0.3M475.8 336.1l-0.5 0.4M425.8 357.4l0.0 0.1M451.7 326.5l0.6 -0.5M478.0 412.6l-0.1 0.5M444.3 369.4l0.3 -0.4M399.0 384.1l-0.2 0.5M437.5 374.4l0.4 -0.3M425.0 381.6l0.3 0.0M450.2 399.8l0.4 0.5M451.0 398.5l-0.1 0.4M447.9 355.8l-0.5 -0.5M411.0 328.2l-0.3 0.3M432.7 362.0l0.0 0.4M461.9 349.3l0.5 0.4M470.1 407.1l-0.5 -0.2M489.2 403.1l-0.2 -0.0M414.6 374.3l-0.0 -0.3M475.1 403.1l-0.5 -0.4M431.0 322.2l0.2 0.1M422.8 353.6l0.5 0.0M482.6 414.7l-0.2 0.4M488.9 362.0l0.1 0.4M458.7 350.6l0.3 -0.2M433.2 397.6l-0.6 -0.3M417.3 374.0l-0.3 0.0M484.0 364.2l0.1 -0.0M429.5 337.7l-0.3 0.4M458.7 377.5l0.4 0.6M490.1 345.3l0.3 0.5M400.3 362.5l-0.0 0.3M409.4 346.9l-0.5 -0.3M453.6 396.7l0.5 0.4M441.1 326.1l0.6 -0.2M423.4 356.8l-0.1 0.1M402.6 356.9l0.1 0.1M427.6 350.9l-0.6 -0.0M405.7 324.2l0.5 -0.2M418.1 396.6l0.1 0.3M468.2 394.6l-0.2 0.6M432.2 332.6l0.3 -0.4M477.3 399.0l0.5 -0.3M399.0 410.7l-0.1 -0.3M400.7 399.3l-0.1 -0.5M490.4 327.0l0.3 -0.0M440.4 345.5l0.3 0.5M443.7 333.6l-0.1 -0.6M465.3 342.4l0.3 -0.2M483.9 336.1l-0.1 -0.3M444.9 378.9l0.5 0.3M442.0 354.1l0.5 0.1M409.0 379.2l-0.6 -0.3M422.8 342.0l0.5 0.1M469.7 363.8l0.2 0.2M453.1 381.7l-0.6 0.3M420.5 333.4l-0.1 -0.0"/>
<path stroke="#7670c8" stroke-width="2.6" stroke-linecap="round" d="M487.6 321.3l-0.0 0.1M446.4 384.2l0.2 0.3M449.8 402.9l-0.6 -0.5M431.2 359.0l-0.1 -0.3M406.2 347.6l-0.1 -0.2M427.9 338.1l0.3 -0.5M471.2 386.6l0.3 -0.1M480.8 344.4l-0.5 0.4M438.0 355.0l-0.1 -0.6M403.9 322.5l0.5 0.5M410.4 398.6l-0.1 0.3M451.6 327.4l-0.0 0.5M480.7 397.7l-0.0 0.4M478.1 409.2l-0.6 0.0M440.7 334.0l-0.2 0.0M401.7 374.6l-0.0 -0.2M479.5 412.1l-0.5 0.0M484.8 331.4l-0.5 -0.6M480.2 390.0l-0.1 0.2M429.5 362.4l-0.2 -0.4M468.3 400.3l-0.3 -0.1M443.1 389.6l-0.5 -0.1M482.7 367.0l0.3 0.4M431.3 336.0l-0.1 -0.4M470.4 374.6l0.3 -0.4M401.9 381.5l0.5 0.1M409.0 349.9l0.1 -0.4M445.0 402.8l0.0 -0.2M412.2 410.8l0.6 -0.0M418.1 347.6l0.1 0.4M482.8 337.6l0.2 -0.3M464.7 407.9l-0.5 -0.6M449.6 378.3l-0.4 0.1M461.7 339.6l0.2 -0.2M428.6 325.1l-0.5 -0.5M403.6 354.9l-0.2 0.2M466.1 388.5l0.2 0.2M462.4 344.7l0.2 -0.4M448.5 409.6l0.3 0.2M434.5 374.1l-0.5 -0.3M420.4 406.9l0.1 -0.2M433.9 357.6l0.6 0.3M437.2 395.4l-0.5 0.1M428.3 358.2l0.1 0.4M476.1 343.6l0.6 0.4M418.1 405.1l0.2 0.2M468.8 401.3l-0.2 -0.3M473.9 368.5l0.5 -0.4M460.9 323.0l0.2 0.1M452.3 378.3l-0.1 0.2M482.5 330.3l-0.0 0.3M412.6 387.5l0.1 0.1M443.8 340.0l-0.2 0.2M406.1 396.6l0.1 -0.0M453.7 368.0l-0.6 -0.4M428.4 323.7l-0.3 -0.4M428.5 407.3l-0.0 -0.4M422.9 388.3l0.5 -0.2M429.2 343.7l-0.1 0.1M427.1 328.1l-0.3 -0.4M435.2 370.8l0.2 0.0M429.7 398.8l-0.5 0.6M408.3 378.4l-0.1 0.2M404.0 386.7l-0.2 0.1M425.5 325.1l-0.4 0.4M424.5 414.1l-0.5 -0.5M422.3 375.0l-0.2 0.3M458.3 404.7l0.3 -0.4M454.8 340.1l0.2 -0.3M442.4 359.6l0.4 -0.0"/>
<path stroke="#704a5a" stroke-width="2.3" stroke-linecap="round" d="M431.0 368.1h0.3"/>
<path stroke="#84566a" stroke-width="1.8" stroke-linecap="round" d="M449.5 344.3h0.3"/>
<path stroke="#704a5a" stroke-width="1.8" stroke-linecap="round" d="M490.6 373.0h0.3M439.2 350.0h0.3M482.6 343.5h0.3"/>
<path stroke="#704a5a" stroke-width="2.8" stroke-linecap="round" d="M439.4 411.9h0.3M448.1 378.5h0.3"/>
<path stroke="#6a4252" stroke-width="2.3" stroke-linecap="round" d="M459.3 357.7h0.3"/>
<path stroke="#7a4c5c" stroke-width="2.8" stroke-linecap="round" d="M482.2 378.7h0.3"/>
<path stroke="#84566a" stroke-width="2.3" stroke-linecap="round" d="M447.9 370.0h0.3"/>
</g></g>
<rect x="355.9" y="374.8" width="40.1" height="40.1" fill="#f3ecf4" stroke="#fff" stroke-width="1.2"/>
<g filter="url(#blurI)">
<ellipse cx="358.2" cy="378.9" rx="2.4" ry="2.8" fill="#6a5aa8"/>
<ellipse cx="368.9" cy="384" rx="4" ry="3.6" fill="#6a4a90"/>
<ellipse cx="384.7" cy="377.2" rx="3.2" ry="2.2" fill="#7a74c4"/>
<ellipse cx="389.2" cy="381.1" rx="2.4" ry="2.2" fill="#806080"/>
<ellipse cx="385.8" cy="395.2" rx="2.8" ry="4.2" fill="#7a4458"/>
<ellipse cx="362.1" cy="396.9" rx="3.4" ry="3.2" fill="#8678c8"/>
<ellipse cx="368.9" cy="393.5" rx="3" ry="2.8" fill="#9080cc"/>
<ellipse cx="376.2" cy="398" rx="3.2" ry="3.4" fill="#7c6cc2"/>
<ellipse cx="368.9" cy="405.4" rx="4.4" ry="3.4" fill="#5e3462"/>
<ellipse cx="390.9" cy="408.2" rx="4.2" ry="4.2" fill="#8484dc"/>
<ellipse cx="357.6" cy="407" rx="1.6" ry="1.6" fill="#8a84d0"/>
</g>
<rect x="320.1" y="347.3" width="19.9" height="19.4" fill="none" stroke="#222" stroke-width="0.8"/>
<rect x="307.20" y="408.80" width="28.60" height="1.80" fill="#111" stroke="none" stroke-width="0.7"/>
<rect x="403.00" y="408.20" width="28.40" height="1.80" fill="#111" stroke="none" stroke-width="0.7"/>
</svg>
</body></html>
